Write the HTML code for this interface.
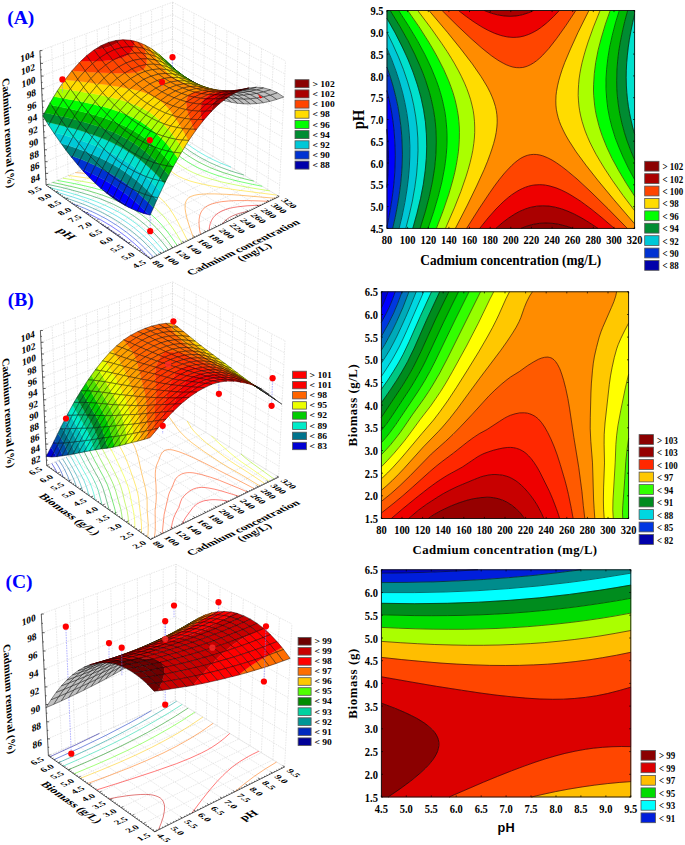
<!DOCTYPE html><html><head><meta charset="utf-8"><style>html,body{margin:0;padding:0;background:#fff}svg{display:block}text{font-family:"Liberation Serif",serif}.a0{fill:#0000aa;stroke:#0000aa;stroke-width:.3}.a1{fill:#0000ff;stroke:#0000ff;stroke-width:.3}.a2{fill:#0032d2;stroke:#0032d2;stroke-width:.3}.a3{fill:#008080;stroke:#008080;stroke-width:.3}.a4{fill:#00c8d7;stroke:#00c8d7;stroke-width:.3}.a5{fill:#00e1cd;stroke:#00e1cd;stroke-width:.3}.a6{fill:#008c32;stroke:#008c32;stroke-width:.3}.a7{fill:#00b900;stroke:#00b900;stroke-width:.3}.a8{fill:#00ff00;stroke:#00ff00;stroke-width:.3}.a9{fill:#aaff00;stroke:#aaff00;stroke-width:.3}.a10{fill:#ffdc00;stroke:#ffdc00;stroke-width:.3}.a11{fill:#ff8c00;stroke:#ff8c00;stroke-width:.3}.a12{fill:#ff4500;stroke:#ff4500;stroke-width:.3}.a13{fill:#ee0000;stroke:#ee0000;stroke-width:.3}.a14{fill:#aa0000;stroke:#aa0000;stroke-width:.3}.a15{fill:#8b0000;stroke:#8b0000;stroke-width:.3}.b0{fill:#0000d2;stroke:#0000d2;stroke-width:.3}.b1{fill:#0028be;stroke:#0028be;stroke-width:.3}.b2{fill:#0050a5;stroke:#0050a5;stroke-width:.3}.b3{fill:#00738c;stroke:#00738c;stroke-width:.3}.b4{fill:#009ba5;stroke:#009ba5;stroke-width:.3}.b5{fill:#00c3be;stroke:#00c3be;stroke-width:.3}.b6{fill:#00ebc8;stroke:#00ebc8;stroke-width:.3}.b7{fill:#00c378;stroke:#00c378;stroke-width:.3}.b8{fill:#008c28;stroke:#008c28;stroke-width:.3}.b9{fill:#00cd00;stroke:#00cd00;stroke-width:.3}.b10{fill:#50e100;stroke:#50e100;stroke-width:.3}.b11{fill:#a0f000;stroke:#a0f000;stroke-width:.3}.b12{fill:#ebff00;stroke:#ebff00;stroke-width:.3}.b13{fill:#ffd700;stroke:#ffd700;stroke-width:.3}.b14{fill:#ffa000;stroke:#ffa000;stroke-width:.3}.b15{fill:#ff6400;stroke:#ff6400;stroke-width:.3}.b16{fill:#ff3700;stroke:#ff3700;stroke-width:.3}.b17{fill:#ff1900;stroke:#ff1900;stroke-width:.3}.b18{fill:#fa0000;stroke:#fa0000;stroke-width:.3}.b19{fill:#ff0000;stroke:#ff0000;stroke-width:.3}.k0{fill:#000096;stroke:#000096;stroke-width:.3}.k1{fill:#0028be;stroke:#0028be;stroke-width:.3}.k2{fill:#009696;stroke:#009696;stroke-width:.3}.k3{fill:#00d2a0;stroke:#00d2a0;stroke-width:.3}.k4{fill:#008c00;stroke:#008c00;stroke-width:.3}.k5{fill:#50ff00;stroke:#50ff00;stroke-width:.3}.k6{fill:#ffc800;stroke:#ffc800;stroke-width:.3}.k7{fill:#ff6e00;stroke:#ff6e00;stroke-width:.3}.k8{fill:#ff0000;stroke:#ff0000;stroke-width:.3}.k9{fill:#c80000;stroke:#c80000;stroke-width:.3}.k10{fill:#6e0000;stroke:#6e0000;stroke-width:.3}.g{fill:#c0c0c0}.c{stroke:#000;stroke-width:.42}.o{fill:none;stroke:#000;stroke-width:.42}</style></head><body><svg width="685" height="845" viewBox="0 0 685 845"><rect width="685" height="845" fill="#fff"/><g shape-rendering="geometricPrecision">
<path d="M387 187.3l0.5-5.5l0.6-8.2l0.4-15.1l-0.1-8.2l-0.3-6.9l-1.1-14.1l0 58z" fill="#0000aa" stroke="#0000aa" stroke-width="0.6"/>
<path d="M387 225.7l0 0.9l0.8-3.7l2.6-13.7l1.5-9.6l1.3-9.6l1-9.6l0.6-8.2l0.3-8.2l0.2-8.2l-0.2-8.3l-0.4-8.2l-0.6-8.2l-0.9-8.2l-1.2-8.2l-1.4-8.3l-1.8-8.2l-1.8-7.6l0 38.7l1.1 14.1l0.3 6.9l0.1 8.2l-0.4 15.1l-1.1 14.3l0 37.8z" fill="#0000ff" stroke="#0000ff" stroke-width="0.6"/>
<path d="M387 228.4l5.7 0l3.1-13.7l2.9-16.4l2-15.1l1.3-15.1l0.3-8.2l0.1-6.9l-0.3-10.9l-0.7-11l-1.3-11l-1.5-9.6l-2.2-10.9l-2.6-11l-3.2-10.9l-3.6-10.6l0 23.5l1.8 7.6l1.8 8.2l1.4 8.3l1.2 8.2l0.9 8.2l0.6 8.2l0.4 8.2l0.2 8.3l-0.2 8.2l-0.3 8.2l-0.6 8.2l-0.8 8.3l-1.1 8.2l-1.2 8.2l-1.9 11l-2.2 10.5l0 1.8z" fill="#0032d2" stroke="#0032d2" stroke-width="0.6"/>
<path d="M392.7 228.4l6.4 0l2.7-11l2-9.6l1.6-8.2l1.3-8.2l1.2-8.2l0.9-8.2l0.6-8.3l0.4-8.2l0.1-8.2l-0.1-6.9l-0.6-10.9l-1.3-12.4l-1.7-10.9l-2.6-12.4l-3.3-12.3l-3.5-11l-4.5-12.3l-5.3-12.8l0 18.7l3.6 10.6l2.8 9.5l2.4 9.6l2.1 9.6l1.6 9.6l1.3 9.6l0.9 9.6l0.5 9.6l0.2 9.6l-0.2 9.6l-0.6 9.6l-1 10.9l-1.5 11l-1.8 11l-2.1 10.9l-2.5 11z" fill="#008080" stroke="#008080" stroke-width="0.6"/>
<path d="M399.1 228.4l6.7 0l3.8-15.1l3-13.7l1.8-9.6l1.2-8.2l1-8.2l0.8-8.2l0.4-8.3l0.2-8.2l-0.1-8.2l-0.3-6.9l-1.2-12.3l-1.9-12.3l-2.6-12.4l-3.4-12.3l-4.1-12.3l-5.3-13.7l-5.4-12.4l-6.7-13.6l0 15.9l4.8 11.4l4.1 11l3.6 11l3.1 10.9l2.5 11l2 11l1.5 10.9l0.9 11l0.4 10.9l-0.1 11l-0.6 11l-1 10.9l-1.5 11l-2.1 12.3l-2.5 12.4l-3 12.3z" fill="#00c8d7" stroke="#00c8d7" stroke-width="0.6"/>
<path d="M405.8 228.4l7 0l4.9-17.8l2.3-9.6l1.7-8.2l1.8-9.6l1.2-8.2l0.9-8.3l0.7-8.2l0.4-8.2l0-8.2l-0.3-8.3l-0.5-6.8l-0.7-6.9l-1-6.8l-2.4-12.4l-3.2-12.3l-2.1-6.8l-2.4-6.9l-2.6-6.8l-2.8-6.9l-6.2-13.7l-6.9-13.7l-8.6-15.4l0 14.1l6 12.3l5.5 12.3l4.9 12.3l4.2 12.4l3.6 12.3l2.5 11l1.9 10.9l1.5 12.4l0.7 10.9l0.2 12.4l-0.5 10.9l-1 12.4l-1.7 12.3l-2.4 13.7l-3.1 13.7l-3.5 13.7zM634.5 133.8l0.1-119.6l-2 8.6l-1.7 8.3l-1.5 8.2l-1 6.8l-1 8.3l-0.6 6.8l-0.4 8.2l-0.2 6.9l0.2 8.2l0.3 6.9l0.7 6.8l0.8 6.9l1.1 6.8l1.4 6.9l1.6 6.8l2.2 8.2z" fill="#00e1cd" stroke="#00e1cd" stroke-width="0.6"/>
<path d="M412.8 228.4l7.3 0l3.5-11l3.1-10.9l2.5-9.6l2.1-9.6l1.8-9.6l1.3-8.2l0.9-8.3l0.7-8.2l0.3-8.2l-0.1-8.2l-0.4-8.2l-0.8-8.3l-1-6.8l-1.2-6.9l-1.5-6.8l-1.8-6.9l-2.5-8.2l-2.4-6.8l-2.6-6.9l-3.4-8.2l-4.4-9.6l-5.6-11l-5.2-9.6l-7.3-12.3l-5.9-9.6l-3.2 0l0 7.9l8.6 15.4l7.6 15.1l3.2 6.8l3.5 8.2l2.7 6.9l2.5 6.9l3.5 10.9l2.9 11l2.2 10.9l1.7 11l1 12.3l0.3 12.4l-0.4 12.3l-1.1 12.3l-1.9 13.7l-2.7 13.8l-3.6 15l-4.2 15.1zM634.6 159.9l0-25.8l-2-7.1l-1.6-6.9l-1.4-6.8l-1.2-6.9l-0.9-6.8l-0.7-6.9l-0.4-6.8l-0.2-8.2l0.1-6.9l0.3-6.9l0.6-6.8l0.9-8.2l1.1-8.3l1.4-8.2l2-9.6l2-8.6l0-3.7l-6.9 0l-3 11l-2.2 9.6l-2.2 10.9l-1.6 9.6l-1.1 9.6l-0.7 9.6l-0.2 9.6l0.1 8.2l0.6 8.2l1 8.3l1.3 8.2l2.1 9.6l2.6 9.6l2.6 8.2l3.6 9.6l4 9.6z" fill="#008c32" stroke="#008c32" stroke-width="0.6"/>
<path d="M420.1 228.4l7.9 0l3.8-11l3.9-12.3l3.1-11l2.8-10.9l1.9-9.6l1.4-8.2l1.1-8.3l0.8-9.6l0.2-8.2l-0.1-8.2l-0.5-6.9l-0.9-8.2l-1.4-8.2l-1.5-6.9l-2.2-8.2l-2.6-8.2l-3.1-8.2l-3.4-8.2l-3.8-8.3l-4.2-8.2l-4.4-8.2l-6.4-11l-5.9-9.6l-8-12.3l-8.4 0l10 16.4l7.7 13.7l6.9 13.8l5.5 12.3l2.8 6.8l2.5 6.9l3.9 12.3l1.8 6.9l1.2 5.5l1.1 5.4l1.1 6.9l0.8 6.8l0.4 5.5l0.3 5.5l0.1 6.9l-0.4 12.3l-0.6 6.8l-0.7 6.9l-2.2 13.7l-3.2 15.1l-4 15.1l-5.1 16.4zM634.3 179.1l0.3 0.5l0-19.6l-3.5-8.3l-3.1-8.3l-2.3-6.8l-2.5-8.2l-1.7-6.9l-1.8-8.2l-1.3-8.2l-1-8.3l-0.6-9.6l-0.1-10.9l0.4-9.6l1.1-11l1.6-10.9l2.1-11l2.5-11l3.3-12.3l-8.4 0l-3.8 12.3l-3.2 12.4l-2.7 12.3l-1.8 11l-1.2 10.9l-0.6 9.6l0 9.6l0.6 9.6l1.1 9.6l1.8 9.6l2.4 9.6l3 9.6l3.5 9.6l4.7 10.9l5.3 11l5.9 11z" fill="#00b900" stroke="#00b900" stroke-width="0.6"/>
<path d="M428 228.4l8.4 0l4.8-12.3l4.4-12.4l3.6-10.9l3.2-11l2.4-9.6l1.7-8.2l1.3-8.2l1-8.3l0.5-8.2l0.1-8.2l-0.3-6.9l-0.8-8.2l-1.4-8.2l-1.9-8.2l-2-6.9l-2.9-8.2l-3.3-8.2l-3.1-6.9l-4.1-8.2l-5.2-9.6l-5.7-9.6l-6-9.6l-7.3-10.9l-7.7-11l-9.1 0l9.8 15.1l9 15l7.4 13.8l3.3 6.8l3.2 6.9l5 12.3l2.4 6.8l1.7 5.5l1.9 6.9l1.2 5.5l1.4 6.8l0.8 5.5l0.7 6.8l0.4 5.5l0.2 5.5l0 6.9l-0.2 5.4l-0.5 6.9l-0.8 6.8l-1 6.9l-2.6 13.7l-3.8 15.1l-4.5 15.1l-5.6 16.4zM634.2 195.5l0.4 0.7l0-16.6l-5.5-10.1l-4.7-9.6l-4.3-9.6l-3.8-9.6l-3.2-9.6l-2.6-9.6l-1.8-8.2l-1.5-9.6l-0.9-9.6l-0.4-11l0.5-10.9l1-11l2-12.3l2.6-12.4l3.2-12.3l4.1-13.7l-9.1 0l-4.8 13.7l-4.1 13.7l-3.2 12.3l-2.4 12.4l-1.4 10.9l-0.7 11l-0.1 5.5l0.2 5.5l0.9 9.6l0.8 5.4l1.1 5.5l2.4 9.6l1.7 5.5l1.9 5.5l4.4 10.9l5.2 11l5.9 11l8.2 13.7l8 12.3z" fill="#00ff00" stroke="#00ff00" stroke-width="0.6"/>
<path d="M436.4 228.4l9.1 0l6-13.7l5.1-12.3l4.8-12.4l3.9-10.9l2.9-9.6l2.2-8.3l1.8-8.2l1.4-8.2l0.9-8.2l0.3-6.9l-0.3-8.2l-0.7-6.8l-1.5-8.3l-1.7-6.8l-2.2-6.9l-2.7-6.8l-3.7-8.2l-4.2-8.3l-4.7-8.2l-5-8.2l-6.4-9.6l-7.6-11l-7-9.6l-9.4-12.3l-10 0l11.4 16.4l9.6 15.1l4.1 6.9l4.6 8.2l6.3 12.3l4.8 11l2.6 6.8l1.9 5.5l2 6.9l1.3 5.5l1.1 5.4l0.9 5.5l0.6 5.5l0.4 5.5l0.1 5.5l-0.1 6.8l-0.3 5.5l-0.6 6.9l-1 6.8l-1.2 6.9l-1.4 6.8l-1.7 6.9l-1.9 6.8l-2.4 8.2l-5.6 16.5l-6.8 17.8zM634.5 210.6l0.1 0.1l0-14.5l-8.4-13l-6.6-11l-6.1-11l-5.3-10.9l-4.2-9.6l-3.9-11l-2.7-9.6l-2-9.6l-0.8-5.4l-0.6-5.5l-0.3-5.5l-0.2-5.5l0.1-5.5l0.3-5.4l0.7-6.9l0.7-5.5l2.2-12.3l3.4-13.7l4.1-13.7l5.2-15.1l-10.1 0l-6.6 16.4l-5.4 15.1l-2.2 6.9l-2 6.8l-1.8 6.9l-1.2 5.5l-1 5.4l-0.8 5.5l-0.5 5.5l-0.3 5.5l-0.1 5.5l0.3 5.4l0.5 5.5l0.6 4.1l1.1 5.5l1.4 5.5l1.7 5.5l1.4 4.1l2.2 5.5l2.4 5.5l3.4 6.8l2.9 5.5l4 6.8l4.2 6.9l8.1 12.3l10.7 15.1l11.4 15.1z" fill="#aaff00" stroke="#aaff00" stroke-width="0.6"/>
<path d="M445.5 228.4l9.9 0l14.7-28.8l6.6-13.7l5.1-10.9l4.6-11l3.7-9.6l2.4-6.9l2.3-8.2l1.4-6.8l0.8-6.9l0.2-6.8l-0.5-5.5l-1.3-6.9l-1.7-5.5l-2.8-6.8l-2.7-5.5l-3.9-6.8l-5.2-8.3l-5.8-8.2l-7.2-9.6l-8.6-10.9l-7.8-9.6l-20.7-24.7l-11.3 0l13.4 17.8l10.6 15.1l5.5 8.2l4.3 6.9l3.2 5.4l3.8 6.9l2.8 5.5l3.2 6.8l2.3 5.5l2 5.5l1.8 5.5l1.4 5.5l1.2 5.4l0.8 5.5l0.5 5.5l0.2 5.5l0 5.5l-0.3 5.5l-0.6 5.4l-1 6.9l-1.1 5.5l-1.6 6.8l-1.9 6.9l-2.1 6.8l-5.2 15.1l-6.5 16.4l-8.9 20.6zM633.8 222.9l0.8 1l0-13.2l-11.5-15.2l-10.7-15.1l-8.1-12.3l-7.4-12.3l-5.1-9.6l-2.6-5.5l-2.4-5.5l-2.1-5.5l-1.8-5.5l-1.5-5.4l-1-4.1l-1-5.5l-0.7-5.5l-0.4-5.5l-0.1-5.5l0.2-5.5l0.4-5.4l0.7-5.5l1.2-6.9l1.4-6.8l1.4-5.5l1.9-6.9l2.2-6.8l5.4-15.1l7.1-17.8l-11.2 0l-10.9 21.9l-7.5 16.5l-5.8 13.7l-2.5 6.8l-1.8 5.5l-1.6 5.5l-1.3 5.5l-1 5.5l-0.5 4.1l-0.2 5.4l0.1 4.2l0.4 4.1l0.8 4.1l1 4.1l1.3 4.1l1.6 4.1l2.6 5.5l2.1 4.1l3.2 5.5l7.1 11l10.1 13.7l11.8 15l15.9 19.2l20 23.3z" fill="#ffdc00" stroke="#ffdc00" stroke-width="0.6"/>
<path d="M455.4 228.4l11.2 0l12.3-19.4l10.9-16.3l4.6-6.6l4.7-6.3l4.7-5.8l3.1-3.5l4.7-4.9l3.1-2.8l3.1-2.5l3.1-2.1l3.1-1.6l3.2-1.2l3.1-0.7l3.1-0.3l3.1 0.1l3.1 0.5l3.1 0.8l3.1 1.2l3.2 1.4l4.6 2.6l3.1 2l4.7 3.3l6.2 4.8l6.3 5.2l6.2 5.5l7.8 7.2l17.1 16.7l22.3 22.7l7.3 0l0-4.5l-20.8-24.3l-17-20.5l-12.8-16.5l-5.1-6.8l-4.7-6.9l-6.1-9.6l-3.1-5.5l-2.1-4.1l-1.9-4.1l-1.6-4.1l-1.3-4.1l-1-4.1l-0.8-4.1l-0.4-4.1l-0.1-4.2l0.2-5.4l0.5-4.1l1-5.5l1.3-5.5l1.6-5.5l1.8-5.5l2.5-6.8l5.8-13.7l7.5-16.5l10.9-21.9l-13.1 0l-9.7 14.7l-9.4 13.2l-7.7 9.9l-6.3 6.9l-3.1 3l-3.1 2.6l-3.1 2.2l-3.1 1.8l-3.1 1.4l-3.2 1l-1.5 0.3l-3.1 0.2l-3.1-0.1l-3.2-0.5l-3.1-0.9l-3.1-1.2l-3.1-1.5l-4.7-2.6l-3.1-2l-4.7-3.3l-9.3-7.4l-10.9-9.6l-14-13.2l-15-14.9l-13.1 0l18.5 21.9l13.3 16.5l11.5 15l8.6 12.4l3.4 5.5l3.2 5.4l2.8 5.5l1.8 4.1l1.6 4.1l1.7 5.5l0.9 4.1l0.6 4.2l0.3 4.1l0 4.1l-0.3 4.1l-0.7 5.5l-1.1 5.5l-1.4 5.4l-1.7 5.5l-1.9 5.5l-2.5 6.8l-3.4 8.3l-7.5 16.4l-9.3 19.2l-12 23.3z" fill="#ff8c00" stroke="#ff8c00" stroke-width="0.6"/>
<path d="M466.6 228.4l13.1 0l8.5-10.6l7.8-8.8l4.7-4.7l3.1-3l4.7-4l3.1-2.4l4.7-3.1l3.1-1.8l3.1-1.5l3.1-1.3l3.1-1l3.1-0.8l3.1-0.4l4.7-0.3l3.1 0.1l3.1 0.4l3.2 0.6l4.6 1.3l3.1 1l4.7 2l4.7 2.3l4.7 2.6l9.3 5.9l10.9 8l10.9 8.8l12.4 10.7l13 0l-19.2-19.6l-17.1-16.8l-14-13l-10.9-9.1l-4.7-3.6l-4.7-3.3l-4.6-2.9l-4.7-2.4l-4.7-1.9l-3.1-0.8l-3.1-0.5l-3.1-0.1l-3.1 0.3l-3.1 0.7l-3.2 1.2l-3.1 1.6l-3.1 2.1l-3.1 2.5l-3.1 2.8l-4.7 4.9l-3.1 3.5l-4.7 5.8l-4.7 6.3l-4.6 6.6l-10.9 16.3l-12.3 19.4zM511.7 66.7l4.6 0.9l3.1 0.1l3.1-0.2l3.1-0.8l3.1-1.1l3.1-1.6l3.1-2l4.7-3.8l3.1-3l4.7-5.1l3.1-3.6l4.7-6l9.3-13l11.3-17l-16.5 0l-5.7 6l-6.2 5.8l-6.2 5l-3.1 2.2l-3.2 1.9l-3.1 1.6l-3.1 1.4l-4.7 1.6l-4.6 1l-3.1 0.3l-3.2 0.1l-3.1-0.2l-3.1-0.4l-3.1-0.6l-3.1-0.8l-6.3-2.2l-6.2-2.8l-6.2-3.4l-7.8-4.9l-7.8-5.5l-7.9-6.1l-16.4 0l13.4 13.4l10.9 10.4l9.4 8.5l9.3 8l7.8 6l6.2 4.1l6.2 3.4l3.2 1.3l3.2 1.1z" fill="#ff4500" stroke="#ff4500" stroke-width="0.6"/>
<path d="M479.7 228.4l16.3 0l6.2-5.5l6.3-4.8l6.2-4l4.7-2.6l6.2-2.6l4.7-1.5l6.2-1.2l6.2-0.4l6.3 0.3l6.2 1.1l6.2 1.6l6.2 2.3l6.3 2.8l7.8 4.1l7.7 4.7l8.6 5.7l16.3 0l-12.4-10.7l-10.9-8.8l-10.9-8l-9.3-5.9l-4.7-2.6l-4.7-2.3l-4.7-2l-3.1-1l-4.6-1.3l-3.2-0.6l-3.1-0.4l-3.1-0.1l-4.7 0.3l-3.1 0.4l-3.1 0.8l-3.1 1l-3.1 1.3l-3.1 1.5l-3.1 1.8l-4.7 3.1l-3.1 2.4l-4.7 4l-3.1 3l-4.7 4.7l-7.8 8.8l-8.5 10.6zM505.3 36.5l3.2 0.6l4.6 0.3l3.2-0.1l3.1-0.3l3.1-0.6l3.1-0.9l3.1-1.1l3.1-1.4l3.1-1.6l3.2-1.9l6.2-4.5l3.1-2.7l4.7-4.3l7.2-7.5l-25.6 0l-5 2.2l-6.2 2l-3.1 0.7l-3.1 0.5l-6.3 0.4l-6.2-0.4l-6.2-1l-6.3-1.7l-7.1-2.7l-25.7 0l7.9 6.1l6.2 4.4l6.3 4.1l6.2 3.7l6.2 3.1l4.7 2l4.7 1.5l4.6 1.1z" fill="#ee0000" stroke="#ee0000" stroke-width="0.6"/>
<path d="M496 228.4l25 0l6.2-2.4l6.2-1.7l6.2-1l6.2-0.3l6.3 0.3l6.2 0.9l7.8 1.9l6.9 2.3l25 0l-8.6-5.7l-7.7-4.7l-7.8-4.1l-6.3-2.8l-6.2-2.3l-6.2-1.6l-6.2-1.1l-6.3-0.3l-6.2 0.4l-6.2 1.2l-4.7 1.5l-6.2 2.6l-4.7 2.6l-6.2 4l-6.3 4.8l-6.2 5.5zM504.2 16l4.3 0.3l3.1 0l4.7-0.4l3.1-0.5l4.6-1.1l3.2-1l3.1-1.2l3.4-1.6l-49.5 0l5.6 2.2l4.6 1.4l4.7 1.1l5.1 0.8z" fill="#aa0000" stroke="#aa0000" stroke-width="0.6"/>
<path d="M521 228.4l52 0l-6.9-2.3l-7.8-1.9l-6.2-0.9l-6.3-0.3l-6.2 0.3l-6.2 1l-6.2 1.7l-6.2 2.4z" fill="#8b0000" stroke="#8b0000" stroke-width="0.6"/>
<path d="M387 129.3l1.1 14.1l0.3 6.9l0.1 8.2l-0.4 15.1l-1.1 14.3M387 90.6l1.8 7.6l1.8 8.2l1.4 8.3l1.2 8.2l0.9 8.2l0.6 8.2l0.4 8.2l0.2 8.3l-0.2 8.2l-0.3 8.2l-0.6 8.2l-1 9.6l-1.1 8.3l-1.5 9.5l-1.7 9.6l-1.9 9.2M387 67.1l3.6 10.6l2.8 9.5l2.4 9.6l2.1 9.6l1.6 9.6l1.3 9.6l0.9 9.6l0.5 9.6l0.2 9.6l-0.2 9.6l-0.6 9.6l-1 10.9l-1.5 11l-1.8 11l-2.1 10.9l-2.5 11M387 48.4l4.8 11.4l4.1 11l3.6 11l3.1 10.9l2.2 9.6l2.1 11l1.5 10.9l1 11l0.5 11l-0.1 10.9l-0.5 11l-1 11l-1.4 10.9l-2 12.4l-2.8 13.7l-3 12.3M387 32.5l6 12.3l5.5 12.3l4.9 12.3l4.2 12.4l3.6 12.3l2.5 11l1.9 10.9l1.4 11l0.8 11l0.2 12.3l-0.5 12.3l-1 12.4l-1.7 12.3l-2.4 13.7l-3.1 13.7l-3.5 13.7M634.6 134.1l-2-7.1l-1.6-6.9l-1.4-6.8l-1.2-6.9l-0.9-6.8l-0.7-6.9l-0.4-6.8l-0.2-8.2l0.1-6.9l0.4-8.2l0.6-6.9l0.9-8.2l1.2-8.2l1.5-8.2l1.7-8.3l2-8.6M387 18.4l7.9 14l7 13.7l6.3 13.7l4.9 12.4l4.2 12.3l3.5 12.3l2.7 12.4l1.9 12.3l1 12.3l0.3 12.4l-0.4 12.3l-1.1 12.3l-1.9 13.7l-2.7 13.8l-3.6 15l-4.2 15.1M634.6 160l-4-9.7l-3.6-9.6l-2.6-8.2l-2.6-9.6l-2.1-9.6l-1.3-8.2l-1-8.3l-0.6-8.2l-0.1-8.2l0.2-9.6l0.7-9.6l1.1-9.6l1.6-9.6l2.2-10.9l2.2-9.6l3-11M390.2 10.5l10 16.4l7.7 13.7l6.9 13.8l5.5 12.3l2.8 6.8l2.5 6.9l3.9 12.3l1.8 6.9l1.2 5.5l1.1 5.4l1.1 6.9l0.8 6.8l0.4 5.5l0.3 5.5l0.1 6.9l-0.4 12.3l-0.6 6.8l-0.7 6.9l-2.2 13.7l-3.2 15.1l-4 15.1l-5.1 16.4M634.6 179.6l-6.2-11.5l-5.3-11l-4.1-9.6l-3.7-9.5l-3.4-11l-2.4-9.6l-1.8-9.6l-1.1-9.6l-0.6-9.6l0-9.6l0.6-9.6l1.2-10.9l1.8-11l2.7-12.3l3.2-12.4l3.8-12.3M398.6 10.5l9.8 15.1l9 15l7.4 13.8l3.3 6.8l3.2 6.9l5 12.3l2.4 6.8l1.7 5.5l1.9 6.9l1.2 5.5l1.4 6.8l0.8 5.5l0.7 6.8l0.4 5.5l0.2 5.5l0 6.9l-0.2 5.4l-0.5 6.9l-0.8 6.8l-1 6.9l-2.6 13.7l-3.8 15.1l-4.5 15.1l-5.6 16.4M634.6 196.2l-8.4-13l-7.4-12.4l-6.7-12.3l-5.2-11l-4.4-10.9l-1.9-5.5l-1.7-5.5l-2.4-9.6l-1.1-5.5l-0.8-5.4l-0.9-9.6l-0.2-5.5l0.1-5.5l0.7-11l1.4-10.9l2.4-12.4l3.2-12.3l4.1-13.7l4.8-13.7M407.7 10.5l11.4 16.4l9.6 15.1l4.1 6.9l4.6 8.2l6.3 12.3l4.8 11l2.6 6.8l1.9 5.5l2 6.9l1.3 5.5l1.1 5.4l0.9 5.5l0.6 5.5l0.4 5.5l0.1 5.5l-0.1 6.8l-0.3 5.5l-0.6 6.9l-1 6.8l-1.2 6.9l-1.4 6.8l-1.7 6.9l-1.9 6.8l-2.4 8.2l-5.6 16.5l-6.8 17.8M634.6 210.7l-11.5-15.2l-10.7-15.1l-8.1-12.3l-4.2-6.9l-4-6.8l-2.9-5.5l-3.4-6.8l-2.4-5.5l-2.2-5.5l-1.4-4.1l-1.7-5.5l-1.4-5.5l-1.1-5.5l-0.6-4.1l-0.5-5.5l-0.3-5.4l0.1-5.5l0.3-5.5l0.5-5.5l0.8-5.5l1-5.4l1.2-5.5l1.8-6.9l2-6.8l2.2-6.9l5.4-15.1l6.6-16.4M417.7 10.5l13.4 17.8l10.6 15.1l5.5 8.2l4.3 6.9l3.2 5.4l3.8 6.9l2.8 5.5l3.2 6.8l2.3 5.5l2 5.5l1.8 5.5l1.4 5.5l1.2 5.4l0.8 5.5l0.5 5.5l0.2 5.5l0 5.5l-0.3 5.5l-0.6 5.4l-1 6.9l-1.1 5.5l-1.6 6.8l-1.9 6.9l-2.1 6.8l-5.2 15.1l-6.5 16.4l-8.9 20.6M634.6 223.9l-20.8-24.3l-15.9-19.2l-11.8-15l-10.1-13.7l-7.1-11l-3.2-5.5l-2.1-4.1l-2.6-5.5l-1.6-4.1l-1.3-4.1l-1-4.1l-0.8-4.1l-0.4-4.1l-0.1-4.2l0.2-5.4l0.5-4.1l1-5.5l1.3-5.5l1.6-5.5l1.8-5.5l2.5-6.8l5.8-13.7l7.5-16.5l10.9-21.9M429 10.5l18.5 21.9l13.3 16.5l11.5 15l8.6 12.4l3.4 5.5l3.2 5.4l2.8 5.5l1.8 4.1l1.6 4.1l1.7 5.5l0.9 4.1l0.6 4.2l0.3 4.1l0 4.1l-0.3 4.1l-0.7 5.5l-1.1 5.5l-1.4 5.4l-1.7 5.5l-1.9 5.5l-2.5 6.8l-3.4 8.3l-7.5 16.4l-9.3 19.2l-12 23.3M627.3 228.4l-19.2-19.6l-17.1-16.8l-14-13l-10.9-9.1l-4.7-3.6l-4.7-3.3l-4.6-2.9l-4.7-2.4l-4.7-1.9l-3.1-0.8l-3.1-0.5l-3.1-0.1l-3.1 0.3l-3.1 0.7l-3.2 1.2l-3.1 1.6l-3.1 2.1l-3.1 2.5l-3.1 2.8l-4.7 4.9l-3.1 3.5l-4.7 5.8l-4.7 6.3l-4.6 6.6l-10.9 16.3l-12.3 19.4M442.1 10.5l15 14.9l14 13.2l10.9 9.6l9.3 7.4l4.7 3.3l3.1 2l4.7 2.6l3.1 1.5l3.1 1.2l3.1 0.9l3.2 0.5l3.1 0.1l3.1-0.2l1.5-0.3l3.2-1l3.1-1.4l3.1-1.8l3.1-2.2l3.1-2.6l3.1-3l6.3-6.9l7.7-9.9l9.4-13.2l9.7-14.7M614.3 228.4l-12.4-10.7l-10.9-8.8l-10.9-8l-9.3-5.9l-4.7-2.6l-4.7-2.3l-4.7-2l-3.1-1l-4.6-1.3l-3.2-0.6l-3.1-0.4l-3.1-0.1l-4.7 0.3l-3.1 0.4l-3.1 0.8l-3.1 1l-3.1 1.3l-3.1 1.5l-3.1 1.8l-4.7 3.1l-3.1 2.4l-4.7 4l-3.1 3l-4.7 4.7l-7.8 8.8l-8.5 10.6M458.5 10.5l7.9 6.1l7.8 5.5l7.8 4.9l6.2 3.4l6.2 2.8l6.3 2.2l3.1 0.8l3.1 0.6l3.1 0.4l3.1 0.2l3.2-0.1l3.1-0.3l4.6-1l4.7-1.6l3.1-1.4l3.1-1.6l3.2-1.9l3.1-2.2l6.2-5l6.2-5.8l5.7-6M598 228.4l-8.6-5.7l-7.7-4.7l-7.8-4.1l-6.3-2.8l-6.2-2.3l-6.2-1.6l-6.2-1.1l-6.3-0.3l-6.2 0.4l-6.2 1.2l-4.7 1.5l-6.2 2.6l-4.7 2.6l-6.2 4l-6.3 4.8l-6.2 5.5M484.2 10.5l7.1 2.7l6.3 1.7l6.2 1l6.2 0.4l6.3-0.4l3.1-0.5l3.1-0.7l6.2-2l5-2.2M573 228.4l-6.9-2.3l-7.8-1.9l-6.2-0.9l-6.3-0.3l-6.2 0.3l-6.2 1l-6.2 1.7l-6.2 2.4" fill="none" stroke="#000" stroke-width="0.55"/>
</g>
<rect x="387" y="10.5" width="247.6" height="217.9" fill="none" stroke="#111" stroke-width="0.9"/>
<text transform="translate(387 244.2) scale(0.82 1)" font-size="12.8" text-anchor="middle" fill="#000" font-weight="bold" >80</text>
<text transform="translate(407.6 244.2) scale(0.82 1)" font-size="12.8" text-anchor="middle" fill="#000" font-weight="bold" >100</text>
<text transform="translate(428.3 244.2) scale(0.82 1)" font-size="12.8" text-anchor="middle" fill="#000" font-weight="bold" >120</text>
<text transform="translate(448.9 244.2) scale(0.82 1)" font-size="12.8" text-anchor="middle" fill="#000" font-weight="bold" >140</text>
<text transform="translate(469.5 244.2) scale(0.82 1)" font-size="12.8" text-anchor="middle" fill="#000" font-weight="bold" >160</text>
<text transform="translate(490.2 244.2) scale(0.82 1)" font-size="12.8" text-anchor="middle" fill="#000" font-weight="bold" >180</text>
<text transform="translate(510.8 244.2) scale(0.82 1)" font-size="12.8" text-anchor="middle" fill="#000" font-weight="bold" >200</text>
<text transform="translate(531.4 244.2) scale(0.82 1)" font-size="12.8" text-anchor="middle" fill="#000" font-weight="bold" >220</text>
<text transform="translate(552.1 244.2) scale(0.82 1)" font-size="12.8" text-anchor="middle" fill="#000" font-weight="bold" >240</text>
<text transform="translate(572.7 244.2) scale(0.82 1)" font-size="12.8" text-anchor="middle" fill="#000" font-weight="bold" >260</text>
<text transform="translate(593.3 244.2) scale(0.82 1)" font-size="12.8" text-anchor="middle" fill="#000" font-weight="bold" >280</text>
<text transform="translate(614 244.2) scale(0.82 1)" font-size="12.8" text-anchor="middle" fill="#000" font-weight="bold" >300</text>
<text transform="translate(634.6 244.2) scale(0.82 1)" font-size="12.8" text-anchor="middle" fill="#000" font-weight="bold" >320</text>
<text transform="translate(383.5 233) scale(0.82 1)" font-size="12.8" text-anchor="end" fill="#000" font-weight="bold" >4.5</text>
<text transform="translate(383.5 211.2) scale(0.82 1)" font-size="12.8" text-anchor="end" fill="#000" font-weight="bold" >5.0</text>
<text transform="translate(383.5 189.4) scale(0.82 1)" font-size="12.8" text-anchor="end" fill="#000" font-weight="bold" >5.5</text>
<text transform="translate(383.5 167.6) scale(0.82 1)" font-size="12.8" text-anchor="end" fill="#000" font-weight="bold" >6.0</text>
<text transform="translate(383.5 145.8) scale(0.82 1)" font-size="12.8" text-anchor="end" fill="#000" font-weight="bold" >6.5</text>
<text transform="translate(383.5 124) scale(0.82 1)" font-size="12.8" text-anchor="end" fill="#000" font-weight="bold" >7.0</text>
<text transform="translate(383.5 102.3) scale(0.82 1)" font-size="12.8" text-anchor="end" fill="#000" font-weight="bold" >7.5</text>
<text transform="translate(383.5 80.5) scale(0.82 1)" font-size="12.8" text-anchor="end" fill="#000" font-weight="bold" >8.0</text>
<text transform="translate(383.5 58.7) scale(0.82 1)" font-size="12.8" text-anchor="end" fill="#000" font-weight="bold" >8.5</text>
<text transform="translate(383.5 36.9) scale(0.82 1)" font-size="12.8" text-anchor="end" fill="#000" font-weight="bold" >9.0</text>
<text transform="translate(383.5 15.1) scale(0.82 1)" font-size="12.8" text-anchor="end" fill="#000" font-weight="bold" >9.5</text>
<path d="M387 228.4v-1.6M387 10.5v1.6M407.6 228.4v-1.6M407.6 10.5v1.6M428.3 228.4v-1.6M428.3 10.5v1.6M448.9 228.4v-1.6M448.9 10.5v1.6M469.5 228.4v-1.6M469.5 10.5v1.6M490.2 228.4v-1.6M490.2 10.5v1.6M510.8 228.4v-1.6M510.8 10.5v1.6M531.4 228.4v-1.6M531.4 10.5v1.6M552.1 228.4v-1.6M552.1 10.5v1.6M572.7 228.4v-1.6M572.7 10.5v1.6M593.3 228.4v-1.6M593.3 10.5v1.6M614 228.4v-1.6M614 10.5v1.6M634.6 228.4v-1.6M634.6 10.5v1.6M387 228.4h1.6M634.6 228.4h-1.6M387 206.6h1.6M634.6 206.6h-1.6M387 184.8h1.6M634.6 184.8h-1.6M387 163h1.6M634.6 163h-1.6M387 141.2h1.6M634.6 141.2h-1.6M387 119.5h1.6M634.6 119.5h-1.6M387 97.7h1.6M634.6 97.7h-1.6M387 75.9h1.6M634.6 75.9h-1.6M387 54.1h1.6M634.6 54.1h-1.6M387 32.3h1.6M634.6 32.3h-1.6M387 10.5h1.6M634.6 10.5h-1.6" stroke="#000" stroke-width="0.7" fill="none"/>
<text transform="translate(510.8 265) scale(0.93 1)" font-size="14.3" text-anchor="middle" fill="#000" font-weight="bold" >Cadmium concentration (mg/L)</text>
<text transform="translate(363.8 119.5) rotate(-90) scale(0.93 1)" font-size="15.8" text-anchor="middle" font-weight="bold">pH</text>
<rect x="644.7" y="161.3" width="14.3" height="9.8" fill="#8b0000" stroke="#555" stroke-width="0.8"/>
<text transform="translate(662.5 170.2) scale(0.94 1)" font-size="9.5" text-anchor="start" fill="#000" font-weight="bold" >&gt; 102</text>
<rect x="644.7" y="173.7" width="14.3" height="9.8" fill="#aa0000" stroke="#555" stroke-width="0.8"/>
<text transform="translate(662.5 182.6) scale(0.94 1)" font-size="9.5" text-anchor="start" fill="#000" font-weight="bold" >&lt; 102</text>
<rect x="644.7" y="186.1" width="14.3" height="9.8" fill="#ff4500" stroke="#555" stroke-width="0.8"/>
<text transform="translate(662.5 195) scale(0.94 1)" font-size="9.5" text-anchor="start" fill="#000" font-weight="bold" >&lt; 100</text>
<rect x="644.7" y="198.5" width="14.3" height="9.8" fill="#ffdc00" stroke="#555" stroke-width="0.8"/>
<text transform="translate(662.5 207.4) scale(0.94 1)" font-size="9.5" text-anchor="start" fill="#000" font-weight="bold" >&lt; 98</text>
<rect x="644.7" y="210.9" width="14.3" height="9.8" fill="#00ff00" stroke="#555" stroke-width="0.8"/>
<text transform="translate(662.5 219.8) scale(0.94 1)" font-size="9.5" text-anchor="start" fill="#000" font-weight="bold" >&lt; 96</text>
<rect x="644.7" y="223.3" width="14.3" height="9.8" fill="#008c32" stroke="#555" stroke-width="0.8"/>
<text transform="translate(662.5 232.2) scale(0.94 1)" font-size="9.5" text-anchor="start" fill="#000" font-weight="bold" >&lt; 94</text>
<rect x="644.7" y="235.7" width="14.3" height="9.8" fill="#00c8d7" stroke="#555" stroke-width="0.8"/>
<text transform="translate(662.5 244.6) scale(0.94 1)" font-size="9.5" text-anchor="start" fill="#000" font-weight="bold" >&lt; 92</text>
<rect x="644.7" y="248.1" width="14.3" height="9.8" fill="#0032d2" stroke="#555" stroke-width="0.8"/>
<text transform="translate(662.5 257) scale(0.94 1)" font-size="9.5" text-anchor="start" fill="#000" font-weight="bold" >&lt; 90</text>
<rect x="644.7" y="260.5" width="14.3" height="9.8" fill="#0000aa" stroke="#555" stroke-width="0.8"/>
<text transform="translate(662.5 269.4) scale(0.94 1)" font-size="9.5" text-anchor="start" fill="#000" font-weight="bold" >&lt; 88</text>
<path d="M46.1 185.1l126-53.8M172.1 131.3l107 65.2M45.6 173.4l126.5-53.3M172.1 120.1l107.6 64.7M45.1 161.7l127.1-52.9M172.2 108.8l108 64.1M44.5 149.8l127.7-52.4M172.2 97.4l108.6 63.6M43.9 137.8l128.4-52M172.3 85.8l109.1 63.1M43.4 125.7l128.9-51.5M172.3 74.2l109.7 62.5M42.8 113.5l129.6-51M172.4 62.5l110.1 61.9M42.2 101.1l130.2-50.5M172.4 50.6l110.7 61.3M41.7 88.7l130.8-50M172.5 38.7l111.2 60.7M41.1 76.1l131.4-49.5M172.5 26.6l111.8 60.1M40.5 63.4l132.1-48.9M172.6 14.5l112.3 59.4M39.9 50.6l132.7-48.4M172.6 2.2l112.9 58.7M46.1 185.1l-6.2-134.5M150.3 258.8l-104.2-73.7M57.2 180.4l-5.6-134.1M161.7 253.3l-104.5-72.9M68.2 175.7l-5-133.6M172.9 247.8l-104.7-72.1M79 171.1l-4.4-133.2M184.1 242.5l-105.1-71.4M89.8 166.5l-3.8-132.7M195.1 237.1l-105.3-70.6M100.4 161.9l-3.2-132.2M206 231.9l-105.6-70M111 157.4l-2.7-131.8M216.8 226.7l-105.8-69.3M121.4 153l-2.1-131.4M227.4 221.5l-106-68.5M131.7 148.6l-1.5-131M238 216.4l-106.3-67.8M142 144.2l-1.1-130.5M248.4 211.4l-106.4-67.2M152.1 139.9l-0.5-130.1M258.8 206.4l-106.7-66.5M162.2 135.6l0-129.6M269 201.4l-106.8-65.8M172.1 131.3l0.5-129.1M279.1 196.5l-107-65.2M279.1 196.5l6.4-135.6M150.3 258.8l128.8-62.3M267.7 189.6l5.8-135M139.2 250.9l128.5-61.3M256.5 182.7l5.1-134.3M128.2 243.1l128.3-60.4M245.4 176l4.5-133.6M117.4 235.5l128-59.5M234.5 169.3l3.8-132.9M106.7 228l127.8-58.7M223.7 162.8l3.3-132.4M96.3 220.5l127.4-57.7M213.1 156.3l2.7-131.7M85.9 213.2l127.2-56.9M202.6 149.9l2.1-131M75.8 206.1l126.8-56.2M192.3 143.7l1.6-130.5M65.7 199l126.6-55.3M182.1 137.5l1.1-129.8M55.9 192l126.2-54.5M172.1 131.3l0.5-129.1M46.1 185.1l126-53.8" fill="none" stroke="#d9d9d9" stroke-width="0.6" stroke-dasharray="1.6 1"/>
<path d="M101 223.9l7.1 4.4l8.3 5.6l6.6 4.9l6.7 5.4" fill="none" stroke="#0000aa" stroke-width="0.7" stroke-opacity="0.75"/>
<path d="M82.6 210.9l9.8 4.6l9.3 4.9l8.8 5.2l8.3 5.6l7.9 5.9l7.4 6.2l7.1 6.5l8.2 8.3" fill="none" stroke="#0000ff" stroke-width="0.7" stroke-opacity="0.75"/>
<path d="M71.7 203.2l13.1 5.2l11.6 5.3l10.8 5.7l10 6.2l9.4 6.7l8.8 7.1l4.7 4.3l4.6 4.4l8.8 9.1" fill="none" stroke="#0032d2" stroke-width="0.7" stroke-opacity="0.75"/>
<path d="M63.2 197.1l8 2.7l7.3 2.6l7.1 2.7l6.8 2.9l6.6 3l6.3 3.2l6.1 3.3l5.8 3.5l5.5 3.7l5.4 3.8l5.1 3.9l4.9 4.1l4.7 4.3l4.5 4.4l5.5 5.7l4.2 4.6" fill="none" stroke="#008080" stroke-width="0.7" stroke-opacity="0.75"/>
<path d="M56 192l8 2.3l9.6 3l9.2 3.1l7.2 2.7l6.9 2.9l8.2 3.8l6.2 3.2l6 3.3l5.7 3.6l5.5 3.7l5.2 3.8l6.1 5.1l5.9 5.3l4.5 4.4l5.3 5.7l5.2 5.9" fill="none" stroke="#00c8d7" stroke-width="0.7" stroke-opacity="0.75"/>
<path d="M231 167.2l-9.9-3.9l-7.9-3.6l-7.4-3.8l-6.8-3.9l-6.3-4.1l-7-5.1l-6.4-5.3l-5.5-5.1M49.6 187.6l10.7 2.6l10 2.8l9.7 2.9l9.3 3.1l7.2 2.7l8.5 3.6l6.5 3.1l7.7 4l5.8 3.5l6.8 4.6l5.2 3.8l6.1 5.1l5.8 5.3l5.4 5.5l5.2 5.8l5 5.9" fill="none" stroke="#00e1cd" stroke-width="0.7" stroke-opacity="0.75"/>
<path d="M243.8 175l-11.8-3.6l-10.7-3.9l-5-2.1l-6.4-2.8l-8.8-4.6l-8-4.8l-3.7-2.5l-4.7-3.4l-7.4-6.3l-4-3.6l-4.5-4.6M47.9 184.4l12.8 2.8l10.3 2.6l10.1 2.8l9.6 2.9l9.2 3.2l7 2.8l6.7 2.9l7.8 4l5.9 3.4l7 4.5l5.2 3.8l6.1 5l5.7 5.2l5.4 5.5l6.1 7l5.7 7.2" fill="none" stroke="#008c32" stroke-width="0.7" stroke-opacity="0.75"/>
<path d="M253.8 181.1l-9.1-2.2l-8.2-2.2l-13.4-4.2l-7.2-2.6l-5-2l-4.8-2.2l-6.1-3l-4.2-2.3l-5.4-3.3l-4.9-3.3l-4.6-3.5l-4.2-3.6l-4-3.7l-3.7-3.8l-4.3-4.7M52.4 182.4l10.9 2.3l12.8 2.9l10.3 2.6l9.8 2.9l7.6 2.5l8.9 3.3l8.3 3.7l6.3 3.1l7.3 4.3l5.4 3.6l5 3.9l5.9 5.1l5.5 5.3l5.1 5.6l5.8 7.1l5.5 7.3" fill="none" stroke="#00b900" stroke-width="0.7" stroke-opacity="0.75"/>
<path d="M262.3 186.3l-9.9-2l-11.1-2.4l-8.5-2l-8.1-2.2l-7.7-2.4l-7.3-2.6l-6.7-2.7l-4.8-2.2l-5.8-3.1l-5.4-3.2l-5-3.4l-4.5-3.6l-4.1-3.7l-4.8-4.7l-4.3-4.8l-4-4.9M57.3 180.4l13.5 2.5l13.1 2.7l10.5 2.6l10.1 2.7l9.5 3.1l7.1 2.6l6.7 2.9l6.2 3.2l5.8 3.4l6.6 4.6l4.9 3.9l5.6 5.2l5.1 5.5l4.8 5.7l5.4 7.2l5.1 7.5" fill="none" stroke="#00ff00" stroke-width="0.7" stroke-opacity="0.75"/>
<path d="M269.9 190.9l-16.1-2.6l-11.8-2.1l-11.4-2.3l-8.8-1.9l-8.3-2.2l-7.8-2.3l-5.4-1.9l-6.7-2.8l-6.1-3l-5.4-3.3l-4.9-3.5l-4.4-3.7l-3.9-3.8l-5.2-5.9l-4-5l-4.3-6.2M62.6 178.1l16.3 2.7l11.4 2l13.2 2.8l10.5 2.5l7.8 2.3l7.4 2.6l6.9 2.8l6.2 3.1l5.6 3.5l5.1 3.7l4.6 4l5.2 5.4l3.8 4.5l5.3 7l4.9 7.4l5.4 9" fill="none" stroke="#aaff00" stroke-width="0.7" stroke-opacity="0.75"/>
<path d="M276.7 195.1l-39.5-5.1l-14.9-2.2l-9.5-1.6l-9.2-1.8l-8.6-2l-6-1.7l-5.3-2l-4.8-2.2l-4.1-2.5l-4.6-3.6l-3.9-4l-4.1-5.1l-3.6-5.4l-4.5-7.5l-4.2-7.6M68.6 175.5l34.3 4.7l14.2 2.3l9.1 1.7l6.5 1.4l8.2 2.2l7.2 2.6l4.7 2.3l4.1 2.6l4.7 3.9l4 4.2l3.5 4.5l4.7 7.1l3.6 6.2l4.8 9l5.4 10.6" fill="none" stroke="#ffdc00" stroke-width="0.7" stroke-opacity="0.75"/>
<path d="M275.6 198.3l-37.2-3.2l-12.2-0.8l-11.6-0.4l-8.2 0l-7.4 0.5l-4.3 0.8l-3.6 1.2l-1.5 0.8l-1.3 0.9l-1.1 1.1l-0.8 1.3l-0.6 1.4l-0.5 1.5l-0.2 1.6l0 3.7l0.6 4l1.5 6.6l3 9.5l3.3 9.1M75.5 172.6l28.3 2.1l8.7 0.4l8.4 0.2l7.8-0.1l4.7-0.4l4.3-0.8l3.6-1.1l1.5-0.8l1.3-0.8l1.1-1.1l0.9-1.1l0.6-1.3l0.5-1.4l0.4-3.2l-0.1-3.5l-0.6-3.7l-1.4-5.9l-2-6.5" fill="none" stroke="#ff8c00" stroke-width="0.7" stroke-opacity="0.75"/>
<path d="M269.1 201.4l-10.4-0.5l-11.6-0.3l-10.9 0l-7.7 0.4l-7.1 0.7l-4.3 0.8l-5.8 1.6l-3.3 1.4l-2.8 1.8l-2.3 2.1l-1.7 2.5l-1.2 2.9l-0.4 1.5l-0.5 3.4l-0.1 3.6l0.5 6l1 5.2M84.1 168.9l13.8 0l9.9-0.5l4.5-0.5l4.3-0.7l3.9-0.9l3.5-1.2l3.1-1.5l1.3-0.8l2.3-2l1.8-2.2l1.4-2.5l0.9-2.8l0.4-3.1l0.2-3.2" fill="none" stroke="#ff4500" stroke-width="0.7" stroke-opacity="0.75"/>
<path d="M261.1 205.3l-6.2 0.1l-7.7 0.4l-9.5 1l-4.4 0.7l-4.1 0.9l-3.8 1.2l-3.4 1.3l-3.1 1.7l-2.6 1.9l-1.2 1l-2 2.3l-1.6 2.7l-1.2 2.9l-0.8 3.1l-0.5 3.9M97.3 163.2l4.3-0.6l4.1-0.9l3.7-1l3.4-1.2l3-1.5l2.7-1.7l2.3-1.9l1.7-1.9" fill="none" stroke="#ee0000" stroke-width="0.7" stroke-opacity="0.75"/>
<path d="M248.5 211.3l-4.9 1l-4 1l-3.7 1.2l-3.4 1.4l-3.1 1.6l-2.7 1.9l-2.4 2.1l-2.2 2.6" fill="none" stroke="#aa0000" stroke-width="0.7" stroke-opacity="0.75"/>
<path d="M46.1 185.1l-6.2-134.5M46.1 185.1l104.2 73.7M150.3 258.8l128.8-62.3M45.6 173.4h2.5M45.1 161.7h2.5M44.5 149.8h2.5M43.9 137.8h2.5M43.4 125.7h2.5M42.8 113.5h2.5M42.2 101.1h2.5M41.7 88.7h2.5M41.1 76.1h2.5M40.5 63.4h2.5M39.9 50.6h2.5M45.9 179.3h1.2M45.3 167.6h1.2M44.8 155.8h1.2M44.2 143.8h1.2M43.7 131.8h1.2M43.1 119.6h1.2M42.5 107.3h1.2M41.9 94.9h1.2M41.4 82.4h1.2M40.8 69.8h1.2M40.2 57h1.2M150.3 258.8l-1.8-1.3M152.6 257.7l-0.9-0.7M154.9 256.6l-0.9-0.7M157.1 255.5l-0.9-0.7M159.4 254.4l-0.9-0.7M161.7 253.3l-1.8-1.3M163.9 252.2l-0.9-0.6M166.2 251.1l-0.9-0.6M168.4 250l-0.9-0.6M170.7 248.9l-0.9-0.6M172.9 247.8l-1.8-1.2M175.2 246.8l-0.9-0.7M177.4 245.7l-0.9-0.6M179.6 244.6l-0.9-0.6M181.8 243.5l-0.9-0.6M184.1 242.5l-1.8-1.3M186.3 241.4l-0.9-0.6M188.5 240.3l-0.9-0.6M190.7 239.3l-0.9-0.6M192.9 238.2l-0.9-0.6M195.1 237.1l-1.8-1.2M197.3 236.1l-0.9-0.6M199.4 235l-0.9-0.6M201.6 234l-0.9-0.6M203.8 232.9l-0.9-0.6M206 231.9l-1.8-1.2M208.1 230.8l-0.9-0.6M210.3 229.8l-0.9-0.6M212.5 228.7l-1-0.6M214.6 227.7l-0.9-0.6M216.8 226.7l-1.9-1.2M218.9 225.6l-0.9-0.6M221 224.6l-0.9-0.6M223.2 223.6l-0.9-0.6M225.3 222.5l-0.9-0.5M227.4 221.5l-1.8-1.2M229.5 220.5l-0.9-0.6M231.7 219.5l-1-0.6M233.8 218.5l-0.9-0.6M235.9 217.4l-0.9-0.6M238 216.4l-1.8-1.1M240.1 215.4l-0.9-0.6M242.2 214.4l-0.9-0.6M244.3 213.4l-1-0.6M246.3 212.4l-0.9-0.6M248.4 211.4l-1.8-1.2M250.5 210.4l-0.9-0.6M252.6 209.4l-0.9-0.6M254.6 208.4l-0.9-0.6M256.7 207.4l-0.9-0.6M258.8 206.4l-1.9-1.2M260.8 205.4l-0.9-0.6M262.9 204.4l-0.9-0.6M264.9 203.4l-0.9-0.6M267 202.4l-1-0.6M269 201.4l-1.8-1.1M271 200.4l-0.9-0.5M273.1 199.5l-1-0.6M275.1 198.5l-0.9-0.6M277.1 197.5l-0.9-0.5M279.1 196.5l-1.8-1.1M150.3 258.8l2.2-1.1M148.1 257.2l1.1-0.5M145.8 255.6l1.1-0.5M143.6 254l1.1-0.5M141.4 252.5l1.1-0.6M139.2 250.9l2.1-1.1M136.9 249.3l1.1-0.5M134.7 247.8l1.1-0.5M132.6 246.2l1-0.5M130.4 244.7l1.1-0.5M128.2 243.1l2.2-1M126 241.6l1.1-0.5M123.8 240.1l1.1-0.6M121.7 238.5l1.1-0.5M119.5 237l1.1-0.5M117.4 235.5l2.2-1M115.2 234l1.1-0.5M113.1 232.5l1.1-0.5M111 231l1.1-0.5M108.9 229.5l1-0.5M106.7 228l2.2-1M104.6 226.5l1.1-0.5M102.5 225l1.1-0.5M100.4 223.5l1.1-0.5M98.3 222l1.1-0.5M96.3 220.5l2.1-0.9M94.2 219.1l1.1-0.5M92.1 217.6l1.1-0.5M90 216.2l1.1-0.5M88 214.7l1.1-0.5M85.9 213.2l2.2-0.9M83.9 211.8l1.1-0.5M81.9 210.4l1-0.5M79.8 208.9l1.1-0.5M77.8 207.5l1.1-0.5M75.8 206.1l2.1-1M73.8 204.6l1-0.4M71.7 203.2l1.1-0.5M69.7 201.8l1.1-0.5M67.7 200.4l1.1-0.5M65.7 199l2.2-1M63.8 197.6l1-0.5M61.8 196.2l1.1-0.5M59.8 194.8l1.1-0.5M57.8 193.4l1.1-0.5M55.9 192l2.1-0.9M53.9 190.6l1.1-0.5M52 189.2l1-0.4M50 187.8l1.1-0.4M48.1 186.5l1.1-0.5M46.1 185.1l2.2-0.9" fill="none" stroke="#222" stroke-width="0.7"/>
<path d="M150.2 231.2L150.2 214" stroke="#7d7dff" stroke-width="0.6" stroke-dasharray="1.6 1" fill="none"/>
<path class="c g" d="M171.3 65.9l6.7 7.1l-5.6-5.4l-6.8-7.3z"/>
<path class="c g" d="M177 71.1l6.8 6.9l-5.8-5l-6.7-7.1z"/>
<path class="c g" d="M182.8 75.8l6.7 6.8l-5.7-4.6l-6.8-6.9z"/>
<path class="a7" d="M168.6 63.5l2.7 2.4l-5.7-5.6l-0.8-0.7z"/>
<path class="a8" d="M164.4 59.8l4.2 3.7l-3.8-3.9l-4.6-4.2l2.7 2.9z"/>
<path class="a9" d="M160.2 55.4l-1.5-1.3l4.2 4.2z"/>
<path class="o" d="M164.4 59.8l6.9 6.1l-5.7-5.6l-6.9-6.2z"/>
<path class="a7" d="M172.7 67.4l4.3 3.7l-5.7-5.2l-2.7-2.4z"/>
<path class="a8" d="M170.2 65.2l2.5 2.2l-4.1-3.9l-4.2-3.7z"/>
<path class="o" d="M170.2 65.2l6.8 5.9l-5.7-5.2l-6.9-6.1z"/>
<path class="c g" d="M188.6 80.1l6.7 6.6l-5.8-4.1l-6.7-6.8z"/>
<path class="c g" d="M176 70.1l6.8 5.7l-5.8-4.7l-6.8-5.9z"/>
<path class="a8" d="M163.8 59.4l0.6 0.4l-1.5-1.5z"/>
<path class="a9" d="M158.4 55.5l5.4 3.9l-0.9-1.1l-4.2-4.2l-3.6-2.7z"/>
<path class="a10" d="M157.5 54.9l0.9 0.6l-3.3-4.1l-3.3-2.5z"/>
<path class="o" d="M157.5 54.9l6.9 4.9l-5.7-5.7l-6.9-5.2z"/>
<path class="c g" d="M194.5 84l6.7 6.4l-5.9-3.7l-6.7-6.6z"/>
<path class="a8" d="M167.6 63.4l2.6 1.8l-5.8-5.4l-0.6-0.4z"/>
<path class="a9" d="M163.3 60.5l4.3 2.9l-3.8-4l-5.4-3.9l1.5 1.7z"/>
<path class="a10" d="M158.4 55.5l-0.9-0.6l2.4 2.3z"/>
<path class="o" d="M163.3 60.5l6.9 4.7l-5.8-5.4l-6.9-4.9z"/>
<path class="c g" d="M181.8 74.6l6.8 5.5l-5.8-4.3l-6.8-5.7z"/>
<path class="c g" d="M200.4 87.4l6.7 6.3l-5.9-3.3l-6.7-6.4z"/>
<path class="a10" d="M152 51.9l5.5 3l-5.7-6l-2.4-1.4z"/>
<path class="a11" d="M150.5 51.1l1.5 0.8l-2.6-4.4l-4.7-2.6z"/>
<path class="o" d="M150.5 51.1l7 3.8l-5.7-6l-7.1-4z"/>
<path class="a8" d="M171.8 67.4l4.2 2.7l-5.8-4.9l-2.6-1.8z"/>
<path class="a9" d="M169.1 65.6l2.7 1.8l-4.2-4l-4.3-2.9z"/>
<path class="o" d="M169.1 65.6l6.9 4.5l-5.8-4.9l-6.9-4.7z"/>
<path class="c g" d="M187.7 78.7l6.8 5.3l-5.9-3.9l-6.8-5.5z"/>
<path class="c g" d="M206.4 90.4l6.7 6.1l-6-2.8l-6.7-6.3z"/>
<path class="a9" d="M161.8 59.7l1.5 0.8l-3.4-3.3z"/>
<path class="a10" d="M156.3 56.8l5.5 2.9l-1.9-2.5l-2.4-2.3l-5.5-3l1.8 2.5z"/>
<path class="a11" d="M152 51.9l-1.5-0.8l3.3 3.3z"/>
<path class="o" d="M156.3 56.8l7 3.7l-5.8-5.6l-7-3.8z"/>
<path class="a8" d="M176.4 71.2l5.4 3.4l-5.8-4.5l-4.2-2.7z"/>
<path class="a9" d="M174.9 70.3l1.5 0.9l-4.6-3.8l-2.7-1.8z"/>
<path class="o" d="M174.9 70.3l6.9 4.3l-5.8-4.5l-6.9-4.5z"/>
<path class="c g" d="M193.7 82.3l6.7 5.1l-5.9-3.4l-6.8-5.3z"/>
<path class="a11" d="M144.3 48.8l6.2 2.3l-5.8-6.2l-2.1-0.9z"/>
<path class="a12" d="M143.4 48.4l0.9 0.4l-1.7-4.8l-5-2z"/>
<path class="o" d="M143.4 48.4l7.1 2.7l-5.8-6.2l-7.1-2.9z"/>
<path class="a9" d="M165.5 63.8l3.6 1.8l-5.8-5.1l-1.5-0.8z"/>
<path class="a10" d="M162.1 62.2l3.4 1.6l-3.7-4.1l-5.5-2.9z"/>
<path class="o" d="M162.1 62.2l7 3.4l-5.8-5.1l-7-3.7z"/>
<path class="c g" d="M212.5 93l6.6 5.9l-6-2.4l-6.7-6.1z"/>
<path class="a7" d="M187.4 78.5l0.3 0.2l-2.9-2z"/>
<path class="a8" d="M181.4 74.9l6 3.6l-2.6-1.8l-3-2.1l-5.4-3.4z"/>
<path class="a9" d="M180.8 74.5l0.6 0.4l-5-3.7l-1.5-0.9z"/>
<path class="o" d="M180.8 74.5l6.9 4.2l-5.9-4.1l-6.9-4.3z"/>
<path class="a10" d="M154.8 56.3l1.5 0.5l-2.5-2.4z"/>
<path class="a11" d="M149.2 54.4l5.6 1.9l-1-1.9l-3.3-3.3l-6.2-2.3l0.6 1.2z"/>
<path class="a12" d="M144.3 48.8l-0.9-0.4l1.5 1.6z"/>
<path class="o" d="M149.2 54.4l7.1 2.4l-5.8-5.7l-7.1-2.7z"/>
<path class="c g" d="M199.7 85.5l6.7 4.9l-6-3l-6.7-5.1z"/>
<path class="a9" d="M169.6 67.8l5.3 2.5l-5.8-4.7l-3.6-1.8z"/>
<path class="a10" d="M167.9 67.1l1.7 0.7l-4.1-4l-3.4-1.6z"/>
<path class="o" d="M167.9 67.1l7 3.2l-5.8-4.7l-7-3.4z"/>
<path class="a12" d="M136.2 46.9l7.2 1.5l-5.8-6.4l-3.6-0.9l0.1 3.4z"/>
<path class="a13" d="M134 41.1l-3.5-0.8l3.6 4.2z"/>
<path class="o" d="M136.2 46.9l7.2 1.5l-5.8-6.4l-7.1-1.7z"/>
<path class="c g" d="M218.6 95.1l6.6 5.7l-6.1-1.9l-6.6-5.9z"/>
<path class="a7" d="M193 82l0.7 0.3l-6-3.6l-0.3-0.2z"/>
<path class="a8" d="M186.9 78.4l6.1 3.6l-5.6-3.5l-6-3.6z"/>
<path class="a9" d="M186.8 78.3l0.1 0.1l-5.5-3.5l-0.6-0.4z"/>
<path class="o" d="M186.8 78.3l6.9 4l-6-3.6l-6.9-4.2z"/>
<path class="a10" d="M157.7 60.8l4.4 1.4l-5.8-5.4l-1.5-0.5z"/>
<path class="a11" d="M155 59.9l2.7 0.9l-2.9-4.5l-5.6-1.9z"/>
<path class="o" d="M155 59.9l7.1 2.3l-5.8-5.4l-7.1-2.4z"/>
<path class="a9" d="M174.2 71.7l6.6 2.8l-5.9-4.2l-5.3-2.5z"/>
<path class="a10" d="M173.9 71.5l0.3 0.2l-4.6-3.9l-1.7-0.7z"/>
<path class="o" d="M173.9 71.5l6.9 3l-5.9-4.2l-7-3.2z"/>
<path class="c g" d="M205.7 88.2l6.8 4.8l-6.1-2.6l-6.7-4.9z"/>
<path class="a11" d="M145.6 53.7l3.6 0.7l-4.3-4.4z"/>
<path class="a12" d="M142 53.1l3.6 0.6l-0.7-3.7l-1.5-1.6l-7.2-1.5z"/>
<path class="o" d="M142 53.1l7.2 1.3l-5.8-6l-7.2-1.5z"/>
<path class="a10" d="M161.1 65.1l6.8 2l-5.8-4.9l-4.4-1.4z"/>
<path class="a11" d="M160.9 65l0.2 0.1l-3.4-4.3l-2.7-0.9z"/>
<path class="o" d="M160.9 65l7 2.1l-5.8-4.9l-7.1-2.3z"/>
<path class="c g" d="M192.8 81.7l6.9 3.8l-6-3.2l-6.9-4z"/>
<path class="a12" d="M133.3 46.8l2.9 0.1l-2.1-2.4z"/>
<path class="a13" d="M129 46.6l4.3 0.2l0.8-2.3l-3.6-4.2l-7.3-0.5z"/>
<path class="o" d="M129 46.6l7.2 0.3l-5.7-6.6l-7.3-0.5z"/>
<path class="c g" d="M224.8 96.7l6.6 5.6l-6.2-1.5l-6.6-5.7z"/>
<path class="a11" d="M147.9 58.9l7.1 1l-5.8-5.5l-3.6-0.7l1.2 4.1z"/>
<path class="a12" d="M145.6 53.7l-3.6-0.6l4.8 4.7z"/>
<path class="o" d="M147.9 58.9l7.1 1l-5.8-5.5l-7.2-1.3z"/>
<path class="a9" d="M179.8 75.5l7 2.8l-6-3.8l-6.6-2.8l2.5 1.7z"/>
<path class="a10" d="M174.2 71.7l-0.3-0.2l2.8 1.9z"/>
<path class="o" d="M179.8 75.5l7 2.8l-6-3.8l-6.9-3z"/>
<path class="c g" d="M211.8 90.5l6.8 4.6l-6.1-2.1l-6.8-4.8z"/>
<path class="a12" d="M134.8 53l7.2 0.1l-5.8-6.2l-2.9-0.1l-1 3.5z"/>
<path class="a13" d="M133.3 46.8l-4.3-0.2l3.3 3.7z"/>
<path class="o" d="M134.8 53l7.2 0.1l-5.8-6.2l-7.2-0.3z"/>
<path class="a10" d="M166.8 69.7l7.1 1.8l-6-4.4l-6.8-2l0.3 0.3z"/>
<path class="a11" d="M161.1 65.1l-0.2-0.1l0.5 0.4z"/>
<path class="o" d="M166.8 69.7l7.1 1.8l-6-4.4l-7-2.1z"/>
<path class="c g" d="M198.8 84.6l6.9 3.6l-6-2.7l-6.9-3.8z"/>
<path class="a13" d="M121.7 47.6l7.3-1l-5.8-6.8l-2.9 0.3l-2.5 2.6z"/>
<path class="a14" d="M120.3 40.1l-4.3 0.4l1.8 2.2z"/>
<path class="o" d="M121.7 47.6l7.3-1l-5.8-6.8l-7.2 0.7z"/>
<path class="c a11" d="M153.7 64.2l7.2 0.8l-5.9-5.1l-7.1-1z"/>
<path class="c g" d="M231 97.9l6.7 5.4l-6.3-1l-6.6-5.6z"/>
<path class="c a9" d="M185.8 79.1l7 2.6l-6-3.4l-7-2.8z"/>
<path class="a11" d="M146.7 58.9l1.2 0l-1.1-1.1z"/>
<path class="a12" d="M140.7 59l6-0.1l0.1-1.1l-4.8-4.7l-7.2-0.1z"/>
<path class="o" d="M140.7 59l7.2-0.1l-5.9-5.8l-7.2-0.1z"/>
<path class="c g" d="M218 92.3l6.8 4.4l-6.2-1.6l-6.8-4.6z"/>
<path class="a9" d="M179.3 75.4l0.5 0.1l-3.1-2.1z"/>
<path class="a10" d="M172.7 73.9l6.6 1.5l-2.6-2l-2.8-1.9l-7.1-1.8z"/>
<path class="o" d="M172.7 73.9l7.1 1.6l-5.9-4l-7.1-1.8z"/>
<path class="a12" d="M128.8 54l6-1l-2.5-2.7z"/>
<path class="a13" d="M127.6 54.2l1.2-0.2l3.5-3.7l-3.3-3.7l-7.3 1z"/>
<path class="o" d="M127.6 54.2l7.2-1.2l-5.8-6.4l-7.3 1z"/>
<path class="a10" d="M164.4 69.4l2.4 0.3l-5.4-4.3z"/>
<path class="a11" d="M159.7 69l4.7 0.4l-3-4l-0.5-0.4l-7.2-0.8z"/>
<path class="o" d="M159.7 69l7.1 0.7l-5.9-4.7l-7.2-0.8z"/>
<path class="c g" d="M204.9 87.1l6.9 3.4l-6.1-2.3l-6.9-3.6z"/>
<path class="a13" d="M114.4 49.7l7.3-2.1l-3.9-4.9l-6.3 3.3z"/>
<path class="a14" d="M117.8 42.7l-1.8-2.2l-7.4 1.9l2.9 3.6z"/>
<path class="o" d="M114.4 49.7l7.3-2.1l-5.7-7.1l-7.4 1.9z"/>
<path class="a11" d="M146.7 64.5l7-0.3l-5.8-5.3l-1.2 0z"/>
<path class="a12" d="M146.5 64.5l0.2 0l0-5.6l-6 0.1z"/>
<path class="o" d="M146.5 64.5l7.2-0.3l-5.8-5.3l-7.2 0.1z"/>
<path class="c a9" d="M191.9 82.2l6.9 2.4l-6-2.9l-7-2.6z"/>
<path class="a12" d="M133.4 60.4l7.3-1.4l-5.9-6l-6 1l-0.7 0.8z"/>
<path class="a13" d="M128.8 54l-1.2 0.2l0.5 0.6z"/>
<path class="o" d="M133.4 60.4l7.3-1.4l-5.9-6l-7.2 1.2z"/>
<path class="c g" d="M237.3 98.6l6.7 5.3l-6.3-0.6l-6.7-5.4z"/>
<path class="a9" d="M185 78.9l0.8 0.2l-6-3.6l-0.5-0.1z"/>
<path class="a10" d="M178.7 77.6l6.3 1.3l-5.7-3.5l-6.6-1.5z"/>
<path class="o" d="M178.7 77.6l7.1 1.5l-6-3.6l-7.1-1.6z"/>
<path class="c a13" d="M120.3 56.6l7.3-2.4l-5.9-6.6l-7.3 2.1z"/>
<path class="c g" d="M224.2 93.7l6.8 4.2l-6.2-1.2l-6.8-4.4z"/>
<path class="a10" d="M168.4 73.6l4.3 0.3l-5.9-4.2l-2.4-0.3z"/>
<path class="a11" d="M165.6 73.4l2.8 0.2l-4-4.2l-4.7-0.4z"/>
<path class="o" d="M165.6 73.4l7.1 0.5l-5.9-4.2l-7.1-0.7z"/>
<path class="a13" d="M107.1 53.1l7.3-3.4l-2.9-3.7l-8.1 2.4z"/>
<path class="a14" d="M111.5 46l-2.9-3.6l-7.3 3.2l2.1 2.8z"/>
<path class="o" d="M107.1 53.1l7.3-3.4l-5.8-7.3l-7.3 3.2z"/>
<path class="a11" d="M152.4 69.6l7.3-0.6l-6-4.8l-7 0.3l0 0.2z"/>
<path class="a12" d="M146.7 64.5l-0.2 0l0.2 0.2z"/>
<path class="o" d="M152.4 69.6l7.3-0.6l-6-4.8l-7.2 0.3z"/>
<path class="c g" d="M211.1 89.1l6.9 3.2l-6.2-1.8l-6.9-3.4z"/>
<path class="c a12" d="M139.3 66.1l7.2-1.6l-5.8-5.5l-7.3 1.4z"/>
<path class="a9" d="M198.9 85.1l6 2l-6.1-2.5l-6.9-2.4l1 0.4z"/>
<path class="a10" d="M198 84.8l0.9 0.3l-6-2.5z"/>
<path class="o" d="M198 84.8l6.9 2.3l-6.1-2.5l-6.9-2.4z"/>
<path class="a12" d="M126.1 63l7.3-2.6l-5.3-5.6l-6.5 3.2z"/>
<path class="a13" d="M128.1 54.8l-0.5-0.6l-7.3 2.4l1.3 1.4z"/>
<path class="o" d="M126.1 63l7.3-2.6l-5.8-6.2l-7.3 2.4z"/>
<path class="a12" d="M112.9 60.2l1.3-0.6l-1.5 0.3z"/>
<path class="a13" d="M114.2 59.6l6.1-3l-5.9-6.9l-7.3 3.4l5.6 6.8z"/>
<path class="o" d="M112.9 60.2l7.4-3.6l-5.9-6.9l-7.3 3.4z"/>
<path class="a9" d="M191.6 82.1l0.3 0.1l-6.1-3.1l-0.8-0.2z"/>
<path class="a10" d="M184.8 80.9l6.8 1.2l-6.6-3.2l-6.3-1.3z"/>
<path class="o" d="M184.8 80.9l7.1 1.3l-6.1-3.1l-7.1-1.5z"/>
<path class="a13" d="M99.8 57.8l7.3-4.7l-3.7-4.7l-8.8 1.3l-0.6 0.3z"/>
<path class="a14" d="M103.4 48.4l-2.1-2.8l-6.7 4.1z"/>
<path class="o" d="M99.8 57.8l7.3-4.7l-5.8-7.5l-7.3 4.4z"/>
<path class="a10" d="M173.4 77.4l5.3 0.2l-6-3.7l-4.3-0.3z"/>
<path class="a11" d="M171.6 77.4l1.8 0l-5-3.8l-2.8-0.2z"/>
<path class="o" d="M171.6 77.4l7.1 0.2l-6-3.7l-7.1-0.5z"/>
<path class="c g" d="M243.7 98.9l6.7 5l-6.4 0l-6.7-5.3z"/>
<path class="c a11" d="M158.4 74.2l7.2-0.8l-5.9-4.4l-7.3 0.6z"/>
<path class="c g" d="M230.6 94.6l6.7 4l-6.3-0.7l-6.8-4.2z"/>
<path class="a11" d="M145.2 71.4l7.2-1.8l-5.7-4.9l-3.3 5.1z"/>
<path class="a12" d="M146.7 64.7l-0.2-0.2l-7.2 1.6l4.1 3.7z"/>
<path class="o" d="M145.2 71.4l7.2-1.8l-5.9-5.1l-7.2 1.6z"/>
<path class="c a12" d="M132 68.9l7.3-2.8l-5.9-5.7l-7.3 2.6z"/>
<path class="a12" d="M118.8 66.8l7.3-3.8l-4.5-5l-7.4 1.6l-1.3 0.6z"/>
<path class="a13" d="M121.6 58l-1.3-1.4l-6.1 3z"/>
<path class="o" d="M118.8 66.8l7.3-3.8l-5.8-6.4l-7.4 3.6z"/>
<path class="a12" d="M92.4 63.7l3.3-2.6l-5 0.2z"/>
<path class="a13" d="M95.7 61.1l4.1-3.3l-5.8-7.8l-7.4 5.7l4.1 5.6z"/>
<path class="o" d="M92.4 63.7l7.4-5.9l-5.8-7.8l-7.4 5.7z"/>
<path class="a12" d="M105.6 65.1l7.3-4.9l-0.2-0.3l-10.4 1.1z"/>
<path class="a13" d="M112.7 59.9l-5.6-6.8l-7.3 4.7l2.5 3.2z"/>
<path class="o" d="M105.6 65.1l7.3-4.9l-5.8-7.1l-7.3 4.7z"/>
<path class="c g" d="M217.4 90.6l6.8 3.1l-6.2-1.4l-6.9-3.2z"/>
<path class="a9" d="M206.9 87.8l4.2 1.3l-6.2-2l-6-2z"/>
<path class="a10" d="M204.1 87l2.8 0.8l-8-2.7l-0.9-0.3z"/>
<path class="o" d="M204.1 87l7 2.1l-6.2-2l-6.9-2.3z"/>
<path class="a9" d="M192.9 82.6l-1-0.4l-0.3-0.1z"/>
<path class="a10" d="M190.9 83.8l7.1 1l-5.1-2.2l-1.3-0.5l-6.8-1.2z"/>
<path class="o" d="M190.9 83.8l7.1 1l-6.1-2.6l-7.1-1.3z"/>
<path class="a12" d="M85.1 70.8l7.3-7.1l-1.7-2.4l-9.8-0.2l-1.6 1.6z"/>
<path class="a13" d="M90.7 61.3l-4.1-5.6l-5.7 5.4z"/>
<path class="o" d="M85.1 70.8l7.3-7.1l-5.8-8l-7.3 7z"/>
<path class="a10" d="M179.5 80.9l5.3 0l-6.1-3.3l-5.3-0.2z"/>
<path class="a11" d="M177.7 80.9l1.8 0l-6.1-3.5l-1.8 0z"/>
<path class="o" d="M177.7 80.9l7.1 0l-6.1-3.3l-7.1-0.2z"/>
<path class="a12" d="M98.2 71.2l7.4-6.1l-3.3-4.1l-6.6 0.1l-3.3 2.6z"/>
<path class="a13" d="M102.3 61l-2.5-3.2l-4.1 3.3z"/>
<path class="o" d="M98.2 71.2l7.4-6.1l-5.8-7.3l-7.4 5.9z"/>
<path class="c a11" d="M164.4 78.4l7.2-1l-6-4l-7.2 0.8z"/>
<path class="c a12" d="M111.4 71.9l7.4-5.1l-5.9-6.6l-7.3 4.9z"/>
<path class="c a11" d="M151.1 76.2l7.3-2l-6-4.6l-7.2 1.8z"/>
<path class="c a12" d="M124.7 73l7.3-4.1l-5.9-5.9l-7.3 3.8z"/>
<path class="a11" d="M137.9 74.4l7.3-3l-1.8-1.6l-7.6 2.7z"/>
<path class="a12" d="M143.4 69.8l-4.1-3.7l-7.3 2.8l3.8 3.6z"/>
<path class="o" d="M137.9 74.4l7.3-3l-5.9-5.3l-7.3 2.8z"/>
<path class="a11" d="M77.7 79.2l6.6-7.5l-12.3-0.9l-0.1 0.1z"/>
<path class="a12" d="M84.3 71.7l0.8-0.9l-5.8-8.1l-7.3 8.1z"/>
<path class="o" d="M77.7 79.2l7.4-8.4l-5.8-8.1l-7.4 8.2z"/>
<path class="c g" d="M250.2 98.7l6.7 4.9l-6.5 0.3l-6.7-5z"/>
<path class="a11" d="M90.9 78.6l6.1-6.1l-11.2-0.7z"/>
<path class="a12" d="M97 72.5l1.2-1.3l-5.8-7.5l-7.3 7.1l0.7 1z"/>
<path class="o" d="M90.9 78.6l7.3-7.4l-5.8-7.5l-7.3 7.1z"/>
<path class="c g" d="M237 95l6.7 3.9l-6.4-0.3l-6.7-4z"/>
<path class="a10" d="M70.4 88.9l6-7.9l-11.4-1.2l-0.4 0.5z"/>
<path class="a11" d="M76.4 81l1.3-1.8l-5.8-8.3l-6.9 8.9z"/>
<path class="o" d="M70.4 88.9l7.3-9.7l-5.8-8.3l-7.3 9.4z"/>
<path class="a11" d="M104.1 78.2l6-5.1l-10.6-0.4z"/>
<path class="a12" d="M110.1 73.1l1.3-1.2l-5.8-6.8l-7.4 6.1l1.3 1.5z"/>
<path class="o" d="M104.1 78.2l7.3-6.3l-5.8-6.8l-7.4 6.1z"/>
<path class="c g" d="M223.7 91.7l6.9 2.9l-6.4-0.9l-6.8-3.1z"/>
<path class="a5" d="M48.7 125.2l1.3-2.5l-3.3-0.7z"/>
<path class="a6" d="M50 122.7l4.3-8l-9.6-1.9l-1.8 3.1l3.8 6.1z"/>
<path class="a7" d="M54.3 114.7l1.6-2.8l-4.2-6.6l-2.7-0.5l-4.3 8z"/>
<path class="a8" d="M51.7 105.3l-1.6-2.5l-1.1 2z"/>
<path class="o" d="M48.7 125.2l7.2-13.3l-5.8-9.1l-7.2 13.1z"/>
<path class="a8" d="M63.1 99.8l0.9-1.4l-2-0.3z"/>
<path class="a9" d="M64 98.4l5.7-8.5l-10.6-1.6l-1.8 2.6l4.7 7.2z"/>
<path class="a10" d="M69.7 89.9l0.7-1l-5.8-8.6l-5.5 8z"/>
<path class="o" d="M63.1 99.8l7.3-10.9l-5.8-8.6l-7.3 10.6z"/>
<path class="a7" d="M55.9 111.9l3.1-5.3l-7.3-1.3z"/>
<path class="a8" d="M59 106.6l4.1-6.8l-1.1-1.7l-8.1-1.5l-3.8 6.2l1.6 2.5z"/>
<path class="a9" d="M62 98.1l-4.7-7.2l-3.4 5.7z"/>
<path class="o" d="M55.9 111.9l7.2-12.1l-5.8-8.9l-7.2 11.9z"/>
<path class="a11" d="M117.3 78.3l6.9-5l-11.5 0z"/>
<path class="a12" d="M124.2 73.3l0.5-0.3l-5.9-6.2l-7.4 5.1l1.3 1.4z"/>
<path class="o" d="M117.3 78.3l7.4-5.3l-5.9-6.2l-7.4 5.1z"/>
<path class="c g" d="M210.4 88.7l7 1.9l-6.3-1.5l-7-2.1z"/>
<path class="a10" d="M83.5 87.2l4.1-4.9l-8.2-0.8z"/>
<path class="a11" d="M87.6 82.3l3.3-3.7l-5.1-6.8l-1.5-0.1l-6.6 7.5l1.7 2.3z"/>
<path class="a12" d="M85.8 71.8l-0.7-1l-0.8 0.9z"/>
<path class="o" d="M83.5 87.2l7.4-8.6l-5.8-7.8l-7.4 8.4z"/>
<path class="a11" d="M130.6 78.7l7.3-4.3l-2.1-1.9l-10.8 0.8z"/>
<path class="a12" d="M135.8 72.5l-3.8-3.6l-7.3 4.1l0.3 0.3z"/>
<path class="o" d="M130.6 78.7l7.3-4.3l-5.9-5.5l-7.3 4.1z"/>
<path class="c a10" d="M197.1 86.2l7 0.8l-6.1-2.2l-7.1-1z"/>
<path class="c a11" d="M143.8 79.4l7.3-3.2l-5.9-4.8l-7.3 3z"/>
<path class="a10" d="M186.8 83.9l4.1-0.1l-6.1-2.9l-5.3 0z"/>
<path class="a11" d="M183.8 83.9l3 0l-7.3-3l-1.8 0z"/>
<path class="o" d="M183.8 83.9l7.1-0.1l-6.1-2.9l-7.1 0z"/>
<path class="c a11" d="M157.1 80.6l7.3-2.2l-6-4.2l-7.3 2z"/>
<path class="c a11" d="M170.4 82.1l7.3-1.2l-6.1-3.5l-7.2 1z"/>
<path class="a9" d="M76.2 97l4.1-5.5l-9-1.3z"/>
<path class="a10" d="M80.3 91.5l3.2-4.3l-4.1-5.7l-3-0.5l-6 7.9l0.9 1.3z"/>
<path class="a11" d="M79.4 81.5l-1.7-2.3l-1.3 1.8z"/>
<path class="o" d="M76.2 97l7.3-9.8l-5.8-8l-7.3 9.7z"/>
<path class="a10" d="M96.7 85.8l2-2l-3.9-0.4z"/>
<path class="a11" d="M98.7 83.8l5.4-5.6l-4.6-5.5l-2.5-0.2l-6.1 6.1l3.9 4.8z"/>
<path class="a12" d="M99.5 72.7l-1.3-1.5l-1.2 1.3z"/>
<path class="o" d="M96.7 85.8l7.4-7.6l-5.9-7l-7.3 7.4z"/>
<path class="a4" d="M54.5 134l0.6-1.2l-1.6-0.4z"/>
<path class="a5" d="M55.1 132.8l4.2-7.9l-9.3-2.2l-1.3 2.5l4.8 7.2z"/>
<path class="a6" d="M59.3 124.9l2.4-4.5l-3.2-4.7l-4.2-1l-4.3 8z"/>
<path class="a7" d="M58.5 115.7l-2.6-3.8l-1.6 2.8z"/>
<path class="o" d="M54.5 134l7.2-13.6l-5.8-8.5l-7.2 13.3z"/>
<path class="a8" d="M68.9 108.1l5.2-7.9l-10.1-1.8l-0.9 1.4z"/>
<path class="a9" d="M74.1 100.2l2.1-3.2l-4.9-6.8l-1.6-0.3l-5.7 8.5z"/>
<path class="a10" d="M71.3 90.2l-0.9-1.3l-0.7 1z"/>
<path class="o" d="M68.9 108.1l7.3-11.1l-5.8-8.1l-7.3 10.9z"/>
<path class="a6" d="M61.7 120.4l2.1-3.6l-5.3-1.1z"/>
<path class="a7" d="M63.8 116.8l4.8-8.2l-9.6-2l-3.1 5.3l2.6 3.8z"/>
<path class="a8" d="M68.6 108.6l0.3-0.5l-5.8-8.3l-4.1 6.8z"/>
<path class="o" d="M61.7 120.4l7.2-12.3l-5.8-8.3l-7.2 12.1z"/>
<path class="a11" d="M109.9 84.8l7.4-6.5l-4.6-5l-2.6-0.2l-6 5.1z"/>
<path class="a12" d="M112.7 73.3l-1.3-1.4l-1.3 1.2z"/>
<path class="o" d="M109.9 84.8l7.4-6.5l-5.9-6.4l-7.3 6.3z"/>
<path class="a9" d="M89.4 94.7l1.1-1.4l-2.5-0.4z"/>
<path class="a10" d="M90.5 93.3l6.2-7.5l-1.9-2.4l-7.2-1.1l-4.1 4.9l4.5 5.7z"/>
<path class="a11" d="M94.8 83.4l-3.9-4.8l-3.3 3.7z"/>
<path class="o" d="M89.4 94.7l7.3-8.9l-5.8-7.2l-7.4 8.6z"/>
<path class="a11" d="M123.2 84.2l7.4-5.5l-5.6-5.4l-0.8 0l-6.9 5z"/>
<path class="a12" d="M125 73.3l-0.3-0.3l-0.5 0.3z"/>
<path class="o" d="M123.2 84.2l7.4-5.5l-5.9-5.7l-7.4 5.3z"/>
<path class="c g" d="M256.8 97.9l6.7 4.8l-6.6 0.9l-6.7-4.9z"/>
<path class="a8" d="M82 104.8l1.9-2.6l-4.5-0.9z"/>
<path class="a9" d="M83.9 102.2l5.5-7.5l-1.4-1.8l-7.7-1.4l-4.1 5.5l3.2 4.3z"/>
<path class="a10" d="M88 92.9l-4.5-5.7l-3.2 4.3z"/>
<path class="o" d="M82 104.8l7.4-10.1l-5.9-7.5l-7.3 9.8z"/>
<path class="c a11" d="M136.5 83.9l7.3-4.5l-5.9-5l-7.3 4.3z"/>
<path class="a4" d="M60.3 142.3l3.7-7.2l-8.9-2.3l-0.6 1.2z"/>
<path class="a5" d="M64 135.1l3.5-6.5l-1.4-1.9l-6.8-1.8l-4.2 7.9z"/>
<path class="a6" d="M66.1 126.7l-4.4-6.3l-2.4 4.5z"/>
<path class="o" d="M60.3 142.3l7.2-13.7l-5.8-8.2l-7.2 13.6z"/>
<path class="a10" d="M102.6 92.7l6.9-7.4l-10.8-1.5l-2 2z"/>
<path class="a11" d="M109.5 85.3l0.4-0.5l-5.8-6.6l-5.4 5.6z"/>
<path class="o" d="M102.6 92.7l7.3-7.9l-5.8-6.6l-7.4 7.6z"/>
<path class="c g" d="M243.5 94.9l6.7 3.8l-6.5 0.2l-6.7-3.9z"/>
<path class="a7" d="M74.7 116.1l3.5-5.4l-8.8-1.9z"/>
<path class="a8" d="M78.2 110.7l3.8-5.9l-2.6-3.5l-5.3-1.1l-5.2 7.9l0.5 0.7z"/>
<path class="a9" d="M79.4 101.3l-3.2-4.3l-2.1 3.2z"/>
<path class="o" d="M74.7 116.1l7.3-11.3l-5.8-7.8l-7.3 11.1z"/>
<path class="c a11" d="M149.8 84l7.3-3.4l-6-4.4l-7.3 3.2z"/>
<path class="a5" d="M67.5 128.6l0.8-1.4l-2.2-0.5z"/>
<path class="a6" d="M68.3 127.2l4.7-8.2l-9.2-2.2l-2.1 3.6l4.4 6.3z"/>
<path class="a7" d="M73 119l1.7-2.9l-5.3-7.3l-0.8-0.2l-4.8 8.2z"/>
<path class="a8" d="M69.4 108.8l-0.5-0.7l-0.3 0.5z"/>
<path class="o" d="M67.5 128.6l7.2-12.5l-5.8-8l-7.2 12.3z"/>
<path class="c g" d="M230.1 92.3l6.9 2.7l-6.4-0.4l-6.9-2.9z"/>
<path class="c a11" d="M163.2 84.5l7.2-2.4l-6-3.7l-7.3 2.2z"/>
<path class="c g" d="M216.7 90l7 1.7l-6.3-1.1l-7-1.9z"/>
<path class="c a11" d="M176.5 85.3l7.3-1.4l-6.1-3l-7.3 1.2z"/>
<path class="a10" d="M205.6 88.3l4.8 0.4l-6.3-1.7l-7-0.8l1.7 0.5z"/>
<path class="a11" d="M203.3 88.1l2.3 0.2l-6.8-1.6z"/>
<path class="o" d="M203.3 88.1l7.1 0.6l-6.3-1.7l-7-0.8z"/>
<path class="a10" d="M195.8 86.2l1.3 0l-6.2-2.4l-4.1 0.1z"/>
<path class="a11" d="M189.9 86.5l5.9-0.3l-9-2.3l-3 0z"/>
<path class="o" d="M189.9 86.5l7.2-0.3l-6.2-2.4l-7.1 0.1z"/>
<path class="a10" d="M115.8 91l4.5-4.1l-9.7-1.4z"/>
<path class="a11" d="M120.3 86.9l2.9-2.7l-5.9-5.9l-7.4 6.5l0.7 0.7z"/>
<path class="o" d="M115.8 91l7.4-6.8l-5.9-5.9l-7.4 6.5z"/>
<path class="a9" d="M95.2 101.7l5.4-6.6l-10.1-1.8l-1.1 1.4z"/>
<path class="a10" d="M100.6 95.1l2-2.4l-5.9-6.9l-6.2 7.5z"/>
<path class="o" d="M95.2 101.7l7.4-9l-5.9-6.9l-7.3 8.9z"/>
<path class="a3" d="M66 150.2l2.5-4.6l-7.4-2.2z"/>
<path class="a4" d="M68.5 145.6l4-7.9l-8.5-2.6l-3.7 7.2l0.8 1.1z"/>
<path class="a5" d="M72.5 137.7l0.8-1.4l-5.8-7.7l-3.5 6.5z"/>
<path class="o" d="M66 150.2l7.3-13.9l-5.8-7.7l-7.2 13.7z"/>
<path class="a10" d="M129.1 89.7l1.2-0.9l-2.5-0.4z"/>
<path class="a11" d="M130.3 88.8l6.2-4.9l-5.9-5.2l-7.4 5.5l4.6 4.2z"/>
<path class="o" d="M129.1 89.7l7.4-5.8l-5.9-5.2l-7.4 5.5z"/>
<path class="a8" d="M87.9 112l5.5-7.7l-9.5-2.1l-1.9 2.6z"/>
<path class="a9" d="M93.4 104.3l1.8-2.6l-5.8-7l-5.5 7.5z"/>
<path class="o" d="M87.9 112l7.3-10.3l-5.8-7l-7.4 10.1z"/>
<path class="a5" d="M73.3 136.3l3.8-6.7l-8.8-2.4l-0.8 1.4z"/>
<path class="a6" d="M77.1 129.6l3.4-6l-2.4-3.1l-5.1-1.5l-4.7 8.2z"/>
<path class="a7" d="M78.1 120.5l-3.4-4.4l-1.7 2.9z"/>
<path class="o" d="M73.3 136.3l7.2-12.7l-5.8-7.5l-7.2 12.5z"/>
<path class="a6" d="M80.5 123.6l1.4-2.2l-3.8-0.9z"/>
<path class="a7" d="M81.9 121.4l5.3-8.4l-9-2.3l-3.5 5.4l3.4 4.4z"/>
<path class="a8" d="M87.2 113l0.7-1l-5.9-7.2l-3.8 5.9z"/>
<path class="o" d="M80.5 123.6l7.4-11.6l-5.9-7.2l-7.3 11.3z"/>
<path class="a9" d="M108.4 99l1.7-1.8l-4.1-0.8z"/>
<path class="a10" d="M110.1 97.2l5.7-6.2l-5.2-5.5l-1.1-0.2l-6.9 7.4l3.4 3.7z"/>
<path class="a11" d="M110.6 85.5l-0.7-0.7l-0.4 0.5z"/>
<path class="o" d="M108.4 99l7.4-8l-5.9-6.2l-7.3 7.9z"/>
<path class="c a11" d="M142.5 88.8l7.3-4.8l-6-4.6l-7.3 4.5z"/>
<path class="c a11" d="M155.9 88.2l7.3-3.7l-6.1-3.9l-7.3 3.4z"/>
<path class="a8" d="M101.1 108.3l1.4-1.8l-3.8-0.8z"/>
<path class="a9" d="M102.5 106.5l5.9-7.5l-2.4-2.6l-5.4-1.3l-5.4 6.6l3.5 4z"/>
<path class="a10" d="M106 96.4l-3.4-3.7l-2 2.4z"/>
<path class="o" d="M101.1 108.3l7.3-9.3l-5.8-6.3l-7.4 9z"/>
<path class="a10" d="M121.7 96.7l7.4-7l-1.3-1.3l-7.5-1.5l-4.5 4.1z"/>
<path class="a11" d="M127.8 88.4l-4.6-4.2l-2.9 2.7z"/>
<path class="o" d="M121.7 96.7l7.4-7l-5.9-5.5l-7.4 6.8z"/>
<path class="c a11" d="M169.3 88l7.2-2.7l-6.1-3.2l-7.2 2.4z"/>
<path class="a2" d="M71.9 157.7l0.7-1.5l-2.6-0.8z"/>
<path class="a3" d="M72.6 156.2l4.1-7.9l-8.2-2.7l-2.5 4.6l4 5.2z"/>
<path class="a4" d="M76.7 148.3l2.4-4.7l-4-5.1l-2.6-0.8l-4 7.9z"/>
<path class="a5" d="M75.1 138.5l-1.8-2.2l-0.8 1.4z"/>
<path class="o" d="M71.9 157.7l7.2-14.1l-5.8-7.3l-7.3 13.9z"/>
<path class="a7" d="M93.7 118.9l2.4-3.5l-6.9-1.8z"/>
<path class="a8" d="M96.1 115.4l5-7.1l-2.4-2.6l-5.3-1.4l-5.5 7.7l1.3 1.6z"/>
<path class="a9" d="M98.7 105.7l-3.5-4l-1.8 2.6z"/>
<path class="o" d="M93.7 118.9l7.4-10.6l-5.9-6.6l-7.3 10.3z"/>
<path class="c a11" d="M182.7 88.1l7.2-1.6l-6.1-2.6l-7.3 1.4z"/>
<path class="c g" d="M263.5 96.7l6.6 4.6l-6.6 1.4l-6.7-4.8z"/>
<path class="a4" d="M79.1 143.6l1.8-3.2l-5.8-1.9z"/>
<path class="a5" d="M80.9 140.4l4.6-8.2l-8.4-2.6l-3.8 6.7l1.8 2.2z"/>
<path class="a6" d="M85.5 132.2l0.9-1.6l-5.9-7l-3.4 6z"/>
<path class="o" d="M79.1 143.6l7.3-13l-5.9-7l-7.2 12.7z"/>
<path class="a6" d="M86.4 130.6l4.2-6.7l-8.7-2.5l-1.4 2.2z"/>
<path class="a7" d="M90.6 123.9l3.1-5l-4.5-5.3l-2-0.6l-5.3 8.4z"/>
<path class="a8" d="M89.2 113.6l-1.3-1.6l-0.7 1z"/>
<path class="o" d="M86.4 130.6l7.3-11.7l-5.8-6.9l-7.4 11.6z"/>
<path class="a10" d="M198.8 86.7l-1.7-0.5l-1.3 0z"/>
<path class="a11" d="M196.2 88.6l7.1-0.5l-4.5-1.4l-3-0.5l-5.9 0.3z"/>
<path class="o" d="M196.2 88.6l7.1-0.5l-6.2-1.9l-7.2 0.3z"/>
<path class="c g" d="M250 94.4l6.8 3.5l-6.6 0.8l-6.7-3.8z"/>
<path class="a10" d="M135.1 94.7l4.7-3.8l-9.5-2.1l-1.2 0.9z"/>
<path class="a11" d="M139.8 90.9l2.7-2.1l-6-4.9l-6.2 4.9z"/>
<path class="o" d="M135.1 94.7l7.4-5.9l-6-4.9l-7.4 5.8z"/>
<path class="a10" d="M216.3 90l0.4 0l-6.3-1.3l-4.8-0.4z"/>
<path class="a11" d="M209.6 89.5l6.7 0.5l-10.7-1.7l-2.3-0.2z"/>
<path class="o" d="M209.6 89.5l7.1 0.5l-6.3-1.3l-7.1-0.6z"/>
<path class="c g" d="M236.6 92.4l6.9 2.5l-6.5 0.1l-6.9-2.7z"/>
<path class="c g" d="M223.1 90.8l7 1.5l-6.4-0.6l-7-1.7z"/>
<path class="a9" d="M114.3 105l5-5.5l-9.2-2.3l-1.7 1.8z"/>
<path class="a10" d="M119.3 99.5l2.4-2.8l-5.9-5.7l-5.7 6.2z"/>
<path class="o" d="M114.3 105l7.4-8.3l-5.9-5.7l-7.4 8z"/>
<path class="c a11" d="M148.5 93.1l7.4-4.9l-6.1-4.2l-7.3 4.8z"/>
<path class="a8" d="M107 114.5l4.2-5.5l-8.7-2.5l-1.4 1.8z"/>
<path class="a9" d="M111.2 109l3.1-4l-5.9-6l-5.9 7.5z"/>
<path class="o" d="M107 114.5l7.3-9.5l-5.9-6l-7.3 9.3z"/>
<path class="a2" d="M77.7 164.8l2.8-5.7l-7.9-2.9l-0.7 1.5z"/>
<path class="a3" d="M80.5 159.1l4-7.8l-7.8-3l-4.1 7.9z"/>
<path class="a4" d="M84.5 151.3l0.4-0.9l-5.8-6.8l-2.4 4.7z"/>
<path class="o" d="M77.7 164.8l7.2-14.4l-5.8-6.8l-7.2 14.1z"/>
<path class="c a10" d="M127.7 102l7.4-7.3l-6-5l-7.4 7z"/>
<path class="c a11" d="M161.9 91.9l7.4-3.9l-6.1-3.5l-7.3 3.7z"/>
<path class="a7" d="M99.6 125.2l5-7.2l-8.5-2.6l-2.4 3.5z"/>
<path class="a8" d="M104.6 118l2.4-3.5l-5.9-6.2l-5 7.1z"/>
<path class="o" d="M99.6 125.2l7.4-10.7l-5.9-6.2l-7.4 10.6z"/>
<path class="a4" d="M84.9 150.4l4-7.2l-8-2.8l-1.8 3.2z"/>
<path class="a5" d="M88.9 143.2l3.3-6l-3.3-3.7l-3.4-1.3l-4.6 8.2z"/>
<path class="a6" d="M88.9 133.5l-2.5-2.9l-0.9 1.6z"/>
<path class="o" d="M84.9 150.4l7.3-13.2l-5.8-6.6l-7.3 13z"/>
<path class="a5" d="M92.2 137.2l1.4-2.2l-4.7-1.5z"/>
<path class="a6" d="M93.6 135l5.1-8.4l-8.1-2.7l-4.2 6.7l2.5 2.9z"/>
<path class="a7" d="M98.7 126.6l0.9-1.4l-5.9-6.3l-3.1 5z"/>
<path class="o" d="M92.2 137.2l7.4-12l-5.9-6.3l-7.3 11.7z"/>
<path class="c a11" d="M175.4 91l7.3-2.9l-6.2-2.8l-7.2 2.7z"/>
<path class="a10" d="M141.1 99.3l6.7-5.6l-8-2.8l-4.7 3.8z"/>
<path class="a11" d="M147.8 93.7l0.7-0.6l-6-4.3l-2.7 2.1z"/>
<path class="o" d="M141.1 99.3l7.4-6.2l-6-4.3l-7.4 5.9z"/>
<path class="a9" d="M120.3 110.5l7.2-8.4l-8.2-2.6l-5 5.5z"/>
<path class="a10" d="M127.5 102.1l0.2-0.1l-6-5.3l-2.4 2.8z"/>
<path class="o" d="M120.3 110.5l7.4-8.5l-6-5.3l-7.4 8.3z"/>
<path class="c a11" d="M188.9 90.4l7.3-1.8l-6.3-2.1l-7.2 1.6z"/>
<path class="c a11" d="M202.4 90.3l7.2-0.8l-6.3-1.4l-7.1 0.5z"/>
<path class="a1" d="M83.5 171.4l0.6-1.3l-2.7-1.1z"/>
<path class="a2" d="M84.1 170.1l4-7.8l-7.6-3.2l-2.8 5.7l3.7 4.2z"/>
<path class="a3" d="M88.1 162.3l2.7-5.5l-4.3-4.7l-2-0.8l-4 7.8z"/>
<path class="a4" d="M86.5 152.1l-1.6-1.7l-0.4 0.9z"/>
<path class="o" d="M83.5 171.4l7.3-14.6l-5.9-6.4l-7.2 14.4z"/>
<path class="a8" d="M112.9 120.2l6.4-8.4l-8.1-2.8l-4.2 5.5z"/>
<path class="a9" d="M119.3 111.8l1-1.3l-6-5.5l-3.1 4z"/>
<path class="o" d="M112.9 120.2l7.4-9.7l-6-5.5l-7.3 9.5z"/>
<path class="a10" d="M217.1 90l-0.4 0l-0.4 0z"/>
<path class="a11" d="M216 90.5l7.1 0.3l-6-0.8l-0.8 0l-6.7-0.5z"/>
<path class="o" d="M216 90.5l7.1 0.3l-6.4-0.8l-7.1-0.5z"/>
<path class="a10" d="M154.6 97l-0.6-0.3z"/>
<path class="a11" d="M154.6 97l7.3-5.1l-6-3.7l-7.4 4.9l5.5 3.6z"/>
<path class="o" d="M154.6 97l7.3-5.1l-6-3.7l-7.4 4.9z"/>
<path class="c g" d="M229.6 91.1l7 1.3l-6.5-0.1l-7-1.5z"/>
<path class="a3" d="M90.8 156.8l1.4-2.5l-5.7-2.2z"/>
<path class="a4" d="M92.2 154.3l4.4-8.1l-7.7-3l-4 7.2l1.6 1.7z"/>
<path class="a5" d="M96.6 146.2l1.5-2.8l-5.9-6.2l-3.3 6z"/>
<path class="o" d="M90.8 156.8l7.3-13.4l-5.9-6.2l-7.3 13.2z"/>
<path class="a6" d="M105.5 131.2l1.1-1.6l-4.2-1.6z"/>
<path class="a7" d="M106.6 129.6l5.8-8.7l-7.8-2.9l-5 7.2l2.8 2.8z"/>
<path class="a8" d="M112.4 120.9l0.5-0.7l-5.9-5.7l-2.4 3.5z"/>
<path class="o" d="M105.5 131.2l7.4-11l-5.9-5.7l-7.4 10.7z"/>
<path class="c g" d="M243.1 92l6.9 2.4l-6.5 0.5l-6.9-2.5z"/>
<path class="c g" d="M270.3 95l6.6 4.4l-6.8 1.9l-6.6-4.6z"/>
<path class="a9" d="M133.7 106.8l1.8-1.8l-7.2-2.6z"/>
<path class="a10" d="M135.5 105l5.6-5.7l-6-4.6l-7.4 7.3l0.6 0.4z"/>
<path class="o" d="M133.7 106.8l7.4-7.5l-6-4.6l-7.4 7.3z"/>
<path class="c g" d="M256.7 93.3l6.8 3.4l-6.7 1.2l-6.8-3.5z"/>
<path class="a5" d="M98.1 143.4l3.3-5.4l-7.8-3l-1.4 2.2z"/>
<path class="a6" d="M101.4 138l4.1-6.8l-3.1-3.2l-3.7-1.4l-5.1 8.4z"/>
<path class="a7" d="M102.4 128l-2.8-2.8l-0.9 1.4z"/>
<path class="o" d="M98.1 143.4l7.4-12.2l-5.9-6l-7.4 12z"/>
<path class="c a11" d="M168.1 95.1l7.3-4.1l-6.1-3l-7.4 3.9z"/>
<path class="a8" d="M126.3 115.5l0.6-0.7l-2.6-1z"/>
<path class="a9" d="M126.9 114.8l6.8-8l-5.4-4.4l-0.8-0.3l-7.2 8.4l4 3.3z"/>
<path class="a10" d="M128.3 102.4l-0.6-0.4l-0.2 0.1z"/>
<path class="o" d="M126.3 115.5l7.4-8.7l-6-4.8l-7.4 8.5z"/>
<path class="a10" d="M147.1 103.4l7.5-6.4l-0.6-0.3l-6.2-3l-6.7 5.6z"/>
<path class="a11" d="M154 96.7l-5.5-3.6l-0.7 0.6z"/>
<path class="o" d="M147.1 103.4l7.5-6.4l-6.1-3.9l-7.4 6.2z"/>
<path class="c a11" d="M181.6 93.5l7.3-3.1l-6.2-2.3l-7.3 2.9z"/>
<path class="a1" d="M89.4 177.6l2-4.2l-7.3-3.3l-0.6 1.3z"/>
<path class="a2" d="M91.4 173.4l3.9-7.9l-7.2-3.2l-4 7.8z"/>
<path class="a3" d="M95.3 165.5l1.4-2.7l-5.9-6l-2.7 5.5z"/>
<path class="o" d="M89.4 177.6l7.3-14.8l-5.9-6l-7.3 14.6z"/>
<path class="a7" d="M118.8 125.5l1.2-1.6l-5.3-2.1z"/>
<path class="a8" d="M120 123.9l6.3-8.4l-2-1.7l-5-2l-6.4 8.4l1.8 1.6z"/>
<path class="a9" d="M124.3 113.8l-4-3.3l-1 1.3z"/>
<path class="o" d="M118.8 125.5l7.5-10l-6-5l-7.4 9.7z"/>
<path class="a11" d="M196.4 91.9l6-1.6l-6.2-1.7l-7.3 1.8l5.7 1.7z"/>
<path class="a12" d="M195.2 92.3l1.2-0.4l-1.8 0.2z"/>
<path class="o" d="M195.2 92.3l7.2-2l-6.2-1.7l-7.3 1.8z"/>
<path class="a3" d="M96.7 162.8l2.8-5.3l-7.3-3.2l-1.4 2.5z"/>
<path class="a4" d="M99.5 157.5l4.4-8l-7.3-3.3l-4.4 8.1z"/>
<path class="a5" d="M103.9 149.5l0.1-0.4l-5.9-5.7l-1.5 2.8z"/>
<path class="o" d="M96.7 162.8l7.3-13.7l-5.9-5.7l-7.3 13.4z"/>
<path class="a6" d="M111.4 136.7l2.7-4.1l-7.5-3l-1.1 1.6z"/>
<path class="a7" d="M114.1 132.6l4.7-7.1l-4.1-3.7l-2.3-0.9l-5.8 8.7z"/>
<path class="a8" d="M114.7 121.8l-1.8-1.6l-0.5 0.7z"/>
<path class="o" d="M111.4 136.7l7.4-11.2l-5.9-5.3l-7.4 11z"/>
<path class="a5" d="M104 149.1l4.8-8l-7.4-3.1l-3.3 5.4z"/>
<path class="a6" d="M108.8 141.1l2.6-4.4l-5.9-5.5l-4.1 6.8z"/>
<path class="o" d="M104 149.1l7.4-12.4l-5.9-5.5l-7.4 12.2z"/>
<path class="a10" d="M154.6 97l0.9 0.6z"/>
<path class="a11" d="M160.7 100.5l7.4-5.4l-6.2-3.2l-7.3 5.1l0.9 0.6z"/>
<path class="o" d="M160.7 100.5l7.4-5.4l-6.2-3.2l-7.3 5.1z"/>
<path class="a9" d="M139.7 111.1l2.8-2.9l-7-3.2l-1.8 1.8z"/>
<path class="a10" d="M142.5 108.2l4.6-4.8l-6-4.1l-5.6 5.7z"/>
<path class="o" d="M139.7 111.1l7.4-7.7l-6-4.1l-7.4 7.5z"/>
<path class="a11" d="M214.5 90.7l1.5-0.2l-6.4-1l-7.2 0.8l2.2 0.4z"/>
<path class="a12" d="M208.8 91.4l5.7-0.7l-9.9 0z"/>
<path class="o" d="M208.8 91.4l7.2-0.9l-6.4-1l-7.2 0.8z"/>
<path class="a11" d="M228.6 91l1 0.1l-6.5-0.3l-7.1-0.3l0.9 0z"/>
<path class="a12" d="M222.5 91l6.1 0l-11.7-0.5z"/>
<path class="o" d="M222.5 91l7.1 0.1l-6.5-0.3l-7.1-0.3z"/>
<path class="c a11" d="M174.2 97.8l7.4-4.3l-6.2-2.5l-7.3 4.1z"/>
<path class="c g" d="M236.1 90.9l7 1.1l-6.5 0.4l-7-1.3z"/>
<path class="a8" d="M132.3 120.1l1.7-2.1l-7.1-3.2l-0.6 0.7z"/>
<path class="a9" d="M134 118l5.7-6.9l-6-4.3l-6.8 8z"/>
<path class="o" d="M132.3 120.1l7.4-9l-6-4.3l-7.4 8.7z"/>
<path class="c g" d="M249.8 91.1l6.9 2.2l-6.7 1.1l-6.9-2.4z"/>
<path class="a1" d="M95.3 183.3l3.1-6.4l-7-3.5l-2 4.2z"/>
<path class="a2" d="M98.4 176.9l3.8-7.9l-6.9-3.5l-3.9 7.9z"/>
<path class="a3" d="M102.2 169l0.4-0.7l-5.9-5.5l-1.4 2.7z"/>
<path class="o" d="M95.3 183.3l7.3-15l-5.9-5.5l-7.3 14.8z"/>
<path class="a10" d="M153.2 107.1l7.2-6.4l-4.9-3.1l-0.9-0.6l-7.5 6.4z"/>
<path class="a11" d="M160.4 100.7l0.3-0.2l-5.2-2.9z"/>
<path class="o" d="M153.2 107.1l7.5-6.6l-6.1-3.5l-7.5 6.4z"/>
<path class="c g" d="M263.5 91.7l6.8 3.3l-6.8 1.7l-6.8-3.4z"/>
<path class="c g" d="M277.2 92.7l6.6 4.3l-6.9 2.4l-6.6-4.4z"/>
<path class="a7" d="M124.8 130.3l2.3-3.1l-7.1-3.3l-1.2 1.6z"/>
<path class="a8" d="M127.1 127.2l5.2-7.1l-6-4.6l-6.3 8.4z"/>
<path class="o" d="M124.8 130.3l7.5-10.2l-6-4.6l-7.5 10z"/>
<path class="a11" d="M187.9 95.6l2.5-1.2l4.2-2.3l-5.7-1.7l-7.3 3.1z"/>
<path class="a12" d="M190.4 94.4l4.8-2.1l-0.6-0.2z"/>
<path class="o" d="M187.9 95.6l7.3-3.3l-6.3-1.9l-7.3 3.1z"/>
<path class="a3" d="M102.6 168.3l3.9-7.3l-7-3.5l-2.8 5.3z"/>
<path class="a4" d="M106.5 161l3.5-6.6l-4.9-4.3l-1.2-0.6l-4.4 8z"/>
<path class="a5" d="M105.1 150.1l-1.1-1l-0.1 0.4z"/>
<path class="o" d="M102.6 168.3l7.4-13.9l-6-5.3l-7.3 13.7z"/>
<path class="a6" d="M117.4 141.7l3.7-5.7l-7-3.4l-2.7 4.1z"/>
<path class="a7" d="M121.1 136l3.7-5.7l-6-4.8l-4.7 7.1z"/>
<path class="o" d="M117.4 141.7l7.4-11.4l-6-4.8l-7.4 11.2z"/>
<path class="a4" d="M110 154.4l0.9-1.6l-5.8-2.7z"/>
<path class="a5" d="M110.9 152.8l4.9-8.3l-7-3.4l-4.8 8l1.1 1z"/>
<path class="a6" d="M115.8 144.5l1.6-2.8l-6-5l-2.6 4.4z"/>
<path class="o" d="M110 154.4l7.4-12.7l-6-5l-7.4 12.4z"/>
<path class="a9" d="M145.8 115l3-3.2l-6.3-3.6l-2.8 2.9z"/>
<path class="a10" d="M148.8 111.8l4.4-4.7l-6.1-3.7l-4.6 4.8z"/>
<path class="o" d="M145.8 115l7.4-7.9l-6.1-3.7l-7.4 7.7z"/>
<path class="a11" d="M204.6 90.7l-2.2-0.4l-6 1.6z"/>
<path class="a12" d="M201.5 93.7l7.3-2.3l-4.2-0.7l-8.2 1.2l-1.2 0.4z"/>
<path class="o" d="M201.5 93.7l7.3-2.3l-6.4-1.1l-7.2 2z"/>
<path class="c a11" d="M166.8 103.4l7.4-5.6l-6.1-2.7l-7.4 5.4z"/>
<path class="a11" d="M216.9 90.5l-0.9 0l-1.5 0.2z"/>
<path class="a12" d="M215.3 92.1l7.2-1.1l-5.6-0.5l-2.4 0.2l-5.7 0.7z"/>
<path class="o" d="M215.3 92.1l7.2-1.1l-6.5-0.5l-7.2 0.9z"/>
<path class="a8" d="M138.3 124.2l2.2-2.6l-6.5-3.6l-1.7 2.1z"/>
<path class="a9" d="M140.5 121.6l5.3-6.6l-6.1-3.9l-5.7 6.9z"/>
<path class="o" d="M138.3 124.2l7.5-9.2l-6.1-3.9l-7.4 9z"/>
<path class="a0" d="M101.2 188.6l0.1-0.2l-1.1-0.6z"/>
<path class="a1" d="M101.3 188.4l3.8-7.9l-6.7-3.6l-3.1 6.4l4.9 4.5z"/>
<path class="a2" d="M105.1 180.5l3.4-7.2l-2.9-2.4l-3.4-1.9l-3.8 7.9z"/>
<path class="a3" d="M105.6 170.9l-3-2.6l-0.4 0.7z"/>
<path class="o" d="M101.2 188.6l7.3-15.3l-5.9-5l-7.3 15z"/>
<path class="c a11" d="M180.5 100.1l7.4-4.5l-6.3-2.1l-7.4 4.3z"/>
<path class="c g" d="M229 91l7.1-0.1l-6.5 0.2l-7.1-0.1z"/>
<path class="a10" d="M159.4 110.3l5.8-5.4l-4.8-4.2l-7.2 6.4z"/>
<path class="a11" d="M165.2 104.9l1.6-1.5l-6.1-2.9l-0.3 0.2z"/>
<path class="o" d="M159.4 110.3l7.4-6.9l-6.1-2.9l-7.5 6.6z"/>
<path class="a7" d="M130.9 134.7l2.8-4l-6.6-3.5l-2.3 3.1z"/>
<path class="a8" d="M133.7 130.7l4.6-6.5l-6-4.1l-5.2 7.1z"/>
<path class="o" d="M130.9 134.7l7.4-10.5l-6-4.1l-7.5 10.2z"/>
<path class="a2" d="M108.5 173.3l0.4-0.7l-3.3-1.7z"/>
<path class="a3" d="M108.9 172.6l4.3-8l-6.7-3.6l-3.9 7.3l3 2.6z"/>
<path class="a4" d="M113.2 164.6l2.8-5.4l-6-4.8l-3.5 6.6z"/>
<path class="o" d="M108.5 173.3l7.5-14.1l-6-4.8l-7.4 13.9z"/>
<path class="a6" d="M123.4 146.3l4.3-6.8l-6.6-3.5l-3.7 5.7z"/>
<path class="a7" d="M127.7 139.5l3.2-4.8l-6.1-4.4l-3.7 5.7z"/>
<path class="o" d="M123.4 146.3l7.5-11.6l-6.1-4.4l-7.4 11.4z"/>
<path class="a4" d="M116 159.2l1.6-2.8l-6.7-3.6l-0.9 1.6z"/>
<path class="a5" d="M117.6 156.4l4.8-8.3l-6.6-3.6l-4.9 8.3z"/>
<path class="a6" d="M122.4 148.1l1-1.8l-6-4.6l-1.6 2.8z"/>
<path class="o" d="M116 159.2l7.4-12.9l-6-4.6l-7.4 12.7z"/>
<path class="c g" d="M242.8 90.2l7 0.9l-6.7 0.9l-7-1.1z"/>
<path class="a11" d="M190.4 94.4l-2.5 1.2l0.3 0z"/>
<path class="a12" d="M194.2 97.2l7.3-3.5l-6.3-1.4l-4.8 2.1l-2.2 1.2z"/>
<path class="o" d="M194.2 97.2l7.3-3.5l-6.3-1.4l-7.3 3.3z"/>
<path class="c g" d="M256.6 89.7l6.9 2l-6.8 1.6l-6.9-2.2z"/>
<path class="a9" d="M151.9 118.5l2.5-2.8l-5.6-3.9l-3 3.2z"/>
<path class="a10" d="M154.4 115.7l5-5.4l-6.2-3.2l-4.4 4.7z"/>
<path class="o" d="M151.9 118.5l7.5-8.2l-6.2-3.2l-7.4 7.9z"/>
<path class="c g" d="M270.4 89.7l6.8 3l-6.9 2.3l-6.8-3.3z"/>
<path class="c a11" d="M173.1 106l7.4-5.9l-6.3-2.3l-7.4 5.6z"/>
<path class="c a12" d="M208 94.6l7.3-2.5l-6.5-0.7l-7.3 2.3z"/>
<path class="a0" d="M107.1 193.5l0.7-1.3l-6.5-3.8l-0.1 0.2z"/>
<path class="a1" d="M107.8 192.2l3.7-7.9l-6.4-3.8l-3.8 7.9z"/>
<path class="a2" d="M111.5 184.3l3-6.3l-6-4.7l-3.4 7.2z"/>
<path class="o" d="M107.1 193.5l7.4-15.5l-6-4.7l-7.3 15.3z"/>
<path class="a8" d="M144.4 127.9l2-2.5l-5.9-3.8l-2.2 2.6z"/>
<path class="a9" d="M146.4 125.4l5.5-6.9l-6.1-3.5l-5.3 6.6z"/>
<path class="o" d="M144.4 127.9l7.5-9.4l-6.1-3.5l-7.5 9.2z"/>
<path class="a2" d="M114.5 178l0.8-1.6l-6.4-3.8l-0.4 0.7z"/>
<path class="a3" d="M115.3 176.4l4.2-8.1l-6.3-3.7l-4.3 8z"/>
<path class="a4" d="M119.5 168.3l2.5-4.7l-6-4.4l-2.8 5.4z"/>
<path class="o" d="M114.5 178l7.5-14.4l-6-4.4l-7.5 14.1z"/>
<path class="a7" d="M136.9 138.6l2.9-4.1l-6.1-3.8l-2.8 4z"/>
<path class="a8" d="M139.8 134.5l4.6-6.6l-6.1-3.7l-4.6 6.5z"/>
<path class="o" d="M136.9 138.6l7.5-10.7l-6.1-3.7l-7.4 10.5z"/>
<path class="a12" d="M228.8 91l0.2 0l-6.5 0l-7.2 1.1l3.4 0.1z"/>
<path class="a13" d="M221.8 92.3l7-1.3l-10.1 1.2z"/>
<path class="o" d="M221.8 92.3l7.2-1.3l-6.5 0l-7.2 1.1z"/>
<path class="a11" d="M188.2 95.6l-0.3 0l-7.4 4.5l5.4 1.6z"/>
<path class="a12" d="M186.8 101.9l7.4-4.7l-6-1.6l-2.3 6.1z"/>
<path class="o" d="M186.8 101.9l7.4-4.7l-6.3-1.6l-7.4 4.5z"/>
<path class="a4" d="M122 163.6l1.9-3.4l-6.3-3.8l-1.6 2.8z"/>
<path class="a5" d="M123.9 160.2l4.8-8.3l-6.3-3.8l-4.8 8.3z"/>
<path class="a6" d="M128.7 151.9l0.7-1.4l-6-4.2l-1 1.8z"/>
<path class="o" d="M122 163.6l7.4-13.1l-6-4.2l-7.4 12.9z"/>
<path class="a10" d="M165.6 113.1l3.7-3.6l-4.1-4.6l-5.8 5.4z"/>
<path class="a11" d="M169.3 109.5l3.8-3.5l-6.3-2.6l-1.6 1.5z"/>
<path class="o" d="M165.6 113.1l7.5-7.1l-6.3-2.6l-7.4 6.9z"/>
<path class="a6" d="M129.4 150.5l4.6-7.2l-6.3-3.8l-4.3 6.8z"/>
<path class="a7" d="M134 143.3l2.9-4.7l-6-3.9l-3.2 4.8z"/>
<path class="o" d="M129.4 150.5l7.5-11.9l-6-3.9l-7.5 11.6z"/>
<path class="c g" d="M235.6 90.4l7.2-0.2l-6.7 0.7l-7.1 0.1z"/>
<path class="a9" d="M158.1 121.5l1.3-1.5l-5-4.3l-2.5 2.8z"/>
<path class="a10" d="M159.4 120l6.2-6.9l-6.2-2.8l-5 5.4z"/>
<path class="o" d="M158.1 121.5l7.5-8.4l-6.2-2.8l-7.5 8.2z"/>
<path class="c a12" d="M200.6 98.3l7.4-3.7l-6.5-0.9l-7.3 3.5z"/>
<path class="c g" d="M249.5 88.9l7.1 0.8l-6.8 1.4l-7-0.9z"/>
<path class="a0" d="M113.1 198l0.9-1.8l-6.2-4l-0.7 1.3z"/>
<path class="a1" d="M114 196.2l3.7-7.9l-6.2-4l-3.7 7.9z"/>
<path class="a2" d="M117.7 188.3l2.9-6.1l-6.1-4.2l-3 6.3z"/>
<path class="o" d="M113.1 198l7.5-15.8l-6.1-4.2l-7.4 15.5z"/>
<path class="a11" d="M179.4 108l6.8-5.5l-0.3-0.8l-5.4-1.6l-7.4 5.9z"/>
<path class="a12" d="M186.2 102.5l0.6-0.6l-0.9-0.2z"/>
<path class="o" d="M179.4 108l7.4-6.1l-6.3-1.8l-7.4 5.9z"/>
<path class="a8" d="M150.6 131.1l1.2-1.6l-5.4-4.1l-2 2.5z"/>
<path class="a9" d="M151.8 129.5l6.3-8l-6.2-3l-5.5 6.9z"/>
<path class="o" d="M150.6 131.1l7.5-9.6l-6.2-3l-7.5 9.4z"/>
<path class="c g" d="M263.4 87.8l7 1.9l-6.9 2l-6.9-2z"/>
<path class="a2" d="M120.6 182.2l0.9-1.8l-6.2-4l-0.8 1.6z"/>
<path class="a3" d="M121.5 180.4l4.1-8.1l-6.1-4l-4.2 8.1z"/>
<path class="a4" d="M125.6 172.3l2.4-4.7l-6-4l-2.5 4.7z"/>
<path class="o" d="M120.6 182.2l7.4-14.6l-6-4l-7.5 14.4z"/>
<path class="a12" d="M218.7 92.2l-3.4-0.1l-7.3 2.5l2.4 0.1z"/>
<path class="a13" d="M214.5 95l7.3-2.7l-3.1-0.1l-8.3 2.5z"/>
<path class="o" d="M214.5 95l7.3-2.7l-6.5-0.2l-7.3 2.5z"/>
<path class="a7" d="M143.1 142l2.3-3.4l-5.6-4.1l-2.9 4.1z"/>
<path class="a8" d="M145.4 138.6l5.2-7.5l-6.2-3.2l-4.6 6.6z"/>
<path class="o" d="M143.1 142l7.5-10.9l-6.2-3.2l-7.5 10.7z"/>
<path class="a4" d="M128 167.6l2-3.5l-6.1-3.9l-1.9 3.4z"/>
<path class="a5" d="M130 164.1l4.6-8.3l-5.9-3.9l-4.8 8.3z"/>
<path class="a6" d="M134.6 155.8l0.9-1.6l-6.1-3.7l-0.7 1.4z"/>
<path class="o" d="M128 167.6l7.5-13.4l-6.1-3.7l-7.4 13.1z"/>
<path class="a6" d="M135.5 154.2l4.3-6.9l-5.8-4l-4.6 7.2z"/>
<path class="a7" d="M139.8 147.3l3.3-5.3l-6.2-3.4l-2.9 4.7z"/>
<path class="o" d="M135.5 154.2l7.6-12.2l-6.2-3.4l-7.5 11.9z"/>
<path class="a10" d="M171.9 115.3l0.9-0.9l-3.5-4.9l-3.7 3.6z"/>
<path class="a11" d="M172.8 114.4l6.6-6.4l-6.3-2l-3.8 3.5z"/>
<path class="o" d="M171.9 115.3l7.5-7.3l-6.3-2l-7.5 7.1z"/>
<path class="c a12" d="M193.2 103.3l7.4-5l-6.4-1.1l-7.4 4.7z"/>
<path class="a12" d="M229.1 90.9l-0.1 0.1l-0.2 0z"/>
<path class="a13" d="M228.4 92l7.2-1.6l-6.5 0.5l-0.3 0.1l-7 1.3z"/>
<path class="o" d="M228.4 92l7.2-1.6l-6.6 0.6l-7.2 1.3z"/>
<path class="a9" d="M159.4 120l-1.3 1.5l4.4 1.7z"/>
<path class="a10" d="M164.3 124l7.6-8.7l-6.3-2.2l-6.2 6.9l3.1 3.2z"/>
<path class="o" d="M164.3 124l7.6-8.7l-6.3-2.2l-7.5 8.4z"/>
<path class="a0" d="M119.2 201.9l0.7-1.6l-5.9-4.1l-0.9 1.8z"/>
<path class="a1" d="M119.9 200.3l3.7-7.8l-5.9-4.2l-3.7 7.9z"/>
<path class="a2" d="M123.6 192.5l3-6.6l-6-3.7l-2.9 6.1z"/>
<path class="o" d="M119.2 201.9l7.4-16l-6-3.7l-7.5 15.8z"/>
<path class="c g" d="M242.4 89.4l7.1-0.5l-6.7 1.3l-7.2 0.2z"/>
<path class="a12" d="M210.4 94.7l-2.4-0.1l-7.4 3.7l3.9 0.3z"/>
<path class="a13" d="M207.1 98.9l7.4-3.9l-4.1-0.3l-5.9 3.9z"/>
<path class="o" d="M207.1 98.9l7.4-3.9l-6.5-0.4l-7.4 3.7z"/>
<path class="a11" d="M185.7 109.6l1.3-1.1l-0.8-6l-6.8 5.5z"/>
<path class="a12" d="M187 108.5l6.2-5.2l-6.4-1.4l-0.6 0.6z"/>
<path class="o" d="M185.7 109.6l7.5-6.3l-6.4-1.4l-7.4 6.1z"/>
<path class="a8" d="M151.8 129.5l-1.2 1.6l6 2.7z"/>
<path class="a9" d="M156.8 133.9l7.1-9.4l-1.4-1.3l-4.4-1.7l-6.3 8l4.8 4.3z"/>
<path class="a10" d="M163.9 124.5l0.4-0.5l-1.8-0.8z"/>
<path class="o" d="M156.8 133.9l7.5-9.9l-6.2-2.5l-7.5 9.6z"/>
<path class="a2" d="M126.6 185.9l0.7-1.4l-5.8-4.1l-0.9 1.8z"/>
<path class="a3" d="M127.3 184.5l4.1-8l-5.8-4.2l-4.1 8.1z"/>
<path class="a4" d="M131.4 176.5l2.7-5.4l-6.1-3.5l-2.4 4.7z"/>
<path class="o" d="M126.6 185.9l7.5-14.8l-6.1-3.5l-7.4 14.6z"/>
<path class="a7" d="M149.2 145l1.5-2.2l-5.3-4.2l-2.3 3.4z"/>
<path class="a8" d="M150.7 142.8l6-8.9l-0.1-0.1l-6-2.7l-5.2 7.5z"/>
<path class="a9" d="M156.7 133.9l0.1 0l-0.2-0.1z"/>
<path class="o" d="M149.2 145l7.6-11.1l-6.2-2.8l-7.5 10.9z"/>
<path class="c g" d="M256.4 87.2l7 0.6l-6.8 1.9l-7.1-0.8z"/>
<path class="a4" d="M134.1 171.1l1.6-2.8l-5.7-4.2l-2 3.5z"/>
<path class="a5" d="M135.7 168.3l4.6-8.3l-5.7-4.2l-4.6 8.3z"/>
<path class="a6" d="M140.3 160l1.4-2.6l-6.2-3.2l-0.9 1.6z"/>
<path class="o" d="M134.1 171.1l7.6-13.7l-6.2-3.2l-7.5 13.4z"/>
<path class="a6" d="M141.7 157.4l3.6-5.9l-5.5-4.2l-4.3 6.9z"/>
<path class="a7" d="M145.3 151.5l3.9-6.5l-6.1-3l-3.3 5.3z"/>
<path class="o" d="M141.7 157.4l7.5-12.4l-6.1-3l-7.6 12.2z"/>
<path class="c a13" d="M221.1 94.9l7.3-2.9l-6.6 0.3l-7.3 2.7z"/>
<path class="a10" d="M172.8 114.4l-0.9 0.9l1.7 0.5z"/>
<path class="a11" d="M178.2 117.1l7.5-7.5l-6.3-1.6l-6.6 6.4l0.8 1.4z"/>
<path class="o" d="M178.2 117.1l7.5-7.5l-6.3-1.6l-7.5 7.3z"/>
<path class="a12" d="M199.6 104.1l3.2-2.2l1.7-3.3l-3.9-0.3l-7.4 5z"/>
<path class="a13" d="M202.8 101.9l4.3-3l-2.6-0.3z"/>
<path class="o" d="M199.6 104.1l7.5-5.2l-6.5-0.6l-7.4 5z"/>
<path class="a0" d="M125.2 205.5l0.4-0.9l-5.7-4.3l-0.7 1.6z"/>
<path class="a1" d="M125.6 204.6l3.7-7.8l-5.7-4.3l-3.7 7.8z"/>
<path class="a2" d="M129.3 196.8l3.5-7.6l-6.2-3.3l-3 6.6z"/>
<path class="o" d="M125.2 205.5l7.6-16.3l-6.2-3.3l-7.4 16z"/>
<path class="a10" d="M170.6 126l5.7-6.6l-2.7-3.6l-1.7-0.5l-7.6 8.7z"/>
<path class="a11" d="M176.3 119.4l1.9-2.3l-4.6-1.3z"/>
<path class="o" d="M170.6 126l7.6-8.9l-6.3-1.8l-7.6 8.7z"/>
<path class="a13" d="M239 89.9l-3.4 0.5l-7.2 1.6l1.2-0.1z"/>
<path class="a14" d="M235.1 91.2l7.3-1.8l-3.4 0.5l-9.4 2z"/>
<path class="o" d="M235.1 91.2l7.3-1.8l-6.8 1l-7.2 1.6z"/>
<path class="a2" d="M132.8 189.2l0.1-0.3l-5.6-4.4l-0.7 1.4z"/>
<path class="a3" d="M132.9 188.9l4.1-8.1l-5.6-4.3l-4.1 8z"/>
<path class="a4" d="M137 180.8l3.3-6.7l-6.2-3l-2.7 5.4z"/>
<path class="o" d="M132.8 189.2l7.5-15.1l-6.2-3l-7.5 14.8z"/>
<path class="a9" d="M163.1 136.1l5.2-6.9l-4.4-4.7l-7.1 9.4z"/>
<path class="a10" d="M168.3 129.2l2.3-3.2l-6.3-2l-0.4 0.5z"/>
<path class="o" d="M163.1 136.1l7.5-10.1l-6.3-2l-7.5 9.9z"/>
<path class="a11" d="M187 108.5l-1.3 1.1l1.3 0.2z"/>
<path class="a12" d="M192.1 110.6l7.5-6.5l-6.4-0.8l-6.2 5.2l0 1.3z"/>
<path class="o" d="M192.1 110.6l7.5-6.5l-6.4-0.8l-7.5 6.3z"/>
<path class="c a13" d="M213.7 99l7.4-4.1l-6.6 0.1l-7.4 3.9z"/>
<path class="a4" d="M140.3 174.1l0.8-1.4l-5.4-4.4l-1.6 2.8z"/>
<path class="a5" d="M141.1 172.7l4.5-8.3l-5.3-4.4l-4.6 8.3z"/>
<path class="a6" d="M145.6 164.4l2.3-4.2l-6.2-2.8l-1.4 2.6z"/>
<path class="o" d="M140.3 174.1l7.6-13.9l-6.2-2.8l-7.6 13.7z"/>
<path class="c g" d="M249.2 87.9l7.2-0.7l-6.9 1.7l-7.1 0.5z"/>
<path class="a7" d="M155.5 147.5l0.1-0.2l-4.9-4.5l-1.5 2.2z"/>
<path class="a8" d="M155.6 147.3l5.9-8.9l-4.8-4.5l-6 8.9z"/>
<path class="a9" d="M161.5 138.4l1.6-2.3l-6.3-2.2l-0.1 0z"/>
<path class="o" d="M155.5 147.5l7.6-11.4l-6.3-2.2l-7.6 11.1z"/>
<path class="a6" d="M147.9 160.2l2.5-4.3l-5.1-4.4l-3.6 5.9z"/>
<path class="a7" d="M150.4 155.9l5.1-8.4l-6.3-2.5l-3.9 6.5z"/>
<path class="o" d="M147.9 160.2l7.6-12.7l-6.3-2.5l-7.5 12.4z"/>
<path class="a11" d="M184.6 118.4l4-4.2l-1.6-4.4l-1.3-0.2l-7.5 7.5z"/>
<path class="a12" d="M188.6 114.2l3.5-3.6l-5.1-0.8z"/>
<path class="o" d="M184.6 118.4l7.5-7.8l-6.4-1l-7.5 7.5z"/>
<path class="a13" d="M229.6 91.9l-1.2 0.1l-7.3 2.9l0.9-0.1z"/>
<path class="a14" d="M227.7 94.2l7.4-3l-5.5 0.7l-7.6 2.9z"/>
<path class="o" d="M227.7 94.2l7.4-3l-6.7 0.8l-7.3 2.9z"/>
<path class="a0" d="M125.6 204.6l-0.4 0.9l3.7 1.9z"/>
<path class="a1" d="M131.4 208.6l3.3-7.4l-5.4-4.4l-3.7 7.8l3.3 2.8z"/>
<path class="a2" d="M134.7 201.2l3.6-7.9l-4.3-3.5l-1.2-0.6l-3.5 7.6z"/>
<path class="a3" d="M138.3 193.3l0.6-1.3l-4.9-2.2z"/>
<path class="o" d="M131.4 208.6l7.5-16.6l-6.1-2.8l-7.6 16.3z"/>
<path class="a12" d="M202.8 101.9l-3.2 2.2l1.8 0.1z"/>
<path class="a13" d="M206.2 104.4l7.5-5.4l-6.6-0.1l-4.3 3l-1.4 2.3z"/>
<path class="o" d="M206.2 104.4l7.5-5.4l-6.6-0.1l-7.5 5.2z"/>
<path class="a10" d="M177 127.5l2.5-3l-3.2-5.1l-5.7 6.6z"/>
<path class="a11" d="M179.5 124.5l5.1-6.1l-6.4-1.3l-1.9 2.3z"/>
<path class="o" d="M177 127.5l7.6-9.1l-6.4-1.3l-7.6 8.9z"/>
<path class="a2" d="M132.9 188.9l-0.1 0.3l1.2 0.6z"/>
<path class="a3" d="M138.9 192l3.4-6.7l-5.3-4.5l-4.1 8.1l1.1 0.9z"/>
<path class="a4" d="M142.3 185.3l4-8.1l-1.5-1.2l-4.5-1.9l-3.3 6.7z"/>
<path class="a5" d="M146.3 177.2l0.2-0.5l-1.7-0.7z"/>
<path class="o" d="M138.9 192l7.6-15.3l-6.2-2.6l-7.5 15.1z"/>
<path class="a14" d="M247.8 88.2l-5.4 1.2l-7.3 1.8l3.8-0.8z"/>
<path class="a15" d="M241.9 89.8l7.3-1.9l-1.4 0.3l-8.9 2.2z"/>
<path class="o" d="M241.9 89.8l7.3-1.9l-6.8 1.5l-7.3 1.8z"/>
<path class="a9" d="M169.4 137.9l2.8-3.9l-3.9-4.8l-5.2 6.9z"/>
<path class="a10" d="M172.2 134l4.8-6.5l-6.4-1.5l-2.3 3.2z"/>
<path class="o" d="M169.4 137.9l7.6-10.4l-6.4-1.5l-7.5 10.1z"/>
<path class="a4" d="M141.1 172.7l-0.8 1.4l4.5 1.9z"/>
<path class="a5" d="M146.5 176.7l4.2-7.8l-5.1-4.5l-4.5 8.3l3.7 3.3z"/>
<path class="a6" d="M150.7 168.9l3.4-6.4l-6.2-2.3l-2.3 4.2z"/>
<path class="o" d="M146.5 176.7l7.6-14.2l-6.2-2.3l-7.6 13.9z"/>
<path class="a7" d="M155.6 147.3l-0.1 0.2l0.5 0.2z"/>
<path class="a8" d="M161.8 149.6l4.2-6.5l-4.5-4.7l-5.9 8.9l0.4 0.4z"/>
<path class="a9" d="M166 143.1l3.4-5.2l-6.3-1.8l-1.6 2.3z"/>
<path class="o" d="M161.8 149.6l7.6-11.7l-6.3-1.8l-7.6 11.4z"/>
<path class="a12" d="M198.6 111.2l2.3-2.1l0.5-4.9l-1.8-0.1l-7.5 6.5z"/>
<path class="a13" d="M200.9 109.1l5.3-4.7l-4.8-0.2z"/>
<path class="o" d="M198.6 111.2l7.6-6.8l-6.6-0.3l-7.5 6.5z"/>
<path class="a6" d="M154.1 162.5l1.2-2l-4.9-4.6l-2.5 4.3z"/>
<path class="a7" d="M155.3 160.5l5.1-8.6l-4.4-4.2l-0.5-0.2l-5.1 8.4z"/>
<path class="a8" d="M160.4 151.9l1.4-2.3l-5.8-1.9z"/>
<path class="o" d="M154.1 162.5l7.7-12.9l-6.3-2.1l-7.6 12.7z"/>
<path class="a13" d="M222 94.8l-0.9 0.1l-7.4 4.1l2.6-0.2z"/>
<path class="a14" d="M220.3 98.6l7.4-4.4l-5.7 0.6l-5.7 4z"/>
<path class="o" d="M220.3 98.6l7.4-4.4l-6.6 0.7l-7.4 4.1z"/>
<path class="a11" d="M188.6 114.2l-4 4.2l5.3 0.7z"/>
<path class="a12" d="M191.1 119.3l7.5-8.1l-6.5-0.6l-3.5 3.6l1.3 4.9z"/>
<path class="o" d="M191.1 119.3l7.5-8.1l-6.5-0.6l-7.5 7.8z"/>
<path class="a1" d="M137.5 211.2l2.5-5.3l-5.3-4.7l-3.3 7.4z"/>
<path class="a2" d="M140 205.9l3.5-7.9l-5.2-4.7l-3.6 7.9z"/>
<path class="a3" d="M143.5 198l1.7-3.6l-6.3-2.4l-0.6 1.3z"/>
<path class="o" d="M137.5 211.2l7.7-16.8l-6.3-2.4l-7.5 16.6z"/>
<path class="a14" d="M238.9 90.4l-3.8 0.8l-7.4 3l4-0.6z"/>
<path class="a15" d="M234.5 93.1l7.4-3.3l-3 0.6l-7.2 3.2z"/>
<path class="o" d="M234.5 93.1l7.4-3.3l-6.8 1.4l-7.4 3z"/>
<path class="a13" d="M212.8 104.3l0.2-0.2l3.3-5.3l-2.6 0.2l-7.5 5.4z"/>
<path class="a14" d="M213 104.1l7.3-5.5l-4 0.2z"/>
<path class="o" d="M212.8 104.3l7.5-5.7l-6.6 0.4l-7.5 5.4z"/>
<path class="a10" d="M179.5 124.5l-2.5 3l4.5 0.8z"/>
<path class="a11" d="M183.4 128.6l7-8.6l-0.5-0.9l-5.3-0.7l-5.1 6.1l2 3.8z"/>
<path class="a12" d="M190.4 120l0.7-0.7l-1.2-0.2z"/>
<path class="o" d="M183.4 128.6l7.7-9.3l-6.5-0.9l-7.6 9.1z"/>
<path class="a3" d="M145.2 194.4l2.1-4.5l-5-4.6l-3.4 6.7z"/>
<path class="a4" d="M147.3 189.9l4-8.1l-5-4.6l-4 8.1z"/>
<path class="a5" d="M151.3 181.8l1.5-3l-6.3-2.1l-0.2 0.5z"/>
<path class="o" d="M145.2 194.4l7.6-15.6l-6.3-2.1l-7.6 15.3z"/>
<path class="a9" d="M175.8 139.3l0.1-0.2l-3.7-5.1l-2.8 3.9z"/>
<path class="a10" d="M175.9 139.1l6.6-9.3l-1-1.5l-4.5-0.8l-4.8 6.5z"/>
<path class="a11" d="M182.5 129.8l0.9-1.2l-1.9-0.3z"/>
<path class="o" d="M175.8 139.3l7.6-10.7l-6.4-1.1l-7.6 10.4z"/>
<path class="a5" d="M152.8 178.8l2.7-5.2l-4.8-4.7l-4.2 7.8z"/>
<path class="a6" d="M155.5 173.6l4.5-8.3l-1.6-1.5l-4.3-1.3l-3.4 6.4z"/>
<path class="a7" d="M160 165.3l0.5-0.9l-2.1-0.6z"/>
<path class="o" d="M152.8 178.8l7.7-14.4l-6.4-1.9l-7.6 14.2z"/>
<path class="a8" d="M168.1 151.2l2-3.2l-4.1-4.9l-4.2 6.5z"/>
<path class="a9" d="M170.1 148l5.7-8.7l-6.4-1.4l-3.4 5.2z"/>
<path class="o" d="M168.1 151.2l7.7-11.9l-6.4-1.4l-7.6 11.7z"/>
<path class="a6" d="M155.3 160.5l-1.2 2l4.3 1.3z"/>
<path class="a7" d="M160.5 164.4l4.4-7.7l-4.5-4.8l-5.1 8.6l3.1 3.3z"/>
<path class="a8" d="M164.9 156.7l3.2-5.5l-6.3-1.6l-1.4 2.3z"/>
<path class="o" d="M160.5 164.4l7.6-13.2l-6.3-1.6l-7.7 12.9z"/>
<path class="a12" d="M200.9 109.1l-2.3 2.1l2 0z"/>
<path class="a13" d="M205.2 111.3l7.6-7l-6.6 0.1l-5.3 4.7l-0.3 2.1z"/>
<path class="o" d="M205.2 111.3l7.6-7l-6.6 0.1l-7.6 6.8z"/>
<path class="a14" d="M231.7 93.6l-4 0.6l-7.4 4.4l5.9-0.8z"/>
<path class="a15" d="M227.1 97.7l7.4-4.6l-2.8 0.5l-5.5 4.2z"/>
<path class="o" d="M227.1 97.7l7.4-4.6l-6.8 1.1l-7.4 4.4z"/>
<path class="a1" d="M143.8 213.4l1.2-2.7l-5-4.8l-2.5 5.3z"/>
<path class="a2" d="M145 210.7l3.6-8l-5.1-4.7l-3.5 7.9z"/>
<path class="a3" d="M148.6 202.7l2.8-6.4l-6.2-1.9l-1.7 3.6z"/>
<path class="o" d="M143.8 213.4l7.6-17.1l-6.2-1.9l-7.7 16.8z"/>
<path class="a12" d="M197.6 119.6l3.7-4l-0.7-4.4l-2 0l-7.5 8.1z"/>
<path class="a13" d="M201.3 115.6l3.9-4.3l-4.6-0.1z"/>
<path class="o" d="M197.6 119.6l7.6-8.3l-6.6-0.1l-7.5 8.1z"/>
<path class="a3" d="M151.4 196.3l0.8-1.5l-4.9-4.9l-2.1 4.5z"/>
<path class="a4" d="M152.2 194.8l3.9-8.1l-4.8-4.9l-4 8.1z"/>
<path class="a5" d="M156.1 186.7l3-6.3l-6.3-1.6l-1.5 3z"/>
<path class="o" d="M151.4 196.3l7.7-15.9l-6.3-1.6l-7.6 15.6z"/>
<path class="a11" d="M189.9 129.2l2.8-3.5l-2.3-5.7l-7 8.6z"/>
<path class="a12" d="M192.7 125.7l4.9-6.1l-6.5-0.3l-0.7 0.7z"/>
<path class="o" d="M189.9 129.2l7.7-9.6l-6.5-0.3l-7.7 9.3z"/>
<path class="a13" d="M213 104.1l-0.2 0.2l0.1 0z"/>
<path class="a14" d="M219.5 103.6l5.9-4.6l0.8-1.2l-5.9 0.8l-7.3 5.5l-0.1 0.2z"/>
<path class="a15" d="M225.4 99l1.7-1.3l-0.9 0.1z"/>
<path class="o" d="M219.5 103.6l7.6-5.9l-6.8 0.9l-7.5 5.7z"/>
<path class="a5" d="M159.1 180.4l1-1.9l-4.6-4.9l-2.7 5.2z"/>
<path class="a6" d="M160.1 178.5l4.4-8.3l-4.5-4.9l-4.5 8.3z"/>
<path class="a7" d="M164.5 170.2l2.3-4.5l-6.3-1.3l-0.5 0.9z"/>
<path class="o" d="M159.1 180.4l7.7-14.7l-6.3-1.3l-7.7 14.4z"/>
<path class="a9" d="M175.9 139.1l-0.1 0.2l0.1 0z"/>
<path class="a10" d="M182.3 140.1l3.4-4.9l-3.2-5.4l-6.6 9.3l0 0.2z"/>
<path class="a11" d="M185.7 135.2l4.2-6l-6.5-0.6l-0.9 1.2z"/>
<path class="o" d="M182.3 140.1l7.6-10.9l-6.5-0.6l-7.6 10.7z"/>
<path class="a7" d="M166.8 165.7l2.3-4l-4.2-5l-4.4 7.7z"/>
<path class="a8" d="M169.1 161.7l5-8.6l-1-1.1l-5-0.8l-3.2 5.5z"/>
<path class="a9" d="M174.1 153.1l0.5-0.8l-1.5-0.3z"/>
<path class="o" d="M166.8 165.7l7.8-13.4l-6.5-1.1l-7.6 13.2z"/>
<path class="a8" d="M170.1 148l-2 3.2l5 0.8z"/>
<path class="a9" d="M174.6 152.3l5-8l-3.7-5l-0.1 0l-5.7 8.7l3 4z"/>
<path class="a10" d="M179.6 144.3l2.7-4.2l-6.4-0.8z"/>
<path class="o" d="M174.6 152.3l7.7-12.2l-6.5-0.8l-7.7 11.9z"/>
<path class="a13" d="M212.9 104.3l-0.1 0l-7.6 7l6.1-0.4z"/>
<path class="a14" d="M211.9 110.8l7.6-7.2l-6.6 0.7l-1.6 6.6z"/>
<path class="o" d="M211.9 110.8l7.6-7.2l-6.7 0.7l-7.6 7z"/>
<path class="a1" d="M145 210.7l-1.2 2.7l5.3 1.4z"/>
<path class="a2" d="M150.1 215.1l3.3-7.4l-4.8-5l-3.6 8l4.1 4.1z"/>
<path class="a3" d="M153.4 207.7l3.5-8l-2.8-2.8l-2.7-0.6l-2.8 6.4z"/>
<path class="a4" d="M156.9 199.7l0.9-2l-3.7-0.8z"/>
<path class="o" d="M150.1 215.1l7.7-17.4l-6.4-1.4l-7.6 17.1z"/>
<path class="a12" d="M201.3 115.6l-3.7 4l4-0.1z"/>
<path class="a13" d="M204.2 119.4l7.2-8l-0.1-0.5l-6.1 0.4l-3.9 4.3l0.3 3.9z"/>
<path class="a14" d="M211.4 111.4l0.5-0.6l-0.6 0.1z"/>
<path class="o" d="M204.2 119.4l7.7-8.6l-6.7 0.5l-7.6 8.3z"/>
<path class="a3" d="M152.2 194.8l-0.8 1.5l2.7 0.6z"/>
<path class="a4" d="M157.8 197.7l2.9-6l-4.6-5l-3.9 8.1l1.9 2.1z"/>
<path class="a5" d="M160.7 191.7l3.9-8.2l-2.4-2.5l-3.1-0.6l-3 6.3z"/>
<path class="a6" d="M164.6 183.5l0.9-2l-3.3-0.5z"/>
<path class="o" d="M157.8 197.7l7.7-16.2l-6.4-1.1l-7.7 15.9z"/>
<path class="a11" d="M192.7 125.7l-2.8 3.5l4 0z"/>
<path class="a12" d="M196.5 129.3l5.9-7.5l-0.8-2.3l-4 0.1l-4.9 6.1l1.2 3.5z"/>
<path class="a13" d="M202.4 121.8l1.8-2.4l-2.6 0.1z"/>
<path class="o" d="M196.5 129.3l7.7-9.9l-6.6 0.2l-7.7 9.6z"/>
<path class="a5" d="M160.1 178.5l-1 1.9l3.1 0.6z"/>
<path class="a6" d="M165.5 181.5l3.3-6.3l-4.3-5l-4.4 8.3l2.1 2.5z"/>
<path class="a7" d="M168.8 175.2l4.3-8.3l-0.3-0.4l-6-0.8l-2.3 4.5z"/>
<path class="a8" d="M173.1 166.9l0.2-0.3l-0.5-0.1z"/>
<path class="o" d="M165.5 181.5l7.8-14.9l-6.5-0.9l-7.7 14.7z"/>
<path class="a10" d="M185.7 135.2l-3.4 4.9l6.1 0.3z"/>
<path class="a11" d="M188.8 140.4l6.2-9l-1.1-2.2l-4 0l-4.2 6l2.7 5.2z"/>
<path class="a12" d="M195 131.4l1.5-2.1l-2.6-0.1z"/>
<path class="o" d="M188.8 140.4l7.7-11.1l-6.6-0.1l-7.6 10.9z"/>
<path class="a7" d="M169.1 161.7l-2.3 4l6 0.8z"/>
<path class="a8" d="M173.3 166.6l4.7-8.3l-3.9-5.2l-5 8.6l3.7 4.8z"/>
<path class="a9" d="M178 158.3l3.1-5.4l-6.5-0.6l-0.5 0.8z"/>
<path class="o" d="M173.3 166.6l7.8-13.7l-6.5-0.6l-7.8 13.4z"/>
<path class="a9" d="M181.1 152.9l2-3.3l-3.5-5.3l-5 8z"/>
<path class="a10" d="M183.1 149.6l5.5-8.9l-0.2-0.3l-6.1-0.3l-2.7 4.2z"/>
<path class="a11" d="M188.6 140.7l0.2-0.3l-0.4 0z"/>
<path class="o" d="M181.1 152.9l7.7-12.5l-6.5-0.3l-7.7 12.2z"/>
<text transform="matrix(0.930 -0.370 0.050 1.000 40.1 179.9)" font-size="9.9" text-anchor="end" font-weight="bold" fill="#000">84</text>
<text transform="matrix(0.930 -0.370 0.050 1.000 39.6 168.2)" font-size="9.9" text-anchor="end" font-weight="bold" fill="#000">86</text>
<text transform="matrix(0.930 -0.370 0.050 1.000 39 156.3)" font-size="9.9" text-anchor="end" font-weight="bold" fill="#000">88</text>
<text transform="matrix(0.930 -0.370 0.050 1.000 38.4 144.3)" font-size="9.9" text-anchor="end" font-weight="bold" fill="#000">90</text>
<text transform="matrix(0.930 -0.370 0.050 1.000 37.9 132.2)" font-size="9.9" text-anchor="end" font-weight="bold" fill="#000">92</text>
<text transform="matrix(0.930 -0.370 0.050 1.000 37.3 120)" font-size="9.9" text-anchor="end" font-weight="bold" fill="#000">94</text>
<text transform="matrix(0.930 -0.370 0.050 1.000 36.7 107.6)" font-size="9.9" text-anchor="end" font-weight="bold" fill="#000">96</text>
<text transform="matrix(0.930 -0.370 0.050 1.000 36.2 95.2)" font-size="9.9" text-anchor="end" font-weight="bold" fill="#000">98</text>
<text transform="matrix(0.930 -0.370 0.050 1.000 35.6 82.6)" font-size="9.9" text-anchor="end" font-weight="bold" fill="#000">100</text>
<text transform="matrix(0.930 -0.370 0.050 1.000 35 69.9)" font-size="9.9" text-anchor="end" font-weight="bold" fill="#000">102</text>
<text transform="matrix(0.930 -0.370 0.050 1.000 34.4 57.1)" font-size="9.9" text-anchor="end" font-weight="bold" fill="#000">104</text>
<text transform="matrix(0.818 0.575 -0.765 0.365 151.6 262.6)" font-size="9.9" text-anchor="start" font-weight="bold" fill="#000">80</text>
<text transform="matrix(0.818 0.575 -0.765 0.365 163 257.1)" font-size="9.9" text-anchor="start" font-weight="bold" fill="#000">100</text>
<text transform="matrix(0.818 0.575 -0.765 0.365 174.2 251.6)" font-size="9.9" text-anchor="start" font-weight="bold" fill="#000">120</text>
<text transform="matrix(0.818 0.575 -0.765 0.365 185.4 246.3)" font-size="9.9" text-anchor="start" font-weight="bold" fill="#000">140</text>
<text transform="matrix(0.818 0.575 -0.765 0.365 196.4 240.9)" font-size="9.9" text-anchor="start" font-weight="bold" fill="#000">160</text>
<text transform="matrix(0.818 0.575 -0.765 0.365 207.3 235.7)" font-size="9.9" text-anchor="start" font-weight="bold" fill="#000">180</text>
<text transform="matrix(0.818 0.575 -0.765 0.365 218.1 230.5)" font-size="9.9" text-anchor="start" font-weight="bold" fill="#000">200</text>
<text transform="matrix(0.818 0.575 -0.765 0.365 228.7 225.3)" font-size="9.9" text-anchor="start" font-weight="bold" fill="#000">220</text>
<text transform="matrix(0.818 0.575 -0.765 0.365 239.3 220.2)" font-size="9.9" text-anchor="start" font-weight="bold" fill="#000">240</text>
<text transform="matrix(0.818 0.575 -0.765 0.365 249.7 215.2)" font-size="9.9" text-anchor="start" font-weight="bold" fill="#000">260</text>
<text transform="matrix(0.818 0.575 -0.765 0.365 260.1 210.2)" font-size="9.9" text-anchor="start" font-weight="bold" fill="#000">280</text>
<text transform="matrix(0.818 0.575 -0.765 0.365 270.3 205.2)" font-size="9.9" text-anchor="start" font-weight="bold" fill="#000">300</text>
<text transform="matrix(0.818 0.575 -0.765 0.365 280.4 200.3)" font-size="9.9" text-anchor="start" font-weight="bold" fill="#000">320</text>
<text transform="matrix(0.900 -0.430 0.695 0.489 146.9 263.1)" font-size="9.9" text-anchor="end" font-weight="bold" fill="#000">4.5</text>
<text transform="matrix(0.900 -0.430 0.695 0.489 135.8 255.2)" font-size="9.9" text-anchor="end" font-weight="bold" fill="#000">5.0</text>
<text transform="matrix(0.900 -0.430 0.695 0.489 124.8 247.4)" font-size="9.9" text-anchor="end" font-weight="bold" fill="#000">5.5</text>
<text transform="matrix(0.900 -0.430 0.695 0.489 114 239.8)" font-size="9.9" text-anchor="end" font-weight="bold" fill="#000">6.0</text>
<text transform="matrix(0.900 -0.430 0.695 0.489 103.3 232.3)" font-size="9.9" text-anchor="end" font-weight="bold" fill="#000">6.5</text>
<text transform="matrix(0.900 -0.430 0.695 0.489 92.9 224.8)" font-size="9.9" text-anchor="end" font-weight="bold" fill="#000">7.0</text>
<text transform="matrix(0.900 -0.430 0.695 0.489 82.5 217.5)" font-size="9.9" text-anchor="end" font-weight="bold" fill="#000">7.5</text>
<text transform="matrix(0.900 -0.430 0.695 0.489 72.4 210.4)" font-size="9.9" text-anchor="end" font-weight="bold" fill="#000">8.0</text>
<text transform="matrix(0.900 -0.430 0.695 0.489 62.3 203.3)" font-size="9.9" text-anchor="end" font-weight="bold" fill="#000">8.5</text>
<text transform="matrix(0.900 -0.430 0.695 0.489 52.5 196.3)" font-size="9.9" text-anchor="end" font-weight="bold" fill="#000">9.0</text>
<text transform="matrix(0.900 -0.430 0.695 0.489 42.7 189.4)" font-size="9.9" text-anchor="end" font-weight="bold" fill="#000">9.5</text>
<text transform="matrix(0.818 0.575 -0.900 0.430 63 235.5)" font-size="12.5" text-anchor="middle" font-weight="bold" fill="#000">pH</text>
<text transform="matrix(0.900 -0.430 0.736 0.517 246 249.5)" font-size="11.7" text-anchor="middle" font-weight="bold" fill="#000">Cadmium concentration</text>
<text transform="matrix(0.900 -0.430 0.736 0.517 257 254)" font-size="11.7" text-anchor="middle" font-weight="bold" fill="#000">(mg/L)</text>
<text transform="matrix(0.050 1.000 -0.940 0.340 5 134)" font-size="11" text-anchor="middle" font-weight="bold" fill="#000">Cadmium removal (%)</text>
<path d="M172.5 57.2L172.5 68M62.4 79.4L62.4 93M162 82.1L162 90M149.8 140.2L149.8 149" stroke="#7d7dff" stroke-width="0.6" stroke-dasharray="1.6 1" fill="none"/>
<circle cx="150.2" cy="231.2" r="3.1" fill="#ff0000"/>
<circle cx="172.5" cy="57.2" r="3.1" fill="#ff0000"/>
<circle cx="62.4" cy="79.4" r="3.1" fill="#ff0000"/>
<circle cx="162" cy="82.1" r="3.1" fill="#ff0000"/>
<circle cx="149.8" cy="140.2" r="3.1" fill="#ff0000"/>
<path d="M258 94.2L262.6 97.6L260 98.6Z" fill="#f00"/>
<rect x="295" y="79.7" width="14" height="8" fill="#8b0000" stroke="#555" stroke-width="0.8"/>
<text transform="translate(312.5 86.8) scale(1.1 1)" font-size="8.7" text-anchor="start" fill="#000" font-weight="bold" >&gt; 102</text>
<rect x="295" y="89.9" width="14" height="8" fill="#aa0000" stroke="#555" stroke-width="0.8"/>
<text transform="translate(312.5 97) scale(1.1 1)" font-size="8.7" text-anchor="start" fill="#000" font-weight="bold" >&lt; 102</text>
<rect x="295" y="100.1" width="14" height="8" fill="#ff4500" stroke="#555" stroke-width="0.8"/>
<text transform="translate(312.5 107.2) scale(1.1 1)" font-size="8.7" text-anchor="start" fill="#000" font-weight="bold" >&lt; 100</text>
<rect x="295" y="110.2" width="14" height="8" fill="#ffdc00" stroke="#555" stroke-width="0.8"/>
<text transform="translate(312.5 117.3) scale(1.1 1)" font-size="8.7" text-anchor="start" fill="#000" font-weight="bold" >&lt; 98</text>
<rect x="295" y="120.4" width="14" height="8" fill="#00ff00" stroke="#555" stroke-width="0.8"/>
<text transform="translate(312.5 127.5) scale(1.1 1)" font-size="8.7" text-anchor="start" fill="#000" font-weight="bold" >&lt; 96</text>
<rect x="295" y="130.6" width="14" height="8" fill="#008c32" stroke="#555" stroke-width="0.8"/>
<text transform="translate(312.5 137.7) scale(1.1 1)" font-size="8.7" text-anchor="start" fill="#000" font-weight="bold" >&lt; 94</text>
<rect x="295" y="140.8" width="14" height="8" fill="#00c8d7" stroke="#555" stroke-width="0.8"/>
<text transform="translate(312.5 147.9) scale(1.1 1)" font-size="8.7" text-anchor="start" fill="#000" font-weight="bold" >&lt; 92</text>
<rect x="295" y="151" width="14" height="8" fill="#0032d2" stroke="#555" stroke-width="0.8"/>
<text transform="translate(312.5 158.1) scale(1.1 1)" font-size="8.7" text-anchor="start" fill="#000" font-weight="bold" >&lt; 90</text>
<rect x="295" y="161.1" width="14" height="8" fill="#0000aa" stroke="#555" stroke-width="0.8"/>
<text transform="translate(312.5 168.2) scale(1.1 1)" font-size="8.7" text-anchor="start" fill="#000" font-weight="bold" >&lt; 88</text>
<text x="7.2" y="23.6" font-size="19.5" text-anchor="start" fill="#0000ff" font-weight="bold" >(A)</text>
<g shape-rendering="geometricPrecision">
<path d="M381.4 307.5l0 0.3l0.8-1.7l2.3-5.3l3.5-9l-6.6 0l0 15.7z" fill="#0000d7" stroke="#0000d7" stroke-width="0.6"/>
<path d="M381.4 321.7l0 0.6l1.9-3.4l2.8-5.2l2.3-4.8l3.7-8.5l3.1-8.6l-7.2 0l-3.3 8.6l-3.3 7.4l0 13.9z" fill="#0000ff" stroke="#0000ff" stroke-width="0.6"/>
<path d="M381.4 336l0 0.5l4.7-8.4l6.8-13.5l4.9-11.4l4.2-11.4l-6.8 0l-2.9 8l-3.2 7.7l-3 6.2l-4.7 8.6l0 13.7z" fill="#0037e1" stroke="#0037e1" stroke-width="0.6"/>
<path d="M381.4 348.8l0 1.3l4.7-7.8l4.6-8.6l4.5-9.1l4-8.6l3.1-7.1l2.9-7.1l3.7-10l-6.9 0l-4.2 11.4l-4.2 10l-6 11.9l-6.2 11.4l0 12.3z" fill="#0073be" stroke="#0073be" stroke-width="0.6"/>
<path d="M381.4 363.1l4.6-7.1l3.5-5.7l3.9-7.2l3.6-7.1l4-8.6l4.5-9.9l4.9-11.4l5.8-14.3l-7.3 0l-6 15.7l-6.3 14.2l-4.3 8.9l-3.6 6.8l-3.9 7.2l-3.4 5.5l0 13z" fill="#00aab9" stroke="#00aab9" stroke-width="0.6"/>
<path d="M381.4 375.9l0 0.5l2.2-3.3l7.1-11.1l4.7-8.1l4.2-7.9l3.4-7.1l3.9-8.6l16.8-38.5l-7.5 0l-5.8 14.3l-4.9 11.4l-4.5 9.9l-4 8.6l-3.6 7.1l-3.9 7.2l-3.5 5.7l-4.6 7.1l0 12.8z" fill="#00d7e1" stroke="#00d7e1" stroke-width="0.6"/>
<path d="M381.4 388.8l0 0.5l2.5-3.4l7.7-11.4l6-10l5.5-10l6.1-12.8l11.1-25.3l11.2-24.6l-7.8 0l-16.8 38.5l-3.9 8.6l-3.4 7.1l-3.8 7.1l-4 7.1l-5.4 8.6l-5 7.6l0 12.4z" fill="#00faf0" stroke="#00faf0" stroke-width="0.6"/>
<path d="M381.4 401.6l0 1.2l12.6-18.3l7.2-11.4l5.6-10l3.7-7.1l3.4-7.2l12.6-28.6l13.2-28.4l-8.2 0l-11.2 24.6l-11.1 25.3l-6 12.6l-4.7 8.7l-5.2 8.6l-5.5 8.6l-6.4 9.1l0 12.3z" fill="#00c882" stroke="#00c882" stroke-width="0.6"/>
<path d="M381.4 415.8l0 1.5l18.1-27.1l7.2-11.4l5.7-10l3.7-7.1l3.5-7.2l14.8-32.8l9.2-19.3l5.2-10.6l-9.1 0l-13.2 28.4l-12.6 28.6l-6.3 12.9l-5.6 9.9l-5.2 8.6l-6.1 9.2l-9.3 13.4l0 13z" fill="#008c1e" stroke="#008c1e" stroke-width="0.6"/>
<path d="M381.4 430.1l0 0.3l3.6-4.6l6.1-8.5l18.8-28.5l4.4-7.2l4.1-7.1l3.9-7.1l3.6-7.2l17.7-38.1l7.8-16l7.1-14.3l-9.7 0l-13 26.8l-14.9 33.1l-4.1 8.5l-3.6 7.2l-4.8 8.5l-6.1 10l-20.9 31.4l0 12.8z" fill="#00af00" stroke="#00af00" stroke-width="0.6"/>
<path d="M381.4 441.5l0 1.2l3.1-3.5l5.1-6.2l5.3-7.2l21.2-31.3l4.6-7.2l4.3-7.1l4.8-8.6l5.1-9.9l19.6-40.7l14.5-29.2l-10.5 0l-7.1 14.3l-7.8 16l-17.7 38.1l-3.6 7.2l-3.9 7.1l-4.1 7.1l-4.4 7.2l-17.8 27l-4.9 7.2l-5.8 7.4l0 11.1z" fill="#00d700" stroke="#00d700" stroke-width="0.6"/>
<path d="M622.8 518.5l5.8 0l0-80.1l-1.4 10.2l-1.4 12.9l-1 17.1l-2 27.1l-0.3 7.1l0.3 5.7zM381.4 454.3l0 0.4l1.6-1.7l6.5-7.2l4.8-5.7l5.5-7.1l4.1-5.8l8.7-12.8l11.3-15.7l4.7-7.1l3.6-5.7l7.5-12.8l7.5-14.3l33.3-67l-11.5 0l-14.5 29.2l-19.6 40.7l-5.1 9.9l-4.8 8.6l-4.3 7.1l-3.7 5.7l-21.1 31.4l-6.7 9.1l-4.2 5.2l-3.6 4l0 11.6z" fill="#32ff00" stroke="#32ff00" stroke-width="0.6"/>
<path d="M613.3 518.5l9.5 0l-0.3-5.7l0.3-7.1l2-27.1l1-17.1l1.4-12.9l1.4-10.2l0-64.1l-3.1 13l-4.7 22.9l-2.9 15.6l-1.3 10l-0.7 8.6l-0.7 18.5l-2.2 37.1l-0.2 9.9l0.5 8.6zM381.4 465.7l0 1.1l6.2-6.5l7.8-8.6l7.3-8.8l7.7-9.9l9.9-13.7l10.4-13.4l4.1-5.7l4.7-7.2l5.4-8.5l5.9-10l7.2-12.8l7.7-14.3l11.2-21.4l13.1-27.1l3.7-7.1l-13.2 0l-33.3 67l-7.5 14.3l-7.5 12.8l-3.6 5.7l-4.7 7.1l-11.3 15.7l-8.7 12.8l-4.1 5.8l-4.4 5.7l-4.6 5.7l-4.7 5.3l-4.7 5l0 11z" fill="#96ff00" stroke="#96ff00" stroke-width="0.6"/>
<path d="M604.2 518.5l9.1 0l-0.5-8.6l0.2-9.9l2.2-37.1l0.7-18.5l0.7-8.6l1.3-10l2.9-15.6l4.7-22.9l3.1-13l0-51.2l-3.8 7.2l-4 8.2l-2.6 6.1l-1.5 4.2l-2.4 8.6l-2.2 10l-1.6 8.5l-1.2 8.6l-4.3 38.5l-0.8 11.4l-0.1 10l0.4 18.5l-0.9 24.2l-0.2 12.9l0.2 9.9l0.6 8.6zM381.4 478.6l0 0.2l3.3-3.1l7-7.1l6.6-7.1l7.4-8.6l16.1-19.2l11.7-13.6l6.5-8.5l8.1-11.4l8.5-12.9l10.8-17.1l11.4-18.5l9.1-15.7l4.7-8.6l3.6-7.1l2.7-5.7l7-15.7l3.6-7.1l-15.8 0l-3.7 7.1l-11.7 24.3l-11.8 22.8l-14.1 25.6l-6.6 11.5l-5.3 8.5l-4.8 7.1l-5 7.2l-10.4 13.4l-8.9 12.2l-6.4 8.6l-5.8 7.1l-5.4 6.3l-6.2 6.8l-6.2 6.5l0 11.8z" fill="#ffff00" stroke="#ffff00" stroke-width="0.6"/>
<path d="M594.8 518.5l9.4 0l-0.6-8.6l-0.2-9.9l0.2-12.9l0.9-24.2l-0.4-22.8l0.3-10l0.9-10l3.3-29.9l1.5-11.4l1.4-8.6l2.5-11.4l2.2-8.5l2-5.7l4.2-9.4l6.2-12.1l0-31.3l-12 0l-0.9 4.3l-1.9 5.7l-2.4 5.7l-8.1 18.5l-3.3 8.6l-2.1 7.1l-2.4 10l-2 10l-1.1 9.9l-1 11.5l-0.4 7.1l-0.7 25.6l-0.1 11.4l0.5 12.9l1.8 22.8l1.1 37.1l0.5 8.5l0.7 10zM381.4 490l0 0.3l2-1.7l7.3-6.6l6.2-6.1l5.7-5.9l20.8-23.1l15-15.4l4-4.3l6.1-7.1l7.8-10l6.4-8.5l16.6-22.8l21.5-28.5l6.1-8.6l5.7-8.6l3.5-5.7l3-5.7l1.8-4.2l3.5-10.1l2.3-5.6l2.9-5.7l2.8-4.3l-22.9 0l-3.6 7.1l-9 20l-2.8 5.7l-4.6 8.5l-4.8 8.6l-7.6 12.8l-10.6 17.1l-9.9 15.7l-6.5 10l-6 8.6l-6.2 8.5l-5.2 6.7l-9.3 10.8l-16.5 19.6l-7.3 8.5l-9.3 10l-8.9 8.8l0 11.2z" fill="#ffc800" stroke="#ffc800" stroke-width="0.6"/>
<path d="M584.8 518.5l10 0l-0.7-10l-0.5-8.5l-1.1-37.1l-1.8-22.8l-0.5-12.9l0.1-11.4l0.7-25.6l0.8-11.4l0.9-10l0.6-5.7l1-5.7l1.2-5.7l2.4-10l2.1-7.1l3.3-8.6l8.1-18.5l2.4-5.7l1.9-5.7l0.9-4.3l-84.2 0l-2.8 4.3l-2.9 5.7l-2.3 5.7l-4.1 11.4l-1.2 2.8l-1.4 2.9l-3.3 5.7l-3.6 5.7l-8.9 12.8l-22.6 30l-20.8 28.5l-6.6 8.5l-5.8 7.2l-6.4 7.1l-16.3 16.8l-15.6 17.4l-7.9 8.6l-9.2 9.1l-9.3 8.3l0 11.1l9.3-7.5l9.2-8.2l10.3-10l21-21.6l14.2-12.6l7.6-7.1l7.1-7.2l12.1-12.8l16.5-18.2l6.2-6.1l6.2-5.6l4.7-3.9l4.6-3.5l8.9-5.5l8.2-5.9l6.3-3.9l4.6-2.5l3.1-1.2l3.1-0.8l3.2-0.2l1.5 0.3l1.6 0.4l1.8 1l1.3 1l1.5 1.6l2.1 3.1l2.2 4.3l1.9 5.2l1.9 6.2l2.2 8.6l2.1 9.9l1.6 9.4l4.3 29.1l4.9 30l3.2 24.2l1.4 14.3l1.5 12.8z" fill="#ff8c00" stroke="#ff8c00" stroke-width="0.6"/>
<path d="M573.1 518.5l11.7 0l-1.5-12.8l-1.3-13.9l-2.9-21.8l-1.7-11.4l-3.6-21.4l-3.7-25.6l-2.1-12.4l-2.5-11.9l-2.2-8.3l-1.6-5l-1.5-4.2l-1.6-3.4l-1.5-2.8l-1.6-2.2l-1.1-1.2l-2-1.6l-1.5-0.8l-1.6-0.4l-1.5-0.3l-3.2 0.2l-3.1 0.8l-3.1 1.2l-4.6 2.5l-6.3 3.9l-8.2 5.9l-8.9 5.5l-4.6 3.5l-4.7 3.9l-6.2 5.6l-6.2 6.1l-16.5 18.2l-12.1 12.8l-7.1 7.2l-7.6 7.1l-14.2 12.6l-21 21.6l-10.3 10l-9.2 8.2l-9.3 7.5l0 11.6l12.4-9.8l9.1-7.5l9.7-8.6l17-15.3l6.2-5.3l6.2-4.9l11.7-8.7l13.2-10.5l6.2-4.6l6.2-4.1l7.8-4.2l12.5-8.2l4.6-2.9l3.1-1.7l3.1-1.4l4.7-1.5l4.7-0.9l4.6-0.1l3.1 0.4l1.6 0.4l3.1 1.2l3.1 1.7l3.1 2.5l3.1 3.5l3.1 4.5l3.2 5.7l3.1 6.3l3.1 7.3l3.1 8.4l3.1 9.7l4.7 15.9l1.8 6.8l1.7 7.2l2.9 14.2l1.8 10z" fill="#ff5a00" stroke="#ff5a00" stroke-width="0.6"/>
<path d="M381.4 518.5l9.9 0l11.8-10l12.5-10.2l12.4-9.8l7.8-5.7l4.7-3.2l6.2-3.9l15.5-8.5l12.5-8.5l4.6-2.9l3.2-1.6l3.1-1.3l4.6-1.6l4.7-1.4l4.7-1.1l4.6-0.9l3.1-0.4l3.1-0.1l3.2 0.3l3.1 0.7l3.1 1.1l3.1 1.6l3.1 2.2l2.6 2.5l2.5 2.8l2.7 3.6l3.1 4.7l3.1 5.5l9.4 19l3 6.9l3.9 10.2l2 5.7l1.3 4.3l13.5 0l-1.8-10l-2.9-14.2l-1.7-7.2l-1.8-6.8l-4.7-15.9l-3.1-9.7l-3.1-8.4l-3.3-7.6l-2.9-6l-3.2-5.7l-3.1-4.5l-3.1-3.5l-3.1-2.5l-1.5-0.9l-3.1-1.5l-3.2-0.9l-1.5-0.3l-3.1-0.2l-4.7 0.5l-3.1 0.6l-4.7 1.5l-3.1 1.4l-3.1 1.7l-4.6 2.9l-12.5 8.2l-6.2 3.3l-3.1 1.9l-7.8 5.4l-16.3 12.8l-11.7 8.7l-6.2 4.9l-6.2 5.3l-17 15.3l-9.7 8.6l-9.1 7.5l-12.4 9.8l0 5.5z" fill="#ff2800" stroke="#ff2800" stroke-width="0.6"/>
<path d="M391.3 518.5l17.3 0l10.1-8.5l7.8-5.7l12.4-8l4.7-2.8l6.2-3.3l6.2-3l6.2-2.7l12.5-5.2l6.2-2.4l3.1-0.9l4.7-1l3.1-0.4l3.1-0.1l4.7 0.3l3.1 0.4l3.1 0.8l3.1 1l3.1 1.5l3.1 1.8l3.1 2.2l3.1 2.7l3.1 3l3.1 3.5l3.2 3.9l3.1 4.3l2.8 4.3l2.4 4.3l2.5 4.9l2.3 5.1l15.8 0l-1.3-4.3l-2-5.7l-3.9-10.2l-3-6.9l-9.4-19l-3.1-5.5l-3.1-4.7l-2.7-3.6l-2.5-2.8l-2.6-2.5l-3.1-2.2l-3.1-1.6l-3.1-1.1l-3.1-0.7l-3.2-0.3l-3.1 0.1l-4.6 0.6l-4.7 1l-4.7 1.2l-4.6 1.5l-4.7 1.7l-3.1 1.5l-3.1 1.7l-15.6 10.5l-15.5 8.5l-6.2 3.9l-4.7 3.2l-7.8 5.7l-12.4 9.8l-12.5 10.2l-11.8 10z" fill="#ee0000" stroke="#ee0000" stroke-width="0.6"/>
<path d="M408.6 518.5l19.7 0l2.9-2.1l3.1-2l7.7-4.2l9.4-4.4l7.7-3l7.8-2.5l6.2-1.5l7.8-1.2l6.2-0.4l3.1 0.1l3.1 0.4l4.7 0.9l4.7 1.6l4.6 2.2l4.7 3l4.7 3.9l2.1 2.1l2.5 2.8l3.2 4.3l19.3 0l-2.3-5.1l-2.5-4.9l-2.4-4.3l-2.8-4.3l-3.1-4.3l-3.2-3.9l-3.1-3.5l-3.1-3l-3.1-2.7l-3.1-2.2l-3.1-1.8l-3.1-1.5l-3.1-1l-3.1-0.8l-3.1-0.4l-4.7-0.3l-3.1 0.1l-3.1 0.4l-4.7 1l-3.1 0.9l-6.2 2.4l-12.5 5.2l-6.2 2.7l-6.2 3l-6.2 3.3l-4.7 2.8l-12.4 8l-7.8 5.7l-10.1 8.5z" fill="#c80000" stroke="#c80000" stroke-width="0.6"/>
<path d="M428.3 518.5l96.2 0l-3.2-4.3l-2.5-2.8l-2.1-2.1l-4.7-3.9l-4.7-3l-4.6-2.2l-4.7-1.6l-4.7-0.9l-3.1-0.4l-3.1-0.1l-6.2 0.4l-7.8 1.2l-6.2 1.5l-7.8 2.5l-7.7 3l-9.4 4.4l-7.7 4.2l-3.1 2l-2.9 2.1z" fill="#960000" stroke="#960000" stroke-width="0.6"/>
<path d="M388 291.8l-3.3 8.6l-3.3 7.4M395.2 291.8l-2.9 8l-3.2 7.7l-3 6.2l-4.7 8.6M402 291.8l-4.2 11.4l-4.2 10l-6 11.9l-6.2 11.4M408.9 291.8l-6 15.7l-6.3 14.2l-4.3 8.9l-3.6 6.8l-3.9 7.2l-3.4 5.5M416.2 291.8l-5.8 14.3l-4.9 11.4l-4.5 9.9l-4 8.6l-3.6 7.1l-3.9 7.2l-3.5 5.7l-4.6 7.1M423.7 291.8l-16.8 38.5l-3.9 8.6l-3.4 7.1l-3.8 7.1l-4 7.1l-5.4 8.6l-5 7.6M431.5 291.8l-11.2 24.6l-11.1 25.3l-6 12.6l-4.7 8.7l-5.2 8.6l-5.5 8.6l-6.4 9.1M439.7 291.8l-13.2 28.4l-12.6 28.6l-6.3 12.9l-5.6 9.9l-5.2 8.6l-6.1 9.2l-9.3 13.4M448.8 291.8l-13 26.8l-14.9 33.1l-4.1 8.5l-3.6 7.2l-4.8 8.5l-6.1 10l-20.9 31.4M458.5 291.8l-7.1 14.3l-7.8 16l-17.7 38.1l-3.6 7.2l-3.9 7.1l-4.1 7.1l-4.4 7.2l-17.8 27l-4.9 7.2l-5.8 7.4M469 291.8l-14.5 29.2l-19.6 40.7l-5.1 9.9l-4.8 8.6l-4.3 7.1l-3.7 5.7l-21.1 31.4l-6.7 9.1l-4.2 5.2l-3.6 4M622.8 518.5l-0.3-5.7l0.3-7.1l2-27.1l1-17.1l1.4-12.9l1.4-10.2M480.5 291.8l-33.3 67l-7.5 14.3l-7.5 12.8l-3.6 5.7l-4.7 7.1l-11.3 15.7l-8.7 12.8l-4.1 5.8l-4.4 5.7l-4.6 5.7l-4.7 5.3l-4.7 5M613.3 518.5l-0.5-8.6l0.2-9.9l2.2-37.1l0.7-18.5l0.7-8.6l1.3-10l2.9-15.6l4.7-22.9l3.1-13M493.7 291.8l-3.7 7.1l-11.7 24.3l-11.8 22.8l-14.1 25.6l-6.6 11.5l-5.3 8.5l-4.8 7.1l-5 7.2l-10.4 13.4l-8.9 12.2l-6.4 8.6l-5.8 7.1l-5.4 6.3l-6.2 6.8l-6.2 6.5M604.2 518.5l-0.6-8.6l-0.2-9.9l0.2-12.9l0.9-24.2l-0.4-18.5l0.1-10l0.8-11.4l4.3-38.5l1.2-8.6l1.6-8.5l2.2-10l2.4-8.6l1.5-4.2l2.6-6.1l4-8.2l3.8-7.2M509.5 291.8l-3.6 7.1l-7 15.7l-2.7 5.7l-3.6 7.1l-4.7 8.6l-9.1 15.7l-11.4 18.5l-10.8 17.1l-8.5 12.9l-8.1 11.4l-6.5 8.5l-11.7 13.6l-16.1 19.2l-6.1 7.1l-6.5 7.2l-5.5 5.7l-6.2 5.9M594.8 518.5l-0.7-10l-0.5-8.5l-1.1-37.1l-1.7-21.4l-0.6-12.8l0.1-11.4l0.6-24.3l0.5-9.9l1.1-12.9l0.8-7.1l1.2-7.1l2-8.6l2.6-10l1.9-5.7l1.7-4.3l8.7-19.9l2.4-5.7l1.9-5.7l0.9-4.3M532.4 291.8l-2.8 4.3l-2.9 5.7l-2.3 5.6l-3.5 10.1l-1.8 4.2l-3 5.7l-3.5 5.7l-5.7 8.6l-6.1 8.6l-21.5 28.5l-21.9 29.9l-7.8 10l-7.2 8.5l-4 4.3l-15 15.4l-19.5 21.7l-5.4 5.7l-6.2 6.2l-5.6 5.2l-5.3 4.6M584.8 518.5l-1.5-12.8l-1.4-14.3l-3.2-24.2l-4.9-30l-4.3-29.1l-1.6-9.4l-2.1-9.9l-2.2-8.6l-1.9-6.2l-1.9-5.2l-2.2-4.3l-2.1-3.1l-1.5-1.6l-1.3-1l-1.8-1l-1.6-0.4l-1.5-0.3l-3.2 0.2l-3.1 0.8l-3.1 1.2l-4.6 2.5l-6.3 3.9l-8.2 5.9l-8.9 5.5l-4.6 3.5l-4.7 3.9l-6.2 5.6l-6.2 6.1l-16.5 18.2l-12.1 12.8l-7.1 7.2l-7.6 7.1l-14.2 12.6l-21 21.6l-10.3 10l-9.2 8.2l-9.3 7.5M573.1 518.5l-1.8-10l-2.9-14.2l-1.7-7.2l-1.8-6.8l-4.7-15.9l-3.1-9.7l-3.1-8.4l-3.1-7.3l-3.1-6.3l-3.2-5.7l-3.1-4.5l-3.1-3.5l-3.1-2.5l-3.1-1.7l-3.1-1.2l-1.6-0.4l-3.1-0.4l-4.6 0.1l-4.7 0.9l-4.7 1.5l-3.1 1.4l-3.1 1.7l-4.6 2.9l-12.5 8.2l-7.8 4.2l-6.2 4.1l-6.2 4.6l-13.2 10.5l-11.7 8.7l-6.2 4.9l-6.2 5.3l-17 15.3l-9.7 8.6l-9.1 7.5l-12.4 9.8M559.6 518.5l-1.3-4.3l-2-5.7l-3.9-10.2l-3-6.9l-9.4-19l-3.1-5.5l-3.1-4.7l-2.7-3.6l-2.5-2.8l-2.6-2.5l-3.1-2.2l-3.1-1.6l-3.1-1.1l-3.1-0.7l-3.2-0.3l-3.1 0.1l-4.6 0.6l-4.7 1l-4.7 1.2l-4.6 1.5l-4.7 1.7l-3.1 1.5l-3.1 1.7l-15.6 10.5l-15.5 8.5l-6.2 3.9l-4.7 3.2l-7.8 5.7l-12.4 9.8l-12.5 10.2l-11.8 10M543.8 518.5l-2.3-5.1l-2.5-4.9l-2.4-4.3l-2.8-4.3l-3.1-4.3l-3.2-3.9l-3.1-3.5l-3.1-3l-3.1-2.7l-3.1-2.2l-3.1-1.8l-3.1-1.5l-3.1-1l-3.1-0.8l-3.1-0.4l-4.7-0.3l-3.1 0.1l-3.1 0.4l-4.7 1l-3.1 0.9l-6.2 2.4l-12.5 5.2l-6.2 2.7l-6.2 3l-6.2 3.3l-4.7 2.8l-12.4 8l-7.8 5.7l-10.1 8.5M524.5 518.5l-3.2-4.3l-2.5-2.8l-2.1-2.1l-4.7-3.9l-4.7-3l-4.6-2.2l-4.7-1.6l-4.7-0.9l-3.1-0.4l-3.1-0.1l-6.2 0.4l-7.8 1.2l-6.2 1.5l-7.8 2.5l-7.7 3l-9.4 4.4l-7.7 4.2l-3.1 2l-2.9 2.1" fill="none" stroke="#000" stroke-width="0.55"/>
</g>
<rect x="381.4" y="291.8" width="247.2" height="226.7" fill="none" stroke="#111" stroke-width="0.9"/>
<text transform="translate(381.4 534.3) scale(0.82 1)" font-size="12.8" text-anchor="middle" fill="#000" font-weight="bold" >80</text>
<text transform="translate(402 534.3) scale(0.82 1)" font-size="12.8" text-anchor="middle" fill="#000" font-weight="bold" >100</text>
<text transform="translate(422.6 534.3) scale(0.82 1)" font-size="12.8" text-anchor="middle" fill="#000" font-weight="bold" >120</text>
<text transform="translate(443.2 534.3) scale(0.82 1)" font-size="12.8" text-anchor="middle" fill="#000" font-weight="bold" >140</text>
<text transform="translate(463.8 534.3) scale(0.82 1)" font-size="12.8" text-anchor="middle" fill="#000" font-weight="bold" >160</text>
<text transform="translate(484.4 534.3) scale(0.82 1)" font-size="12.8" text-anchor="middle" fill="#000" font-weight="bold" >180</text>
<text transform="translate(505 534.3) scale(0.82 1)" font-size="12.8" text-anchor="middle" fill="#000" font-weight="bold" >200</text>
<text transform="translate(525.6 534.3) scale(0.82 1)" font-size="12.8" text-anchor="middle" fill="#000" font-weight="bold" >220</text>
<text transform="translate(546.2 534.3) scale(0.82 1)" font-size="12.8" text-anchor="middle" fill="#000" font-weight="bold" >240</text>
<text transform="translate(566.8 534.3) scale(0.82 1)" font-size="12.8" text-anchor="middle" fill="#000" font-weight="bold" >260</text>
<text transform="translate(587.4 534.3) scale(0.82 1)" font-size="12.8" text-anchor="middle" fill="#000" font-weight="bold" >280</text>
<text transform="translate(608 534.3) scale(0.82 1)" font-size="12.8" text-anchor="middle" fill="#000" font-weight="bold" >300</text>
<text transform="translate(628.6 534.3) scale(0.82 1)" font-size="12.8" text-anchor="middle" fill="#000" font-weight="bold" >320</text>
<text transform="translate(377.9 523.1) scale(0.82 1)" font-size="12.8" text-anchor="end" fill="#000" font-weight="bold" >1.5</text>
<text transform="translate(377.9 500.4) scale(0.82 1)" font-size="12.8" text-anchor="end" fill="#000" font-weight="bold" >2.0</text>
<text transform="translate(377.9 477.8) scale(0.82 1)" font-size="12.8" text-anchor="end" fill="#000" font-weight="bold" >2.5</text>
<text transform="translate(377.9 455.1) scale(0.82 1)" font-size="12.8" text-anchor="end" fill="#000" font-weight="bold" >3.0</text>
<text transform="translate(377.9 432.4) scale(0.82 1)" font-size="12.8" text-anchor="end" fill="#000" font-weight="bold" >3.5</text>
<text transform="translate(377.9 409.8) scale(0.82 1)" font-size="12.8" text-anchor="end" fill="#000" font-weight="bold" >4.0</text>
<text transform="translate(377.9 387.1) scale(0.82 1)" font-size="12.8" text-anchor="end" fill="#000" font-weight="bold" >4.5</text>
<text transform="translate(377.9 364.4) scale(0.82 1)" font-size="12.8" text-anchor="end" fill="#000" font-weight="bold" >5.0</text>
<text transform="translate(377.9 341.7) scale(0.82 1)" font-size="12.8" text-anchor="end" fill="#000" font-weight="bold" >5.5</text>
<text transform="translate(377.9 319.1) scale(0.82 1)" font-size="12.8" text-anchor="end" fill="#000" font-weight="bold" >6.0</text>
<text transform="translate(377.9 296.4) scale(0.82 1)" font-size="12.8" text-anchor="end" fill="#000" font-weight="bold" >6.5</text>
<path d="M381.4 518.5v-1.6M381.4 291.8v1.6M402 518.5v-1.6M402 291.8v1.6M422.6 518.5v-1.6M422.6 291.8v1.6M443.2 518.5v-1.6M443.2 291.8v1.6M463.8 518.5v-1.6M463.8 291.8v1.6M484.4 518.5v-1.6M484.4 291.8v1.6M505 518.5v-1.6M505 291.8v1.6M525.6 518.5v-1.6M525.6 291.8v1.6M546.2 518.5v-1.6M546.2 291.8v1.6M566.8 518.5v-1.6M566.8 291.8v1.6M587.4 518.5v-1.6M587.4 291.8v1.6M608 518.5v-1.6M608 291.8v1.6M628.6 518.5v-1.6M628.6 291.8v1.6M381.4 518.5h1.6M628.6 518.5h-1.6M381.4 495.8h1.6M628.6 495.8h-1.6M381.4 473.2h1.6M628.6 473.2h-1.6M381.4 450.5h1.6M628.6 450.5h-1.6M381.4 427.8h1.6M628.6 427.8h-1.6M381.4 405.1h1.6M628.6 405.1h-1.6M381.4 382.5h1.6M628.6 382.5h-1.6M381.4 359.8h1.6M628.6 359.8h-1.6M381.4 337.1h1.6M628.6 337.1h-1.6M381.4 314.5h1.6M628.6 314.5h-1.6M381.4 291.8h1.6M628.6 291.8h-1.6" stroke="#000" stroke-width="0.7" fill="none"/>
<text transform="translate(505 554) scale(0.95 1)" font-size="13.4" text-anchor="middle" fill="#000" font-weight="bold" letter-spacing="0.45" >Cadmium concentration (mg/L)</text>
<text transform="translate(356.8 405.1) rotate(-90) scale(0.95 1)" font-size="13.4" text-anchor="middle" font-weight="bold" letter-spacing="0.6">Biomass (g/L)</text>
<rect x="639.1" y="434.6" width="14.4" height="9.8" fill="#8b0000" stroke="#555" stroke-width="0.8"/>
<text transform="translate(657 443.5) scale(0.94 1)" font-size="9.5" text-anchor="start" fill="#000" font-weight="bold" >&gt; 103</text>
<rect x="639.1" y="447.1" width="14.4" height="9.8" fill="#960000" stroke="#555" stroke-width="0.8"/>
<text transform="translate(657 456) scale(0.94 1)" font-size="9.5" text-anchor="start" fill="#000" font-weight="bold" >&lt; 103</text>
<rect x="639.1" y="459.6" width="14.4" height="9.8" fill="#ff2800" stroke="#555" stroke-width="0.8"/>
<text transform="translate(657 468.5) scale(0.94 1)" font-size="9.5" text-anchor="start" fill="#000" font-weight="bold" >&lt; 100</text>
<rect x="639.1" y="472.1" width="14.4" height="9.8" fill="#ffc800" stroke="#555" stroke-width="0.8"/>
<text transform="translate(657 481) scale(0.94 1)" font-size="9.5" text-anchor="start" fill="#000" font-weight="bold" >&lt; 97</text>
<rect x="639.1" y="484.6" width="14.4" height="9.8" fill="#32ff00" stroke="#555" stroke-width="0.8"/>
<text transform="translate(657 493.5) scale(0.94 1)" font-size="9.5" text-anchor="start" fill="#000" font-weight="bold" >&lt; 94</text>
<rect x="639.1" y="497.1" width="14.4" height="9.8" fill="#008c1e" stroke="#555" stroke-width="0.8"/>
<text transform="translate(657 506) scale(0.94 1)" font-size="9.5" text-anchor="start" fill="#000" font-weight="bold" >&lt; 91</text>
<rect x="639.1" y="509.6" width="14.4" height="9.8" fill="#00d7e1" stroke="#555" stroke-width="0.8"/>
<text transform="translate(657 518.5) scale(0.94 1)" font-size="9.5" text-anchor="start" fill="#000" font-weight="bold" >&lt; 88</text>
<rect x="639.1" y="522.1" width="14.4" height="9.8" fill="#0037e1" stroke="#555" stroke-width="0.8"/>
<text transform="translate(657 531) scale(0.94 1)" font-size="9.5" text-anchor="start" fill="#000" font-weight="bold" >&lt; 85</text>
<rect x="639.1" y="534.6" width="14.4" height="9.8" fill="#0000aa" stroke="#555" stroke-width="0.8"/>
<text transform="translate(657 543.5) scale(0.94 1)" font-size="9.5" text-anchor="start" fill="#000" font-weight="bold" >&lt; 82</text>
<path d="M46.7 465.6l125.3-53.9M172 411.7l106.6 65.4M46.2 454.9l125.8-53.6M172 401.3l107.1 65M45.7 444.1l126.4-53.2M172.1 390.9l107.5 64.5M45.2 433.1l126.9-52.7M172.1 380.4l108.1 64M44.7 422.1l127.4-52.3M172.1 369.8l108.6 63.5M44.2 411l128-51.9M172.2 359.1l109 63M43.7 399.8l128.5-51.5M172.2 348.3l109.5 62.5M43.2 388.5l129.1-51M172.3 337.5l110 61.9M42.6 377.1l129.7-50.6M172.3 326.5l110.5 61.4M42.1 365.6l130.3-50.1M172.4 315.5l111 60.8M41.5 354l130.9-49.7M172.4 304.3l111.5 60.3M41 342.3l131.4-49.2M172.4 293.1l112.1 59.7M40.4 330.5l132.1-48.7M172.5 281.8l112.5 59M46.7 465.6l-6.3-135.1M150.6 539.4l-103.9-73.8M57.7 460.9l-5.6-134.7M161.9 533.9l-104.2-73M68.6 456.2l-5-134.3M173 528.4l-104.4-72.2M79.4 451.5l-4.4-133.8M184.1 523.1l-104.7-71.6M90.1 446.9l-3.8-133.3M195 517.7l-104.9-70.8M100.7 442.4l-3.3-133M205.9 512.5l-105.2-70.1M111.2 437.8l-2.7-132.4M216.6 507.2l-105.4-69.4M121.6 433.4l-2.2-132.1M227.2 502.1l-105.6-68.7M131.8 428.9l-1.5-131.6M237.7 497l-105.9-68.1M142 424.6l-1-131.2M248.1 491.9l-106.1-67.3M152.1 420.2l-0.5-130.7M258.4 486.9l-106.3-66.7M162.1 415.9l0-130.3M268.5 482l-106.4-66.1M172 411.7l0.5-129.9M278.6 477.1l-106.6-65.4M278.6 477.1l6.4-136.3M150.6 539.4l128-62.3M266 469.3l5.7-135.5M138.2 530.6l127.8-61.3M253.6 461.7l5-134.8M126.1 522l127.5-60.3M241.4 454.2l4.3-134M114.2 513.5l127.2-59.3M229.4 446.9l3.6-133.4M102.5 505.2l126.9-58.3M217.5 439.6l3-132.6M91 497l126.5-57.4M205.9 432.5l2.3-132M79.7 489l126.2-56.5M194.4 425.4l1.7-131.2M68.5 481.1l125.9-55.7M183.1 418.5l1.1-130.6M57.5 473.3l125.6-54.8M172 411.7l0.5-129.9M46.7 465.6l125.3-53.9" fill="none" stroke="#d9d9d9" stroke-width="0.6" stroke-dasharray="1.6 1"/>
<path d="M51.8 463.4l3.4 5.6l1.7 3.8" fill="none" stroke="#0000d2" stroke-width="0.7" stroke-opacity="0.75"/>
<path d="M55.5 461.8l2.7 4.3l2 3.5l1.6 3.6l1.6 4.3" fill="none" stroke="#0028be" stroke-width="0.7" stroke-opacity="0.75"/>
<path d="M59 460.3l3.5 5.5l2.5 4.5l3 6.5l1.9 5.3" fill="none" stroke="#0050a5" stroke-width="0.7" stroke-opacity="0.75"/>
<path d="M62.6 458.8l4.7 7.7l3.6 6.6l3.4 7.5l2 6" fill="none" stroke="#00738c" stroke-width="0.7" stroke-opacity="0.75"/>
<path d="M66.3 457.2l7.2 12.3l4.2 8.1l2.6 6.2l1.3 3.8l0.9 3.4" fill="none" stroke="#009ba5" stroke-width="0.7" stroke-opacity="0.75"/>
<path d="M70.2 455.5l10.2 18.1l3.4 6.6l2.7 6.7l1.2 3.9l1.2 4.7" fill="none" stroke="#00c3be" stroke-width="0.7" stroke-opacity="0.75"/>
<path d="M74.2 453.8l5.7 10.5l6.9 12.2l3 6l1.5 3.7l1.8 5.2l1.1 4l1 4.7" fill="none" stroke="#00ebc8" stroke-width="0.7" stroke-opacity="0.75"/>
<path d="M78.5 451.9l6.4 12.1l7.4 13l3.5 7.2l2 5.1l1.2 3.9l3 11.6" fill="none" stroke="#00c378" stroke-width="0.7" stroke-opacity="0.75"/>
<path d="M83.2 449.9l5.8 11.4l9.6 17.3l2.9 6l1.5 3.8l1.7 5.3l4.5 16.3" fill="none" stroke="#008c28" stroke-width="0.7" stroke-opacity="0.75"/>
<path d="M88.1 447.8l7.3 14.1l8.5 15.7l3.5 7.3l2.3 6.5l4.4 14.9l1.1 4.2l0.7 4.2" fill="none" stroke="#00cd00" stroke-width="0.7" stroke-opacity="0.75"/>
<path d="M93.4 445.5l6.2 12.1l10.1 18.9l2.3 4.9l1.6 3.7l2.3 6.5l4.9 17.8l1 5.5l0.4 4.3" fill="none" stroke="#50e100" stroke-width="0.7" stroke-opacity="0.75"/>
<path d="M274.3 479.2l-23.3-16.9l-6.1-4.7l-3.9-3.6M99.3 443l15.5 29.8l3.4 7.3l2.5 6.3l2 6.6l1.8 8l2.7 10.2l1 6.2l0.3 6.3" fill="none" stroke="#a0f000" stroke-width="0.7" stroke-opacity="0.75"/>
<path d="M269.6 481.5l-17.3-12.2l-10.6-7.2l-5-3.7l-5.8-4.8l-10.9-9.5l-5.2-4.8l-3.5-3.5M105.9 440.1l7.3 13.4l5.2 10.4l6 13.3l3.4 9l1.2 4l1 4.1l1 5.7l1.6 7.1l1.2 5.8l0.9 7.6l0.2 7.7" fill="none" stroke="#ebff00" stroke-width="0.7" stroke-opacity="0.75"/>
<path d="M264.9 483.7l-17.8-11.9l-11.2-7l-5.3-3.5l-6.3-4.6l-17.8-13.7l-6.4-5.6l-5.9-5.8l-3.1-4.1l-3.9-6.5M113.9 436.7l1.7 3.2l4.1 6.5l1.9 3.4l2.9 5.7l3 7.2l2.8 7.5l3.6 10.2l2.1 6.5l1.8 6.9l0.8 4.2l0.8 7.4l1.5 12.1l0.6 7.9l0 3.4l-0.2 4" fill="none" stroke="#ffd700" stroke-width="0.7" stroke-opacity="0.75"/>
<path d="M260.1 486.1l-18.9-11.5l-11.9-6.7l-8.4-5.1l-17.1-11.4l-12.1-8.8l-5.5-4.6l-6.7-6.8l-2.4-3l-7.3-10.3l-1.6-2l-2-1.8M125.4 431.7l0.8 2.4l1.2 2.1l6.2 8.3l1.1 2.3l1.4 3.6l2.2 7.5l3.4 15.3l3.5 14.1l1.1 5.6l0.6 4.4l0.2 3l0.1 10.6l1 12.9l0 6.6l-0.2 3.5l-0.5 3.3" fill="none" stroke="#ffa000" stroke-width="0.7" stroke-opacity="0.75"/>
<path d="M254.6 488.8l-17.4-9.1l-32.9-16.7l-10.2-4.9l-8.7-3.9l-6.6-2.5l-4.9-1.4l-1.8-0.4l-1.9-0.2l-2.6 0l-2 0.4l-1.5 0.7l-1.2 1l-0.9 1.1l-1.5 2.5l-1.8 4.9l-2.1 4.8l-1 4.7l-0.3 3.4l0 3.6l0.7 8.5l0.3 12.2l-0.3 4.9l-0.9 8.1l0.2 16.5l-0.2 5.1l-0.7 5.4" fill="none" stroke="#ff6400" stroke-width="0.7" stroke-opacity="0.75"/>
<path d="M247.7 492.1l-9.2-4l-19.1-7.8l-8.9-3.1l-8.6-2.5l-5.5-1.3l-3.5-0.6l-3.1-0.2l-2.6 0.1l-2.2 0.3l-1.9 0.5l-1.8 0.7l-2.8 1.7l-1.2 1l-1 1.1l-0.8 1.3l-1.4 2.7l-2.2 5.8l-2.2 4.1l-1.1 3l-4.5 19.8l-1.9 19" fill="none" stroke="#ff3700" stroke-width="0.7" stroke-opacity="0.75"/>
<path d="M239.1 496.3l-18.6-5.6l-6.4-1.6l-6.2-1.2l-3.7-0.4l-2.5-0.1l-2.5 0.2l-2.7 0.4l-3.4 1.1l-3 1.6l-2.6 2l-3.4 3.2l-2 2.5l-1.3 2.8l-2 6.2l-3 5.6l-2 4.5l-1.4 4.9l-1.4 7" fill="none" stroke="#ff1900" stroke-width="0.7" stroke-opacity="0.75"/>
<path d="M228.8 501.3l-7.7-1.2l-5.8-0.4l-3.2 0l-2.5 0.2l-4.5 0.7l-2 0.5l-3.5 1.4l-3 1.7l-2.5 2.1l-1.1 1.2l-4.7 6.3l-2.8 3.9l-1.6 2.8l-1.6 3.4" fill="none" stroke="#fa0000" stroke-width="0.7" stroke-opacity="0.75"/>
<path d="M46.7 465.6l-6.3-135.1M46.7 465.6l103.9 73.8M150.6 539.4l128-62.3M46.2 454.9h2.5M45.7 444.1h2.5M45.2 433.1h2.5M44.7 422.1h2.5M44.2 411h2.5M43.7 399.8h2.5M43.2 388.5h2.5M42.6 377.1h2.5M42.1 365.6h2.5M41.5 354h2.5M41 342.3h2.5M40.4 330.5h2.5M46.5 460.2h1.2M46 449.5h1.2M45.5 438.6h1.2M45 427.6h1.2M44.5 416.6h1.2M43.9 405.4h1.2M43.4 394.2h1.2M42.9 382.8h1.2M42.4 371.4h1.2M41.8 359.8h1.2M41.3 348.2h1.2M40.7 336.4h1.2M150.6 539.4l-1.8-1.3M152.8 538.3l-0.9-0.7M155.1 537.2l-0.9-0.7M157.4 536.1l-0.9-0.7M159.6 535l-0.9-0.7M161.9 533.9l-1.8-1.3M164.1 532.8l-0.9-0.6M166.3 531.7l-0.8-0.6M168.6 530.6l-0.9-0.6M170.8 529.5l-0.9-0.6M173 528.4l-1.8-1.2M175.3 527.4l-0.9-0.7M177.5 526.3l-0.9-0.6M179.7 525.2l-0.9-0.6M181.9 524.1l-0.9-0.6M184.1 523.1l-1.8-1.3M186.3 522l-0.9-0.6M188.5 520.9l-0.9-0.6M190.7 519.9l-0.9-0.7M192.9 518.8l-0.9-0.6M195 517.7l-1.8-1.2M197.2 516.7l-0.9-0.6M199.4 515.6l-0.9-0.6M201.5 514.6l-0.9-0.6M203.7 513.5l-0.9-0.6M205.9 512.5l-1.8-1.2M208 511.4l-0.9-0.6M210.2 510.4l-0.9-0.6M212.3 509.3l-0.9-0.6M214.4 508.3l-0.9-0.6M216.6 507.2l-1.8-1.1M218.7 506.2l-0.9-0.6M220.8 505.2l-0.9-0.6M223 504.1l-0.9-0.6M225.1 503.1l-0.9-0.6M227.2 502.1l-1.8-1.2M229.3 501.1l-0.9-0.6M231.4 500l-0.9-0.6M233.5 499l-0.9-0.6M235.6 498l-0.9-0.6M237.7 497l-1.8-1.2M239.8 496l-0.9-0.6M241.8 494.9l-0.9-0.5M243.9 493.9l-0.9-0.5M246 492.9l-0.9-0.6M248.1 491.9l-1.9-1.1M250.1 490.9l-0.9-0.6M252.2 489.9l-0.9-0.6M254.3 488.9l-1-0.6M256.3 487.9l-0.9-0.6M258.4 486.9l-1.9-1.1M260.4 485.9l-0.9-0.5M262.4 484.9l-0.9-0.5M264.5 483.9l-0.9-0.5M266.5 483l-0.9-0.6M268.5 482l-1.8-1.2M270.6 481l-1-0.6M272.6 480l-0.9-0.6M274.6 479l-0.9-0.5M276.6 478l-0.9-0.5M278.6 477.1l-1.8-1.2M150.6 539.4l2.1-1.1M148.1 537.6l1.1-0.5M145.6 535.9l1.1-0.6M143.1 534.1l1.1-0.5M140.7 532.4l1.1-0.6M138.2 530.6l2.2-1M135.8 528.9l1.1-0.5M133.4 527.2l1.1-0.6M131 525.4l1-0.5M128.5 523.7l1.1-0.5M126.1 522l2.2-1M123.7 520.3l1.1-0.5M121.3 518.6l1.1-0.5M119 516.9l1-0.5M116.6 515.2l1.1-0.5M114.2 513.5l2.2-1M111.9 511.9l1-0.5M109.5 510.2l1.1-0.5M107.2 508.5l1-0.5M104.8 506.9l1.1-0.5M102.5 505.2l2.2-1M100.2 503.6l1.1-0.5M97.9 501.9l1.1-0.5M95.6 500.3l1-0.5M93.3 498.7l1.1-0.5M91 497l2.1-0.9M88.7 495.4l1.1-0.5M86.4 493.8l1.1-0.5M84.2 492.2l1-0.5M81.9 490.6l1.1-0.5M79.7 489l2.1-1M77.4 487.4l1.1-0.5M75.2 485.8l1-0.5M72.9 484.2l1.1-0.5M70.7 482.6l1.1-0.4M68.5 481.1l2.1-1M66.3 479.5l1.1-0.5M64.1 477.9l1.1-0.4M61.9 476.4l1.1-0.5M59.7 474.8l1.1-0.4M57.5 473.3l2.2-1M55.4 471.7l1-0.4M53.2 470.2l1.1-0.5M51 468.6l1.1-0.4M48.9 467.1l1-0.4M46.7 465.6l2.2-0.9" fill="none" stroke="#222" stroke-width="0.7"/>
<path d="M218.9 393.8L218.9 384M272.6 378.2L271.6 405.8" stroke="#7d7dff" stroke-width="0.6" stroke-dasharray="1.6 1" fill="none"/>
<path class="b14" d="M171.3 327.1l6.8 0.1l-5.8-4l-6.1 0.2l2 1.8z"/>
<path class="b15" d="M166.2 323.4l-0.7 0l2.7 1.8z"/>
<path class="o" d="M171.3 327.1l6.8 0.1l-5.8-4l-6.8 0.2z"/>
<path class="c b14" d="M177 331.4l6.8 0.4l-5.7-4.6l-6.8-0.1z"/>
<path class="b14" d="M170.3 327.2l1-0.1l-3.1-1.9z"/>
<path class="b15" d="M164.4 327.7l5.9-0.5l-2.1-2l-2.7-1.8l-6.9 1z"/>
<path class="o" d="M164.4 327.7l6.9-0.6l-5.8-3.7l-6.9 1z"/>
<path class="b13" d="M188.8 336.5l0.8 0.1l-1.5-1.3z"/>
<path class="b14" d="M182.8 335.9l6 0.6l-0.7-1.2l-4.3-3.5l-6.8-0.4z"/>
<path class="o" d="M182.8 335.9l6.8 0.7l-5.8-4.8l-6.8-0.4z"/>
<path class="b14" d="M173.5 331.5l3.5-0.1l-5.7-4.3l-1 0.1z"/>
<path class="b15" d="M170.2 331.5l3.3 0l-3.2-4.3l-5.9 0.5z"/>
<path class="o" d="M170.2 331.5l6.8-0.1l-5.7-4.3l-6.9 0.6z"/>
<path class="c b15" d="M157.5 329l6.9-1.3l-5.8-3.3l-6.9 1.7z"/>
<path class="b13" d="M191.8 340.9l3.7 0.4l-5.9-4.7l-0.8-0.1z"/>
<path class="b14" d="M188.7 340.5l3.1 0.4l-3-4.4l-6-0.6z"/>
<path class="o" d="M188.7 340.5l6.8 0.8l-5.9-4.7l-6.8-0.7z"/>
<path class="b14" d="M176.9 335.7l5.9 0.2l-5.8-4.5l-3.5 0.1z"/>
<path class="b15" d="M176 335.6l0.9 0.1l-3.4-4.2l-3.3 0z"/>
<path class="o" d="M176 335.6l6.8 0.3l-5.8-4.5l-6.8 0.1z"/>
<path class="c b15" d="M150.5 331.1l7-2.1l-5.8-2.9l-6.9 2.3z"/>
<path class="c b15" d="M163.2 332.4l7-0.9l-5.8-3.8l-6.9 1.3z"/>
<path class="b13" d="M195.3 345.2l6.1 0.8l-5.9-4.7l-3.7-0.4z"/>
<path class="b14" d="M194.6 345.1l0.7 0.1l-3.5-4.3l-3.1-0.4z"/>
<path class="o" d="M194.6 345.1l6.8 0.9l-5.9-4.7l-6.8-0.8z"/>
<path class="c b15" d="M143.5 333.9l7-2.8l-5.7-2.7l-7 3.1z"/>
<path class="b14" d="M181.8 339.8l6.9 0.7l-5.9-4.6l-5.9-0.2l1.6 1.8z"/>
<path class="b15" d="M176.9 335.7l-0.9-0.1l2.5 1.9z"/>
<path class="o" d="M181.8 339.8l6.9 0.7l-5.9-4.6l-6.8-0.3z"/>
<path class="c b15" d="M156.2 334.1l7-1.7l-5.7-3.4l-7 2.1z"/>
<path class="c b15" d="M169 336.1l7-0.5l-5.8-4.1l-7 0.9z"/>
<path class="b13" d="M200.5 349.3l6.8 1.2l-5.9-4.5l-6.1-0.8l1.8 1.6z"/>
<path class="b14" d="M195.3 345.2l-0.7-0.1l2.5 1.7z"/>
<path class="o" d="M200.5 349.3l6.8 1.2l-5.9-4.5l-6.8-0.9z"/>
<path class="c b15" d="M136.4 337.6l7.1-3.7l-5.7-2.4l-7.1 3.8z"/>
<path class="c b14" d="M187.7 344l6.9 1.1l-5.9-4.6l-6.9-0.7z"/>
<path class="c b15" d="M149.2 336.7l7-2.6l-5.7-3l-7 2.8z"/>
<path class="b14" d="M180.5 339.8l1.3 0l-3.3-2.3z"/>
<path class="b15" d="M174.9 339.9l5.6-0.1l-2-2.3l-2.5-1.9l-7 0.5z"/>
<path class="o" d="M174.9 339.9l6.9-0.1l-5.8-4.2l-7 0.5z"/>
<path class="c b15" d="M162.1 337.5l6.9-1.4l-5.8-3.7l-7 1.7z"/>
<path class="b14" d="M124.1 339.7l-0.5 0.3l0.7 0.3z"/>
<path class="b15" d="M129.3 342.2l7.1-4.6l-5.7-2.3l-6.6 4.4l0.2 0.6z"/>
<path class="o" d="M129.3 342.2l7.1-4.6l-5.7-2.3l-7.1 4.7z"/>
<path class="b12" d="M213.2 355l0.1 0l-0.4-0.3z"/>
<path class="b13" d="M206.5 353.5l6.7 1.5l-0.3-0.3l-5.6-4.2l-6.8-1.2z"/>
<path class="o" d="M206.5 353.5l6.8 1.5l-6-4.5l-6.8-1.2z"/>
<path class="b13" d="M199.6 349.2l0.9 0.1l-3.4-2.5z"/>
<path class="b14" d="M193.7 348.1l5.9 1.1l-2.5-2.4l-2.5-1.7l-6.9-1.1z"/>
<path class="o" d="M193.7 348.1l6.8 1.2l-5.9-4.2l-6.9-1.1z"/>
<path class="c b15" d="M142.1 340.3l7.1-3.6l-5.7-2.8l-7.1 3.7z"/>
<path class="b14" d="M184.7 343.8l3 0.2l-5.9-4.2l-1.3 0z"/>
<path class="b15" d="M180.8 343.7l3.9 0.1l-4.2-4l-5.6 0.1z"/>
<path class="o" d="M180.8 343.7l6.9 0.3l-5.9-4.2l-6.9 0.1z"/>
<path class="b14" d="M122.2 347.8l4.5-3.6l-2.4-3.9l-0.7-0.3l-7.1 5.9z"/>
<path class="b15" d="M126.7 344.2l2.6-2l-5-1.9z"/>
<path class="o" d="M122.2 347.8l7.1-5.6l-5.7-2.2l-7.1 5.9z"/>
<path class="c b15" d="M155 339.8l7.1-2.3l-5.9-3.4l-7 2.6z"/>
<path class="c b15" d="M167.9 340.9l7-1l-5.9-3.8l-6.9 1.4z"/>
<path class="b12" d="M217.7 359l1.6 0.4l-6-4.4l-0.1 0z"/>
<path class="b13" d="M212.6 357.7l5.1 1.3l-4.5-4l-6.7-1.5z"/>
<path class="o" d="M212.6 357.7l6.7 1.7l-6-4.4l-6.8-1.5z"/>
<path class="c b15" d="M135 344.8l7.1-4.5l-5.7-2.7l-7.1 4.6z"/>
<path class="b13" d="M112.5 349.9l-3 2.9l5.5 1.6z"/>
<path class="b14" d="M115.1 354.4l7.1-6.6l-5.7-1.9l-4 4l2.5 4.5z"/>
<path class="o" d="M115.1 354.4l7.1-6.6l-5.7-1.9l-7 6.9z"/>
<path class="b13" d="M204.3 353.1l2.2 0.4l-6-4.2l-0.9-0.1z"/>
<path class="b14" d="M199.7 352l4.6 1.1l-4.7-3.9l-5.9-1.1z"/>
<path class="o" d="M199.7 352l6.8 1.5l-6-4.2l-6.8-1.2z"/>
<path class="c b15" d="M147.9 343.1l7.1-3.3l-5.8-3.1l-7.1 3.6z"/>
<path class="b0" d="M51.6 456.9l2.4-4.7l-3-4.8l-4.7 9z"/>
<path class="b1" d="M54 452.2l3.6-7.1l-1.2-1.9l-3.2-0.2l-2.2 4.4z"/>
<path class="b2" d="M57.6 445.1l0.9-1.9l-2.1 0z"/>
<path class="o" d="M51.6 456.9l6.9-13.7l-5.3-0.2l-6.9 13.4z"/>
<path class="b12" d="M104.2 358.7l-1.8 2.2l3.4 0.7z"/>
<path class="b13" d="M107.9 362l7.1-7.5l0-0.1l-5.5-1.6l-5.3 5.9l1.6 2.9z"/>
<path class="b14" d="M115 354.5l0.1-0.1l-0.1 0z"/>
<path class="o" d="M107.9 362l7.2-7.6l-5.6-1.6l-7.1 8.1z"/>
<path class="b14" d="M189.5 347.7l4.2 0.4l-6-4.1l-3-0.2z"/>
<path class="b15" d="M186.8 347.4l2.7 0.3l-4.8-3.9l-3.9-0.1z"/>
<path class="o" d="M186.8 347.4l6.9 0.7l-6-4.1l-6.9-0.3z"/>
<path class="c b15" d="M160.9 342.9l7-2l-5.8-3.4l-7.1 2.3z"/>
<path class="c b15" d="M173.8 344.4l7-0.7l-5.9-3.8l-7 1z"/>
<path class="b1" d="M54.5 440.4l-1.3 2.6l3.2 0.2z"/>
<path class="b2" d="M58.5 443.2l2.5-5.1l-3.1-4.7l-3.4 7l1.9 2.8z"/>
<path class="b3" d="M61 438.1l3.4-6.9l-1.6-2.4l-2.6-0.1l-2.3 4.7z"/>
<path class="b4" d="M64.4 431.2l1.1-2.4l-2.7 0z"/>
<path class="o" d="M58.5 443.2l7-14.4l-5.3-0.1l-7 14.3z"/>
<path class="b14" d="M127.9 350.2l2.3-1.8l-3.5-4.2l-4.5 3.6z"/>
<path class="b15" d="M130.2 348.4l4.8-3.6l-5.7-2.6l-2.6 2z"/>
<path class="o" d="M127.9 350.2l7.1-5.4l-5.7-2.6l-7.1 5.6z"/>
<path class="b11" d="M97.5 367l-2.2 2.9l4 0.6z"/>
<path class="b12" d="M100.8 370.7l6.1-7.4l-1.1-1.7l-3.4-0.7l-4.9 6.1l1.8 3.5z"/>
<path class="b13" d="M106.9 363.3l1-1.3l-2.1-0.4z"/>
<path class="o" d="M100.8 370.7l7.1-8.7l-5.5-1.1l-7.1 9z"/>
<path class="b12" d="M222.5 362.9l2.9 0.9l-6.1-4.4l-1.6-0.4z"/>
<path class="b13" d="M218.6 361.8l3.9 1.1l-4.8-3.9l-5.1-1.3z"/>
<path class="o" d="M218.6 361.8l6.8 2l-6.1-4.4l-6.7-1.7z"/>
<path class="b3" d="M61.3 426.4l-1.1 2.3l2.6 0.1z"/>
<path class="b4" d="M65.5 428.8l2.4-4.7l-2.9-4.7l-3.7 7l1.5 2.4z"/>
<path class="b5" d="M67.9 424.1l3.6-7.1l-1.2-1.9l-3.2 0.1l-2.1 4.2z"/>
<path class="b6" d="M71.5 417l1-1.9l-2.2 0z"/>
<path class="o" d="M65.5 428.8l7-13.7l-5.4 0.1l-6.9 13.5z"/>
<path class="b10" d="M93.7 380.3l0.4-0.6l-2.5-4.7l-3.4 4.8z"/>
<path class="b11" d="M94.1 379.7l5.9-8l-0.7-1.2l-4-0.6l-3.7 5.1z"/>
<path class="b12" d="M100 371.7l0.8-1l-1.5-0.2z"/>
<path class="o" d="M93.7 380.3l7.1-9.6l-5.5-0.8l-7.1 9.9z"/>
<path class="b5" d="M68.7 412.3l-1.6 2.9l3.2-0.1z"/>
<path class="b6" d="M72.5 415.1l2.8-5.3l-2.7-4.7l-3.9 7.2l1.6 2.8z"/>
<path class="b7" d="M75.3 409.8l4.1-7.2l-0.2-0.3l-5.1 0l-1.5 2.8z"/>
<path class="b8" d="M79.4 402.6l0.1-0.3l-0.3 0z"/>
<path class="o" d="M72.5 415.1l7-12.8l-5.4 0l-7 12.9z"/>
<path class="b8" d="M81.3 390.4l-0.2 0.3l0.4 0z"/>
<path class="b9" d="M86.6 390.8l2.2-3.3l-2.5-4.7l-5 7.6l0.2 0.3z"/>
<path class="b10" d="M88.8 387.5l4.9-7.2l-5.5-0.5l-1.9 3z"/>
<path class="o" d="M86.6 390.8l7.1-10.5l-5.5-0.5l-7.1 10.9z"/>
<path class="c b15" d="M140.8 347.4l7.1-4.3l-5.8-2.8l-7.1 4.5z"/>
<path class="b7" d="M76.8 397.8l-2.7 4.5l5.1 0z"/>
<path class="b8" d="M79.5 402.3l4.5-7.2l-2.5-4.4l-0.4 0l-4.3 7.1l2.4 4.5z"/>
<path class="b9" d="M84 395.1l2.6-4.3l-5.1-0.1z"/>
<path class="o" d="M79.5 402.3l7.1-11.5l-5.5-0.1l-7 11.6z"/>
<path class="b13" d="M209.4 356.9l3.2 0.8l-6.1-4.2l-2.2-0.4z"/>
<path class="b14" d="M205.7 355.9l3.7 1l-5.1-3.8l-4.6-1.1z"/>
<path class="o" d="M205.7 355.9l6.9 1.8l-6.1-4.2l-6.8-1.5z"/>
<path class="c b14" d="M120.7 356.4l7.2-6.2l-5.7-2.4l-7.1 6.6z"/>
<path class="c b15" d="M153.8 346l7.1-3.1l-5.9-3.1l-7.1 3.3z"/>
<path class="b14" d="M194.7 351.4l5 0.6l-6-3.9l-4.2-0.4z"/>
<path class="b15" d="M192.8 351.1l1.9 0.3l-5.2-3.7l-2.7-0.3z"/>
<path class="o" d="M192.8 351.1l6.9 0.9l-6-3.9l-6.9-0.7z"/>
<path class="c b15" d="M166.8 346.1l7-1.7l-5.9-3.5l-7 2z"/>
<path class="c b15" d="M179.8 347.8l7-0.4l-6-3.7l-7 0.7z"/>
<path class="b13" d="M113.6 363.5l4.7-4.7l-3.3-4.3l-7.1 7.5z"/>
<path class="b14" d="M118.3 358.8l2.4-2.4l-5.6-2l-0.1 0.1z"/>
<path class="o" d="M113.6 363.5l7.1-7.1l-5.6-2l-7.2 7.6z"/>
<path class="b12" d="M227.4 366.9l4.1 1.5l-6.1-4.6l-2.9-0.9z"/>
<path class="b13" d="M224.8 366l2.6 0.9l-4.9-4l-3.9-1.1z"/>
<path class="o" d="M224.8 366l6.7 2.4l-6.1-4.6l-6.8-2z"/>
<path class="b14" d="M130.2 348.4l-2.3 1.8l4.9 2z"/>
<path class="b15" d="M133.7 352.6l7.1-5.2l-5.8-2.6l-4.8 3.6l2.6 3.8z"/>
<path class="o" d="M133.7 352.6l7.1-5.2l-5.8-2.6l-7.1 5.4z"/>
<path class="b0" d="M54 452.2l-2.4 4.7l4.6-0.3z"/>
<path class="b1" d="M56.8 456.6l3.4-6.5l-2.6-5l-3.6 7.1l2.2 4.4z"/>
<path class="b2" d="M60.2 450.1l3.6-7.1l0-0.1l-5.3 0.3l-0.9 1.9z"/>
<path class="b3" d="M63.8 443l0-0.1z"/>
<path class="o" d="M56.8 456.6l7-13.7l-5.3 0.3l-6.9 13.7z"/>
<path class="b12" d="M106.4 371.7l3.4-3.8l-2.9-4.6l-6.1 7.4z"/>
<path class="b13" d="M109.8 367.9l3.8-4.4l-5.7-1.5l-1 1.3z"/>
<path class="o" d="M106.4 371.7l7.2-8.2l-5.7-1.5l-7.1 8.7z"/>
<path class="b2" d="M61 438.1l-2.5 5.1l5.3-0.3z"/>
<path class="b3" d="M63.8 442.9l3.4-6.9l-2.8-4.8l-3.4 6.9l2.8 4.8z"/>
<path class="b4" d="M67.2 436l3.5-7l-0.2-0.4l-5 0.2l-1.1 2.4z"/>
<path class="b5" d="M70.7 429l0.1-0.4l-0.3 0z"/>
<path class="o" d="M63.8 442.9l7-14.3l-5.3 0.2l-7 14.4z"/>
<path class="b13" d="M214.7 360.6l3.9 1.2l-6-4.1l-3.2-0.8z"/>
<path class="b14" d="M211.8 359.8l2.9 0.8l-5.3-3.7l-3.7-1z"/>
<path class="o" d="M211.8 359.8l6.8 2l-6-4.1l-6.9-1.8z"/>
<path class="c b15" d="M146.6 350l7.2-4l-5.9-2.9l-7.1 4.3z"/>
<path class="b10" d="M94.1 379.7l-0.4 0.6l0.7 0.1z"/>
<path class="b11" d="M99.2 381l3.6-4.7l-2.8-4.6l-5.9 8l0.3 0.7z"/>
<path class="b12" d="M102.8 376.3l3.6-4.6l-5.6-1l-0.8 1z"/>
<path class="o" d="M99.2 381l7.2-9.3l-5.6-1l-7.1 9.6z"/>
<path class="b4" d="M67.9 424.1l-2.4 4.7l5-0.2z"/>
<path class="b5" d="M70.8 428.6l3.5-6.8l-2.8-4.8l-3.6 7.1l2.6 4.5z"/>
<path class="b6" d="M74.3 421.8l3.6-7l-5.4 0.3l-1 1.9z"/>
<path class="o" d="M70.8 428.6l7.1-13.8l-5.4 0.3l-7 13.7z"/>
<path class="b14" d="M126.5 358.4l6.8-5.5l-0.5-0.7l-4.9-2l-7.2 6.2z"/>
<path class="b15" d="M133.3 352.9l0.4-0.3l-0.9-0.4z"/>
<path class="o" d="M126.5 358.4l7.2-5.8l-5.8-2.4l-7.2 6.2z"/>
<path class="b14" d="M200.2 355l5.5 0.9l-6-3.9l-5-0.6z"/>
<path class="b15" d="M198.8 354.7l1.4 0.3l-5.5-3.6l-1.9-0.3z"/>
<path class="o" d="M198.8 354.7l6.9 1.2l-6-3.9l-6.9-0.9z"/>
<path class="b9" d="M88.8 387.5l-2.2 3.3l4.1 0.3z"/>
<path class="b10" d="M92.1 391.2l4.7-6.8l-2.4-4l-0.7-0.1l-4.9 7.2l1.9 3.6z"/>
<path class="b11" d="M96.8 384.4l2.4-3.4l-4.8-0.6z"/>
<path class="o" d="M92.1 391.2l7.1-10.2l-5.5-0.7l-7.1 10.5z"/>
<path class="b6" d="M77.9 414.8l0-0.1l-2.6-4.9l-2.8 5.3z"/>
<path class="b7" d="M77.9 414.7l4.2-7.3l-2.7-4.8l-4.1 7.2z"/>
<path class="b8" d="M82.1 407.4l2.9-5l-5.5-0.1l-0.1 0.3z"/>
<path class="o" d="M77.9 414.8l7.1-12.4l-5.5-0.1l-7 12.8z"/>
<path class="c b15" d="M159.7 348.8l7.1-2.7l-5.9-3.2l-7.1 3.1z"/>
<path class="b8" d="M85 402.4l1.6-2.5l-2.6-4.8l-4.5 7.2z"/>
<path class="b9" d="M86.6 399.9l4.8-7.6l-0.7-1.2l-4.1-0.3l-2.6 4.3z"/>
<path class="b10" d="M91.4 392.3l0.7-1.1l-1.4-0.1z"/>
<path class="o" d="M85 402.4l7.1-11.2l-5.5-0.4l-7.1 11.5z"/>
<path class="c b15" d="M185.8 351.2l7-0.1l-6-3.7l-7 0.4z"/>
<path class="c b15" d="M172.7 349.2l7.1-1.4l-6-3.4l-7 1.7z"/>
<path class="b12" d="M232.4 370.9l5.2 2.2l-6.1-4.7l-4.1-1.5z"/>
<path class="b13" d="M230.9 370.3l1.5 0.6l-5-4l-2.6-0.9z"/>
<path class="o" d="M230.9 370.3l6.7 2.8l-6.1-4.7l-6.7-2.4z"/>
<path class="b13" d="M119.3 365.1l1.8-1.7l-2.8-4.6l-4.7 4.7z"/>
<path class="b14" d="M121.1 363.4l5.4-5l-5.8-2l-2.4 2.4z"/>
<path class="o" d="M119.3 365.1l7.2-6.7l-5.8-2l-7.1 7.1z"/>
<path class="c b15" d="M139.5 354.8l7.1-4.8l-5.8-2.6l-7.1 5.2z"/>
<path class="b13" d="M220.1 364.4l4.7 1.6l-6.2-4.2l-3.9-1.2z"/>
<path class="b14" d="M217.9 363.6l2.2 0.8l-5.4-3.8l-2.9-0.8z"/>
<path class="o" d="M217.9 363.6l6.9 2.4l-6.2-4.2l-6.8-2z"/>
<path class="b12" d="M112.1 372.9l0.3-0.3l-2.6-4.7l-3.4 3.8z"/>
<path class="b13" d="M112.4 372.6l6.9-7.5l-5.7-1.6l-3.8 4.4z"/>
<path class="o" d="M112.1 372.9l7.2-7.8l-5.7-1.6l-7.2 8.2z"/>
<path class="b1" d="M62.1 455.8l0.3-0.5l-2.2-5.2l-3.4 6.5z"/>
<path class="b2" d="M62.4 455.3l3.8-7.2l-2.4-5.1l-3.6 7.1z"/>
<path class="b3" d="M66.2 448.1l3-5.7l-5.4 0.5l0 0.1z"/>
<path class="o" d="M62.1 455.8l7.1-13.4l-5.4 0.5l-7 13.7z"/>
<path class="c b15" d="M152.5 352.4l7.2-3.6l-5.9-2.8l-7.2 4z"/>
<path class="b14" d="M206 358.6l5.8 1.2l-6.1-3.9l-5.5-0.9z"/>
<path class="b15" d="M204.9 358.4l1.1 0.2l-5.8-3.6l-1.4-0.3z"/>
<path class="o" d="M204.9 358.4l6.9 1.4l-6.1-3.9l-6.9-1.2z"/>
<path class="b3" d="M69.2 442.4l0.7-1.4l-2.7-5l-3.4 6.9z"/>
<path class="b4" d="M69.9 441l3.6-7.2l-2.8-4.8l-3.5 7z"/>
<path class="b5" d="M73.5 433.8l2.8-5.5l-5.5 0.3l-0.1 0.4z"/>
<path class="o" d="M69.2 442.4l7.1-14.1l-5.5 0.3l-7 14.3z"/>
<path class="b14" d="M132.3 360.3l3.3-2.6l-2.3-4.8l-6.8 5.5z"/>
<path class="b15" d="M135.6 357.7l3.9-2.9l-5.8-2.2l-0.4 0.3z"/>
<path class="o" d="M132.3 360.3l7.2-5.5l-5.8-2.2l-7.2 5.8z"/>
<path class="b15" d="M166.2 351.4l6.5-2.2l-5.9-3.1l-7.1 2.7l5.5 2.6z"/>
<path class="b16" d="M165.6 351.6l0.6-0.2l-1 0z"/>
<path class="o" d="M165.6 351.6l7.1-2.4l-5.9-3.1l-7.1 2.7z"/>
<path class="b11" d="M104.9 381.8l0.5-0.7l-2.6-4.8l-3.6 4.7z"/>
<path class="b12" d="M105.4 381.1l6.7-8.2l-5.7-1.2l-3.6 4.6z"/>
<path class="o" d="M104.9 381.8l7.2-8.9l-5.7-1.2l-7.2 9.3z"/>
<path class="b11" d="M243.7 377.8l0.1 0l-0.4-0.3z"/>
<path class="b12" d="M237.5 374.9l6.2 2.9l-0.3-0.3l-5.8-4.4l-5.2-2.2z"/>
<path class="b13" d="M237.1 374.7l0.4 0.2l-5.1-4l-1.5-0.6z"/>
<path class="o" d="M237.1 374.7l6.7 3.1l-6.2-4.7l-6.7-2.8z"/>
<path class="c b15" d="M191.8 354.5l7 0.2l-6-3.6l-7 0.1z"/>
<path class="c b15" d="M178.7 352.2l7.1-1l-6-3.4l-7.1 1.4z"/>
<path class="b5" d="M76.3 428.3l0.8-1.6l-2.8-4.9l-3.5 6.8z"/>
<path class="b6" d="M77.1 426.7l3.8-7.2l-2.9-4.7l-0.1 0l-3.6 7z"/>
<path class="b7" d="M80.9 419.5l2.5-4.7l-5.4 0z"/>
<path class="o" d="M76.3 428.3l7.1-13.5l-5.5 0l-7.1 13.8z"/>
<path class="b10" d="M97.7 391.7l1.8-2.5l-2.7-4.8l-4.7 6.8z"/>
<path class="b11" d="M99.5 389.2l5.4-7.4l-5.7-0.8l-2.4 3.4z"/>
<path class="o" d="M97.7 391.7l7.2-9.9l-5.7-0.8l-7.1 10.2z"/>
<path class="b6" d="M77.9 414.7l0 0.1l0.1 0z"/>
<path class="b7" d="M83.4 414.8l1.5-2.6l-2.8-4.8l-4.2 7.3l0.1 0.1z"/>
<path class="b8" d="M84.9 412.2l4.4-7.5l-1.3-2.2l-3-0.1l-2.9 5z"/>
<path class="b9" d="M89.3 404.7l1.2-2l-2.5-0.2z"/>
<path class="o" d="M83.4 414.8l7.1-12.1l-5.5-0.3l-7.1 12.4z"/>
<path class="b8" d="M86.6 399.9l-1.6 2.5l3 0.1z"/>
<path class="b9" d="M90.5 402.7l3.7-5.7l-2.8-4.7l-4.8 7.6l1.4 2.6z"/>
<path class="b10" d="M94.2 397l3.5-5.3l-5.6-0.5l-0.7 1.1z"/>
<path class="o" d="M90.5 402.7l7.2-11l-5.6-0.5l-7.1 11.2z"/>
<path class="c b15" d="M145.3 356.9l7.2-4.5l-5.9-2.4l-7.1 4.8z"/>
<path class="b13" d="M121.1 363.4l-1.8 1.7l3 0.9z"/>
<path class="b14" d="M125 366.7l7.3-6.4l-5.8-1.9l-5.4 5l1.2 2.6z"/>
<path class="o" d="M125 366.7l7.3-6.4l-5.8-1.9l-7.2 6.7z"/>
<path class="b13" d="M225.6 368.2l5.3 2.1l-6.1-4.3l-4.7-1.6z"/>
<path class="b14" d="M224.1 367.6l1.5 0.6l-5.5-3.8l-2.2-0.8z"/>
<path class="o" d="M224.1 367.6l6.8 2.7l-6.1-4.3l-6.9-2.4z"/>
<path class="b15" d="M158.4 354.9l6.5-3l0.3-0.5l-5.5-2.6l-7.2 3.6z"/>
<path class="b16" d="M164.9 351.9l0.7-0.3l-0.4-0.2z"/>
<path class="o" d="M158.4 354.9l7.2-3.3l-5.9-2.8l-7.2 3.6z"/>
<path class="b14" d="M211.9 362.1l6 1.5l-6.1-3.8l-5.8-1.2z"/>
<path class="b15" d="M211.1 361.9l0.8 0.2l-5.9-3.5l-1.1-0.2z"/>
<path class="o" d="M211.1 361.9l6.8 1.7l-6.1-3.8l-6.9-1.4z"/>
<path class="b12" d="M112.4 372.6l-0.3 0.3l0.5 0.2z"/>
<path class="b13" d="M117.8 374.2l5.8-6l-1.3-2.2l-3-0.9l-6.9 7.5l0.2 0.5z"/>
<path class="b14" d="M123.6 368.2l1.4-1.5l-2.7-0.7z"/>
<path class="o" d="M117.8 374.2l7.2-7.5l-5.7-1.6l-7.2 7.8z"/>
<path class="b11" d="M248.8 381.8l1.3 0.7l-6.3-4.7l-0.1 0z"/>
<path class="b12" d="M243.4 378.9l5.4 2.9l-5.1-4l-6.2-2.9l2.9 2z"/>
<path class="b13" d="M237.5 374.9l-0.4-0.2l3.3 2.2z"/>
<path class="o" d="M243.4 378.9l6.7 3.6l-6.3-4.7l-6.7-3.1z"/>
<path class="b15" d="M178.1 352.4l0.6-0.2l-6-3l-6.5 2.2z"/>
<path class="b16" d="M171.6 354.3l6.5-1.9l-11.9-1l-0.6 0.2z"/>
<path class="o" d="M171.6 354.3l7.1-2.1l-6-3l-7.1 2.4z"/>
<path class="c b15" d="M197.9 357.8l7 0.6l-6.1-3.7l-7-0.2z"/>
<path class="b14" d="M135.6 357.7l-3.3 2.6l4.4 1.4z"/>
<path class="b15" d="M138.1 362.1l7.2-5.2l-5.8-2.1l-3.9 2.9l1.1 4z"/>
<path class="o" d="M138.1 362.1l7.2-5.2l-5.8-2.1l-7.2 5.5z"/>
<path class="b15" d="M186 355.1l5.8-0.6l-6-3.3l-7.1 1l1 0.6z"/>
<path class="b16" d="M184.8 355.2l1.2-0.1l-6.3-2.3z"/>
<path class="o" d="M184.8 355.2l7-0.7l-6-3.3l-7.1 1z"/>
<path class="b1" d="M62.4 455.3l-0.3 0.5l0.5 0z"/>
<path class="b2" d="M67.5 455l0.9-1.6l-2.2-5.3l-3.8 7.2l0.2 0.5z"/>
<path class="b3" d="M68.4 453.4l3.9-7.3l-1.7-3.9l-1.4 0.2l-3 5.7z"/>
<path class="b4" d="M72.3 446.1l2.3-4.3l-4 0.4z"/>
<path class="o" d="M67.5 455l7.1-13.2l-5.4 0.6l-7.1 13.4z"/>
<path class="b11" d="M105.4 381.1l-0.5 0.7l1 0.2z"/>
<path class="b12" d="M110.6 382.8l4.5-5.5l-2.5-4.2l-0.5-0.2l-6.7 8.2l0.5 0.9z"/>
<path class="b13" d="M115.1 377.3l2.7-3.1l-5.2-1.1z"/>
<path class="o" d="M110.6 382.8l7.2-8.6l-5.7-1.3l-7.2 8.9z"/>
<path class="b3" d="M69.9 441l-0.7 1.4l1.4-0.2z"/>
<path class="b4" d="M74.6 441.8l1.6-2.9l-2.7-5.1l-3.6 7.2l0.7 1.2z"/>
<path class="b5" d="M76.2 438.9l3.7-7.3l-1.9-3.3l-1.7 0l-2.8 5.5z"/>
<path class="b6" d="M79.9 431.6l1.9-3.5l-3.8 0.2z"/>
<path class="o" d="M74.6 441.8l7.2-13.7l-5.5 0.2l-7.1 14.1z"/>
<path class="b13" d="M231.2 371.9l5.9 2.8l-6.2-4.4l-5.3-2.1z"/>
<path class="b14" d="M230.4 371.6l0.8 0.3l-5.6-3.7l-1.5-0.6z"/>
<path class="o" d="M230.4 371.6l6.7 3.1l-6.2-4.4l-6.8-2.7z"/>
<path class="b10" d="M99.5 389.2l-1.8 2.5l3.3 0.4z"/>
<path class="b11" d="M103.3 392.4l4.9-6.5l-2.3-3.9l-1-0.2l-5.4 7.4l1.5 2.9z"/>
<path class="b12" d="M108.2 385.9l2.4-3.1l-4.7-0.8z"/>
<path class="o" d="M103.3 392.4l7.3-9.6l-5.7-1l-7.2 9.9z"/>
<path class="b5" d="M77.1 426.7l-0.8 1.6l1.7 0z"/>
<path class="b6" d="M81.8 428.1l2-3.7l-2.9-4.9l-3.8 7.2l0.9 1.6z"/>
<path class="b7" d="M83.8 424.4l4-7.4l-1.4-2.1l-3-0.1l-2.5 4.7z"/>
<path class="b8" d="M87.8 417l1.1-2l-2.5-0.1z"/>
<path class="o" d="M81.8 428.1l7.1-13.1l-5.5-0.2l-7.1 13.5z"/>
<path class="c b15" d="M151.2 359l7.2-4.1l-5.9-2.5l-7.2 4.5z"/>
<path class="b9" d="M96.1 403.1l0.8-1.2l-2.7-4.9l-3.7 5.7z"/>
<path class="b10" d="M96.9 401.9l5.3-7.9l-1.2-1.9l-3.3-0.4l-3.5 5.3z"/>
<path class="b11" d="M102.2 394l1.1-1.6l-2.3-0.3z"/>
<path class="o" d="M96.1 403.1l7.2-10.7l-5.6-0.7l-7.2 11z"/>
<path class="b7" d="M84.9 412.2l-1.5 2.6l3 0.1z"/>
<path class="b8" d="M88.9 415l3.3-5.5l-2.9-4.8l-4.4 7.5l1.5 2.7z"/>
<path class="b9" d="M92.2 409.5l3.9-6.4l-5.6-0.4l-1.2 2z"/>
<path class="o" d="M88.9 415l7.2-11.9l-5.6-0.4l-7.1 12.1z"/>
<path class="b14" d="M130.8 368.3l6.4-5.4l-0.5-1.2l-4.4-1.4l-7.3 6.4z"/>
<path class="b15" d="M137.2 362.9l0.9-0.8l-1.4-0.4z"/>
<path class="o" d="M130.8 368.3l7.3-6.2l-5.8-1.8l-7.3 6.4z"/>
<path class="b14" d="M217.9 365.7l6.2 1.9l-6.2-4l-6-1.5z"/>
<path class="b15" d="M217.3 365.5l0.6 0.2l-6-3.6l-0.8-0.2z"/>
<path class="o" d="M217.3 365.5l6.8 2.1l-6.2-4l-6.8-1.7z"/>
<path class="b11" d="M254.4 385.7l2 1.3l-6.3-4.5l-1.3-0.7z"/>
<path class="b12" d="M249.7 382.9l4.7 2.8l-5.6-3.9l-5.4-2.9z"/>
<path class="o" d="M249.7 382.9l6.7 4.1l-6.3-4.5l-6.7-3.6z"/>
<path class="b15" d="M164.9 351.9l-6.5 3l2.2 0.8z"/>
<path class="b16" d="M164.4 357.3l7.2-3l-6-2.7l-0.7 0.3l-4.3 3.8z"/>
<path class="o" d="M164.4 357.3l7.2-3l-6-2.7l-7.2 3.3z"/>
<path class="c b15" d="M204.1 361.1l7 0.8l-6.2-3.5l-7-0.6z"/>
<path class="b13" d="M123.6 375.5l2.3-2.3l-2.3-5l-5.8 6z"/>
<path class="b14" d="M125.9 373.2l4.9-4.9l-5.8-1.6l-1.4 1.5z"/>
<path class="o" d="M123.6 375.5l7.2-7.2l-5.8-1.6l-7.2 7.5z"/>
<path class="b15" d="M179.7 352.8l-1-0.6l-0.6 0.2z"/>
<path class="b16" d="M177.6 357l7.2-1.8l-5.1-2.4l-1.6-0.4l-6.5 1.9z"/>
<path class="o" d="M177.6 357l7.2-1.8l-6.1-3l-7.1 2.1z"/>
<path class="b15" d="M193.4 358.1l4.5-0.3l-6.1-3.3l-5.8 0.6z"/>
<path class="b16" d="M190.9 358.2l2.5-0.1l-7.4-3l-1.2 0.1z"/>
<path class="o" d="M190.9 358.2l7-0.4l-6.1-3.3l-7 0.7z"/>
<path class="c b15" d="M144 363.9l7.2-4.9l-5.9-2.1l-7.2 5.2z"/>
<path class="b12" d="M243.1 378.7l0.3 0.2l-3-2z"/>
<path class="b13" d="M237.2 375.6l5.9 3.1l-2.7-1.8l-3.3-2.2l-5.9-2.8z"/>
<path class="b14" d="M236.7 375.4l0.5 0.2l-6-3.7l-0.8-0.3z"/>
<path class="o" d="M236.7 375.4l6.7 3.5l-6.3-4.2l-6.7-3.1z"/>
<path class="b12" d="M116.3 383.8l1.3-1.5l-2.5-5l-4.5 5.5z"/>
<path class="b13" d="M117.6 382.3l6-6.8l-5.8-1.3l-2.7 3.1z"/>
<path class="o" d="M116.3 383.8l7.3-8.3l-5.8-1.3l-7.2 8.6z"/>
<path class="b2" d="M68.4 453.4l-0.9 1.6l1.4-0.2z"/>
<path class="b3" d="M73 454.1l1.4-2.6l-2.1-5.4l-3.9 7.3l0.5 1.4z"/>
<path class="b4" d="M74.4 451.5l4.1-7.4l-1.1-2.6l-2.8 0.3l-2.3 4.3z"/>
<path class="b5" d="M78.5 444.1l1.6-2.9l-2.7 0.3z"/>
<path class="o" d="M73 454.1l7.1-12.9l-5.5 0.6l-7.1 13.2z"/>
<path class="b15" d="M157.2 361.1l2-1l1.4-4.4l-2.2-0.8l-7.2 4.1z"/>
<path class="b16" d="M159.2 360.1l5.2-2.8l-3.8-1.6z"/>
<path class="o" d="M157.2 361.1l7.2-3.8l-6-2.4l-7.2 4.1z"/>
<path class="b11" d="M109 393.2l1.9-2.5l-2.7-4.8l-4.9 6.5z"/>
<path class="b12" d="M110.9 390.7l5.4-6.9l-5.7-1l-2.4 3.1z"/>
<path class="o" d="M109 393.2l7.3-9.4l-5.7-1l-7.3 9.6z"/>
<path class="b4" d="M76.2 438.9l-1.6 2.9l2.8-0.3z"/>
<path class="b5" d="M80.1 441.2l2.5-4.5l-2.7-5.1l-3.7 7.3l1.2 2.6z"/>
<path class="b6" d="M82.6 436.7l4-7.3l-0.8-1.4l-4 0.1l-1.9 3.5z"/>
<path class="b7" d="M86.6 429.4l0.7-1.4l-1.5 0z"/>
<path class="o" d="M80.1 441.2l7.2-13.2l-5.5 0.1l-7.2 13.7z"/>
<path class="b14" d="M224.1 369.3l6.3 2.3l-6.3-4l-6.2-1.9z"/>
<path class="b15" d="M223.5 369.1l0.6 0.2l-6.2-3.6l-0.6-0.2z"/>
<path class="o" d="M223.5 369.1l6.9 2.5l-6.3-4l-6.8-2.1z"/>
<path class="b11" d="M260.1 389.6l2.6 1.8l-6.3-4.4l-2-1.3z"/>
<path class="b12" d="M256.1 386.9l4 2.7l-5.7-3.9l-4.7-2.8z"/>
<path class="o" d="M256.1 386.9l6.6 4.5l-6.3-4.4l-6.7-4.1z"/>
<path class="b14" d="M136.7 369.8l2-1.6l-1.5-5.3l-6.4 5.4z"/>
<path class="b15" d="M138.7 368.2l5.3-4.3l-5.9-1.8l-0.9 0.8z"/>
<path class="o" d="M136.7 369.8l7.3-5.9l-5.9-1.8l-7.3 6.2z"/>
<path class="b9" d="M96.9 401.9l-0.8 1.2l1.6 0.1z"/>
<path class="b10" d="M101.8 403.6l3.3-4.8l-2.9-4.8l-5.3 7.9l0.8 1.3z"/>
<path class="b11" d="M105.1 398.8l3.9-5.6l-5.7-0.8l-1.1 1.6z"/>
<path class="o" d="M101.8 403.6l7.2-10.4l-5.7-0.8l-7.2 10.7z"/>
<path class="b6" d="M83.8 424.4l-2 3.7l4-0.1z"/>
<path class="b7" d="M87.3 428l3.5-6.1l-3-4.9l-4 7.4l2 3.6z"/>
<path class="b8" d="M90.8 421.9l3.7-6.6l-5.6-0.3l-1.1 2z"/>
<path class="o" d="M87.3 428l7.2-12.7l-5.6-0.3l-7.1 13.1z"/>
<path class="b8" d="M94.5 415.3l0.6-0.9l-2.9-4.9l-3.3 5.5z"/>
<path class="b9" d="M95.1 414.4l4.7-7.7l-2.1-3.5l-1.6-0.1l-3.9 6.4z"/>
<path class="b10" d="M99.8 406.7l2-3.1l-4.1-0.4z"/>
<path class="o" d="M94.5 415.3l7.3-11.7l-5.7-0.5l-7.2 11.9z"/>
<path class="c b16" d="M170.4 359.6l7.2-2.6l-6-2.7l-7.2 3z"/>
<path class="c b15" d="M210.3 364.3l7 1.2l-6.2-3.6l-7-0.8z"/>
<path class="c b16" d="M183.7 359.5l7.2-1.3l-6.1-3l-7.2 1.8z"/>
<path class="b15" d="M200.7 361.1l3.4 0l-6.2-3.3l-4.5 0.3z"/>
<path class="b16" d="M197 361.1l3.7 0l-7.3-3l-2.5 0.1z"/>
<path class="o" d="M197 361.1l7.1 0l-6.2-3.3l-7 0.4z"/>
<path class="b13" d="M125.9 373.2l-2.3 2.3l3.4 0.7z"/>
<path class="b14" d="M129.4 376.7l7.3-6.9l-5.9-1.5l-4.9 4.9l1.1 3z"/>
<path class="o" d="M129.4 376.7l7.3-6.9l-5.9-1.5l-7.2 7.2z"/>
<path class="b12" d="M249 382.5l0.7 0.4l-6.3-4l-0.3-0.2z"/>
<path class="b13" d="M243.5 379.2l5.5 3.3l-5.9-3.8l-5.9-3.1z"/>
<path class="b14" d="M243 378.9l0.5 0.3l-6.3-3.6l-0.5-0.2z"/>
<path class="o" d="M243 378.9l6.7 4l-6.3-4l-6.7-3.5z"/>
<path class="c b15" d="M149.9 365.6l7.3-4.5l-6-2.1l-7.2 4.9z"/>
<path class="b12" d="M117.6 382.3l-1.3 1.5l2.1 0.3z"/>
<path class="b13" d="M122.1 384.8l5.9-6.6l-1-2l-3.4-0.7l-6 6.8l0.8 1.8z"/>
<path class="b14" d="M128 378.2l1.4-1.5l-2.4-0.5z"/>
<path class="o" d="M122.1 384.8l7.3-8.1l-5.8-1.2l-7.3 8.3z"/>
<path class="c g" d="M262.5 391l6.6 4.6l-6.4-4.2l-6.6-4.5z"/>
<path class="b14" d="M230.5 372.8l6.2 2.6l-6.3-3.8l-6.3-2.3z"/>
<path class="b15" d="M229.8 372.5l0.7 0.3l-6.4-3.5l-0.6-0.2z"/>
<path class="o" d="M229.8 372.5l6.9 2.9l-6.3-3.8l-6.9-2.5z"/>
<path class="b15" d="M159.2 360.1l-2 1l0.9 0.3z"/>
<path class="b16" d="M163.2 363.1l7.2-3.5l-6-2.3l-5.2 2.8l-1.1 1.3z"/>
<path class="o" d="M163.2 363.1l7.2-3.5l-6-2.3l-7.2 3.8z"/>
<path class="b11" d="M110.9 390.7l-1.9 2.5l3.3 0.4z"/>
<path class="b12" d="M114.8 393.9l5.4-6.7l-1.8-3.1l-2.1-0.3l-5.4 6.9l1.4 2.9z"/>
<path class="b13" d="M120.2 387.2l1.9-2.4l-3.7-0.7z"/>
<path class="o" d="M114.8 393.9l7.3-9.1l-5.8-1l-7.3 9.4z"/>
<path class="b14" d="M138.7 368.2l-2 1.6l2.2 0.5z"/>
<path class="b15" d="M142.6 371.2l7.3-5.6l-5.9-1.7l-5.3 4.3l0.2 2.1z"/>
<path class="o" d="M142.6 371.2l7.3-5.6l-5.9-1.7l-7.3 5.9z"/>
<path class="b3" d="M74.4 451.5l-1.4 2.6l2.1-0.4z"/>
<path class="b4" d="M78.4 453l2-3.4l-1.9-5.5l-4.1 7.4l0.7 2.2z"/>
<path class="b5" d="M80.4 449.6l4.4-7.6l-0.5-1.4l-4.2 0.6l-1.6 2.9z"/>
<path class="b6" d="M84.8 442l0.9-1.5l-1.4 0.1z"/>
<path class="o" d="M78.4 453l7.3-12.5l-5.6 0.7l-7.1 12.9z"/>
<path class="c b15" d="M216.5 367.6l7 1.5l-6.2-3.6l-7-1.2z"/>
<path class="c b16" d="M176.5 361.8l7.2-2.3l-6.1-2.5l-7.2 2.6z"/>
<path class="b5" d="M82.6 436.7l-2.5 4.5l4.2-0.6z"/>
<path class="b6" d="M85.7 440.5l3.4-6l-2.5-5.1l-4 7.3l1.7 3.9z"/>
<path class="b7" d="M89.1 434.5l3.8-6.7l-5.6 0.2l-0.7 1.4z"/>
<path class="o" d="M85.7 440.5l7.2-12.7l-5.6 0.2l-7.2 13.2z"/>
<path class="b10" d="M107.5 404.2l0.3-0.4l-2.7-5l-3.3 4.8z"/>
<path class="b11" d="M107.8 403.8l5.7-8.1l-1.2-2.1l-3.3-0.4l-3.9 5.6z"/>
<path class="b12" d="M113.5 395.7l1.3-1.8l-2.5-0.3z"/>
<path class="o" d="M107.5 404.2l7.3-10.3l-5.8-0.7l-7.2 10.4z"/>
<path class="b15" d="M207.8 364.2l2.5 0.1l-6.2-3.2l-3.4 0z"/>
<path class="b16" d="M203.2 364.1l4.6 0.1l-7.1-3.1l-3.7 0z"/>
<path class="o" d="M203.2 364.1l7.1 0.2l-6.2-3.2l-7.1 0z"/>
<path class="c b16" d="M189.9 362.1l7.1-1l-6.1-2.9l-7.2 1.3z"/>
<path class="b7" d="M92.9 427.8l0.5-0.8l-2.6-5.1l-3.5 6.1z"/>
<path class="b8" d="M93.4 427l4.5-7.6l-2.4-4.1l-1 0l-3.7 6.6z"/>
<path class="b9" d="M97.9 419.4l2.3-3.9l-4.7-0.2z"/>
<path class="o" d="M92.9 427.8l7.3-12.3l-5.7-0.2l-7.2 12.7z"/>
<path class="b8" d="M95.1 414.4l-0.6 0.9l1 0z"/>
<path class="b9" d="M100.2 415.5l2.5-3.8l-2.9-5l-4.7 7.7l0.4 0.9z"/>
<path class="b10" d="M102.7 411.7l4.8-7.5l-5.7-0.6l-2 3.1z"/>
<path class="o" d="M100.2 415.5l7.3-11.3l-5.7-0.6l-7.3 11.7z"/>
<path class="c g" d="M249.4 382.5l6.7 4.4l-6.4-4l-6.7-4z"/>
<path class="b14" d="M135.3 377.9l4.7-4.3l-1.1-3.3l-2.2-0.5l-7.3 6.9z"/>
<path class="b15" d="M140 373.6l2.6-2.4l-3.7-0.9z"/>
<path class="o" d="M135.3 377.9l7.3-6.7l-5.9-1.4l-7.3 6.9z"/>
<path class="b15" d="M158.1 361.4l-0.9-0.3l-7.3 4.5l5.9 1.6z"/>
<path class="b16" d="M155.9 367.3l7.3-4.2l-5.1-1.7l-2.3 5.8z"/>
<path class="o" d="M155.9 367.3l7.3-4.2l-6-2l-7.3 4.5z"/>
<path class="c g" d="M269 395.3l6.5 4.6l-6.4-4.3l-6.6-4.6z"/>
<path class="b14" d="M237.1 376.3l5.9 2.6l-6.3-3.5l-6.2-2.6z"/>
<path class="b15" d="M236.2 375.8l0.9 0.5l-6.6-3.5l-0.7-0.3z"/>
<path class="o" d="M236.2 375.8l6.8 3.1l-6.3-3.5l-6.9-2.9z"/>
<path class="c b16" d="M169.3 365l7.2-3.2l-6.1-2.2l-7.2 3.5z"/>
<path class="b13" d="M128 385.7l2.2-2.3l-2.2-5.2l-5.9 6.6z"/>
<path class="b14" d="M130.2 383.4l5.1-5.5l-5.9-1.2l-1.4 1.5z"/>
<path class="o" d="M128 385.7l7.3-7.8l-5.9-1.2l-7.3 8.1z"/>
<path class="c b15" d="M222.9 370.7l6.9 1.8l-6.3-3.4l-7-1.5z"/>
<path class="b15" d="M148.6 372.6l7.2-5.2l0-0.2l-5.9-1.6l-7.3 5.6z"/>
<path class="b16" d="M155.8 367.4l0.1-0.1l-0.1-0.1z"/>
<path class="o" d="M148.6 372.6l7.3-5.3l-6-1.7l-7.3 5.6z"/>
<path class="c b16" d="M182.7 364.1l7.2-2l-6.2-2.6l-7.2 2.3z"/>
<path class="b12" d="M120.6 394.7l2-2.4l-2.4-5.1l-5.4 6.7z"/>
<path class="b13" d="M122.6 392.3l5.4-6.6l-5.9-0.9l-1.9 2.4z"/>
<path class="o" d="M120.6 394.7l7.4-9l-5.9-0.9l-7.3 9.1z"/>
<path class="b15" d="M214.9 367.4l1.6 0.2l-6.2-3.3l-2.5-0.1z"/>
<path class="b16" d="M209.5 367l5.4 0.4l-7.1-3.2l-4.6-0.1z"/>
<path class="o" d="M209.5 367l7 0.6l-6.2-3.3l-7.1-0.2z"/>
<path class="c g" d="M255.9 386.4l6.6 4.6l-6.4-4.1l-6.7-4.4z"/>
<path class="c b16" d="M196.1 364.7l7.1-0.6l-6.2-3l-7.1 1z"/>
<path class="b10" d="M107.8 403.8l-0.3 0.4l0.5 0z"/>
<path class="b11" d="M113.3 404.7l2.9-4l-2.7-5l-5.7 8.1l0.2 0.4z"/>
<path class="b12" d="M116.2 400.7l4.4-6l-5.8-0.8l-1.3 1.8z"/>
<path class="o" d="M113.3 404.7l7.3-10l-5.8-0.8l-7.3 10.3z"/>
<path class="b4" d="M80.4 449.6l-2 3.4l2.9-0.6z"/>
<path class="b5" d="M84 451.9l2.6-4.3l-1.8-5.6l-4.4 7.6l0.9 2.8z"/>
<path class="b6" d="M86.6 447.6l4.6-7.7l-0.1-0.2l-5.4 0.8l-0.9 1.5z"/>
<path class="b7" d="M91.2 439.9l0.1-0.2l-0.2 0z"/>
<path class="o" d="M84 451.9l7.3-12.2l-5.6 0.8l-7.3 12.5z"/>
<path class="b6" d="M89.1 434.5l-3.4 6l5.4-0.8z"/>
<path class="b7" d="M91.3 439.7l4.4-7.4l-2-4.6l-0.8 0.1l-3.8 6.7l2 5.2z"/>
<path class="b8" d="M95.7 432.3l2.9-4.9l-4.9 0.3z"/>
<path class="o" d="M91.3 439.7l7.3-12.3l-5.7 0.4l-7.2 12.7z"/>
<path class="b9" d="M102.7 411.7l-2.5 3.8l4.4 0.1z"/>
<path class="b10" d="M105.9 415.6l4.6-6.8l-2.5-4.6l-0.5 0l-4.8 7.5l1.9 3.9z"/>
<path class="b11" d="M110.5 408.8l2.8-4.1l-5.3-0.5z"/>
<path class="o" d="M105.9 415.6l7.4-10.9l-5.8-0.5l-7.3 11.3z"/>
<path class="b7" d="M93.4 427l-0.5 0.8l0.8-0.1z"/>
<path class="b8" d="M98.6 427.4l1.8-2.8l-2.5-5.2l-4.5 7.6l0.3 0.7z"/>
<path class="b9" d="M100.4 424.6l4.8-7.8l-0.6-1.2l-4.4-0.1l-2.3 3.9z"/>
<path class="b10" d="M105.2 416.8l0.7-1.2l-1.3 0z"/>
<path class="o" d="M98.6 427.4l7.3-11.8l-5.7-0.1l-7.3 12.3z"/>
<path class="c g" d="M275.5 399.6l6.5 4.7l-6.5-4.4l-6.5-4.6z"/>
<path class="c b16" d="M162 369l7.3-4l-6.1-1.9l-7.3 4.2z"/>
<path class="b14" d="M140 373.6l-4.7 4.3l5.8 1.1z"/>
<path class="b15" d="M141.2 379.1l7.4-6.5l-6-1.4l-2.6 2.4l1.1 5.4z"/>
<path class="o" d="M141.2 379.1l7.4-6.5l-6-1.4l-7.3 6.7z"/>
<path class="b14" d="M243.9 379.7l5.5 2.8l-6.4-3.6l-5.9-2.6z"/>
<path class="b15" d="M242.6 379.1l1.3 0.6l-6.8-3.4l-0.9-0.5z"/>
<path class="o" d="M242.6 379.1l6.8 3.4l-6.4-3.6l-6.8-3.1z"/>
<path class="c b16" d="M175.4 367l7.3-2.9l-6.2-2.3l-7.2 3.2z"/>
<path class="b15" d="M229.4 373.8l6.8 2l-6.4-3.3l-6.9-1.8l5.1 2.5z"/>
<path class="b16" d="M229.2 373.8l0.2 0l-1.4-0.6z"/>
<path class="o" d="M229.2 373.8l7 2l-6.4-3.3l-6.9-1.8z"/>
<path class="b13" d="M130.2 383.4l-2.2 2.3l3.1 0.5z"/>
<path class="b14" d="M133.9 386.7l7.3-7.5l-0.1-0.2l-5.8-1.1l-5.1 5.5l0.9 2.8z"/>
<path class="b15" d="M141.2 379.2l0-0.1l-0.1-0.1z"/>
<path class="o" d="M133.9 386.7l7.3-7.6l-5.9-1.2l-7.3 7.8z"/>
<path class="c g" d="M262.3 390.4l6.7 4.9l-6.5-4.3l-6.6-4.6z"/>
<path class="c b16" d="M188.9 366.3l7.2-1.6l-6.2-2.6l-7.2 2z"/>
<path class="b15" d="M222.1 370.6l0.8 0.1l-6.4-3.1l-1.6-0.2z"/>
<path class="b16" d="M215.8 369.9l6.3 0.7l-7.2-3.2l-5.4-0.4z"/>
<path class="o" d="M215.8 369.9l7.1 0.8l-6.4-3.1l-7-0.6z"/>
<path class="b15" d="M154.6 374l0.5-0.3l0.7-6.3l-7.2 5.2z"/>
<path class="b16" d="M155.1 373.7l6.9-4.7l-6.1-1.7l-0.1 0.1z"/>
<path class="o" d="M154.6 374l7.4-5l-6.1-1.7l-7.3 5.3z"/>
<path class="c b16" d="M202.4 367.4l7.1-0.4l-6.3-2.9l-7.1 0.6z"/>
<path class="b12" d="M122.6 392.3l-2 2.4l3.1 0.3z"/>
<path class="b13" d="M126.5 395.3l5.7-6.6l-1.1-2.5l-3.1-0.5l-5.4 6.6l1.1 2.7z"/>
<path class="b14" d="M132.2 388.7l1.7-2l-2.8-0.5z"/>
<path class="o" d="M126.5 395.3l7.4-8.6l-5.9-1l-7.4 9z"/>
<path class="b11" d="M116.2 400.7l-2.9 4l4.7 0.2z"/>
<path class="b12" d="M119.1 405l5.8-7.5l-1.2-2.5l-3.1-0.3l-4.4 6l1.8 4.2z"/>
<path class="b13" d="M124.9 397.5l1.6-2.2l-2.8-0.3z"/>
<path class="o" d="M119.1 405l7.4-9.7l-5.9-0.6l-7.3 10z"/>
<path class="b14" d="M250.5 383.3l5.4 3.1l-6.5-3.9l-5.5-2.8z"/>
<path class="b15" d="M249.1 382.5l1.4 0.8l-6.6-3.6l-1.3-0.6z"/>
<path class="o" d="M249.1 382.5l6.8 3.9l-6.5-3.9l-6.8-3.4z"/>
<path class="c b16" d="M168.1 370.8l7.3-3.8l-6.1-2l-7.3 4z"/>
<path class="b10" d="M111.7 415.6l1.1-1.5l-2.3-5.3l-4.6 6.8z"/>
<path class="b11" d="M112.8 414.1l5.7-8.2l-0.5-1l-4.7-0.2l-2.8 4.1z"/>
<path class="b12" d="M118.5 405.9l0.6-0.9l-1.1-0.1z"/>
<path class="o" d="M111.7 415.6l7.4-10.6l-5.8-0.3l-7.4 10.9z"/>
<path class="c b15" d="M147.3 380.2l7.3-6.2l-6-1.4l-7.4 6.5z"/>
<path class="b8" d="M100.4 424.6l-1.8 2.8l2.8-0.2z"/>
<path class="b9" d="M104.4 427l3.1-4.9l-2.3-5.3l-4.8 7.8l1 2.6z"/>
<path class="b10" d="M107.5 422.1l4.2-6.5l-5.8 0l-0.7 1.2z"/>
<path class="o" d="M104.4 427l7.3-11.4l-5.8 0l-7.3 11.8z"/>
<path class="b5" d="M86.6 447.6l-2.6 4.3l3.5-0.7z"/>
<path class="b6" d="M89.6 450.8l3.3-5.2l-1.7-5.7l-4.6 7.7l0.9 3.6z"/>
<path class="b7" d="M92.9 445.6l4.1-6.7l-5.7 0.8l-0.1 0.2z"/>
<path class="o" d="M89.6 450.8l7.4-11.9l-5.7 0.8l-7.3 12.2z"/>
<path class="b7" d="M97 438.9l0.7-1.1l-2-5.5l-4.4 7.4z"/>
<path class="b8" d="M97.7 437.8l4.8-7.8l-1.1-2.8l-2.8 0.2l-2.9 4.9z"/>
<path class="b9" d="M102.5 430l1.9-3l-3 0.2z"/>
<path class="o" d="M97 438.9l7.4-11.9l-5.8 0.4l-7.3 12.3z"/>
<path class="b15" d="M236.6 377.1l6 2l-6.4-3.3l-6.8-2z"/>
<path class="b16" d="M235.7 376.8l0.9 0.3l-7.2-3.3l-0.2 0z"/>
<path class="o" d="M235.7 376.8l6.9 2.3l-6.4-3.3l-7-2z"/>
<path class="b16" d="M188.2 366.6l0.7-0.3l-6.2-2.2l-7.3 2.9l5 1.6z"/>
<path class="b17" d="M181.6 369l6.6-2.4l-7.8 2z"/>
<path class="o" d="M181.6 369l7.3-2.7l-6.2-2.2l-7.3 2.9z"/>
<path class="c g" d="M268.9 394.3l6.6 5.3l-6.5-4.3l-6.7-4.9z"/>
<path class="b15" d="M228 373.2l-5.1-2.5l-0.8-0.1z"/>
<path class="b16" d="M222.2 372.7l7 1.1l-1.2-0.6l-5.9-2.6l-6.3-0.7z"/>
<path class="o" d="M222.2 372.7l7 1.1l-6.3-3.1l-7.1-0.8z"/>
<path class="b16" d="M200.4 367.7l2-0.3l-6.3-2.7l-7.2 1.6l0.1 0.1z"/>
<path class="b17" d="M195.1 368.6l5.3-0.9l-11.4-1.3z"/>
<path class="o" d="M195.1 368.6l7.3-1.2l-6.3-2.7l-7.2 1.6z"/>
<path class="b14" d="M139.9 387.6l3-3l-1.7-5.4l-7.3 7.5z"/>
<path class="b15" d="M142.9 384.6l4.4-4.4l-6.1-1.1l0 0.1z"/>
<path class="o" d="M139.9 387.6l7.4-7.4l-6.1-1.1l-7.3 7.6z"/>
<path class="b16" d="M210 369.9l5.8 0l-6.3-2.9l-7.1 0.4l3 1.2z"/>
<path class="b17" d="M208.7 369.9l1.3 0l-4.6-1.3z"/>
<path class="o" d="M208.7 369.9l7.1 0l-6.3-2.9l-7.1 0.4z"/>
<path class="b15" d="M155.1 373.7l-0.5 0.3l0.4 0.1z"/>
<path class="b16" d="M160.7 375.6l7.4-4.8l-6.1-1.8l-6.9 4.7l-0.1 0.4z"/>
<path class="o" d="M160.7 375.6l7.4-4.8l-6.1-1.8l-7.4 5z"/>
<path class="b13" d="M132.4 395.9l1.7-1.9l-1.9-5.3l-5.7 6.6z"/>
<path class="b14" d="M134.1 394l5.8-6.4l-6-0.9l-1.7 2z"/>
<path class="o" d="M132.4 395.9l7.5-8.3l-6-0.9l-7.4 8.6z"/>
<path class="c g" d="M255.6 386l6.7 4.4l-6.4-4l-6.8-3.9z"/>
<path class="b16" d="M174.3 372.7l4.2-2.1l1.9-2l-5-1.6l-7.3 3.8z"/>
<path class="b17" d="M178.5 370.6l3.1-1.6l-1.2-0.4z"/>
<path class="o" d="M174.3 372.7l7.3-3.7l-6.2-2l-7.3 3.8z"/>
<path class="b12" d="M125 405.2l1.9-2.4l-2-5.3l-5.8 7.5z"/>
<path class="b13" d="M126.9 402.8l5.5-6.9l-5.9-0.6l-1.6 2.2z"/>
<path class="o" d="M125 405.2l7.4-9.3l-5.9-0.6l-7.4 9.7z"/>
<path class="b15" d="M153.3 381.5l2.4-1.9l-0.7-5.5l-0.4-0.1l-7.3 6.2z"/>
<path class="b16" d="M155.7 379.6l5-4l-5.7-1.5z"/>
<path class="o" d="M153.3 381.5l7.4-5.9l-6.1-1.6l-7.3 6.2z"/>
<path class="b15" d="M243.8 380.5l5.3 2l-6.5-3.4l-6-2z"/>
<path class="b16" d="M242.2 379.8l1.6 0.7l-7.2-3.4l-0.9-0.3z"/>
<path class="o" d="M242.2 379.8l6.9 2.7l-6.5-3.4l-6.9-2.3z"/>
<path class="b10" d="M112.8 414.1l-1.1 1.5l1.6-0.1z"/>
<path class="b11" d="M117.6 415.4l3-4.1l-2.1-5.4l-5.7 8.2l0.5 1.4z"/>
<path class="b12" d="M120.6 411.3l4.4-6.1l-5.9-0.2l-0.6 0.9z"/>
<path class="o" d="M117.6 415.4l7.4-10.2l-5.9-0.2l-7.4 10.6z"/>
<path class="b16" d="M189 366.4l-0.1-0.1l-0.7 0.3z"/>
<path class="b17" d="M187.9 370.9l7.2-2.3l-6.1-2.2l-0.8 0.2l-6.6 2.4z"/>
<path class="o" d="M187.9 370.9l7.2-2.3l-6.2-2.3l-7.3 2.7z"/>
<path class="b9" d="M107.5 422.1l-3.1 4.9l4.6-0.5z"/>
<path class="b10" d="M110.2 426.4l4.6-6.8l-1.5-4.1l-1.6 0.1l-4.2 6.5l1.5 4.4z"/>
<path class="b11" d="M114.8 419.6l2.8-4.2l-4.3 0.1z"/>
<path class="o" d="M110.2 426.4l7.4-11l-5.9 0.2l-7.3 11.4z"/>
<path class="c b16" d="M228.6 375.5l7.1 1.3l-6.5-3l-7-1.1z"/>
<path class="b7" d="M97.7 437.8l-0.7 1.1l1-0.2z"/>
<path class="b8" d="M102.8 438l1.5-2.4l-1.8-5.6l-4.8 7.8l0.3 0.9z"/>
<path class="b9" d="M104.3 435.6l5.1-7.9l-0.4-1.2l-4.6 0.5l-1.9 3z"/>
<path class="b10" d="M109.4 427.7l0.8-1.3l-1.2 0.1z"/>
<path class="o" d="M102.8 438l7.4-11.6l-5.8 0.6l-7.4 11.9z"/>
<path class="b6" d="M92.9 445.6l-3.3 5.2l4.3-0.8z"/>
<path class="b7" d="M95.3 449.7l3.9-6.1l-1.2-4.9l-1 0.2l-4.1 6.7l1 4.4z"/>
<path class="b8" d="M99.2 443.6l3.6-5.6l-4.8 0.7z"/>
<path class="o" d="M95.3 449.7l7.5-11.7l-5.8 0.9l-7.4 11.9z"/>
<path class="b16" d="M205.4 368.6l-3-1.2l-2 0.3z"/>
<path class="b17" d="M201.5 370.8l7.2-0.9l-3.3-1.3l-5-0.9l-5.3 0.9z"/>
<path class="o" d="M201.5 370.8l7.2-0.9l-6.3-2.5l-7.3 1.2z"/>
<path class="b16" d="M218.7 372.6l3.5 0.1l-6.4-2.8l-5.8 0z"/>
<path class="b17" d="M215.1 372.4l3.6 0.2l-8.7-2.7l-1.3 0z"/>
<path class="o" d="M215.1 372.4l7.1 0.3l-6.4-2.8l-7.1 0z"/>
<path class="b14" d="M142.9 384.6l-3 3l3.7 0.5z"/>
<path class="b15" d="M145.9 388.5l7.4-7l-6-1.3l-4.4 4.4l0.7 3.5z"/>
<path class="o" d="M145.9 388.5l7.4-7l-6-1.3l-7.4 7.4z"/>
<path class="c b16" d="M166.9 377.3l7.4-4.6l-6.2-1.9l-7.4 4.8z"/>
<path class="c g" d="M262.2 389.4l6.7 4.9l-6.6-3.9l-6.7-4.4z"/>
<path class="b13" d="M134.1 394l-1.7 1.9l2.3 0.3z"/>
<path class="b14" d="M138.5 396.5l5.8-6.3l-0.7-2.1l-3.7-0.5l-5.8 6.4l0.6 2.2z"/>
<path class="b15" d="M144.3 390.2l1.6-1.7l-2.3-0.4z"/>
<path class="o" d="M138.5 396.5l7.4-8l-6-0.9l-7.5 8.3z"/>
<path class="b16" d="M178.5 370.6l-4.2 2.1l1.3 0.4z"/>
<path class="b17" d="M180.5 374.4l7.4-3.5l-6.3-1.9l-3.1 1.6l-2.9 2.5z"/>
<path class="o" d="M180.5 374.4l7.4-3.5l-6.3-1.9l-7.3 3.7z"/>
<path class="b15" d="M251 383.8l4.6 2.2l-6.5-3.5l-5.3-2z"/>
<path class="b16" d="M248.7 382.8l2.3 1l-7.2-3.3l-1.6-0.7z"/>
<path class="o" d="M248.7 382.8l6.9 3.2l-6.5-3.5l-6.9-2.7z"/>
<path class="b15" d="M155.7 379.6l-2.4 1.9l2.3 0.5z"/>
<path class="b16" d="M159.5 382.8l7.4-5.5l-6.2-1.7l-5 4l-0.1 2.4z"/>
<path class="o" d="M159.5 382.8l7.4-5.5l-6.2-1.7l-7.4 5.9z"/>
<path class="b12" d="M126.9 402.8l-1.9 2.4l2.6 0.1z"/>
<path class="b13" d="M131 405.4l4.9-5.9l-1.2-3.3l-2.3-0.3l-5.5 6.9l0.7 2.5z"/>
<path class="b14" d="M135.9 399.5l2.6-3l-3.8-0.3z"/>
<path class="o" d="M131 405.4l7.5-8.9l-6.1-0.6l-7.4 9.3z"/>
<path class="c b17" d="M194.2 372.7l7.3-1.9l-6.4-2.2l-7.2 2.3z"/>
<path class="b16" d="M235.4 378.3l6.8 1.5l-6.5-3l-7.1-1.3l5.5 2.3z"/>
<path class="b17" d="M235.1 378.2l0.3 0.1l-1.3-0.5z"/>
<path class="o" d="M235.1 378.2l7.1 1.6l-6.5-3l-7.1-1.3z"/>
<path class="c b17" d="M207.9 372.9l7.2-0.5l-6.4-2.5l-7.2 0.9z"/>
<path class="b16" d="M227.1 375.4l1.5 0.1l-6.4-2.8l-3.5-0.1z"/>
<path class="b17" d="M221.5 375l5.6 0.4l-8.4-2.8l-3.6-0.2z"/>
<path class="o" d="M221.5 375l7.1 0.5l-6.4-2.8l-7.1-0.3z"/>
<path class="b11" d="M120.6 411.3l-3 4.1l4-0.2z"/>
<path class="b12" d="M123.5 415l5.1-6.6l-1-3.1l-2.6-0.1l-4.4 6.1l1 3.9z"/>
<path class="b13" d="M128.6 408.4l2.4-3l-3.4-0.1z"/>
<path class="o" d="M123.5 415l7.5-9.6l-6-0.2l-7.4 10.2z"/>
<path class="b10" d="M116.1 425.8l0.3-0.5l-1.6-5.7l-4.6 6.8z"/>
<path class="b11" d="M116.4 425.3l5.8-8.3l-0.6-1.8l-4 0.2l-2.8 4.2z"/>
<path class="b12" d="M122.2 417l1.3-2l-1.9 0.2z"/>
<path class="o" d="M116.1 425.8l7.4-10.8l-5.9 0.4l-7.4 11z"/>
<path class="b8" d="M104.3 435.6l-1.5 2.4l2.1-0.3z"/>
<path class="b9" d="M108.6 437.3l2.5-4l-1.7-5.6l-5.1 7.9l0.6 2.1z"/>
<path class="b10" d="M111.1 433.3l5-7.5l-5.9 0.6l-0.8 1.3z"/>
<path class="o" d="M108.6 437.3l7.5-11.5l-5.9 0.6l-7.4 11.6z"/>
<path class="b16" d="M175.6 373.1l-1.3-0.4l-7.4 4.6l6.1 1.6z"/>
<path class="b17" d="M173.1 379l7.4-4.6l-4.9-1.3l-2.6 5.8z"/>
<path class="o" d="M173.1 379l7.4-4.6l-6.2-1.7l-7.4 4.6z"/>
<path class="b15" d="M152 389.3l4.2-3.6l-0.6-3.7l-2.3-0.5l-7.4 7z"/>
<path class="b16" d="M156.2 385.7l3.3-2.9l-3.9-0.8z"/>
<path class="o" d="M152 389.3l7.5-6.5l-6.2-1.3l-7.4 7z"/>
<path class="b7" d="M99.2 443.6l-3.9 6.1l5.3-0.8z"/>
<path class="b8" d="M101.1 448.8l4.8-7.4l-1-3.7l-2.1 0.3l-3.6 5.6l1.4 5.3z"/>
<path class="b9" d="M105.9 441.4l2.7-4.1l-3.7 0.4z"/>
<path class="o" d="M101.1 448.8l7.5-11.5l-5.8 0.7l-7.5 11.7z"/>
<path class="c g" d="M255.3 385.8l6.9 3.6l-6.6-3.4l-6.9-3.2z"/>
<path class="c b17" d="M186.8 375.8l7.4-3.1l-6.3-1.8l-7.4 3.5z"/>
<path class="b14" d="M144.5 397l1.1-1.1l-1.3-5.7l-5.8 6.3z"/>
<path class="b15" d="M145.6 395.9l6.4-6.6l-6.1-0.8l-1.6 1.7z"/>
<path class="o" d="M144.5 397l7.5-7.7l-6.1-0.8l-7.4 8z"/>
<path class="b16" d="M165.7 383.9l7.2-4.8l0.1-0.2l-6.1-1.6l-7.4 5.5z"/>
<path class="b17" d="M172.9 379.1l0.2-0.1l-0.1-0.1z"/>
<path class="o" d="M165.7 383.9l7.4-4.9l-6.2-1.7l-7.4 5.5z"/>
<path class="b16" d="M243.4 381.4l5.3 1.4l-6.5-3l-6.8-1.5z"/>
<path class="b17" d="M241.7 380.9l1.7 0.5l-8-3.1l-0.3-0.1z"/>
<path class="o" d="M241.7 380.9l7 1.9l-6.5-3l-7.1-1.6z"/>
<path class="c b17" d="M200.6 374.3l7.3-1.4l-6.4-2.1l-7.3 1.9z"/>
<path class="b13" d="M137 405.6l0.3-0.3l-1.4-5.8l-4.9 5.9z"/>
<path class="b14" d="M137.3 405.3l7.2-8.3l-6-0.5l-2.6 3z"/>
<path class="o" d="M137 405.6l7.5-8.6l-6-0.5l-7.5 8.9z"/>
<path class="b16" d="M234.1 377.8l-5.5-2.3l-1.5-0.1z"/>
<path class="b17" d="M228 377.5l7.1 0.7l-1-0.4l-7-2.4l-5.6-0.4z"/>
<path class="o" d="M228 377.5l7.1 0.7l-6.5-2.7l-7.1-0.5z"/>
<path class="c b17" d="M214.3 375.1l7.2-0.1l-6.4-2.6l-7.2 0.5z"/>
<path class="b12" d="M129.5 414.6l0.2-0.2l-1.1-6l-5.1 6.6z"/>
<path class="b13" d="M129.7 414.4l7.3-8.8l-6-0.2l-2.4 3z"/>
<path class="o" d="M129.5 414.6l7.5-9l-6-0.2l-7.5 9.6z"/>
<path class="c b17" d="M179.4 380.1l7.4-4.3l-6.3-1.4l-7.4 4.6z"/>
<path class="b15" d="M156.2 385.7l-4.2 3.6l4 0.5z"/>
<path class="b16" d="M158.2 390.1l7.5-6.2l-6.2-1.1l-3.3 2.9l-0.2 4.1z"/>
<path class="o" d="M158.2 390.1l7.5-6.2l-6.2-1.1l-7.5 6.5z"/>
<path class="b10" d="M116.4 425.3l-0.3 0.5l0.4-0.1z"/>
<path class="b11" d="M122 425.1l1.7-2.3l-1.5-5.8l-5.8 8.3l0.1 0.4z"/>
<path class="b12" d="M123.7 422.8l5.8-8.2l-6 0.4l-1.3 2z"/>
<path class="o" d="M122 425.1l7.5-10.5l-6 0.4l-7.4 10.8z"/>
<path class="b9" d="M111.1 433.3l-2.5 4l3.6-0.4z"/>
<path class="b10" d="M114.5 436.6l3.7-5.6l-1.7-5.3l-0.4 0.1l-5 7.5l1.1 3.6z"/>
<path class="b11" d="M118.2 431l3.8-5.9l-5.5 0.6z"/>
<path class="o" d="M114.5 436.6l7.5-11.5l-5.9 0.7l-7.5 11.5z"/>
<path class="b8" d="M107 448.2l0.6-1l-1.7-5.8l-4.8 7.4z"/>
<path class="b9" d="M107.6 447.2l5.3-8.1l-0.7-2.2l-3.6 0.4l-2.7 4.1z"/>
<path class="b10" d="M112.9 439.1l1.6-2.5l-2.3 0.3z"/>
<path class="o" d="M107 448.2l7.5-11.6l-5.9 0.7l-7.5 11.5z"/>
<path class="b17" d="M200.4 374.4l0.2-0.1l-6.4-1.6l-7.4 3.1l5.4 1z"/>
<path class="b18" d="M193.2 377l7.2-2.6l-8.2 2.4z"/>
<path class="o" d="M193.2 377l7.4-2.7l-6.4-1.6l-7.4 3.1z"/>
<path class="b14" d="M145.6 395.9l-1.1 1.1l1.2 0.1z"/>
<path class="b15" d="M150.7 397.4l5.6-5.5l-0.3-2.1l-4-0.5l-6.4 6.6l0.1 1.2z"/>
<path class="b16" d="M156.3 391.9l1.9-1.8l-2.2-0.3z"/>
<path class="o" d="M150.7 397.4l7.5-7.3l-6.2-0.8l-7.5 7.7z"/>
<path class="b16" d="M251.3 384.5l4 1.3l-6.6-3l-5.3-1.4z"/>
<path class="b17" d="M248.3 383.6l3 0.9l-7.9-3.1l-1.7-0.5z"/>
<path class="o" d="M248.3 383.6l7 2.2l-6.6-3l-7-1.9z"/>
<path class="b17" d="M213.6 375.2l0.7-0.1l-6.4-2.2l-7.3 1.4l0 0.1z"/>
<path class="b18" d="M207 376.2l6.6-1l-13-0.8z"/>
<path class="o" d="M207 376.2l7.3-1.1l-6.4-2.2l-7.3 1.4z"/>
<path class="b16" d="M172.9 379.1l-7.2 4.8l4.1 0.6z"/>
<path class="b17" d="M171.9 384.9l7.5-4.8l-6.3-1.1l-0.2 0.1l-3.1 5.4z"/>
<path class="o" d="M171.9 384.9l7.5-4.8l-6.3-1.1l-7.4 4.9z"/>
<path class="c b17" d="M234.6 379.9l7.1 1l-6.6-2.7l-7.1-0.7z"/>
<path class="b17" d="M223.7 377.4l4.3 0.1l-6.5-2.5l-7.2 0.1l0.8 0.3z"/>
<path class="b18" d="M220.8 377.3l2.9 0.1l-8.6-2z"/>
<path class="o" d="M220.8 377.3l7.2 0.2l-6.5-2.5l-7.2 0.1z"/>
<path class="b13" d="M137.3 405.3l-0.3 0.3l0.3 0z"/>
<path class="b14" d="M143.1 405.6l3.4-3.7l-0.8-4.8l-1.2-0.1l-7.2 8.3l0 0.3z"/>
<path class="b15" d="M146.5 401.9l4.2-4.5l-5-0.3z"/>
<path class="o" d="M143.1 405.6l7.6-8.2l-6.2-0.4l-7.5 8.6z"/>
<path class="b17" d="M185.8 380.8l3-1.5l3.4-2.5l-5.4-1l-7.4 4.3z"/>
<path class="b18" d="M188.8 379.3l4.4-2.3l-1-0.2z"/>
<path class="o" d="M185.8 380.8l7.4-3.8l-6.4-1.2l-7.4 4.3z"/>
<path class="b12" d="M129.7 414.4l-0.2 0.2l0.3 0z"/>
<path class="b13" d="M135.6 414.5l2.7-3.2l-1-5.7l-0.3 0l-7.3 8.8l0.1 0.2z"/>
<path class="b14" d="M138.3 411.3l4.8-5.7l-5.8 0z"/>
<path class="o" d="M135.6 414.5l7.5-8.9l-6.1 0l-7.5 9z"/>
<path class="b16" d="M164.4 390.7l4.9-3.7l0.5-2.5l-4.1-0.6l-7.5 6.2z"/>
<path class="b17" d="M169.3 387l2.6-2.1l-2.1-0.4z"/>
<path class="o" d="M164.4 390.7l7.5-5.8l-6.2-1l-7.5 6.2z"/>
<path class="b11" d="M123.7 422.8l-1.7 2.3l2.2-0.2z"/>
<path class="b12" d="M128 424.6l3.3-4.4l-1.5-5.6l-0.3 0l-5.8 8.2l0.5 2.1z"/>
<path class="b13" d="M131.3 420.2l4.3-5.7l-5.8 0.1z"/>
<path class="o" d="M128 424.6l7.6-10.1l-6.1 0.1l-7.5 10.5z"/>
<path class="b10" d="M118.2 431l-3.7 5.6l5.1-0.6z"/>
<path class="b11" d="M120.5 435.8l4.8-7.2l-1.1-3.7l-2.2 0.2l-3.8 5.9l1.4 5z"/>
<path class="b12" d="M125.3 428.6l2.7-4l-3.8 0.3z"/>
<path class="o" d="M120.5 435.8l7.5-11.2l-6 0.5l-7.5 11.5z"/>
<path class="b17" d="M200.6 374.4l0-0.1l-0.2 0.1z"/>
<path class="b18" d="M199.6 378.4l7.4-2.2l-6.4-1.8l-0.2 0l-7.2 2.6z"/>
<path class="o" d="M199.6 378.4l7.4-2.2l-6.4-1.9l-7.4 2.7z"/>
<path class="b8" d="M107.6 447.2l-0.6 1l0.8-0.1z"/>
<path class="b9" d="M112.9 447.2l1.4-2.1l-1.4-6l-5.3 8.1l0.2 0.9z"/>
<path class="b10" d="M114.3 445.1l5.5-8.2l-0.2-0.9l-5.1 0.6l-1.6 2.5z"/>
<path class="b11" d="M119.8 436.9l0.7-1.1l-0.9 0.2z"/>
<path class="o" d="M112.9 447.2l7.6-11.4l-6 0.8l-7.5 11.6z"/>
<path class="b17" d="M242.6 382.4l5.7 1.2l-6.6-2.7l-7.1-1l2.8 1z"/>
<path class="b18" d="M241.2 382.1l1.4 0.3l-5.2-1.5z"/>
<path class="o" d="M241.2 382.1l7.1 1.5l-6.6-2.7l-7.1-1z"/>
<path class="b15" d="M156.3 391.9l-5.6 5.5l5.3 0.1z"/>
<path class="b16" d="M156.9 397.6l7.5-6.9l-6.2-0.6l-1.9 1.8l-0.3 5.6z"/>
<path class="o" d="M156.9 397.6l7.5-6.9l-6.2-0.6l-7.5 7.3z"/>
<path class="b17" d="M215.1 375.4l-0.8-0.3l-0.7 0.1z"/>
<path class="b18" d="M213.5 378l7.3-0.7l-5.7-1.9l-1.5-0.2l-6.6 1z"/>
<path class="o" d="M213.5 378l7.3-0.7l-6.5-2.2l-7.3 1.1z"/>
<path class="b17" d="M233.3 379.8l1.3 0.1l-6.6-2.4l-4.3-0.1z"/>
<path class="b18" d="M227.4 379.4l5.9 0.4l-9.6-2.4l-2.9-0.1z"/>
<path class="o" d="M227.4 379.4l7.2 0.5l-6.6-2.4l-7.2-0.2z"/>
<path class="c b17" d="M178.3 385.5l7.5-4.7l-6.4-0.7l-7.5 4.8z"/>
<path class="b14" d="M146.5 401.9l-3.4 3.7l3.4-0.2z"/>
<path class="b15" d="M149.3 405.3l6.7-6.8l0-1l-5.3-0.1l-4.2 4.5l0 3.5z"/>
<path class="b16" d="M156 398.5l0.9-0.9l-0.9-0.1z"/>
<path class="o" d="M149.3 405.3l7.6-7.7l-6.2-0.2l-7.6 8.2z"/>
<path class="b17" d="M188.8 379.3l-3 1.5l0.6 0.1z"/>
<path class="b18" d="M192.2 381.7l7.4-3.3l-6.4-1.4l-4.4 2.3l-2.4 1.6z"/>
<path class="o" d="M192.2 381.7l7.4-3.3l-6.4-1.4l-7.4 3.8z"/>
<path class="b16" d="M169.3 387l-4.9 3.7l3.4 0.3z"/>
<path class="b17" d="M170.8 391.3l7.5-5.8l-6.4-0.6l-2.6 2.1l-1.5 4z"/>
<path class="o" d="M170.8 391.3l7.5-5.8l-6.4-0.6l-7.5 5.8z"/>
<path class="b13" d="M138.3 411.3l-2.7 3.2l2.8-0.3z"/>
<path class="b14" d="M141.7 414l5-5.7l-0.2-2.9l-3.4 0.2l-4.8 5.7l0.1 2.9z"/>
<path class="b15" d="M146.7 408.3l2.6-3l-2.8 0.1z"/>
<path class="o" d="M141.7 414l7.6-8.7l-6.2 0.3l-7.5 8.9z"/>
<path class="c b18" d="M206.2 379.7l7.3-1.7l-6.5-1.8l-7.4 2.2z"/>
<path class="b12" d="M131.3 420.2l-3.3 4.4l4.1-0.4z"/>
<path class="b13" d="M134.1 424l5-6.5l-0.7-3.3l-2.8 0.3l-4.3 5.7l0.8 4z"/>
<path class="b14" d="M139.1 417.5l2.6-3.5l-3.3 0.2z"/>
<path class="o" d="M134.1 424l7.6-10l-6.1 0.5l-7.6 10.1z"/>
<path class="c b18" d="M220.1 379.6l7.3-0.2l-6.6-2.1l-7.3 0.7z"/>
<path class="b17" d="M237.4 380.9l-2.8-1l-1.3-0.1z"/>
<path class="b18" d="M234.1 381.1l7.1 1l-3.8-1.2l-4.1-1.1l-5.9-0.4z"/>
<path class="o" d="M234.1 381.1l7.1 1l-6.6-2.2l-7.2-0.5z"/>
<path class="b11" d="M126.5 434.8l0.1-0.1l-1.3-6.1l-4.8 7.2z"/>
<path class="b12" d="M126.6 434.7l6-8.5l-0.5-2l-4.1 0.4l-2.7 4z"/>
<path class="b13" d="M132.6 426.2l1.5-2.2l-2 0.2z"/>
<path class="o" d="M126.5 434.8l7.6-10.8l-6.1 0.6l-7.5 11.2z"/>
<path class="b16" d="M163.2 397.7l4.1-3.5l0.5-3.2l-3.4-0.3l-7.5 6.9z"/>
<path class="b17" d="M167.3 394.2l3.5-2.9l-3-0.3z"/>
<path class="o" d="M163.2 397.7l7.6-6.4l-6.4-0.6l-7.5 6.9z"/>
<path class="b9" d="M114.3 445.1l-1.4 2.1l1.6-0.4z"/>
<path class="b10" d="M118.9 445.8l1.9-2.7l-1-6.2l-5.5 8.2l0.2 1.7z"/>
<path class="b11" d="M120.8 443.1l5.7-8.3l-6 1l-0.7 1.1z"/>
<path class="o" d="M118.9 445.8l7.6-11l-6 1l-7.6 11.4z"/>
<path class="b17" d="M186.4 380.9l-0.6-0.1l-7.5 4.7l3.9 0.5z"/>
<path class="b18" d="M184.7 386.2l7.5-4.5l-5.8-0.8l-4.2 5.1z"/>
<path class="o" d="M184.7 386.2l7.5-4.5l-6.4-0.9l-7.5 4.7z"/>
<path class="b15" d="M156 398.5l-6.7 6.8l5.8-0.4z"/>
<path class="b16" d="M155.6 404.8l7.6-7.1l-6.3-0.1l-0.9 0.9l-0.9 6.4z"/>
<path class="o" d="M155.6 404.8l7.6-7.1l-6.3-0.1l-7.6 7.7z"/>
<path class="c b18" d="M198.7 382.6l7.5-2.9l-6.6-1.3l-7.4 3.3z"/>
<path class="b17" d="M177.1 391.9l4-3l1.1-2.9l-3.9-0.5l-7.5 5.8z"/>
<path class="b18" d="M181.1 388.9l3.6-2.7l-2.5-0.2z"/>
<path class="o" d="M177.1 391.9l7.6-5.7l-6.4-0.7l-7.5 5.8z"/>
<path class="b14" d="M146.7 408.3l-5 5.7l4.9-0.5z"/>
<path class="b15" d="M147.9 413.3l7.2-8l0-0.4l-5.8 0.4l-2.6 3l-0.1 5.2z"/>
<path class="b16" d="M155.1 405.3l0.5-0.5l-0.5 0.1z"/>
<path class="o" d="M147.9 413.3l7.7-8.5l-6.3 0.5l-7.6 8.7z"/>
<path class="b18" d="M219.9 379.6l0.2 0l-6.6-1.6l-7.3 1.7l2 0.4z"/>
<path class="b19" d="M212.7 381l7.2-1.4l-11.7 0.5z"/>
<path class="o" d="M212.7 381l7.4-1.4l-6.6-1.6l-7.3 1.7z"/>
<path class="b18" d="M231.9 381.1l2.2 0l-6.7-1.7l-7.3 0.2l0.2 0z"/>
<path class="b19" d="M226.8 381l5.1 0.1l-11.6-1.5z"/>
<path class="o" d="M226.8 381l7.3 0.1l-6.7-1.7l-7.3 0.2z"/>
<path class="b13" d="M139.1 417.5l-5 6.5l5.6-0.8z"/>
<path class="b14" d="M140.3 423.1l6.4-8.2l-0.1-1.4l-4.9 0.5l-2.6 3.5l0.6 5.7z"/>
<path class="b15" d="M146.7 414.9l1.2-1.6l-1.3 0.2z"/>
<path class="o" d="M140.3 423.1l7.6-9.8l-6.2 0.7l-7.6 10z"/>
<path class="b16" d="M167.3 394.2l-4.1 3.5l3 0.1z"/>
<path class="b17" d="M169.5 397.9l7.6-6l-6.3-0.6l-3.5 2.9l-1.1 3.6z"/>
<path class="o" d="M169.5 397.9l7.6-6l-6.3-0.6l-7.6 6.4z"/>
<path class="c b18" d="M191.2 386.8l7.5-4.2l-6.5-0.9l-7.5 4.5z"/>
<path class="b11" d="M126.6 434.7l-0.1 0.1l0.2 0z"/>
<path class="b12" d="M132.6 433.6l0.9-1.2l-0.9-6.2l-6 8.5l0.1 0.1z"/>
<path class="b13" d="M133.5 432.4l6.3-8.6l-0.1-0.6l-5.6 0.8l-1.5 2.2z"/>
<path class="b14" d="M139.8 423.8l0.5-0.7l-0.6 0.1z"/>
<path class="o" d="M132.6 433.6l7.7-10.5l-6.2 0.9l-7.6 10.8z"/>
<path class="b10" d="M120.8 443.1l-1.9 2.7l2.1-0.5z"/>
<path class="b11" d="M125 444.3l2.3-3.2l-0.6-6.3l-0.2 0l-5.7 8.3l0.2 2.2z"/>
<path class="b12" d="M127.3 441.1l5.3-7.5l-5.9 1.2z"/>
<path class="o" d="M125 444.3l7.6-10.7l-6.1 1.2l-7.6 11z"/>
<path class="b18" d="M208.2 380.1l-2-0.4l-7.5 2.9l1.3 0.2z"/>
<path class="b19" d="M205.3 383.5l7.4-2.5l-4.5-0.9l-8.2 2.7z"/>
<path class="o" d="M205.3 383.5l7.4-2.5l-6.5-1.3l-7.5 2.9z"/>
<path class="b16" d="M161.9 404.6l3.4-3l0.9-3.8l-3-0.1l-7.6 7.1z"/>
<path class="b17" d="M165.3 401.6l4.2-3.7l-3.3-0.1z"/>
<path class="o" d="M161.9 404.6l7.6-6.7l-6.3-0.2l-7.6 7.1z"/>
<path class="b17" d="M181.1 388.9l-4 3l2.5 0.2z"/>
<path class="b18" d="M183.6 392.3l7.6-5.5l-6.5-0.6l-3.6 2.7l-1.5 3.2z"/>
<path class="o" d="M183.6 392.3l7.6-5.5l-6.5-0.6l-7.6 5.7z"/>
<path class="b18" d="M220.3 379.6l-0.2 0l-0.2 0z"/>
<path class="b19" d="M219.4 382.1l7.4-1.1l-6.5-1.4l-0.4 0l-7.2 1.4z"/>
<path class="o" d="M219.4 382.1l7.4-1.1l-6.7-1.4l-7.4 1.4z"/>
<path class="b15" d="M154.2 412.8l0.7-0.8l0.2-6.7l-7.2 8z"/>
<path class="b16" d="M154.9 412l7-7.4l-6.3 0.2l-0.5 0.5z"/>
<path class="o" d="M154.2 412.8l7.7-8.2l-6.3 0.2l-7.7 8.5z"/>
<path class="b14" d="M146.5 422.2l0.8-0.9l-0.6-6.4l-6.4 8.2z"/>
<path class="b15" d="M147.3 421.3l6.9-8.5l-6.3 0.5l-1.2 1.6z"/>
<path class="o" d="M146.5 422.2l7.7-9.4l-6.3 0.5l-7.6 9.8z"/>
<path class="b18" d="M200 382.8l-1.3-0.2l-7.5 4.2l3.1 0.2z"/>
<path class="b19" d="M197.7 387.3l7.6-3.8l-5.3-0.7l-5.7 4.2z"/>
<path class="o" d="M197.7 387.3l7.6-3.8l-6.6-0.9l-7.5 4.2z"/>
<path class="b17" d="M176 398l0.8-0.7l2.8-5.2l-2.5-0.2l-7.6 6z"/>
<path class="b18" d="M176.8 397.3l6.8-5l-4-0.2z"/>
<path class="o" d="M176 398l7.6-5.7l-6.5-0.4l-7.6 6z"/>
<path class="b12" d="M133.5 432.4l-0.9 1.2l1-0.2z"/>
<path class="b13" d="M138.8 432.4l1.7-2.2l-0.7-6.4l-6.3 8.6l0.1 1z"/>
<path class="b14" d="M140.5 430.2l6-8l-6.2 0.9l-0.5 0.7z"/>
<path class="o" d="M138.8 432.4l7.7-10.2l-6.2 0.9l-7.7 10.5z"/>
<path class="b11" d="M127.3 441.1l-2.3 3.2l2.4-0.6z"/>
<path class="b12" d="M131.1 442.7l2.8-3.7l-0.3-5.6l-1 0.2l-5.3 7.5l0.1 2.6z"/>
<path class="b13" d="M133.9 439l4.9-6.6l-5.2 1z"/>
<path class="o" d="M131.1 442.7l7.7-10.3l-6.2 1.2l-7.6 10.7z"/>
<path class="c b19" d="M211.9 384.3l7.5-2.2l-6.7-1.1l-7.4 2.5z"/>
<path class="b16" d="M165.3 401.6l-3.4 3l2.4 0z"/>
<path class="b17" d="M168.3 404.4l7.7-6.4l-6.5-0.1l-4.2 3.7l-1 3z"/>
<path class="o" d="M168.3 404.4l7.7-6.4l-6.5-0.1l-7.6 6.7z"/>
<path class="b18" d="M194.3 387l-3.1-0.2l-7.6 5.5l6.3-0.2z"/>
<path class="b19" d="M190.1 392.1l7.6-4.8l-3.4-0.3l-4.4 5.1z"/>
<path class="o" d="M190.1 392.1l7.6-4.8l-6.5-0.5l-7.6 5.5z"/>
<path class="b15" d="M154.9 412l-0.7 0.8l0.7-0.1z"/>
<path class="b16" d="M160.6 412.3l3.4-3.5l0.3-4.2l-2.4 0l-7 7.4l0 0.7z"/>
<path class="b17" d="M164 408.8l4.3-4.4l-4 0.2z"/>
<path class="o" d="M160.6 412.3l7.7-7.9l-6.4 0.2l-7.7 8.2z"/>
<path class="c b19" d="M204.4 387.7l7.5-3.4l-6.6-0.8l-7.6 3.8z"/>
<path class="b17" d="M176.8 397.3l-0.8 0.7l0.4-0.1z"/>
<path class="b18" d="M182.5 397.7l7.2-5.2l0.2-0.4l-6.3 0.2l-6.8 5l-0.4 0.6z"/>
<path class="b19" d="M189.7 392.5l0.4-0.4l-0.2 0z"/>
<path class="o" d="M182.5 397.7l7.6-5.6l-6.5 0.2l-7.6 5.7z"/>
<path class="b14" d="M147.3 421.3l-0.8 0.9l0.8-0.1z"/>
<path class="b15" d="M152.9 421.3l2.3-2.7l-0.3-5.9l-0.7 0.1l-6.9 8.5l0 0.8z"/>
<path class="b16" d="M155.2 418.6l5.4-6.3l-5.7 0.4z"/>
<path class="o" d="M152.9 421.3l7.7-9l-6.4 0.5l-7.7 9.4z"/>
<path class="b13" d="M140.5 430.2l-1.7 2.2l1.8-0.3z"/>
<path class="b14" d="M145.1 431.2l2.6-3.4l-0.4-5.7l-0.8 0.1l-6 8l0.1 1.9z"/>
<path class="b15" d="M147.7 427.8l5.2-6.5l-5.6 0.8z"/>
<path class="o" d="M145.1 431.2l7.8-9.9l-6.4 0.9l-7.7 10.2z"/>
<path class="b12" d="M133.9 439l-2.8 3.7l2.8-0.6z"/>
<path class="b13" d="M137.4 441.2l3.3-4.3l-0.1-4.8l-1.8 0.3l-4.9 6.6l0 3.1z"/>
<path class="b14" d="M140.7 436.9l4.4-5.7l-4.5 0.9z"/>
<path class="o" d="M137.4 441.2l7.7-10l-6.3 1.2l-7.7 10.3z"/>
<path class="b17" d="M176.4 397.9l-0.4 0.1l-7.7 6.4l5.3-0.2z"/>
<path class="b18" d="M174.8 404.1l7.7-6.4l-6.1 0.2l-2.8 6.3z"/>
<path class="o" d="M174.8 404.1l7.7-6.4l-6.5 0.3l-7.7 6.4z"/>
<path class="c b19" d="M196.8 392l7.6-4.3l-6.7-0.4l-7.6 4.8z"/>
<path class="b16" d="M164 408.8l-3.4 3.5l2.8-0.3z"/>
<path class="b17" d="M167 411.6l6.4-6.1l0.2-1.3l-5.3 0.2l-4.3 4.4l-0.6 3.2z"/>
<path class="b18" d="M173.4 405.5l1.4-1.4l-1.2 0.1z"/>
<path class="o" d="M167 411.6l7.8-7.5l-6.5 0.3l-7.7 7.9z"/>
<path class="b18" d="M189.7 392.5l-7.2 5.2l3.3-0.2z"/>
<path class="b19" d="M189.1 397.3l7.7-5.3l-6.7 0.1l-0.4 0.4l-3.9 5z"/>
<path class="o" d="M189.1 397.3l7.7-5.3l-6.7 0.1l-7.6 5.6z"/>
<path class="b15" d="M155.2 418.6l-2.3 2.7l2.1-0.3z"/>
<path class="b16" d="M159.3 420.3l4-4.4l0.1-3.9l-2.8 0.3l-5.4 6.3l-0.2 2.4z"/>
<path class="b17" d="M163.3 415.9l3.7-4.3l-3.6 0.4z"/>
<path class="o" d="M159.3 420.3l7.7-8.7l-6.4 0.7l-7.7 9z"/>
<path class="b14" d="M147.7 427.8l-2.6 3.4l2.6-0.6z"/>
<path class="b15" d="M151.5 429.8l3.5-4.3l0-4.5l-2.1 0.3l-5.2 6.5l0 2.8z"/>
<path class="b16" d="M155 425.5l4.3-5.2l-4.3 0.7z"/>
<path class="o" d="M151.5 429.8l7.8-9.5l-6.4 1l-7.8 9.9z"/>
<path class="b18" d="M181.3 403.6l2.3-1.8l2.2-4.3l-3.3 0.2l-7.7 6.4z"/>
<path class="b19" d="M183.6 401.8l5.5-4.5l-3.3 0.2z"/>
<path class="o" d="M181.3 403.6l7.8-6.3l-6.6 0.4l-7.7 6.4z"/>
<path class="b13" d="M140.7 436.9l-3.3 4.3l3.1-0.8z"/>
<path class="b14" d="M143.7 439.5l3.8-4.7l0.2-4.2l-2.6 0.6l-4.4 5.7l-0.2 3.5z"/>
<path class="b15" d="M147.5 434.8l4-5l-3.8 0.8z"/>
<path class="o" d="M143.7 439.5l7.8-9.7l-6.4 1.4l-7.7 10z"/>
<path class="b17" d="M173.4 405.5l-6.4 6.1l4.8-0.5z"/>
<path class="b18" d="M173.6 410.9l7.7-7.3l-6.5 0.5l-1.4 1.4l-1.6 5.6z"/>
<path class="o" d="M173.6 410.9l7.7-7.3l-6.5 0.5l-7.8 7.5z"/>
<path class="b16" d="M163.3 415.9l-4 4.4l3.4-0.6z"/>
<path class="b17" d="M165.8 419.2l5.7-6.1l0.3-2l-4.8 0.5l-3.7 4.3l-0.6 3.8z"/>
<path class="b18" d="M171.5 413.1l2.1-2.2l-1.8 0.2z"/>
<path class="o" d="M165.8 419.2l7.8-8.3l-6.6 0.7l-7.7 8.7z"/>
<path class="b15" d="M155 425.5l-3.5 4.3l3.1-0.8z"/>
<path class="b16" d="M157.9 428.2l4.4-5.1l0.4-3.4l-3.4 0.6l-4.3 5.2l-0.4 3.5z"/>
<path class="b17" d="M162.3 423.1l3.5-3.9l-3.1 0.5z"/>
<path class="o" d="M157.9 428.2l7.9-9l-6.5 1.1l-7.8 9.5z"/>
<path class="b14" d="M147.5 434.8l-3.8 4.7l3.2-0.9z"/>
<path class="b15" d="M150.1 437.6l4-4.8l0.5-3.8l-3.1 0.8l-4 5l-0.6 3.8z"/>
<path class="b16" d="M154.1 432.8l3.8-4.6l-3.3 0.8z"/>
<path class="o" d="M150.1 437.6l7.8-9.4l-6.4 1.6l-7.8 9.7z"/>
<text transform="matrix(0.930 -0.370 0.050 1.000 40.7 461.4)" font-size="9.9" text-anchor="end" font-weight="bold" fill="#000">82</text>
<text transform="matrix(0.930 -0.370 0.050 1.000 40.2 450.6)" font-size="9.9" text-anchor="end" font-weight="bold" fill="#000">84</text>
<text transform="matrix(0.930 -0.370 0.050 1.000 39.7 439.6)" font-size="9.9" text-anchor="end" font-weight="bold" fill="#000">86</text>
<text transform="matrix(0.930 -0.370 0.050 1.000 39.2 428.6)" font-size="9.9" text-anchor="end" font-weight="bold" fill="#000">88</text>
<text transform="matrix(0.930 -0.370 0.050 1.000 38.7 417.5)" font-size="9.9" text-anchor="end" font-weight="bold" fill="#000">90</text>
<text transform="matrix(0.930 -0.370 0.050 1.000 38.2 406.3)" font-size="9.9" text-anchor="end" font-weight="bold" fill="#000">92</text>
<text transform="matrix(0.930 -0.370 0.050 1.000 37.7 395)" font-size="9.9" text-anchor="end" font-weight="bold" fill="#000">94</text>
<text transform="matrix(0.930 -0.370 0.050 1.000 37.1 383.6)" font-size="9.9" text-anchor="end" font-weight="bold" fill="#000">96</text>
<text transform="matrix(0.930 -0.370 0.050 1.000 36.6 372.1)" font-size="9.9" text-anchor="end" font-weight="bold" fill="#000">98</text>
<text transform="matrix(0.930 -0.370 0.050 1.000 36 360.5)" font-size="9.9" text-anchor="end" font-weight="bold" fill="#000">100</text>
<text transform="matrix(0.930 -0.370 0.050 1.000 35.5 348.8)" font-size="9.9" text-anchor="end" font-weight="bold" fill="#000">102</text>
<text transform="matrix(0.930 -0.370 0.050 1.000 34.9 337)" font-size="9.9" text-anchor="end" font-weight="bold" fill="#000">104</text>
<text transform="matrix(0.818 0.575 -0.765 0.365 151.9 543.2)" font-size="9.9" text-anchor="start" font-weight="bold" fill="#000">80</text>
<text transform="matrix(0.818 0.575 -0.765 0.365 163.2 537.7)" font-size="9.9" text-anchor="start" font-weight="bold" fill="#000">100</text>
<text transform="matrix(0.818 0.575 -0.765 0.365 174.3 532.2)" font-size="9.9" text-anchor="start" font-weight="bold" fill="#000">120</text>
<text transform="matrix(0.818 0.575 -0.765 0.365 185.4 526.9)" font-size="9.9" text-anchor="start" font-weight="bold" fill="#000">140</text>
<text transform="matrix(0.818 0.575 -0.765 0.365 196.3 521.5)" font-size="9.9" text-anchor="start" font-weight="bold" fill="#000">160</text>
<text transform="matrix(0.818 0.575 -0.765 0.365 207.2 516.3)" font-size="9.9" text-anchor="start" font-weight="bold" fill="#000">180</text>
<text transform="matrix(0.818 0.575 -0.765 0.365 217.9 511)" font-size="9.9" text-anchor="start" font-weight="bold" fill="#000">200</text>
<text transform="matrix(0.818 0.575 -0.765 0.365 228.5 505.9)" font-size="9.9" text-anchor="start" font-weight="bold" fill="#000">220</text>
<text transform="matrix(0.818 0.575 -0.765 0.365 239 500.8)" font-size="9.9" text-anchor="start" font-weight="bold" fill="#000">240</text>
<text transform="matrix(0.818 0.575 -0.765 0.365 249.4 495.7)" font-size="9.9" text-anchor="start" font-weight="bold" fill="#000">260</text>
<text transform="matrix(0.818 0.575 -0.765 0.365 259.7 490.7)" font-size="9.9" text-anchor="start" font-weight="bold" fill="#000">280</text>
<text transform="matrix(0.818 0.575 -0.765 0.365 269.8 485.8)" font-size="9.9" text-anchor="start" font-weight="bold" fill="#000">300</text>
<text transform="matrix(0.818 0.575 -0.765 0.365 279.9 480.9)" font-size="9.9" text-anchor="start" font-weight="bold" fill="#000">320</text>
<text transform="matrix(0.900 -0.430 0.695 0.489 147.2 543.7)" font-size="9.9" text-anchor="end" font-weight="bold" fill="#000">2.0</text>
<text transform="matrix(0.900 -0.430 0.695 0.489 134.8 534.9)" font-size="9.9" text-anchor="end" font-weight="bold" fill="#000">2.5</text>
<text transform="matrix(0.900 -0.430 0.695 0.489 122.7 526.3)" font-size="9.9" text-anchor="end" font-weight="bold" fill="#000">3.0</text>
<text transform="matrix(0.900 -0.430 0.695 0.489 110.8 517.8)" font-size="9.9" text-anchor="end" font-weight="bold" fill="#000">3.5</text>
<text transform="matrix(0.900 -0.430 0.695 0.489 99.1 509.5)" font-size="9.9" text-anchor="end" font-weight="bold" fill="#000">4.0</text>
<text transform="matrix(0.900 -0.430 0.695 0.489 87.6 501.3)" font-size="9.9" text-anchor="end" font-weight="bold" fill="#000">4.5</text>
<text transform="matrix(0.900 -0.430 0.695 0.489 76.3 493.3)" font-size="9.9" text-anchor="end" font-weight="bold" fill="#000">5.0</text>
<text transform="matrix(0.900 -0.430 0.695 0.489 65.1 485.4)" font-size="9.9" text-anchor="end" font-weight="bold" fill="#000">5.5</text>
<text transform="matrix(0.900 -0.430 0.695 0.489 54.1 477.6)" font-size="9.9" text-anchor="end" font-weight="bold" fill="#000">6.0</text>
<text transform="matrix(0.900 -0.430 0.695 0.489 43.3 469.9)" font-size="9.9" text-anchor="end" font-weight="bold" fill="#000">6.5</text>
<text transform="matrix(0.818 0.575 -0.900 0.430 66 516)" font-size="11.6" text-anchor="middle" font-weight="bold" fill="#000">Biomass (g/L)</text>
<text transform="matrix(0.900 -0.430 0.736 0.517 246 529.8)" font-size="11.7" text-anchor="middle" font-weight="bold" fill="#000">Cadmium concentration</text>
<text transform="matrix(0.900 -0.430 0.736 0.517 257 534.3)" font-size="11.7" text-anchor="middle" font-weight="bold" fill="#000">(mg/L)</text>
<text transform="matrix(0.050 1.000 -0.940 0.340 5 414)" font-size="11" text-anchor="middle" font-weight="bold" fill="#000">Cadmium removal (%)</text>
<path d="M173.4 321.3L173.4 328M66 418.5L66 430M162.7 425.8L162.7 434" stroke="#7d7dff" stroke-width="0.6" stroke-dasharray="1.6 1" fill="none"/>
<circle cx="168" cy="364.5" r="3.1" fill="#ff2a2a" fill-opacity="0.8"/>
<circle cx="173.4" cy="321.3" r="3.1" fill="#ff0000"/>
<circle cx="66" cy="418.5" r="3.1" fill="#ff0000"/>
<circle cx="272.6" cy="378.2" r="3.1" fill="#ff0000"/>
<circle cx="271.6" cy="405.8" r="3.1" fill="#ff0000"/>
<circle cx="218.9" cy="393.8" r="3.1" fill="#ff0000"/>
<circle cx="162.7" cy="425.8" r="3.1" fill="#ff0000"/>
<rect x="292.6" y="371.2" width="13.8" height="7.4" fill="#ff0000" stroke="#555" stroke-width="0.8"/>
<text transform="translate(309.6 377.7) scale(1.1 1)" font-size="8.7" text-anchor="start" fill="#000" font-weight="bold" >&gt; 101</text>
<rect x="292.6" y="381.4" width="13.8" height="7.4" fill="#fa0000" stroke="#555" stroke-width="0.8"/>
<text transform="translate(309.6 387.9) scale(1.1 1)" font-size="8.7" text-anchor="start" fill="#000" font-weight="bold" >&lt; 101</text>
<rect x="292.6" y="391.5" width="13.8" height="7.4" fill="#ff6400" stroke="#555" stroke-width="0.8"/>
<text transform="translate(309.6 398) scale(1.1 1)" font-size="8.7" text-anchor="start" fill="#000" font-weight="bold" >&lt; 98</text>
<rect x="292.6" y="401.7" width="13.8" height="7.4" fill="#ebff00" stroke="#555" stroke-width="0.8"/>
<text transform="translate(309.6 408.2) scale(1.1 1)" font-size="8.7" text-anchor="start" fill="#000" font-weight="bold" >&lt; 95</text>
<rect x="292.6" y="411.8" width="13.8" height="7.4" fill="#00cd00" stroke="#555" stroke-width="0.8"/>
<text transform="translate(309.6 418.3) scale(1.1 1)" font-size="8.7" text-anchor="start" fill="#000" font-weight="bold" >&lt; 92</text>
<rect x="292.6" y="422" width="13.8" height="7.4" fill="#00ebc8" stroke="#555" stroke-width="0.8"/>
<text transform="translate(309.6 428.5) scale(1.1 1)" font-size="8.7" text-anchor="start" fill="#000" font-weight="bold" >&lt; 89</text>
<rect x="292.6" y="432.2" width="13.8" height="7.4" fill="#00738c" stroke="#555" stroke-width="0.8"/>
<text transform="translate(309.6 438.7) scale(1.1 1)" font-size="8.7" text-anchor="start" fill="#000" font-weight="bold" >&lt; 86</text>
<rect x="292.6" y="442.3" width="13.8" height="7.4" fill="#0000d2" stroke="#555" stroke-width="0.8"/>
<text transform="translate(309.6 448.8) scale(1.1 1)" font-size="8.7" text-anchor="start" fill="#000" font-weight="bold" >&lt; 83</text>
<text x="7.7" y="306" font-size="19.5" text-anchor="start" fill="#0000ff" font-weight="bold" >(B)</text>
<g shape-rendering="geometricPrecision">
<path d="M381.4 572.7l0 0.5l20.4-0.3l20.4-0.5l28.2-1.1l27.5-1.5l-96.5 0l0 2.9z" fill="#0000c8" stroke="#0000c8" stroke-width="0.6"/>
<path d="M381.4 581.2l0 1.4l23.5-0.1l34.5-0.8l34.5-1.6l26.7-1.8l26.7-2.3l26.6-2.8l27.3-3.4l-103.3 0l-22.8 1.3l-25.1 1.1l-23.5 0.6l-25.1 0.4l0 8z" fill="#001edc" stroke="#001edc" stroke-width="0.6"/>
<path d="M386.7 592.7l18.2 0l18.9-0.2l18.8-0.4l17.2-0.6l18.9-0.9l17.2-1.1l17.3-1.3l17.2-1.5l22-2.2l23.5-2.9l22-3.1l23.5-3.7l9.4-1.6l0-3.4l-49.6 0l-25.7 3.2l-23.5 2.6l-23.5 2.1l-25.1 1.8l-25.1 1.4l-25.1 1l-25.1 0.5l-26.7 0.2l0 10l5.3 0.1z" fill="#008c8c" stroke="#008c8c" stroke-width="0.6"/>
<path d="M381.4 602.7l0 0.6l18.8 0.3l17.3 0.1l26.6-0.3l26.7-0.9l23.5-1.2l23.6-1.6l23.5-2.1l22-2.4l17.2-2.2l17.3-2.4l17.2-2.8l15.7-2.7l0-11.9l-29.8 4.8l-15.7 2.3l-15.7 2.1l-31.3 3.6l-29.8 2.6l-31.4 2.1l-31.4 1.3l-31.4 0.6l-32.9 0l0 10.1z" fill="#00ffff" stroke="#00ffff" stroke-width="0.6"/>
<path d="M408.8 615.5l22.8 0.2l23.5-0.2l22-0.6l21.9-1l22-1.4l20.4-1.8l20.4-2.1l21.9-2.8l23.6-3.5l23.5-4l0-13.2l-15.7 2.7l-15.7 2.5l-29.8 4.1l-29.8 3.4l-29.8 2.5l-31.3 1.9l-31.4 1.1l-33 0.4l-32.9-0.4l0 11.5l27.4 0.7z" fill="#008c1e" stroke="#008c1e" stroke-width="0.6"/>
<path d="M403.5 628.4l23.4 0.7l23.5 0.2l23.5-0.2l22-0.6l20.4-1.1l22-1.6l21.9-2.1l20.4-2.5l25.1-3.7l25.1-4.4l0-14.8l-14.1 2.5l-15.7 2.5l-14.1 2.1l-15.7 2.1l-14.1 1.6l-15.7 1.6l-15.7 1.4l-15.7 1.2l-15.7 0.9l-15.6 0.7l-15.7 0.5l-15.7 0.2l-15.7 0.1l-17.3-0.1l-32.9-0.8l0 12.6l22.1 1z" fill="#00dc00" stroke="#00dc00" stroke-width="0.6"/>
<path d="M425.4 644.1l23.4 0.9l22 0.3l22-0.2l21.9-0.7l20.4-1.1l20.4-1.7l20.4-2.3l20.4-2.8l17.2-2.8l17.3-3.2l0-17.4l-15.7 2.9l-14.1 2.3l-15.7 2.3l-14.1 1.8l-14.1 1.6l-15.7 1.5l-14.1 1.2l-15.7 1l-15.7 0.8l-15.7 0.5l-15.7 0.3l-15.7 0l-15.6-0.1l-17.3-0.4l-17.2-0.6l-17.3-0.8l0 14l23.5 1.6l20.5 1.1z" fill="#aaff00" stroke="#aaff00" stroke-width="0.6"/>
<path d="M531.3 797l99.5 0l0-15.4l-11 0.8l-12.5 1.2l-12.6 1.5l-12.5 1.8l-14.1 2.3l-12.6 2.4l-12.5 2.7l-11.7 2.7zM502.3 665.5l17.1-0.1l17.3-0.6l15.7-1l15.7-1.4l15.6-1.8l15.7-2.4l15.7-2.7l15.7-3.2l0-21.8l-15.7 2.9l-14.1 2.4l-12.6 1.9l-14.1 1.8l-14.1 1.6l-15.7 1.5l-14.1 1l-15.7 0.8l-15.7 0.6l-15.6 0.3l-15.7 0l-15.7-0.3l-17.3-0.5l-17.2-0.8l-17.3-1l-18.8-1.3l0 16l34.5 3.6l15.7 1.3l15.7 1.2l14.1 0.8l14.1 0.7l14.1 0.4l12.7 0.1z" fill="#ffbe00" stroke="#ffbe00" stroke-width="0.6"/>
<path d="M449.1 797l82.2 0l11.7-2.7l12.5-2.7l12.6-2.4l14.1-2.3l12.5-1.8l12.6-1.5l12.5-1.2l11-0.8l0-35l-9.4-0.1l-9.4 0.2l-9.4 0.6l-9.4 0.9l-7.9 1.1l-9.4 1.7l-11 2.4l-9.4 2.5l-11 3.2l-9.4 3.1l-11 3.9l-12.5 4.7l-14.1 5.6l-14.1 5.8l-34.3 14.8zM529.8 698.4l14.7 0.8l12.6 0.1l12.5-0.4l12.6-1.1l11-1.5l12.5-2.4l12.6-3l12.5-3.7l0-34.9l-14.1 2.9l-14.1 2.5l-12.6 2l-14.1 1.8l-14.1 1.5l-14.1 1.2l-14.2 0.7l-14.1 0.5l-14.1 0.1l-15.7-0.1l-15.7-0.5l-17.2-0.8l-15.7-1l-18.8-1.6l-20.4-1.9l-20.4-2.2l0 19.4l53.3 9.2l37.7 5.9l17.2 2.4l14.1 1.7l14.2 1.4l11.9 1z" fill="#ff4600" stroke="#ff4600" stroke-width="0.6"/>
<path d="M388.1 797l61 0l34.3-14.8l14.1-5.8l14.1-5.6l12.5-4.7l11-3.9l9.4-3.1l11-3.2l9.4-2.5l11-2.4l9.4-1.7l7.9-1.1l9.4-0.9l9.4-0.6l9.4-0.2l9.4 0.1l0-59.4l-11 3.2l-12.5 3.2l-11 2.2l-11 1.6l-11 1.1l-10.9 0.7l-11 0.1l-12.6-0.3l-14.1-0.9l-14.1-1.3l-15.7-1.7l-15.7-2.1l-18.8-2.8l-25.1-3.9l-25.1-4.3l-29.8-5.2l0 26.4l13.9 5.2l10.1 4.3l6 2.9l5.5 2.8l7 4.3l3.9 2.9l2.2 1.9l2.5 2.3l2.4 2.9l1 1.4l1.5 2.9l1 2.8l0.5 2.9l0 2.9l-0.5 2.8l-0.8 2.9l-1.3 2.8l-1.6 2.9l-1.9 2.8l-2.3 2.9l-2.5 2.9l-2.7 2.8l-4.6 4.3l-8.5 7.2l-11.5 8.5l-12.6 8.6z" fill="#dc0000" stroke="#dc0000" stroke-width="0.6"/>
<path d="M381.4 797l6.7 0l10.6-7.1l9.8-7.2l7.2-5.7l6.6-5.7l4.4-4.3l2.6-2.9l3.5-4.3l1.9-2.8l2.3-4.3l1-2.9l0.7-2.8l0.2-2.9l-0.2-2.8l-0.7-2.9l-1.3-2.8l-0.8-1.5l-2.1-2.8l-2.7-2.9l-5.2-4.3l-6.5-4.3l-5.2-2.8l-5.7-2.9l-6.4-2.8l-6.8-2.9l-13.9-5.2l0 93.8z" fill="#8b0000" stroke="#8b0000" stroke-width="0.6"/>
<path d="M477.9 569.8l-22.8 1.3l-25.1 1.1l-23.5 0.6l-25.1 0.4M581.2 569.8l-25.7 3.2l-23.5 2.6l-23.5 2.1l-25.1 1.8l-25.1 1.4l-25.1 1l-25.1 0.5l-26.7 0.2M630.8 573.2l-29.8 4.8l-15.7 2.3l-15.7 2.1l-31.3 3.6l-29.8 2.6l-31.4 2.1l-31.4 1.3l-31.4 0.6l-32.9 0M630.8 585.1l-15.7 2.7l-15.7 2.5l-29.8 4.1l-29.8 3.4l-29.8 2.5l-31.3 1.9l-31.4 1.1l-33 0.4l-32.9-0.4M630.8 598.3l-14.1 2.5l-15.7 2.5l-14.1 2.1l-15.7 2.1l-14.1 1.6l-15.7 1.6l-15.7 1.4l-15.7 1.2l-15.7 0.9l-15.6 0.7l-15.7 0.5l-15.7 0.2l-15.7 0.1l-17.3-0.1l-32.9-0.8M630.8 613.1l-15.7 2.9l-14.1 2.3l-15.7 2.3l-14.1 1.8l-14.1 1.6l-15.7 1.5l-14.1 1.2l-15.7 1l-15.7 0.8l-15.7 0.5l-15.7 0.3l-15.7 0l-15.6-0.1l-17.3-0.4l-17.2-0.6l-17.3-0.8M630.8 630.5l-15.7 2.9l-14.1 2.4l-12.6 1.9l-14.1 1.8l-14.1 1.6l-15.7 1.5l-14.1 1l-15.7 0.8l-15.7 0.6l-15.6 0.3l-15.7 0l-15.7-0.3l-17.3-0.5l-17.2-0.8l-17.3-1l-18.8-1.3M531.3 797l11.7-2.7l12.5-2.7l12.6-2.4l14.1-2.3l12.5-1.8l12.6-1.5l12.5-1.2l11-0.8M630.8 652.3l-14.1 2.9l-14.1 2.5l-12.6 2l-14.1 1.8l-14.1 1.5l-14.1 1.2l-14.2 0.7l-14.1 0.5l-14.1 0.1l-15.7-0.1l-15.7-0.5l-17.2-0.8l-15.7-1l-18.8-1.6l-20.4-1.9l-20.4-2.2M449.1 797l34.3-14.8l14.1-5.8l14.1-5.6l12.5-4.7l11-3.9l9.4-3.1l11-3.2l9.4-2.5l11-2.4l9.4-1.7l7.9-1.1l9.4-0.9l9.4-0.6l9.4-0.2l9.4 0.1M630.8 687.2l-11 3.2l-12.5 3.2l-11 2.2l-11 1.6l-11 1.1l-10.9 0.7l-11 0.1l-12.6-0.3l-14.1-0.9l-14.1-1.3l-15.7-1.7l-15.7-2.1l-18.8-2.8l-25.1-3.9l-25.1-4.3l-29.8-5.2M388.1 797l12.6-8.6l11.5-8.5l8.5-7.2l4.6-4.3l2.7-2.8l2.5-2.9l2.3-2.9l1.9-2.8l1.6-2.9l1.3-2.8l0.8-2.9l0.5-2.8l0-2.9l-0.5-2.9l-1-2.8l-1.5-2.9l-1-1.4l-2.4-2.9l-2.5-2.3l-2.2-1.9l-3.9-2.9l-7-4.3l-5.5-2.8l-6-2.9l-10.1-4.3l-13.9-5.2" fill="none" stroke="#000" stroke-width="0.55"/>
</g>
<rect x="381.4" y="569.8" width="249.4" height="227.2" fill="none" stroke="#111" stroke-width="0.9"/>
<text transform="translate(381.4 812.8) scale(0.82 1)" font-size="12.8" text-anchor="middle" fill="#000" font-weight="bold" >4.5</text>
<text transform="translate(406.3 812.8) scale(0.82 1)" font-size="12.8" text-anchor="middle" fill="#000" font-weight="bold" >5.0</text>
<text transform="translate(431.3 812.8) scale(0.82 1)" font-size="12.8" text-anchor="middle" fill="#000" font-weight="bold" >5.5</text>
<text transform="translate(456.2 812.8) scale(0.82 1)" font-size="12.8" text-anchor="middle" fill="#000" font-weight="bold" >6.0</text>
<text transform="translate(481.2 812.8) scale(0.82 1)" font-size="12.8" text-anchor="middle" fill="#000" font-weight="bold" >6.5</text>
<text transform="translate(506.1 812.8) scale(0.82 1)" font-size="12.8" text-anchor="middle" fill="#000" font-weight="bold" >7.0</text>
<text transform="translate(531 812.8) scale(0.82 1)" font-size="12.8" text-anchor="middle" fill="#000" font-weight="bold" >7.5</text>
<text transform="translate(556 812.8) scale(0.82 1)" font-size="12.8" text-anchor="middle" fill="#000" font-weight="bold" >8.0</text>
<text transform="translate(580.9 812.8) scale(0.82 1)" font-size="12.8" text-anchor="middle" fill="#000" font-weight="bold" >8.5</text>
<text transform="translate(605.9 812.8) scale(0.82 1)" font-size="12.8" text-anchor="middle" fill="#000" font-weight="bold" >9.0</text>
<text transform="translate(630.8 812.8) scale(0.82 1)" font-size="12.8" text-anchor="middle" fill="#000" font-weight="bold" >9.5</text>
<text transform="translate(377.9 801.6) scale(0.82 1)" font-size="12.8" text-anchor="end" fill="#000" font-weight="bold" >1.5</text>
<text transform="translate(377.9 778.9) scale(0.82 1)" font-size="12.8" text-anchor="end" fill="#000" font-weight="bold" >2.0</text>
<text transform="translate(377.9 756.2) scale(0.82 1)" font-size="12.8" text-anchor="end" fill="#000" font-weight="bold" >2.5</text>
<text transform="translate(377.9 733.4) scale(0.82 1)" font-size="12.8" text-anchor="end" fill="#000" font-weight="bold" >3.0</text>
<text transform="translate(377.9 710.7) scale(0.82 1)" font-size="12.8" text-anchor="end" fill="#000" font-weight="bold" >3.5</text>
<text transform="translate(377.9 688) scale(0.82 1)" font-size="12.8" text-anchor="end" fill="#000" font-weight="bold" >4.0</text>
<text transform="translate(377.9 665.3) scale(0.82 1)" font-size="12.8" text-anchor="end" fill="#000" font-weight="bold" >4.5</text>
<text transform="translate(377.9 642.6) scale(0.82 1)" font-size="12.8" text-anchor="end" fill="#000" font-weight="bold" >5.0</text>
<text transform="translate(377.9 619.8) scale(0.82 1)" font-size="12.8" text-anchor="end" fill="#000" font-weight="bold" >5.5</text>
<text transform="translate(377.9 597.1) scale(0.82 1)" font-size="12.8" text-anchor="end" fill="#000" font-weight="bold" >6.0</text>
<text transform="translate(377.9 574.4) scale(0.82 1)" font-size="12.8" text-anchor="end" fill="#000" font-weight="bold" >6.5</text>
<path d="M381.4 797v-1.6M381.4 569.8v1.6M406.3 797v-1.6M406.3 569.8v1.6M431.3 797v-1.6M431.3 569.8v1.6M456.2 797v-1.6M456.2 569.8v1.6M481.2 797v-1.6M481.2 569.8v1.6M506.1 797v-1.6M506.1 569.8v1.6M531 797v-1.6M531 569.8v1.6M556 797v-1.6M556 569.8v1.6M580.9 797v-1.6M580.9 569.8v1.6M605.9 797v-1.6M605.9 569.8v1.6M630.8 797v-1.6M630.8 569.8v1.6M381.4 797h1.6M630.8 797h-1.6M381.4 774.3h1.6M630.8 774.3h-1.6M381.4 751.6h1.6M630.8 751.6h-1.6M381.4 728.8h1.6M630.8 728.8h-1.6M381.4 706.1h1.6M630.8 706.1h-1.6M381.4 683.4h1.6M630.8 683.4h-1.6M381.4 660.7h1.6M630.8 660.7h-1.6M381.4 638h1.6M630.8 638h-1.6M381.4 615.2h1.6M630.8 615.2h-1.6M381.4 592.5h1.6M630.8 592.5h-1.6M381.4 569.8h1.6M630.8 569.8h-1.6" stroke="#000" stroke-width="0.7" fill="none"/>
<text transform="translate(506.1 832) scale(0.95 1)" font-size="13.4" text-anchor="middle" fill="#000" font-weight="bold" style="font-family:'Liberation Sans',sans-serif">pH</text>
<text transform="translate(357.2 683.4) rotate(-90) scale(0.95 1)" font-size="13.4" text-anchor="middle" font-weight="bold" letter-spacing="0.7">Biomass (g)</text>
<rect x="641" y="750.4" width="14.4" height="9.8" fill="#8b0000" stroke="#555" stroke-width="0.8"/>
<text transform="translate(659 759.3) scale(0.94 1)" font-size="9.5" text-anchor="start" fill="#000" font-weight="bold" >&gt; 99</text>
<rect x="641" y="762.9" width="14.4" height="9.8" fill="#dc0000" stroke="#555" stroke-width="0.8"/>
<text transform="translate(659 771.8) scale(0.94 1)" font-size="9.5" text-anchor="start" fill="#000" font-weight="bold" >&lt; 99</text>
<rect x="641" y="775.4" width="14.4" height="9.8" fill="#ffbe00" stroke="#555" stroke-width="0.8"/>
<text transform="translate(659 784.3) scale(0.94 1)" font-size="9.5" text-anchor="start" fill="#000" font-weight="bold" >&lt; 97</text>
<rect x="641" y="787.9" width="14.4" height="9.8" fill="#00dc00" stroke="#555" stroke-width="0.8"/>
<text transform="translate(659 796.8) scale(0.94 1)" font-size="9.5" text-anchor="start" fill="#000" font-weight="bold" >&lt; 95</text>
<rect x="641" y="800.4" width="14.4" height="9.8" fill="#00ffff" stroke="#555" stroke-width="0.8"/>
<text transform="translate(659 809.3) scale(0.94 1)" font-size="9.5" text-anchor="start" fill="#000" font-weight="bold" >&lt; 93</text>
<rect x="641" y="812.9" width="14.4" height="9.8" fill="#001edc" stroke="#555" stroke-width="0.8"/>
<text transform="translate(659 821.8) scale(0.94 1)" font-size="9.5" text-anchor="start" fill="#000" font-weight="bold" >&lt; 91</text>
<path d="M48.4 755.7l126.9-55.5M175.3 700.2l109.3 66.7M47.5 738.9l127.9-54.9M175.4 684l110.1 66M46.7 721.8l128.7-54.2M175.4 667.6l111 65.2M45.8 704.5l129.7-53.5M175.5 651l111.7 64.3M44.9 686.9l130.7-52.8M175.6 634.1l112.5 63.5M44 669.1l131.6-52M175.6 617.1l113.5 62.5M43.1 651l132.6-51.3M175.7 599.7l114.3 61.7M42.2 632.7l133.6-50.5M175.8 582.2l115.1 60.6M41.3 614l134.6-49.7M175.9 564.3l116 59.7M48.4 755.7l-7.1-141.7M154.8 831.7l-106.4-76M61.8 749.8l-6.3-141.1M168.6 824.8l-106.8-75M75.1 744l-5.5-140.5M182.2 818l-107.1-74M88.1 738.3l-4.6-139.9M195.6 811.3l-107.5-73M101.1 732.7l-3.9-139.4M208.8 804.7l-107.7-72M113.8 727.1l-3-138.7M221.9 798.2l-108.1-71.1M126.4 721.6l-2.3-138.2M234.8 791.8l-108.4-70.2M138.9 716.1l-1.6-137.5M247.5 785.4l-108.6-69.3M151.2 710.7l-0.9-136.9M260 779.2l-108.8-68.5M163.3 705.4l-0.1-136.4M272.4 773l-109.1-67.6M175.3 700.2l0.6-135.9M284.6 766.9l-109.3-66.7M284.6 766.9l7.3-142.9M154.8 831.7l129.8-64.8M272.9 759.8l6.6-142.2M143.4 823.5l129.5-63.7M261.4 752.7l5.8-141.4M132.1 815.5l129.3-62.8M250.1 745.8l5-140.7M121.1 807.6l129-61.8M238.9 739l4.4-140M110.2 799.8l128.7-60.8M227.9 732.3l3.7-139.3M99.5 792.2l128.4-59.9M217.1 725.7l3-138.6M88.9 784.7l128.2-59M206.4 719.2l2.4-137.9M78.6 777.3l127.8-58.1M195.9 712.7l1.7-137.1M68.3 770l127.6-57.3M185.5 706.4l1.2-136.5M58.3 762.8l127.2-56.4M175.3 700.2l0.6-135.9M48.4 755.7l126.9-55.5" fill="none" stroke="#d9d9d9" stroke-width="0.6" stroke-dasharray="1.6 1"/>
<path d="M99.4 733.4l-23 11.2l-26.6 12.2" fill="none" stroke="#000096" stroke-width="0.7" stroke-opacity="0.75"/>
<path d="M151.3 710.7l-11.4 6.6l-11.5 6.3l-22.4 11.7l-25.3 12.3l-26.8 12.1" fill="none" stroke="#0028be" stroke-width="0.7" stroke-opacity="0.75"/>
<path d="M176.8 701.1l-12.9 8.1l-13.5 8l-12.7 7.2l-14.7 7.8l-15.3 7.8l-15.9 7.7l-16.5 7.6l-17 7.5" fill="none" stroke="#009696" stroke-width="0.7" stroke-opacity="0.75"/>
<path d="M182.2 704.4l-12.9 8.2l-13.5 8l-12.8 7.2l-14.7 7.9l-15.4 7.8l-16 7.6l-16.7 7.6l-17.2 7.5" fill="none" stroke="#00d2a0" stroke-width="0.7" stroke-opacity="0.75"/>
<path d="M188.2 708l-12.9 8.3l-13.5 8.1l-14.3 8.1l-13.4 7l-13.9 7l-16.2 7.7l-16.7 7.5l-19.1 8.1" fill="none" stroke="#008c00" stroke-width="0.7" stroke-opacity="0.75"/>
<path d="M194.9 712.1l-11.4 7.6l-13.5 8.2l-14.3 8.1l-13.4 7.1l-15.7 7.7l-16.4 7.6l-17 7.4l-19.4 8.1" fill="none" stroke="#50ff00" stroke-width="0.7" stroke-opacity="0.75"/>
<path d="M202.9 717l-11.4 7.7l-13.4 8.4l-12.9 7.2l-13.6 7.1l-15.9 7.7l-16.6 7.4l-19.1 8l-19.9 7.9" fill="none" stroke="#ffc800" stroke-width="0.7" stroke-opacity="0.75"/>
<path d="M234.9 791.7l9.4-7.8l10.3-7.8l10.8-7.3l11.2-6.8M213.1 723.3l-11.2 7.9l-12.1 7.6l-13 7.3l-13.8 7l-16.4 7.4l-17.1 7.2l-19.7 7.7l-22.4 8.2" fill="none" stroke="#ff6e00" stroke-width="0.7" stroke-opacity="0.75"/>
<path d="M191.8 813.2l9.4-12.5l8.9-11.2l7.2-8.3l5.5-5.6l3.3-3.2l6-5.2l3.8-2.9l3.9-2.7l8.5-5.1l4.4-2.3l6.2-3M229.8 733.4l-5.5 4.9l-3.6 2.9l-3.7 2.7l-5.3 3.5l-4.3 2.5l-6 3.1l-11.3 5.2l-13.7 5.5l-21.9 7.7l-24.7 8.1l-33.4 10.5" fill="none" stroke="#ff0000" stroke-width="0.7" stroke-opacity="0.75"/>
<path d="M158.5 829.8l2.6-6.5l2.1-6.2l1.1-5.8l0.3-3.5l-0.3-3.2l-1-2.9l-0.8-1.3l-0.9-1.2l-1.2-1.1l-1.5-0.9l-1.7-0.8l-2-0.7l-2.2-0.6l-2.6-0.4l-4.7-0.3l-5 0.1l-5.8 0.4l-6.9 0.7l-10.2 1.6l-9 1.7" fill="none" stroke="#c80000" stroke-width="0.7" stroke-opacity="0.75"/>
<path d="M48.4 755.7l-7.1-141.7M48.4 755.7l106.4 76M154.8 831.7l129.8-64.8M47.5 738.9h2.5M46.7 721.8h2.5M45.8 704.5h2.5M44.9 686.9h2.5M44 669.1h2.5M43.1 651h2.5M42.2 632.7h2.5M41.3 614h2.5M48 747.3h1.2M47.1 730.4h1.2M46.2 713.2h1.2M45.4 695.8h1.2M44.5 678.1h1.2M43.6 660.1h1.2M42.7 641.9h1.2M41.7 623.4h1.2M154.8 831.7l-1.8-1.3M157.6 830.3l-1-0.6M160.3 828.9l-0.9-0.6M163.1 827.6l-0.9-0.7M165.8 826.2l-0.9-0.7M168.6 824.8l-1.9-1.3M171.3 823.4l-0.9-0.6M174 822.1l-0.9-0.7M176.8 820.7l-1-0.6M179.5 819.4l-0.9-0.7M182.2 818l-1.9-1.3M184.9 816.7l-0.9-0.7M187.6 815.3l-1-0.6M190.3 814l-1-0.6M192.9 812.7l-0.9-0.7M195.6 811.3l-1.9-1.2M198.3 810l-1-0.6M200.9 808.7l-0.9-0.7M203.6 807.4l-1-0.7M206.2 806l-0.9-0.6M208.8 804.7l-1.8-1.2M211.5 803.4l-1-0.6M214.1 802.1l-1-0.6M216.7 800.8l-0.9-0.6M219.3 799.5l-0.9-0.6M221.9 798.2l-1.9-1.2M224.5 796.9l-1-0.6M227.1 795.6l-1-0.6M229.6 794.3l-0.9-0.6M232.2 793.1l-0.9-0.7M234.8 791.8l-1.9-1.2M237.3 790.5l-0.9-0.6M239.9 789.2l-1-0.6M242.4 788l-0.9-0.6M244.9 786.7l-0.9-0.6M247.5 785.4l-1.9-1.2M250 784.2l-0.9-0.6M252.5 782.9l-0.9-0.6M255 781.7l-0.9-0.6M257.5 780.4l-0.9-0.6M260 779.2l-1.9-1.2M262.5 777.9l-0.9-0.6M265 776.7l-1-0.6M267.5 775.5l-1-0.6M269.9 774.2l-0.9-0.6M272.4 773l-1.9-1.2M274.8 771.8l-0.9-0.6M277.3 770.5l-0.9-0.5M279.7 769.3l-0.9-0.6M282.2 768.1l-1-0.6M284.6 766.9l-1.9-1.2M154.8 831.7l2.2-1.1M152.5 830.1l1.1-0.6M150.2 828.4l1.1-0.5M147.9 826.8l1.1-0.6M145.6 825.2l1.1-0.6M143.4 823.5l2.2-1.1M141.1 821.9l1.1-0.5M138.9 820.3l1.1-0.5M136.6 818.7l1.1-0.5M134.4 817.1l1.1-0.5M132.1 815.5l2.2-1.1M129.9 813.9l1.1-0.5M127.7 812.3l1.1-0.5M125.5 810.8l1.1-0.6M123.3 809.2l1.1-0.5M121.1 807.6l2.2-1M118.9 806.1l1.1-0.6M116.7 804.5l1.1-0.5M114.5 802.9l1.1-0.5M112.3 801.4l1.1-0.5M110.2 799.8l2.2-1M108 798.3l1.1-0.5M105.9 796.8l1.1-0.5M103.7 795.2l1.1-0.5M101.6 793.7l1.1-0.5M99.5 792.2l2.2-1M97.4 790.7l1-0.5M95.2 789.2l1.1-0.5M93.1 787.7l1.1-0.5M91 786.2l1.1-0.5M88.9 784.7l2.2-1M86.8 783.2l1.1-0.5M84.8 781.7l1.1-0.5M82.7 780.2l1.1-0.5M80.6 778.7l1.1-0.5M78.6 777.3l2.1-1M76.5 775.8l1.1-0.5M74.5 774.3l1-0.5M72.4 772.9l1.1-0.5M70.4 771.4l1.1-0.5M68.3 770l2.2-1M66.3 768.5l1.1-0.5M64.3 767.1l1.1-0.5M62.3 765.7l1.1-0.5M60.3 764.2l1.1-0.5M58.3 762.8l2.1-1M56.3 761.4l1.1-0.5M54.3 759.9l1.1-0.4M52.3 758.5l1.1-0.4M50.3 757.1l1.1-0.4M48.4 755.7l2.1-0.9" fill="none" stroke="#222" stroke-width="0.7"/>
<path d="M65.8 626.7L71.3 753.7M165.2 621.2L165.2 704.7M266 626.3L263.9 681.5" stroke="#7d7dff" stroke-width="0.6" stroke-dasharray="1.6 1" fill="none"/>
<path class="c g" d="M174.6 635.2l6.8-4.5l-5.8 5.9l-6.9 4.6z"/>
<path class="c g" d="M167.7 639.6l6.9-4.4l-5.9 6l-6.8 4.5z"/>
<path class="c g" d="M160.7 643.9l7-4.3l-5.8 6.1l-6.9 4.4z"/>
<path class="c g" d="M180.5 629.9l6.9-4.3l-6 5.1l-6.8 4.5z"/>
<path class="c g" d="M153.7 648.1l7-4.2l-5.7 6.2l-7 4.3z"/>
<path class="c g" d="M173.6 634.2l6.9-4.3l-5.9 5.3l-6.9 4.4z"/>
<path class="c g" d="M146.7 652.3l7-4.2l-5.7 6.3l-7 4.3z"/>
<path class="c g" d="M166.6 638.4l7-4.2l-5.9 5.4l-7 4.3z"/>
<path class="c g" d="M139.7 656.4l7-4.1l-5.7 6.4l-7 4.2z"/>
<path class="c g" d="M186.5 625.4l6.9-4.2l-6 4.4l-6.9 4.3z"/>
<path class="c g" d="M159.6 642.5l7-4.1l-5.9 5.5l-7 4.2z"/>
<path class="c g" d="M132.5 660.4l7.2-4l-5.7 6.5l-7 4.2z"/>
<path class="c g" d="M179.5 629.6l7-4.2l-6 4.5l-6.9 4.3z"/>
<path class="c g" d="M152.5 646.5l7.1-4l-5.9 5.6l-7 4.2z"/>
<path class="c g" d="M125.4 664.3l7.1-3.9l-5.5 6.7l-7.2 4z"/>
<path class="c g" d="M172.5 633.7l7-4.1l-5.9 4.6l-7 4.2z"/>
<path class="c g" d="M192.6 621.7l6.9-4.1l-6.1 3.6l-6.9 4.2z"/>
<path class="c g" d="M145.4 650.5l7.1-4l-5.8 5.8l-7 4.1z"/>
<path class="c g" d="M118.2 668.2l7.2-3.9l-5.6 6.8l-7.1 4z"/>
<path class="c g" d="M165.5 637.7l7-4l-5.9 4.7l-7 4.1z"/>
<path class="c g" d="M185.6 625.7l7-4l-6.1 3.7l-7 4.2z"/>
<path class="c g" d="M138.2 654.4l7.2-3.9l-5.7 5.9l-7.2 4z"/>
<path class="c g" d="M110.9 672l7.3-3.8l-5.5 6.9l-7.2 3.9z"/>
<path class="c g" d="M158.4 641.6l7.1-3.9l-5.9 4.8l-7.1 4z"/>
<path class="c g" d="M178.5 629.7l7.1-4l-6.1 3.9l-7 4.1z"/>
<path class="c g" d="M131 658.2l7.2-3.8l-5.7 6l-7.1 3.9z"/>
<path class="k6" d="M198.7 618.8l0.5-0.3l5.4-3.2l-5.1 2.3l-6.9 4.1z"/>
<path class="k7" d="M199.2 618.5l6.5-3.7l-1.1 0.5z"/>
<path class="o" d="M198.7 618.8l7-4l-6.2 2.8l-6.9 4.1z"/>
<path class="c g" d="M103.6 675.7l7.3-3.7l-5.4 7l-7.3 3.9z"/>
<path class="c g" d="M151.2 645.4l7.2-3.8l-5.9 4.9l-7.1 4z"/>
<path class="c g" d="M171.4 633.6l7.1-3.9l-6 4l-7 4z"/>
<path class="c g" d="M123.8 662l7.2-3.8l-5.6 6.1l-7.2 3.9z"/>
<path class="c k6" d="M191.7 622.7l7-3.9l-6.1 2.9l-7 4z"/>
<path class="c g" d="M96.3 679.4l7.3-3.7l-5.4 7.2l-7.3 3.7z"/>
<path class="c g" d="M144 649.2l7.2-3.8l-5.8 5.1l-7.2 3.9z"/>
<path class="c g" d="M164.3 637.4l7.1-3.8l-5.9 4.1l-7.1 3.9z"/>
<path class="c g" d="M116.5 665.7l7.3-3.7l-5.6 6.2l-7.3 3.8z"/>
<path class="c k6" d="M184.6 626.6l7.1-3.9l-6.1 3l-7.1 4z"/>
<path class="k6" d="M199.2 618.5l-0.5 0.3l0.1 0z"/>
<path class="k7" d="M205 616.7l7-3.9l-6.3 2l-6.5 3.7l-0.4 0.3z"/>
<path class="o" d="M205 616.7l7-3.9l-6.3 2l-7 4z"/>
<path class="c g" d="M88.9 682.9l7.4-3.5l-5.4 7.2l-7.3 3.7z"/>
<path class="c g" d="M136.8 652.9l7.2-3.7l-5.8 5.2l-7.2 3.8z"/>
<path class="c g" d="M157.1 641.1l7.2-3.7l-5.9 4.2l-7.2 3.8z"/>
<path class="c g" d="M109.1 669.3l7.4-3.6l-5.6 6.3l-7.3 3.7z"/>
<path class="k5" d="M177.5 630.3l-6.1 3.3l0.9-0.4z"/>
<path class="k6" d="M177.5 630.3l7.1-3.7l-6.1 3.1l-1 0.6l-5.2 2.9z"/>
<path class="o" d="M177.5 630.3l7.1-3.7l-6.1 3.1l-7.1 3.9z"/>
<path class="k6" d="M198.8 618.8l-0.1 0l-7 3.9l1.3-0.5z"/>
<path class="k7" d="M197.9 620.5l7.1-3.8l-6.2 2.1l-5.8 3.4z"/>
<path class="o" d="M197.9 620.5l7.1-3.8l-6.3 2.1l-7 3.9z"/>
<path class="c g" d="M81.4 686.4l7.5-3.5l-5.3 7.4l-7.4 3.6z"/>
<path class="c g" d="M129.5 656.6l7.3-3.7l-5.8 5.3l-7.2 3.8z"/>
<path class="c g" d="M149.9 644.8l7.2-3.7l-5.9 4.3l-7.2 3.8z"/>
<path class="c g" d="M170.4 634l7.1-3.7l-6.1 3.3l-7.1 3.8z"/>
<path class="c g" d="M101.7 672.8l7.4-3.5l-5.5 6.4l-7.3 3.7z"/>
<path class="k7" d="M215.5 612.2l-3.5 0.6l-7 3.9l4.9-1z"/>
<path class="k8" d="M211.3 615.4l7-3.7l-2.8 0.5l-5.6 3.5z"/>
<path class="o" d="M211.3 615.4l7-3.7l-6.3 1.1l-7 3.9z"/>
<path class="k6" d="M193 622.2l-1.3 0.5l-7.1 3.9l2.4-0.9z"/>
<path class="k7" d="M190.8 624.2l7.1-3.7l-4.9 1.7l-6 3.5z"/>
<path class="o" d="M190.8 624.2l7.1-3.7l-6.2 2.2l-7.1 3.9z"/>
<path class="c g" d="M122.2 660.1l7.3-3.5l-5.7 5.4l-7.3 3.7z"/>
<path class="c g" d="M73.9 689.9l7.5-3.5l-5.2 7.5l-7.5 3.6z"/>
<path class="c g" d="M142.6 648.4l7.3-3.6l-5.9 4.4l-7.2 3.7z"/>
<path class="c g" d="M163.2 637.6l7.2-3.6l-6.1 3.4l-7.2 3.7z"/>
<path class="c g" d="M94.3 676.2l7.4-3.4l-5.4 6.6l-7.4 3.5z"/>
<path class="k7" d="M209.9 615.7l-4.9 1l-7.1 3.8l6.1-1.3z"/>
<path class="k8" d="M204.2 619.1l7.1-3.7l-1.4 0.3l-5.9 3.5z"/>
<path class="o" d="M204.2 619.1l7.1-3.7l-6.3 1.3l-7.1 3.8z"/>
<path class="k6" d="M187 625.7l-2.4 0.9l-7.1 3.7l3.3-1.3z"/>
<path class="k7" d="M183.7 627.9l7.1-3.7l-3.8 1.5l-6.2 3.3z"/>
<path class="o" d="M183.7 627.9l7.1-3.7l-6.2 2.4l-7.1 3.7z"/>
<path class="c g" d="M114.8 663.6l7.4-3.5l-5.7 5.6l-7.4 3.6z"/>
<path class="c g" d="M66.3 693.2l7.6-3.3l-5.2 7.6l-7.5 3.5z"/>
<path class="c g" d="M135.3 651.9l7.3-3.5l-5.8 4.5l-7.3 3.7z"/>
<path class="c k8" d="M217.6 615l7.1-3.6l-6.4 0.3l-7 3.7z"/>
<path class="c g" d="M155.9 641.2l7.3-3.6l-6.1 3.5l-7.2 3.7z"/>
<path class="k7" d="M197.1 622.7l5.4-2.7l1.5-0.8l-6.1 1.3l-7.1 3.7z"/>
<path class="k8" d="M202.5 620l1.7-0.9l-0.2 0.1z"/>
<path class="o" d="M197.1 622.7l7.1-3.6l-6.3 1.4l-7.1 3.7z"/>
<path class="c g" d="M86.8 679.6l7.5-3.4l-5.4 6.7l-7.5 3.5z"/>
<path class="k6" d="M180.8 629l-3.3 1.3l-7.1 3.7l4-1.7z"/>
<path class="k7" d="M176.5 631.5l7.2-3.6l-2.9 1.1l-6.4 3.3z"/>
<path class="o" d="M176.5 631.5l7.2-3.6l-6.2 2.4l-7.1 3.7z"/>
<path class="c g" d="M107.3 667l7.5-3.4l-5.7 5.7l-7.4 3.5z"/>
<path class="c g" d="M58.7 696.5l7.6-3.3l-5.1 7.8l-7.6 3.4z"/>
<path class="c g" d="M127.9 655.3l7.4-3.4l-5.8 4.7l-7.3 3.5z"/>
<path class="c k8" d="M210.5 618.6l7.1-3.6l-6.3 0.4l-7.1 3.7z"/>
<path class="c g" d="M148.6 644.6l7.3-3.4l-6 3.6l-7.3 3.6z"/>
<path class="c k7" d="M189.9 626.3l7.2-3.6l-6.3 1.5l-7.1 3.7z"/>
<path class="k6" d="M174.4 632.3l-4 1.7l-7.2 3.6l4.6-2z"/>
<path class="k7" d="M169.3 635l7.2-3.5l-2.1 0.8l-6.6 3.3z"/>
<path class="o" d="M169.3 635l7.2-3.5l-6.1 2.5l-7.2 3.6z"/>
<path class="c g" d="M79.2 682.9l7.6-3.3l-5.4 6.8l-7.5 3.5z"/>
<path class="c g" d="M99.8 670.3l7.5-3.3l-5.6 5.8l-7.4 3.4z"/>
<path class="c k8" d="M224 615.5l7.1-3.5l-6.4-0.6l-7.1 3.6z"/>
<path class="c g" d="M51 699.7l7.7-3.2l-5.1 7.9l-7.6 3.3z"/>
<path class="c g" d="M120.5 658.7l7.4-3.4l-5.7 4.8l-7.4 3.5z"/>
<path class="k7" d="M202.5 620l-5.4 2.7l0.9 0z"/>
<path class="k8" d="M203.4 622.1l7.1-3.5l-6.3 0.5l-1.7 0.9l-4.5 2.7z"/>
<path class="o" d="M203.4 622.1l7.1-3.5l-6.3 0.5l-7.1 3.6z"/>
<path class="c g" d="M141.2 648l7.4-3.4l-6 3.8l-7.3 3.5z"/>
<path class="c k7" d="M182.7 629.7l7.2-3.4l-6.2 1.6l-7.2 3.6z"/>
<path class="k6" d="M167.8 635.6l-4.6 2l-7.3 3.6l5.1-2.4z"/>
<path class="k7" d="M162 638.4l7.3-3.4l-1.5 0.6l-6.8 3.2z"/>
<path class="o" d="M162 638.4l7.3-3.4l-6.1 2.6l-7.3 3.6z"/>
<path class="c g" d="M71.6 686.1l7.6-3.2l-5.3 7l-7.6 3.3z"/>
<path class="c k8" d="M216.9 619l7.1-3.5l-6.4-0.5l-7.1 3.6z"/>
<path class="c g" d="M92.3 673.6l7.5-3.3l-5.5 5.9l-7.5 3.4z"/>
<path class="k7" d="M198 622.7l-0.9 0l-7.2 3.6l1.9-0.2z"/>
<path class="k8" d="M196.2 625.5l7.2-3.4l-5.4 0.6l-6.2 3.4z"/>
<path class="o" d="M196.2 625.5l7.2-3.4l-6.3 0.6l-7.2 3.6z"/>
<path class="c g" d="M113 662l7.5-3.3l-5.7 4.9l-7.5 3.4z"/>
<path class="c k7" d="M175.4 633.1l7.3-3.4l-6.2 1.8l-7.2 3.5z"/>
<path class="c g" d="M133.8 651.3l7.4-3.3l-5.9 3.9l-7.4 3.4z"/>
<path class="c g" d="M154.6 641.7l7.4-3.3l-6.1 2.8l-7.3 3.4z"/>
<path class="k8" d="M233.4 612.5l-2.3-0.5l-7.1 3.5l4.3 0.9z"/>
<path class="k9" d="M230.5 616.9l7.1-3.4l-4.2-1l-5.1 3.9z"/>
<path class="o" d="M230.5 616.9l7.1-3.4l-6.5-1.5l-7.1 3.5z"/>
<path class="c g" d="M63.9 689.3l7.7-3.2l-5.3 7.1l-7.6 3.3z"/>
<path class="c k8" d="M209.8 622.4l7.1-3.4l-6.4-0.4l-7.1 3.5z"/>
<path class="c g" d="M84.6 676.7l7.7-3.1l-5.5 6l-7.6 3.3z"/>
<path class="k7" d="M191.8 626.1l-1.9 0.2l-7.2 3.4l2.6-0.3z"/>
<path class="k8" d="M189 628.9l7.2-3.4l-4.4 0.6l-6.5 3.3z"/>
<path class="o" d="M189 628.9l7.2-3.4l-6.3 0.8l-7.2 3.4z"/>
<path class="c g" d="M105.5 665.2l7.5-3.2l-5.7 5l-7.5 3.3z"/>
<path class="c k7" d="M168.1 636.4l7.3-3.3l-6.1 1.9l-7.3 3.4z"/>
<path class="c g" d="M126.3 654.6l7.5-3.3l-5.9 4l-7.4 3.4z"/>
<path class="k8" d="M228.3 616.4l-4.3-0.9l-7.1 3.5l5.8 1.1z"/>
<path class="k9" d="M223.4 620.2l7.1-3.3l-2.2-0.5l-5.6 3.7z"/>
<path class="o" d="M223.4 620.2l7.1-3.3l-6.5-1.4l-7.1 3.5z"/>
<path class="c g" d="M147.2 645l7.4-3.3l-6 2.9l-7.4 3.4z"/>
<path class="c g" d="M56.1 692.4l7.8-3.1l-5.2 7.2l-7.7 3.2z"/>
<path class="c k8" d="M202.6 625.7l7.2-3.3l-6.4-0.3l-7.2 3.4z"/>
<path class="c k9" d="M237 619.2l7.1-3.3l-6.5-2.4l-7.1 3.4z"/>
<path class="c g" d="M77 679.8l7.6-3.1l-5.4 6.2l-7.6 3.2z"/>
<path class="k7" d="M185.3 629.4l-2.6 0.3l-7.3 3.4l3.1-0.5z"/>
<path class="k8" d="M181.7 632.1l7.3-3.2l-3.7 0.5l-6.8 3.2z"/>
<path class="o" d="M181.7 632.1l7.3-3.2l-6.3 0.8l-7.3 3.4z"/>
<path class="c g" d="M97.9 668.3l7.6-3.1l-5.7 5.1l-7.5 3.3z"/>
<path class="c k7" d="M160.7 639.6l7.4-3.2l-6.1 2l-7.4 3.3z"/>
<path class="c g" d="M118.8 657.7l7.5-3.1l-5.8 4.1l-7.5 3.3z"/>
<path class="k8" d="M216.2 623.5l2.6-1.2l3.9-2.2l-5.8-1.1l-7.1 3.4z"/>
<path class="k9" d="M218.8 622.3l4.6-2.1l-0.7-0.1z"/>
<path class="o" d="M216.2 623.5l7.2-3.3l-6.5-1.2l-7.1 3.4z"/>
<path class="c g" d="M139.8 648.2l7.4-3.2l-6 3l-7.4 3.3z"/>
<path class="c k8" d="M195.3 628.9l7.3-3.2l-6.4-0.2l-7.2 3.4z"/>
<path class="c k9" d="M229.9 622.4l7.1-3.2l-6.5-2.3l-7.1 3.3z"/>
<path class="c g" d="M69.2 682.8l7.8-3l-5.4 6.3l-7.7 3.2z"/>
<path class="c k9" d="M243.5 622.4l7.1-3.2l-6.5-3.3l-7.1 3.3z"/>
<path class="k7" d="M178.5 632.6l-3.1 0.5l-7.3 3.3l3.5-0.6z"/>
<path class="k8" d="M174.4 635.3l7.3-3.2l-3.2 0.5l-6.9 3.2z"/>
<path class="o" d="M174.4 635.3l7.3-3.2l-6.3 1l-7.3 3.3z"/>
<path class="c g" d="M90.2 671.3l7.7-3l-5.6 5.3l-7.7 3.1z"/>
<path class="c k7" d="M153.3 642.8l7.4-3.2l-6.1 2.1l-7.4 3.3z"/>
<path class="c k8" d="M209 626.7l7.2-3.2l-6.4-1.1l-7.2 3.3z"/>
<path class="c g" d="M111.2 660.8l7.6-3.1l-5.8 4.3l-7.5 3.2z"/>
<path class="c g" d="M132.3 651.3l7.5-3.1l-6 3.1l-7.5 3.3z"/>
<path class="k8" d="M218.8 622.3l-2.6 1.2l0.6 0.2z"/>
<path class="k9" d="M222.7 625.5l7.2-3.1l-6.5-2.2l-4.6 2.1l-2 1.4z"/>
<path class="o" d="M222.7 625.5l7.2-3.1l-6.5-2.2l-7.2 3.3z"/>
<path class="c k8" d="M188 632l7.3-3.1l-6.3 0l-7.3 3.2z"/>
<path class="c g" d="M61.4 685.8l7.8-3l-5.3 6.5l-7.8 3.1z"/>
<path class="c k9" d="M236.4 625.5l7.1-3.1l-6.5-3.2l-7.1 3.2z"/>
<path class="k7" d="M171.6 635.8l-3.5 0.6l-7.4 3.2l3.7-0.7z"/>
<path class="k8" d="M167 638.4l7.4-3.1l-2.8 0.5l-7.2 3.1z"/>
<path class="o" d="M167 638.4l7.4-3.1l-6.3 1.1l-7.4 3.2z"/>
<path class="c g" d="M82.5 674.3l7.7-3l-5.6 5.4l-7.6 3.1z"/>
<path class="c k9" d="M250.1 626.5l7.1-3.1l-6.6-4.2l-7.1 3.2z"/>
<path class="c k7" d="M145.9 645.8l7.4-3l-6.1 2.2l-7.4 3.2z"/>
<path class="c k8" d="M201.7 629.8l7.3-3.1l-6.4-1l-7.3 3.2z"/>
<path class="c g" d="M103.6 663.8l7.6-3l-5.7 4.4l-7.6 3.1z"/>
<path class="c g" d="M124.7 654.3l7.6-3l-6 3.3l-7.5 3.1z"/>
<path class="k8" d="M216.8 623.7l-0.6-0.2l-7.2 3.2l1.5 0.4z"/>
<path class="k9" d="M215.5 628.6l7.2-3.1l-5.9-1.8l-6.3 3.4z"/>
<path class="o" d="M215.5 628.6l7.2-3.1l-6.5-2l-7.2 3.2z"/>
<path class="c k8" d="M180.7 635.1l7.3-3.1l-6.3 0.1l-7.3 3.2z"/>
<path class="c k9" d="M229.2 628.5l7.2-3l-6.5-3.1l-7.2 3.1z"/>
<path class="k7" d="M164.4 638.9l-3.7 0.7l-7.4 3.2l3.8-0.8z"/>
<path class="k8" d="M159.5 641.4l7.5-3l-2.6 0.5l-7.3 3.1z"/>
<path class="o" d="M159.5 641.4l7.5-3l-6.3 1.2l-7.4 3.2z"/>
<path class="c k9" d="M243 629.5l7.1-3l-6.6-4.1l-7.1 3.1z"/>
<path class="c g" d="M74.7 677.2l7.8-2.9l-5.5 5.5l-7.8 3z"/>
<path class="c k7" d="M138.3 648.8l7.6-3l-6.1 2.4l-7.5 3.1z"/>
<path class="c k8" d="M194.4 632.8l7.3-3l-6.4-0.9l-7.3 3.1z"/>
<path class="c k9" d="M256.7 631.5l7.1-3l-6.6-5.1l-7.1 3.1z"/>
<path class="c g" d="M95.9 666.7l7.7-2.9l-5.7 4.5l-7.7 3z"/>
<path class="c g" d="M117.1 657.2l7.6-2.9l-5.9 3.4l-7.6 3.1z"/>
<path class="k8" d="M210.5 627.1l-1.5-0.4l-7.3 3.1l2 0.5z"/>
<path class="k9" d="M208.2 631.6l7.3-3l-5-1.5l-6.8 3.2z"/>
<path class="o" d="M208.2 631.6l7.3-3l-6.5-1.9l-7.3 3.1z"/>
<path class="c k8" d="M173.2 638.1l7.5-3l-6.3 0.2l-7.4 3.1z"/>
<path class="c k9" d="M222 631.5l7.2-3l-6.5-3l-7.2 3.1z"/>
<path class="k7" d="M157.1 642l-3.8 0.8l-7.4 3l3.6-0.8z"/>
<path class="k8" d="M152 644.4l7.5-3l-2.4 0.6l-7.6 3z"/>
<path class="o" d="M152 644.4l7.5-3l-6.2 1.4l-7.4 3z"/>
<path class="c k9" d="M235.8 632.4l7.2-2.9l-6.6-4l-7.2 3z"/>
<path class="c g" d="M66.8 680l7.9-2.8l-5.5 5.6l-7.8 3z"/>
<path class="c k8" d="M187 635.8l7.4-3l-6.4-0.8l-7.3 3.1z"/>
<path class="c g" d="M130.7 651.7l7.6-2.9l-6 2.5l-7.6 3z"/>
<path class="k8" d="M263.3 637.5l7.1-2.9l-6.6-6.1l-7.1 3z"/>
<path class="k9" d="M263.8 628.5l-7.1 3z"/>
<path class="o" d="M263.3 637.5l7.1-2.9l-6.6-6.1l-7.1 3z"/>
<path class="c k9" d="M249.6 634.4l7.1-2.9l-6.6-5l-7.1 3z"/>
<path class="c g" d="M88.1 669.5l7.8-2.8l-5.7 4.6l-7.7 3z"/>
<path class="c g" d="M109.4 660.1l7.7-2.9l-5.9 3.6l-7.6 3z"/>
<path class="k8" d="M203.7 630.3l-2-0.5l-7.3 3l1.9 0.5z"/>
<path class="k9" d="M200.9 634.5l7.3-2.9l-4.5-1.3l-7.4 3z"/>
<path class="o" d="M200.9 634.5l7.3-2.9l-6.5-1.8l-7.3 3z"/>
<path class="c k8" d="M165.8 641l7.4-2.9l-6.2 0.3l-7.5 3z"/>
<path class="c k9" d="M214.7 634.3l7.3-2.8l-6.5-2.9l-7.3 3z"/>
<path class="k7" d="M149.5 645l-3.6 0.8l-7.6 3l3.5-0.9z"/>
<path class="k8" d="M144.4 647.2l7.6-2.8l-2.5 0.6l-7.7 2.9z"/>
<path class="o" d="M144.4 647.2l7.6-2.8l-6.1 1.4l-7.6 3z"/>
<path class="c k8" d="M269.9 644.4l7.1-2.8l-6.6-7l-7.1 2.9z"/>
<path class="c k9" d="M228.5 635.2l7.3-2.8l-6.6-3.9l-7.2 3z"/>
<path class="c k8" d="M179.6 638.6l7.4-2.8l-6.3-0.7l-7.5 3z"/>
<path class="c g" d="M123.1 654.5l7.6-2.8l-6 2.6l-7.6 2.9z"/>
<path class="k8" d="M256.2 640.3l7.1-2.8l-6.6-6l-6.8 3.2z"/>
<path class="k9" d="M256.7 631.5l-7.1 2.9l0.3 0.3z"/>
<path class="o" d="M256.2 640.3l7.1-2.8l-6.6-6l-7.1 2.9z"/>
<path class="c k9" d="M242.4 637.2l7.2-2.8l-6.6-4.9l-7.2 2.9z"/>
<path class="c g" d="M101.7 662.9l7.7-2.8l-5.8 3.7l-7.7 2.9z"/>
<path class="c g" d="M80.3 672.3l7.8-2.8l-5.6 4.8l-7.8 2.9z"/>
<path class="k8" d="M196.3 633.3l-1.9-0.5l-7.4 3l1.6 0.3z"/>
<path class="k9" d="M193.5 637.3l7.4-2.8l-4.6-1.2l-7.7 2.8z"/>
<path class="o" d="M193.5 637.3l7.4-2.8l-6.5-1.7l-7.4 3z"/>
<path class="c k8" d="M158.3 643.8l7.5-2.8l-6.3 0.4l-7.5 3z"/>
<path class="k7" d="M276.5 652.2l7.1-2.7l-1.6-1.9l-6.5 3.4z"/>
<path class="k8" d="M282 647.6l-5-6l-7.1 2.8l5.6 6.6z"/>
<path class="o" d="M276.5 652.2l7.1-2.7l-6.6-7.9l-7.1 2.8z"/>
<path class="c k9" d="M207.4 637.1l7.3-2.8l-6.5-2.7l-7.3 2.9z"/>
<path class="k7" d="M141.8 647.9l-3.5 0.9l-7.6 2.9l3.2-0.9z"/>
<path class="k8" d="M136.8 650l7.6-2.8l-2.6 0.7l-7.9 2.9z"/>
<path class="o" d="M136.8 650l7.6-2.8l-6.1 1.6l-7.6 2.9z"/>
<path class="c k8" d="M262.8 647.1l7.1-2.7l-6.6-6.9l-7.1 2.8z"/>
<path class="c k9" d="M221.3 638l7.2-2.8l-6.5-3.7l-7.3 2.8z"/>
<path class="c k8" d="M172.1 641.4l7.5-2.8l-6.4-0.5l-7.4 2.9z"/>
<path class="c g" d="M115.4 657.3l7.7-2.8l-6 2.7l-7.7 2.9z"/>
<path class="k8" d="M249 643l7.2-2.7l-6.3-5.6l-6.6 3.3z"/>
<path class="k9" d="M249.9 634.7l-0.3-0.3l-7.2 2.8l0.9 0.8z"/>
<path class="o" d="M249 643l7.2-2.7l-6.6-5.9l-7.2 2.8z"/>
<path class="c k9" d="M235.1 639.9l7.3-2.7l-6.6-4.8l-7.3 2.8z"/>
<path class="c g" d="M93.9 665.6l7.8-2.7l-5.8 3.8l-7.8 2.8z"/>
<path class="c g" d="M72.4 674.9l7.9-2.6l-5.6 4.9l-7.9 2.8z"/>
<path class="c k7" d="M283.1 661l7.1-2.6l-6.6-8.9l-7.1 2.7z"/>
<path class="k8" d="M188.6 636.1l-1.6-0.3l-7.4 2.8l1 0.2z"/>
<path class="k9" d="M186 640.1l7.5-2.8l-4.9-1.2l-8 2.7z"/>
<path class="o" d="M186 640.1l7.5-2.8l-6.5-1.5l-7.4 2.8z"/>
<path class="c k8" d="M150.7 646.5l7.6-2.7l-6.3 0.6l-7.6 2.8z"/>
<path class="k7" d="M269.4 654.8l7.1-2.6l-1-1.2l-6.3 3.6z"/>
<path class="k8" d="M275.5 651l-5.6-6.6l-7.1 2.7l6.4 7.5z"/>
<path class="o" d="M269.4 654.8l7.1-2.6l-6.6-7.8l-7.1 2.7z"/>
<path class="c k9" d="M200 639.8l7.4-2.7l-6.5-2.6l-7.4 2.8z"/>
<path class="k7" d="M133.9 650.8l-3.2 0.9l-7.6 2.8l2.8-0.8z"/>
<path class="k8" d="M129.1 652.7l7.7-2.7l-2.9 0.8l-8 2.9z"/>
<path class="o" d="M129.1 652.7l7.7-2.7l-6.1 1.7l-7.6 2.8z"/>
<path class="c k8" d="M255.6 649.7l7.2-2.6l-6.6-6.8l-7.2 2.7z"/>
<path class="c k9" d="M213.9 640.7l7.4-2.7l-6.6-3.7l-7.3 2.8z"/>
<path class="k8" d="M171.2 641.7l0.9-0.3l-6.3-0.4l-7.5 2.8l5.6 0.2z"/>
<path class="k9" d="M164.6 644.1l6.6-2.4l-7.3 2.3z"/>
<path class="o" d="M164.6 644.1l7.5-2.7l-6.3-0.4l-7.5 2.8z"/>
<path class="k8" d="M241.8 645.6l7.2-2.6l-5.7-5l-6.1 3.7z"/>
<path class="k9" d="M243.3 638l-0.9-0.8l-7.3 2.7l2.1 1.8z"/>
<path class="o" d="M241.8 645.6l7.2-2.6l-6.6-5.8l-7.3 2.7z"/>
<path class="c g" d="M107.6 659.9l7.8-2.6l-6 2.8l-7.7 2.8z"/>
<path class="c k9" d="M227.8 642.6l7.3-2.7l-6.6-4.7l-7.2 2.8z"/>
<path class="c g" d="M86 668.2l7.9-2.6l-5.8 3.9l-7.8 2.8z"/>
<path class="c k7" d="M276 663.5l7.1-2.5l-6.6-8.8l-7.1 2.6z"/>
<path class="k8" d="M180.6 638.8l-1-0.2l-7.5 2.8l0.2 0z"/>
<path class="k9" d="M178.5 642.7l7.5-2.6l-5.4-1.3l-8.3 2.6z"/>
<path class="o" d="M178.5 642.7l7.5-2.6l-6.4-1.5l-7.5 2.8z"/>
<path class="c k8" d="M143 649.1l7.7-2.6l-6.3 0.7l-7.6 2.8z"/>
<path class="k7" d="M268 655.3l1.4-0.5l-0.2-0.2z"/>
<path class="k8" d="M262.3 657.3l5.7-2l1.2-0.7l-6.4-7.5l-7.2 2.6z"/>
<path class="o" d="M262.3 657.3l7.1-2.5l-6.6-7.7l-7.2 2.6z"/>
<path class="c k9" d="M192.5 642.4l7.5-2.6l-6.5-2.5l-7.5 2.8z"/>
<path class="k7" d="M125.9 653.7l-2.8 0.8l-7.7 2.8l2.3-0.8z"/>
<path class="k8" d="M121.4 655.3l7.7-2.6l-3.2 1l-8.2 2.8z"/>
<path class="o" d="M121.4 655.3l7.7-2.6l-6 1.8l-7.7 2.8z"/>
<path class="c k8" d="M248.4 652.2l7.2-2.5l-6.6-6.7l-7.2 2.6z"/>
<path class="c k9" d="M206.5 643.3l7.4-2.6l-6.5-3.6l-7.4 2.7z"/>
<path class="k8" d="M163.9 644l-5.6-0.2l-7.6 2.7l4.8 0.1z"/>
<path class="k9" d="M157 646.7l7.6-2.6l-0.7-0.1l-8.4 2.6z"/>
<path class="o" d="M157 646.7l7.6-2.6l-6.3-0.3l-7.6 2.7z"/>
<path class="k8" d="M234.5 648.1l7.3-2.5l-4.6-3.9l-5.7 4z"/>
<path class="k9" d="M237.2 641.7l-2.1-1.8l-7.3 2.7l3.7 3.1z"/>
<path class="o" d="M234.5 648.1l7.3-2.5l-6.7-5.7l-7.3 2.7z"/>
<path class="c g" d="M99.7 662.5l7.9-2.6l-5.9 3l-7.8 2.7z"/>
<path class="c k9" d="M220.5 645.1l7.3-2.5l-6.5-4.6l-7.4 2.7z"/>
<path class="c g" d="M78 670.7l8-2.5l-5.7 4.1l-7.9 2.6z"/>
<path class="k7" d="M268.9 665.9l7.1-2.4l-6.6-8.7l-1.4 0.5l-5.1 2.9z"/>
<path class="k8" d="M268 655.3l-5.7 2l0.6 0.9z"/>
<path class="o" d="M268.9 665.9l7.1-2.4l-6.6-8.7l-7.1 2.5z"/>
<path class="k8" d="M172.3 641.4l-0.2 0l-0.9 0.3z"/>
<path class="k9" d="M171 645.3l7.5-2.6l-6.2-1.3l-1.1 0.3l-6.6 2.4z"/>
<path class="o" d="M171 645.3l7.5-2.6l-6.4-1.3l-7.5 2.7z"/>
<path class="c k8" d="M135.3 651.7l7.7-2.6l-6.2 0.9l-7.7 2.7z"/>
<path class="c k8" d="M255 659.7l7.3-2.4l-6.7-7.6l-7.2 2.5z"/>
<path class="c k9" d="M185 645l7.5-2.6l-6.5-2.3l-7.5 2.6z"/>
<path class="c g" d="M113.6 657.8l7.8-2.5l-6 2l-7.8 2.6z"/>
<path class="c k8" d="M241.1 654.6l7.3-2.4l-6.6-6.6l-7.3 2.5z"/>
<path class="c k9" d="M199.1 645.8l7.4-2.5l-6.5-3.5l-7.5 2.6z"/>
<path class="k8" d="M155.5 646.6l-4.8-0.1l-7.7 2.6l3.8 0.1z"/>
<path class="k9" d="M149.3 649.2l7.7-2.5l-1.5-0.1l-8.7 2.6z"/>
<path class="o" d="M149.3 649.2l7.7-2.5l-6.3-0.2l-7.7 2.6z"/>
<path class="k8" d="M227.1 650.6l7.4-2.5l-3-2.4l-5 4.4z"/>
<path class="k9" d="M231.5 645.7l-3.7-3.1l-7.3 2.5l6 5z"/>
<path class="o" d="M227.1 650.6l7.4-2.5l-6.7-5.5l-7.3 2.5z"/>
<path class="c g" d="M91.8 664.9l7.9-2.4l-5.8 3.1l-7.9 2.6z"/>
<path class="c k9" d="M213.1 647.6l7.4-2.5l-6.6-4.4l-7.4 2.6z"/>
<path class="k7" d="M261.7 668.2l7.2-2.3l-6-7.7l-6.1 3.7z"/>
<path class="k8" d="M262.9 658.2l-0.6-0.9l-7.3 2.4l1.8 2.2z"/>
<path class="o" d="M261.7 668.2l7.2-2.3l-6.6-8.6l-7.3 2.4z"/>
<path class="c k9" d="M163.3 647.8l7.7-2.5l-6.4-1.2l-7.6 2.6z"/>
<path class="c k8" d="M127.5 654.2l7.8-2.5l-6.2 1l-7.7 2.6z"/>
<path class="c k8" d="M247.8 662l7.2-2.3l-6.6-7.5l-7.3 2.4z"/>
<path class="c k9" d="M177.4 647.4l7.6-2.4l-6.5-2.3l-7.5 2.6z"/>
<path class="c g" d="M105.7 660.2l7.9-2.4l-6 2.1l-7.9 2.6z"/>
<path class="c k8" d="M233.8 657l7.3-2.4l-6.6-6.5l-7.4 2.5z"/>
<path class="c k9" d="M191.5 648.2l7.6-2.4l-6.6-3.4l-7.5 2.6z"/>
<path class="k8" d="M146.8 649.2l-3.8-0.1l-7.7 2.6l2.8 0z"/>
<path class="k9" d="M141.6 651.6l7.7-2.4l-2.5 0l-8.7 2.5z"/>
<path class="o" d="M141.6 651.6l7.7-2.4l-6.3-0.1l-7.7 2.6z"/>
<path class="k8" d="M225.6 651.1l1.5-0.5l-0.6-0.5z"/>
<path class="k9" d="M219.7 652.9l5.9-1.8l0.9-1l-6-5l-7.4 2.5z"/>
<path class="o" d="M219.7 652.9l7.4-2.3l-6.6-5.5l-7.4 2.5z"/>
<path class="c k9" d="M205.6 650l7.5-2.4l-6.6-4.3l-7.4 2.5z"/>
<path class="c g" d="M83.8 667.3l8-2.4l-5.8 3.3l-8 2.5z"/>
<path class="k7" d="M254.4 670.4l7.3-2.2l-4.9-6.3l-6 3.9z"/>
<path class="k8" d="M256.8 661.9l-1.8-2.2l-7.2 2.3l3 3.8z"/>
<path class="o" d="M254.4 670.4l7.3-2.2l-6.7-8.5l-7.2 2.3z"/>
<path class="c k9" d="M155.7 650.2l7.6-2.4l-6.3-1.1l-7.7 2.5z"/>
<path class="c k8" d="M119.7 656.6l7.8-2.4l-6.1 1.1l-7.8 2.5z"/>
<path class="c k8" d="M240.4 664.3l7.4-2.3l-6.7-7.4l-7.3 2.4z"/>
<path class="c k9" d="M169.8 649.8l7.6-2.4l-6.4-2.1l-7.7 2.5z"/>
<path class="c g" d="M97.8 662.6l7.9-2.4l-6 2.3l-7.9 2.4z"/>
<path class="k8" d="M226.4 659.2l7.4-2.2l-6.7-6.4l-1.5 0.5l-4.3 3.4z"/>
<path class="k9" d="M225.6 651.1l-5.9 1.8l1.6 1.6z"/>
<path class="o" d="M226.4 659.2l7.4-2.2l-6.7-6.4l-7.4 2.3z"/>
<path class="c k9" d="M184 650.5l7.5-2.3l-6.5-3.2l-7.6 2.4z"/>
<path class="k8" d="M138.1 651.7l-2.8 0l-7.8 2.5l1.6-0.1z"/>
<path class="k9" d="M133.8 654l7.8-2.4l-3.5 0.1l-9 2.4z"/>
<path class="o" d="M133.8 654l7.8-2.4l-6.3 0.1l-7.8 2.5z"/>
<path class="c k9" d="M212.3 655.2l7.4-2.3l-6.6-5.3l-7.5 2.4z"/>
<path class="c k9" d="M198.1 652.3l7.5-2.3l-6.5-4.2l-7.6 2.4z"/>
<path class="c k9" d="M147.9 652.5l7.8-2.3l-6.4-1l-7.7 2.4z"/>
<path class="k7" d="M247.1 672.6l7.3-2.2l-3.6-4.6l-5.8 4.1z"/>
<path class="k8" d="M250.8 665.8l-3-3.8l-7.4 2.3l4.6 5.6z"/>
<path class="o" d="M247.1 672.6l7.3-2.2l-6.6-8.4l-7.4 2.3z"/>
<path class="k8" d="M117.7 657.1l2-0.5l-6.1 1.2l-7.9 2.4l5.3-1.2z"/>
<path class="k9" d="M111.8 658.9l5.9-1.8l-6.7 1.9z"/>
<path class="o" d="M111.8 658.9l7.9-2.3l-6.1 1.2l-7.9 2.4z"/>
<path class="c k9" d="M162.1 652.1l7.7-2.3l-6.5-2l-7.6 2.4z"/>
<path class="c k8" d="M233.1 666.4l7.3-2.1l-6.6-7.3l-7.4 2.2z"/>
<path class="c g" d="M89.7 664.8l8.1-2.2l-6 2.3l-8 2.4z"/>
<path class="c k9" d="M176.3 652.8l7.7-2.3l-6.6-3.1l-7.6 2.4z"/>
<path class="k8" d="M218.9 661.4l7.5-2.2l-5.1-4.7l-4.8 4.6z"/>
<path class="k9" d="M221.3 654.5l-1.6-1.6l-7.4 2.3l4.2 3.9z"/>
<path class="o" d="M218.9 661.4l7.5-2.2l-6.7-6.3l-7.4 2.3z"/>
<path class="k8" d="M129.1 654.1l-1.6 0.1l-7.8 2.4l0.3-0.1z"/>
<path class="k9" d="M125.9 656.2l7.9-2.2l-4.7 0.1l-9.1 2.4z"/>
<path class="o" d="M125.9 656.2l7.9-2.2l-6.3 0.2l-7.8 2.4z"/>
<path class="c k9" d="M190.5 654.5l7.6-2.2l-6.6-4.1l-7.5 2.3z"/>
<path class="c k9" d="M204.7 657.4l7.6-2.2l-6.7-5.2l-7.5 2.3z"/>
<path class="c k9" d="M140.1 654.7l7.8-2.2l-6.3-0.9l-7.8 2.4z"/>
<path class="k7" d="M239.8 674.6l7.3-2l-2.1-2.7l-5.6 4.3z"/>
<path class="k8" d="M245 669.9l-4.6-5.6l-7.3 2.1l6.3 7.8z"/>
<path class="o" d="M239.8 674.6l7.3-2l-6.7-8.3l-7.3 2.1z"/>
<path class="k8" d="M111 659l-5.3 1.2l-7.9 2.4l4.1-1.1z"/>
<path class="k9" d="M103.8 661.1l8-2.2l-0.8 0.1l-9.1 2.5z"/>
<path class="o" d="M103.8 661.1l8-2.2l-6.1 1.3l-7.9 2.4z"/>
<path class="c k9" d="M154.3 654.3l7.8-2.2l-6.4-1.9l-7.8 2.3z"/>
<path class="c k8" d="M225.6 668.5l7.5-2.1l-6.7-7.2l-7.5 2.2z"/>
<path class="c k9" d="M168.6 654.9l7.7-2.1l-6.5-3l-7.7 2.3z"/>
<path class="k8" d="M213.1 663l5.8-1.6l-2.4-2.3z"/>
<path class="k9" d="M211.4 663.5l1.7-0.5l3.4-3.9l-4.2-3.9l-7.6 2.2z"/>
<path class="o" d="M211.4 663.5l7.5-2.1l-6.6-6.2l-7.6 2.2z"/>
<path class="k8" d="M120 656.5l-0.3 0.1l-2 0.5z"/>
<path class="k9" d="M118 658.4l7.9-2.2l-5.9 0.3l-2.3 0.6l-5.9 1.8z"/>
<path class="o" d="M118 658.4l7.9-2.2l-6.2 0.4l-7.9 2.3z"/>
<path class="c k9" d="M182.9 656.7l7.6-2.2l-6.5-4l-7.7 2.3z"/>
<path class="c k9" d="M197.2 659.5l7.5-2.1l-6.6-5.1l-7.6 2.2z"/>
<path class="c k9" d="M132.2 656.8l7.9-2.1l-6.3-0.7l-7.9 2.2z"/>
<path class="k8" d="M101.9 661.5l-4.1 1.1l-8.1 2.2l3-0.8z"/>
<path class="k9" d="M95.8 663.2l8-2.1l-1.9 0.4l-9.2 2.5z"/>
<path class="o" d="M95.8 663.2l8-2.1l-6 1.5l-8.1 2.2z"/>
<path class="k7" d="M238.5 675l1.3-0.4l-0.4-0.4z"/>
<path class="k8" d="M232.3 676.6l6.2-1.6l0.9-0.8l-6.3-7.8l-7.5 2.1z"/>
<path class="o" d="M232.3 676.6l7.5-2l-6.7-8.2l-7.5 2.1z"/>
<path class="c k9" d="M146.5 656.4l7.8-2.1l-6.4-1.8l-7.8 2.2z"/>
<path class="k8" d="M218.1 670.5l7.5-2l-6.7-7.1l-5.8 1.6l-1.2 1z"/>
<path class="k9" d="M213.1 663l-1.7 0.5l0.5 0.5z"/>
<path class="o" d="M218.1 670.5l7.5-2l-6.7-7.1l-7.5 2.1z"/>
<path class="c k9" d="M160.8 657l7.8-2.1l-6.5-2.8l-7.8 2.2z"/>
<path class="c k9" d="M203.8 665.5l7.6-2l-6.7-6.1l-7.5 2.1z"/>
<path class="c k9" d="M110 660.5l8-2.1l-6.2 0.5l-8 2.2z"/>
<path class="c k9" d="M175.2 658.7l7.7-2l-6.6-3.9l-7.7 2.1z"/>
<path class="c k9" d="M189.5 661.5l7.7-2l-6.7-5l-7.6 2.2z"/>
<path class="c k9" d="M124.2 658.9l8-2.1l-6.3-0.6l-7.9 2.2z"/>
<path class="c k8" d="M224.8 678.5l7.5-1.9l-6.7-8.1l-7.5 2z"/>
<path class="c k9" d="M138.6 658.4l7.9-2l-6.4-1.7l-7.9 2.1z"/>
<path class="k8" d="M210.5 672.4l7.6-1.9l-6.2-6.5l-4.7 4.9z"/>
<path class="k9" d="M211.9 664l-0.5-0.5l-7.6 2l3.4 3.4z"/>
<path class="o" d="M210.5 672.4l7.6-1.9l-6.7-7l-7.6 2z"/>
<path class="c k9" d="M153 659l7.8-2l-6.5-2.7l-7.8 2.1z"/>
<path class="c k9" d="M196.2 667.4l7.6-1.9l-6.6-6l-7.7 2z"/>
<path class="c k9" d="M101.9 662.5l8.1-2l-6.2 0.6l-8 2.1z"/>
<path class="c k9" d="M167.4 660.7l7.8-2l-6.6-3.8l-7.8 2.1z"/>
<path class="c k9" d="M181.8 663.5l7.7-2l-6.6-4.8l-7.7 2z"/>
<path class="k9" d="M116.6 660.7l7.6-1.8l-6.2-0.5l-8 2.1l6.1 0.3z"/>
<path class="k10" d="M116.2 660.8l0.4-0.1l-0.5 0.1z"/>
<path class="o" d="M116.2 660.8l8-1.9l-6.2-0.5l-8 2.1z"/>
<path class="c k8" d="M217.3 680.3l7.5-1.8l-6.7-8l-7.6 1.9z"/>
<path class="k9" d="M137.9 658.5l0.7-0.1l-6.4-1.6l-8 2.1l3.3 0.7z"/>
<path class="k10" d="M130.6 660.3l7.3-1.8l-10.4 1.1z"/>
<path class="o" d="M130.6 660.3l8-1.9l-6.4-1.6l-8 2.1z"/>
<path class="k8" d="M202.9 674.2l7.6-1.8l-3.3-3.5l-4.4 5.2z"/>
<path class="k9" d="M207.2 668.9l-3.4-3.4l-7.6 1.9l6.6 6.7z"/>
<path class="o" d="M202.9 674.2l7.6-1.8l-6.7-6.9l-7.6 1.9z"/>
<path class="k9" d="M152.4 659.1l0.6-0.1l-6.5-2.6l-7.9 2l0.5 0.2z"/>
<path class="k10" d="M145.1 660.8l7.3-1.7l-13.3-0.5z"/>
<path class="o" d="M145.1 660.8l7.9-1.8l-6.5-2.6l-7.9 2z"/>
<path class="c k9" d="M188.5 669.2l7.7-1.8l-6.7-5.9l-7.7 2z"/>
<path class="k9" d="M160.7 662.2l6.7-1.5l-6.6-3.7l-7.8 2l2.2 1.2z"/>
<path class="k10" d="M159.5 662.5l1.2-0.3l-5.5-2z"/>
<path class="o" d="M159.5 662.5l7.9-1.8l-6.6-3.7l-7.8 2z"/>
<path class="c k9" d="M174 665.3l7.8-1.8l-6.6-4.8l-7.8 2z"/>
<path class="k9" d="M116.1 660.8l-6.1-0.3l-8.1 2l3.7 0.1z"/>
<path class="k10" d="M108.1 662.7l8.1-1.9l-0.1 0l-10.5 1.8z"/>
<path class="o" d="M108.1 662.7l8.1-1.9l-6.2-0.3l-8.1 2z"/>
<path class="c k8" d="M209.6 682l7.7-1.7l-6.8-7.9l-7.6 1.8z"/>
<path class="k9" d="M127.5 659.6l-3.3-0.7l-7.6 1.8z"/>
<path class="k10" d="M122.6 662.1l8-1.8l-3.1-0.7l-10.9 1.1l-0.4 0.1z"/>
<path class="o" d="M122.6 662.1l8-1.8l-6.4-1.4l-8 1.9z"/>
<path class="k8" d="M202.8 674.2l0.1 0l-0.1-0.1z"/>
<path class="k9" d="M195.2 675.9l7.6-1.7l0-0.1l-6.6-6.7l-7.7 1.8z"/>
<path class="o" d="M195.2 675.9l7.7-1.7l-6.7-6.8l-7.7 1.8z"/>
<path class="k9" d="M139.1 658.6l-0.5-0.2l-0.7 0.1z"/>
<path class="k10" d="M137.1 662.6l8-1.8l-6-2.2l-1.2-0.1l-7.3 1.8z"/>
<path class="o" d="M137.1 662.6l8-1.8l-6.5-2.4l-8 1.9z"/>
<path class="c k9" d="M180.7 670.9l7.8-1.7l-6.7-5.7l-7.8 1.8z"/>
<path class="k9" d="M155.2 660.2l-2.2-1.2l-0.6 0.1z"/>
<path class="k10" d="M151.6 664.3l7.9-1.8l-4.3-2.3l-2.8-1.1l-7.3 1.7z"/>
<path class="o" d="M151.6 664.3l7.9-1.8l-6.5-3.5l-7.9 1.8z"/>
<path class="k9" d="M166.1 667l7.9-1.7l-6.6-4.6l-6.7 1.5l1 1.8z"/>
<path class="k10" d="M160.7 662.2l-1.2 0.3l2.2 1.5z"/>
<path class="o" d="M166.1 667l7.9-1.7l-6.6-4.6l-7.9 1.8z"/>
<path class="k8" d="M201.9 683.6l7.7-1.6l-6.7-7.8l-0.1 0l-4.7 5z"/>
<path class="k9" d="M202.8 674.2l-7.6 1.7l2.9 3.3z"/>
<path class="o" d="M201.9 683.6l7.7-1.6l-6.7-7.8l-7.7 1.7z"/>
<path class="c k10" d="M114.4 663.8l8.2-1.7l-6.4-1.3l-8.1 1.9z"/>
<path class="c k9" d="M187.4 677.5l7.8-1.6l-6.7-6.7l-7.8 1.7z"/>
<path class="c k10" d="M129 664.3l8.1-1.7l-6.5-2.3l-8 1.8z"/>
<path class="c k9" d="M172.8 672.5l7.9-1.6l-6.7-5.6l-7.9 1.7z"/>
<path class="c k10" d="M143.6 665.9l8-1.6l-6.5-3.5l-8 1.8z"/>
<path class="k9" d="M164.2 667.4l1.9-0.4l-4.4-3z"/>
<path class="k10" d="M158.2 668.7l6-1.3l-2.5-3.4l-2.2-1.5l-7.9 1.8z"/>
<path class="o" d="M158.2 668.7l7.9-1.7l-6.6-4.5l-7.9 1.8z"/>
<path class="k8" d="M194.1 685.1l7.8-1.5l-3.8-4.4l-4.4 5.4z"/>
<path class="k9" d="M198.1 679.2l-2.9-3.3l-7.8 1.6l6.3 7.1z"/>
<path class="o" d="M194.1 685.1l7.8-1.5l-6.7-7.7l-7.8 1.6z"/>
<path class="c k9" d="M179.5 679l7.9-1.5l-6.7-6.6l-7.9 1.6z"/>
<path class="c k10" d="M120.9 665.9l8.1-1.6l-6.4-2.2l-8.2 1.7z"/>
<path class="k9" d="M164.9 674.1l7.9-1.6l-6.7-5.5l-1.9 0.4l-0.1 6.1z"/>
<path class="k10" d="M164.2 667.4l-6 1.3l5.9 4.8z"/>
<path class="o" d="M164.9 674.1l7.9-1.6l-6.7-5.5l-7.9 1.7z"/>
<path class="c k10" d="M135.5 667.5l8.1-1.6l-6.5-3.3l-8.1 1.7z"/>
<path class="c k10" d="M150.2 670.2l8-1.5l-6.6-4.4l-8 1.6z"/>
<path class="k8" d="M193.3 685.2l0.8-0.1l-0.4-0.5z"/>
<path class="k9" d="M186.3 686.5l7-1.3l0.4-0.6l-6.3-7.1l-7.9 1.5z"/>
<path class="o" d="M186.3 686.5l7.8-1.4l-6.7-7.6l-7.9 1.5z"/>
<path class="c k9" d="M171.6 680.5l7.9-1.5l-6.7-6.5l-7.9 1.6z"/>
<path class="k9" d="M164.2 674.2l0.7-0.1l-0.8-0.6z"/>
<path class="k10" d="M156.9 675.5l7.3-1.3l-0.1-0.7l-5.9-4.8l-8 1.5z"/>
<path class="o" d="M156.9 675.5l8-1.4l-6.7-5.4l-8 1.5z"/>
<path class="c k10" d="M127.4 669l8.1-1.5l-6.5-3.2l-8.1 1.6z"/>
<path class="c k10" d="M142.1 671.7l8.1-1.5l-6.6-4.3l-8.1 1.6z"/>
<path class="c k9" d="M178.4 687.8l7.9-1.3l-6.8-7.5l-7.9 1.5z"/>
<path class="k9" d="M163.6 681.8l8-1.3l-6.7-6.4l-0.7 0.1l-1.9 6.3z"/>
<path class="k10" d="M164.2 674.2l-7.3 1.3l5.4 5z"/>
<path class="o" d="M163.6 681.8l8-1.3l-6.7-6.4l-8 1.4z"/>
<path class="c k10" d="M148.8 676.9l8.1-1.4l-6.7-5.3l-8.1 1.5z"/>
<path class="c k10" d="M133.9 673.1l8.2-1.4l-6.6-4.2l-8.1 1.5z"/>
<path class="c k9" d="M170.4 689l8-1.2l-6.8-7.3l-8 1.3z"/>
<path class="k9" d="M162 682l1.6-0.2l-1.3-1.3z"/>
<path class="k10" d="M155.5 683l6.5-1l0.3-1.5l-5.4-5l-8.1 1.4z"/>
<path class="o" d="M155.5 683l8.1-1.2l-6.7-6.3l-8.1 1.4z"/>
<path class="c k10" d="M140.6 678.1l8.2-1.2l-6.7-5.2l-8.2 1.4z"/>
<path class="k9" d="M162.3 690.2l8.1-1.2l-6.8-7.2l-1.6 0.2l-2.6 5.2z"/>
<path class="k10" d="M162 682l-6.5 1l3.9 4.2z"/>
<path class="o" d="M162.3 690.2l8.1-1.2l-6.8-7.2l-8.1 1.2z"/>
<path class="c k10" d="M147.3 684.1l8.2-1.1l-6.7-6.1l-8.2 1.2z"/>
<path class="k9" d="M158.1 690.7l4.2-0.5l-2.9-3z"/>
<path class="k10" d="M154.1 691.2l4-0.5l1.3-3.5l-3.9-4.2l-8.2 1.1z"/>
<path class="o" d="M154.1 691.2l8.2-1l-6.8-7.2l-8.2 1.1z"/>
<text transform="matrix(0.930 -0.370 0.050 1.000 42 745.4)" font-size="9.9" text-anchor="end" font-weight="bold" fill="#000">86</text>
<text transform="matrix(0.930 -0.370 0.050 1.000 41.2 728.3)" font-size="9.9" text-anchor="end" font-weight="bold" fill="#000">88</text>
<text transform="matrix(0.930 -0.370 0.050 1.000 40.3 711)" font-size="9.9" text-anchor="end" font-weight="bold" fill="#000">90</text>
<text transform="matrix(0.930 -0.370 0.050 1.000 39.4 693.4)" font-size="9.9" text-anchor="end" font-weight="bold" fill="#000">92</text>
<text transform="matrix(0.930 -0.370 0.050 1.000 38.5 675.6)" font-size="9.9" text-anchor="end" font-weight="bold" fill="#000">94</text>
<text transform="matrix(0.930 -0.370 0.050 1.000 37.6 657.5)" font-size="9.9" text-anchor="end" font-weight="bold" fill="#000">96</text>
<text transform="matrix(0.930 -0.370 0.050 1.000 36.7 639.2)" font-size="9.9" text-anchor="end" font-weight="bold" fill="#000">98</text>
<text transform="matrix(0.930 -0.370 0.050 1.000 35.8 620.5)" font-size="9.9" text-anchor="end" font-weight="bold" fill="#000">100</text>
<text transform="matrix(0.818 0.575 -0.765 0.365 156.1 835.5)" font-size="9.9" text-anchor="start" font-weight="bold" fill="#000">4.5</text>
<text transform="matrix(0.818 0.575 -0.765 0.365 169.9 828.6)" font-size="9.9" text-anchor="start" font-weight="bold" fill="#000">5.0</text>
<text transform="matrix(0.818 0.575 -0.765 0.365 183.5 821.8)" font-size="9.9" text-anchor="start" font-weight="bold" fill="#000">5.5</text>
<text transform="matrix(0.818 0.575 -0.765 0.365 196.9 815.1)" font-size="9.9" text-anchor="start" font-weight="bold" fill="#000">6.0</text>
<text transform="matrix(0.818 0.575 -0.765 0.365 210.1 808.5)" font-size="9.9" text-anchor="start" font-weight="bold" fill="#000">6.5</text>
<text transform="matrix(0.818 0.575 -0.765 0.365 223.2 802)" font-size="9.9" text-anchor="start" font-weight="bold" fill="#000">7.0</text>
<text transform="matrix(0.818 0.575 -0.765 0.365 236.1 795.6)" font-size="9.9" text-anchor="start" font-weight="bold" fill="#000">7.5</text>
<text transform="matrix(0.818 0.575 -0.765 0.365 248.8 789.2)" font-size="9.9" text-anchor="start" font-weight="bold" fill="#000">8.0</text>
<text transform="matrix(0.818 0.575 -0.765 0.365 261.3 783)" font-size="9.9" text-anchor="start" font-weight="bold" fill="#000">8.5</text>
<text transform="matrix(0.818 0.575 -0.765 0.365 273.7 776.8)" font-size="9.9" text-anchor="start" font-weight="bold" fill="#000">9.0</text>
<text transform="matrix(0.818 0.575 -0.765 0.365 285.9 770.7)" font-size="9.9" text-anchor="start" font-weight="bold" fill="#000">9.5</text>
<text transform="matrix(0.900 -0.430 0.695 0.489 151.4 836)" font-size="9.9" text-anchor="end" font-weight="bold" fill="#000">1.5</text>
<text transform="matrix(0.900 -0.430 0.695 0.489 140 827.8)" font-size="9.9" text-anchor="end" font-weight="bold" fill="#000">2.0</text>
<text transform="matrix(0.900 -0.430 0.695 0.489 128.7 819.8)" font-size="9.9" text-anchor="end" font-weight="bold" fill="#000">2.5</text>
<text transform="matrix(0.900 -0.430 0.695 0.489 117.7 811.9)" font-size="9.9" text-anchor="end" font-weight="bold" fill="#000">3.0</text>
<text transform="matrix(0.900 -0.430 0.695 0.489 106.8 804.1)" font-size="9.9" text-anchor="end" font-weight="bold" fill="#000">3.5</text>
<text transform="matrix(0.900 -0.430 0.695 0.489 96.1 796.5)" font-size="9.9" text-anchor="end" font-weight="bold" fill="#000">4.0</text>
<text transform="matrix(0.900 -0.430 0.695 0.489 85.5 789)" font-size="9.9" text-anchor="end" font-weight="bold" fill="#000">4.5</text>
<text transform="matrix(0.900 -0.430 0.695 0.489 75.2 781.6)" font-size="9.9" text-anchor="end" font-weight="bold" fill="#000">5.0</text>
<text transform="matrix(0.900 -0.430 0.695 0.489 64.9 774.3)" font-size="9.9" text-anchor="end" font-weight="bold" fill="#000">5.5</text>
<text transform="matrix(0.900 -0.430 0.695 0.489 54.9 767.1)" font-size="9.9" text-anchor="end" font-weight="bold" fill="#000">6.0</text>
<text transform="matrix(0.900 -0.430 0.695 0.489 45 760)" font-size="9.9" text-anchor="end" font-weight="bold" fill="#000">6.5</text>
<text transform="matrix(0.818 0.575 -0.900 0.430 68 804)" font-size="11.6" text-anchor="middle" font-weight="bold" fill="#000">Biomass (g/L)</text>
<text transform="matrix(0.900 -0.430 0.736 0.517 251.5 817.5)" font-size="12.5" text-anchor="middle" font-weight="bold" fill="#000">pH</text>
<text transform="matrix(0.050 1.000 -0.940 0.340 6 700)" font-size="11" text-anchor="middle" font-weight="bold" fill="#000">Cadmium removal (%)</text>
<path d="M109 643.1L109 658.7M121.7 647.7L121.9 676M165.2 621.2L165.2 641M174 605.5L174 617M218.5 602.2L218.5 612M266 626.3L264.5 668" stroke="#7d7dff" stroke-width="0.6" stroke-dasharray="1.6 1" fill="none"/>
<circle cx="165.2" cy="639" r="3.1" fill="#ff2a2a" fill-opacity="0.8"/>
<circle cx="212.4" cy="647.7" r="3.1" fill="#ff2a2a" fill-opacity="0.8"/>
<circle cx="65.8" cy="626.7" r="3.1" fill="#ff0000"/>
<circle cx="71.3" cy="753.7" r="3.1" fill="#ff0000"/>
<circle cx="109" cy="643.1" r="3.1" fill="#ff0000"/>
<circle cx="121.7" cy="647.7" r="3.1" fill="#ff0000"/>
<circle cx="165.2" cy="621.2" r="3.1" fill="#ff0000"/>
<circle cx="165.2" cy="704.7" r="3.1" fill="#ff0000"/>
<circle cx="174" cy="605.5" r="3.1" fill="#ff0000"/>
<circle cx="218.5" cy="602.2" r="3.1" fill="#ff0000"/>
<circle cx="266" cy="626.3" r="3.1" fill="#ff0000"/>
<circle cx="263.9" cy="681.5" r="3.1" fill="#ff0000"/>
<rect x="298.1" y="637.5" width="13" height="7.6" fill="#6e0000" stroke="#555" stroke-width="0.8"/>
<text transform="translate(314.5 644.2) scale(1.1 1)" font-size="8.7" text-anchor="start" fill="#000" font-weight="bold" >&gt; 99</text>
<rect x="298.1" y="647.5" width="13" height="7.6" fill="#c80000" stroke="#555" stroke-width="0.8"/>
<text transform="translate(314.5 654.2) scale(1.1 1)" font-size="8.7" text-anchor="start" fill="#000" font-weight="bold" >&lt; 99</text>
<rect x="298.1" y="657.6" width="13" height="7.6" fill="#ff0000" stroke="#555" stroke-width="0.8"/>
<text transform="translate(314.5 664.3) scale(1.1 1)" font-size="8.7" text-anchor="start" fill="#000" font-weight="bold" >&lt; 98</text>
<rect x="298.1" y="667.6" width="13" height="7.6" fill="#ff6e00" stroke="#555" stroke-width="0.8"/>
<text transform="translate(314.5 674.3) scale(1.1 1)" font-size="8.7" text-anchor="start" fill="#000" font-weight="bold" >&lt; 97</text>
<rect x="298.1" y="677.7" width="13" height="7.6" fill="#ffc800" stroke="#555" stroke-width="0.8"/>
<text transform="translate(314.5 684.4) scale(1.1 1)" font-size="8.7" text-anchor="start" fill="#000" font-weight="bold" >&lt; 96</text>
<rect x="298.1" y="687.7" width="13" height="7.6" fill="#50ff00" stroke="#555" stroke-width="0.8"/>
<text transform="translate(314.5 694.4) scale(1.1 1)" font-size="8.7" text-anchor="start" fill="#000" font-weight="bold" >&lt; 95</text>
<rect x="298.1" y="697.7" width="13" height="7.6" fill="#008c00" stroke="#555" stroke-width="0.8"/>
<text transform="translate(314.5 704.4) scale(1.1 1)" font-size="8.7" text-anchor="start" fill="#000" font-weight="bold" >&lt; 94</text>
<rect x="298.1" y="707.8" width="13" height="7.6" fill="#00d2a0" stroke="#555" stroke-width="0.8"/>
<text transform="translate(314.5 714.5) scale(1.1 1)" font-size="8.7" text-anchor="start" fill="#000" font-weight="bold" >&lt; 93</text>
<rect x="298.1" y="717.8" width="13" height="7.6" fill="#009696" stroke="#555" stroke-width="0.8"/>
<text transform="translate(314.5 724.5) scale(1.1 1)" font-size="8.7" text-anchor="start" fill="#000" font-weight="bold" >&lt; 92</text>
<rect x="298.1" y="727.9" width="13" height="7.6" fill="#0028be" stroke="#555" stroke-width="0.8"/>
<text transform="translate(314.5 734.6) scale(1.1 1)" font-size="8.7" text-anchor="start" fill="#000" font-weight="bold" >&lt; 91</text>
<rect x="298.1" y="737.9" width="13" height="7.6" fill="#000096" stroke="#555" stroke-width="0.8"/>
<text transform="translate(314.5 744.6) scale(1.1 1)" font-size="8.7" text-anchor="start" fill="#000" font-weight="bold" >&lt; 90</text>
<text x="5.5" y="588.2" font-size="19.5" text-anchor="start" fill="#0000ff" font-weight="bold" >(C)</text></svg></body></html>
